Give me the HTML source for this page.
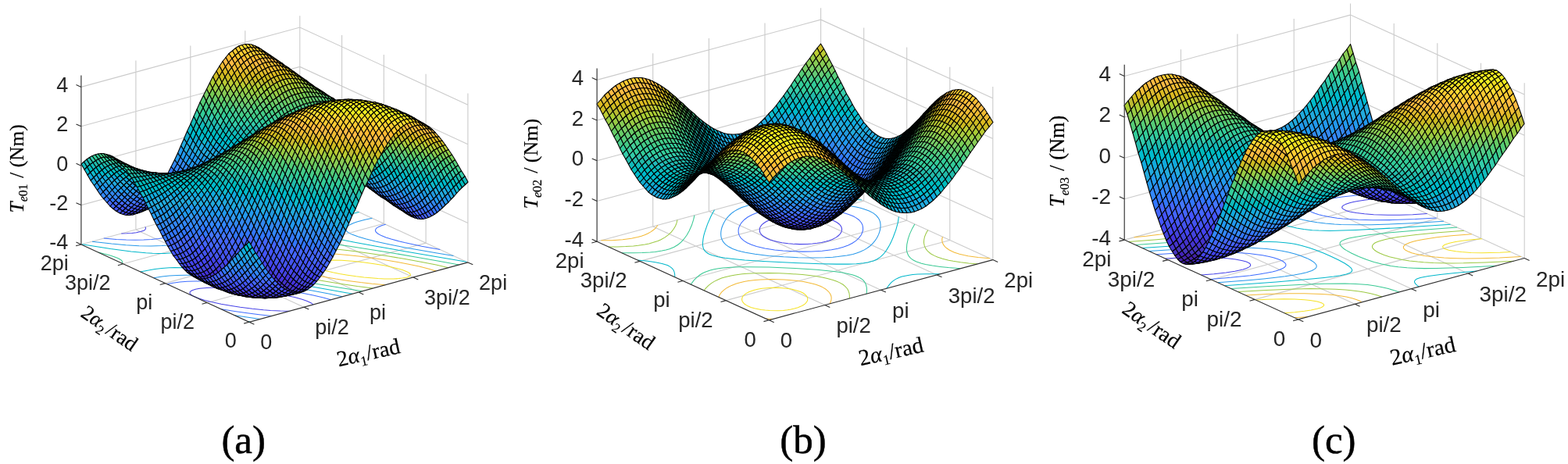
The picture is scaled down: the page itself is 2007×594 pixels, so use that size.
<!DOCTYPE html>
<html lang="en"><head><meta charset="utf-8"><title>Torque surfaces</title>
<style>html,body{margin:0;padding:0;background:#fff;overflow:hidden}svg{display:block}text{white-space:pre}</style>
</head><body>
<svg width="2007" height="594" viewBox="0 0 2007 594">
<rect width="2007" height="594" fill="#fff"/>
<g>
<path d="M389 393.2L173.9 293.9M265.2 387.5L545.1 311.1M458.9 374.1L243.8 274.8M211.4 362.6L491.3 286.2M528.9 355L313.8 255.7M157.7 337.8L437.6 261.4M598.9 335.9L383.8 236.6M103.9 313L383.8 236.6M598.9 335.9L598.9 119.5M173.9 293.9L173.9 77.5M545.1 311.1L545.1 94.7M243.8 274.8L243.8 58.4M491.3 286.2L491.3 69.9M313.8 255.7L313.8 39.3M437.6 261.4L437.6 45M383.8 236.6L383.8 20.2M103.9 262.6L383.8 186.2L598.9 285.5M103.9 212.2L383.8 135.8L598.9 235.1M103.9 161.8L383.8 85.4L598.9 184.7M103.9 111.4L383.8 35L598.9 134.3" fill="none" stroke="#cbcbcb" stroke-width="1.1"/>
<path d="M370.4 398.3l-11.6-0.2l-12.5-0.6l-9-0.7l-14.2-1.5l-15.6-2l-11.2-1.8l-13.2-2.3l-12.7-2.7l-8.2-2.1l-9-2.8l-5.7-2.5l-2.9-1.8l-1-1l-0.5-0.7l-0.1-0.5l0.2-1.4l1.1-1l1.6-1l4.4-1.4l5.3-1l9.2-0.9l6.8-0.2l11.2 0l12.3 0.5l8.7 0.6l13.6 1.3l10.4 1.2l15.6 2.2l11.9 2.1l13.4 2.6l8.4 1.9l9.7 2.7l6.4 2.2l5.2 2.5l2.5 1.9M185.8 290.6l0.7 1.2l0 1.1l-0.9 1.3l-1.6 1l-4.2 1.4l-5.2 1.1l-5.9 0.7l-6.5 0.4l-6.9 0.2" fill="none" stroke="#4743e7" stroke-width="1.05"/>
<path d="M347.9 404.4l-16.2-1.7l-15.3-1.9l-16.1-2.3l-16.9-2.7M563.3 319.4l-23.6-4.2l-21.8-4.6l-7.6-1.9l-9.7-2.6l-6.6-2.1l-5.9-2.4l-4.7-2.6l-2.2-2l-0.6-1.2l-0.2-0.9l0.5-1.5l1-1.2l1.4-1.1l1.8-0.9l4-1.6l4.6-1.3M213.8 363.7l7.7-1.5l8.7-1.2l9.5-0.7l10.3-0.4l11.1 0l12 0.4l12.9 0.8l13.6 1.1l14.5 1.6l20.6 2.7l16.5 2.4l17.4 2.9l18.6 3.4l13.7 2.9l12.9 3l9.7 2.7M208.4 284.5l8.7 2.9l5.7 2.4l3.1 1.8l1.2 0.9l1 1.1l0.7 1.1l0.2 1.3l-0.3 0.9l-0.9 1.3l-1.3 1.1l-3.6 1.8l-4.2 1.5l-7.4 1.7l-8.3 1.3l-9.1 1l-10 0.5l-10.8 0.1l-11.6-0.2l-12.5-0.6l-16.2-1.3" fill="none" stroke="#3f6eff" stroke-width="1.05"/>
<path d="M333.1 408.5l-32.5-4.7M580.5 327.4l-22.7-3.6l-21.5-3.7l-20.2-3.7l-19.5-3.9l-16.1-3.5l-12.6-3.2l-9.3-2.7l-8.2-3l-3.4-1.7l-1.5-1l-1.2-0.9l-1.4-1.8l-0.2-0.4l-0.1-1.4l0.5-1.5l1.5-1.6l2.5-1.7l1.7-0.9l3.8-1.7l4.3-1.5l9.2-2.5l10.3-2.2M196.5 355.7l11.2-1.6l9.1-1l9.8-0.6l10.5-0.3l11.4 0.1l8 0.3l12.9 0.8l13.7 1.2l14.6 1.6l20.5 2.6l38.4 5.8l23.3 3.9l22.3 4l19.8 3.8l16.3 3.4M223.2 280.4l17.9 4.4l11.6 3.4l4.1 1.5l3.7 1.6l3.1 1.8l2.4 2l0.6 1.1l0.3 1.2l-0.4 1.5l-1 1.3l-1.3 1.2l-3.2 1.9l-3.7 1.7l-8.7 2.8l-4.7 1.3l-7.6 1.6l-13.8 2.2l-9 1l-6.4 0.5l-13.8 0.5l-15.3-0.2l-16.8-1l-18.4-1.6l-24.8-2.9" fill="none" stroke="#2798ea" stroke-width="1.05"/>
<path d="M320.1 412l-2.7-0.4M597.3 335.2l-77.8-13.2l-38-6.7l-28.7-5.3l-19.6-3.9l-13.4-3l-12.3-3.2l-6.2-2.2l-3.2-1.8l-1.1-1l-0.4-1.2l0.3-1.4l1.1-1.2l3-2l2.7-1.3l9.2-3.5l13.2-4.2l16.3-4.4l17.2-4.1M179.7 348l10.4-2.1l8.2-1.3l8.7-1.1l9.6-0.7l7-0.2l11.7 0.2l17.9 1.4l25.4 3.2l44.3 6.7l64 10.7l64.4 11.4M236.2 276.9l34.1 6.5l21.5 4.7l7.4 1.9l6.7 2.1l3.7 1.6l1.5 0.9l1.1 1l0.6 1.2l-0.1 1.2l-1 1.3l-1.3 1.1l-3.6 2l-5.6 2.3l-6.3 2.3l-8.8 2.7l-11.5 3.3l-11.8 3.1l-9.9 2.3l-10.2 2.1l-8 1.5l-8.5 1.2l-6 0.6l-9.9 0.6l-7.2 0.1l-7.9-0.2l-8.5-0.5l-19-1.9l-26.2-3.5l-36.5-5.7" fill="none" stroke="#02b7cb" stroke-width="1.05"/>
<path d="M587.4 339l-25.7-4.8l-29.9-5.3l-35.2-6l-28.5-4.5l-22-3.4l-21.1-2.8l-19.8-2.3l-13.8-1.2l-12.6-0.7l-11.5-0.2l-10.4 0.4l-9.5 0.7l-11.7 1.5l-10.8 1.8l-10.2 2.2l-12 3l-11.3 3.3l-8.3 3l-5.5 2.6l-2.9 2l-1.2 1.3l-0.6 1.8l0.3 1.2l0.8 1.1l1.3 1l3.1 1.8l6 2.3l9.3 2.7l12.8 3.1l16.2 3.5l22.5 4.4l28.8 5.3l32 5.6l29.1 4.8l28.7 4.6M156.2 337.2l0.5-1.6l-0.5-1.3l-0.9-1.1l-1.3-1l-3.2-1.7l-3.9-1.6l-6.7-2.1l-14.4-3.7M405.7 246.7l-13.9-3.1l-19.5-3.9M248.7 273.5l37 5.2l24.4 2.7l13.3 1l8.2 0.3l11.3 0.2l10.4-0.4l12.5-1.1l11.3-1.6l13.2-2.5l14.7-3.5l11.4-3.3l10.4-3.8l5.5-2.6l2.7-2l1.1-1.3" fill="none" stroke="#3ac994" stroke-width="1.05"/>
<path d="M574.1 342.7l-15.9-3.6l-19.5-3.9l-20.3-3.7l-22.5-3.7l-22.2-3.4l-21-2.9l-19.8-2.3l-14-1.3l-13.1-0.9l-12.3-0.5l-11.4-0.2l-10.6 0.3l-9.8 0.6l-12.1 1.3l-10.8 1.8l-7.5 1.7l-6.7 2.1l-4 1.6l-2.4 1.2l-2.4 1.7l-1 1.2l-0.5 0.8l-0.2 1.4l0.3 1.2l0.8 1.1l1.9 1.8l1.9 1.1l5.4 2.5l6.3 2.3l9.3 2.7l15.2 3.7l16.2 3.5l19.7 3.9l21.6 3.8l22.9 3.7l21.9 3.3l19.7 2.5M262.1 269.8l15.6 1.8l18.4 1.6l16.8 0.9l15.3 0.2l13.9-0.4l12.5-1.1l5.9-0.7l8.2-1.4l10-2.2l4.5-1.3l4.1-1.6l3.7-1.7l1.5-1l1.8-1.5l0.9-1.6l0.1-1.3l-0.4-1.2l-0.8-1.1l-1.1-1l-2.9-1.9l-3.5-1.7l-3.9-1.5l-11.2-3.5l-12.5-3.2" fill="none" stroke="#9cc944" stroke-width="1.05"/>
<path d="M558.1 347l-9.1-2.8l-12.5-3.1l-13.4-2.9l-14.2-2.8l-17.7-3l-16.5-2.4l-15.5-2l-14.6-1.6l-13.7-1.2l-12.8-0.8l-12-0.4l-11.1 0l-10.2 0.4l-9.4 0.9l-8.3 1.2l-5 1.2l-4.4 1.4l-1.8 0.8l-1.7 1l-1.1 1l-0.8 1.5l0.1 1.3l0.6 1.2l2.2 2l1.9 1.2l2.9 1.4l6 2.3l9.1 2.8l9.9 2.6l13.3 3l14 2.7l17.6 3.1l15.8 2.4l15.8 2.2l14.8 1.7l16.8 1.5M278 265.5l10.2 0.6l12.2 0.5l11.3 0.1l7.1-0.2l9.8-0.5l6.1-0.7l8.3-1.3l4.9-1.1l4.3-1.5l1.8-0.9l1.5-1l1.2-1.2l0.5-1.3l-0.2-1.2l-0.7-1.2l-1-1l-2.8-1.9l-3.4-1.7l-6.1-2.3" fill="none" stroke="#f3ba38" stroke-width="1.05"/>
<path d="M515.3 356.1l6-1.2l2-0.8l1.6-1l0.5-1.1l-0.4-1.2l-0.9-1.1l-3-1.8l-6-2.3l-9.4-2.7l-12.8-2.8l-12.3-2.2l-15.7-2.2l-14.4-1.5l-13.1-0.9l-11.8-0.3l-10.5 0.3l-8.8 1.1l-4.7 1.2l-1.6 1l-0.9 1.3l0.3 1.1l0.8 1.1l1.4 0.9l3.4 1.7l6.2 2.3l7.2 2l7.8 1.8l8.4 1.7l10.4 1.7l10.8 1.6l10 1.2l18.1 1.5l8.2 0.4l11.3 0l6.7-0.3z" fill="none" stroke="#f5e228" stroke-width="1.05"/>
<g transform="scale(0.5)" stroke="#000" stroke-width="2.2" stroke-linejoin="round"><path d="M668 126l8 5l-7-4l-8-6z" fill="#fc3"/><path d="M660 123l8 3l-7-5l-9-4z" fill="#fc3"/><path d="M651 122l9 1l-8-6l-8-3z" fill="#fc3"/><path d="M643 121l8 1l-7-8l-8-1z" fill="#fd3"/><path d="M635 122l8-1l-7-8l-8 0z" fill="#fd3"/><path d="M627 125l8-3l-7-9l-9 2z" fill="#fd3"/><path d="M618 129l9-4l-8-10l-8 3z" fill="#fd3"/><path d="M610 135l8-6l-7-11l-8 5z" fill="#fc3"/><path d="M602 142l8-7l-7-12l-8 7z" fill="#fc3"/><path d="M594 150l8-8l-7-12l-9 7z" fill="#fc3"/><path d="M585 160l9-10l-8-13l-8 10z" fill="#fb3"/><path d="M577 171l8-11l-7-13l-8 10z" fill="#fb4"/><path d="M569 183l8-12l-7-14l-8 12z" fill="#eb3"/><path d="M561 196l8-13l-7-14l-8 13z" fill="#db2"/><path d="M552 211l9-15l-7-14l-9 14z" fill="#cb2"/><path d="M544 226l8-15l-7-15l-8 16z" fill="#ac3"/><path d="M536 242l8-16l-7-14l-8 16z" fill="#9c4"/><path d="M528 259l8-17l-7-14l-8 16z" fill="#7c6"/><path d="M520 276l8-17l-7-15l-9 18z" fill="#5c7"/><path d="M511 294l9-18l-8-14l-8 18z" fill="#4c8"/><path d="M503 312l8-18l-7-14l-8 18z" fill="#3ca"/><path d="M495 330l8-18l-7-14l-8 19z" fill="#1bb"/><path d="M487 348l8-18l-7-13l-9 19z" fill="#0bc"/><path d="M478 366l9-18l-8-12l-8 19z" fill="#1ac"/><path d="M470 384l8-18l-7-11l-8 18z" fill="#2ad"/><path d="M462 402l8-18l-7-11l-8 19z" fill="#29e"/><path d="M454 419l8-17l-7-10l-8 17z" fill="#29e"/><path d="M445 435l9-16l-7-10l-9 18z" fill="#38e"/><path d="M437 451l8-16l-7-8l-8 16z" fill="#37f"/><path d="M363 542l8-5l-7 0l-8 6z" fill="#44d"/><path d="M355 545l8-3l-7 1l-8 4z" fill="#44d"/><path d="M347 547l8-2l-7 2l-8 3z" fill="#44d"/><path d="M338 547l9 0l-7 3l-9 1z" fill="#44e"/><path d="M330 546l8 1l-7 4l-8 0z" fill="#44e"/><path d="M322 544l8 2l-7 5l-8-2z" fill="#44e"/><path d="M314 540l8 4l-7 5l-8-3z" fill="#45e"/><path d="M306 534l8 6l-7 6l-9-5z" fill="#45e"/><path d="M297 528l9 6l-8 7l-8-6z" fill="#45f"/><path d="M289 520l8 8l-7 7l-8-7z" fill="#46f"/><path d="M281 511l8 9l-7 8l-8-9z" fill="#46f"/><path d="M273 502l8 9l-7 8l-9-10z" fill="#37f"/><path d="M264 491l9 11l-8 7l-8-10z" fill="#38f"/><path d="M256 479l8 12l-7 8l-8-12z" fill="#38e"/><path d="M248 467l8 12l-7 8l-8-12z" fill="#29e"/><path d="M240 454l8 13l-7 8l-9-13z" fill="#2ad"/><path d="M231 441l9 13l-8 8l-8-14z" fill="#1ad"/><path d="M223 427l8 14l-7 7l-8-14z" fill="#0bc"/><path d="M215 414l8 13l-7 7l-8-14z" fill="#1bb"/><path d="M683 136l8 5l-7-4l-8-6z" fill="#fb3"/><path d="M675 133l8 3l-7-5l-8-5z" fill="#fc3"/><path d="M667 131l8 2l-7-7l-8-3z" fill="#fc3"/><path d="M658 130l9 1l-7-8l-9-1z" fill="#fc3"/><path d="M650 130l8 0l-7-8l-8-1z" fill="#fc3"/><path d="M642 132l8-2l-7-9l-8 1z" fill="#fc3"/><path d="M634 136l8-4l-7-10l-8 3z" fill="#fc3"/><path d="M626 141l8-5l-7-11l-9 4z" fill="#fc3"/><path d="M617 147l9-6l-8-12l-8 6z" fill="#fc3"/><path d="M609 154l8-7l-7-12l-8 7z" fill="#fc3"/><path d="M601 163l8-9l-7-12l-8 8z" fill="#fb3"/><path d="M593 173l8-10l-7-13l-9 10z" fill="#fb4"/><path d="M584 185l9-12l-8-13l-8 11z" fill="#eb3"/><path d="M576 197l8-12l-7-14l-8 12z" fill="#db2"/><path d="M568 211l8-14l-7-14l-8 13z" fill="#cb2"/><path d="M560 225l8-14l-7-15l-9 15z" fill="#bc3"/><path d="M551 240l9-15l-8-14l-8 15z" fill="#9c4"/><path d="M543 256l8-16l-7-14l-8 16z" fill="#7c5"/><path d="M535 273l8-17l-7-14l-8 17z" fill="#6c7"/><path d="M527 290l8-17l-7-14l-8 17z" fill="#4c8"/><path d="M519 307l8-17l-7-14l-9 18z" fill="#3c9"/><path d="M510 324l9-17l-8-13l-8 18z" fill="#2ba"/><path d="M502 342l8-18l-7-12l-8 18z" fill="#1bb"/><path d="M494 360l8-18l-7-12l-8 18z" fill="#0bc"/><path d="M486 377l8-17l-7-12l-9 18z" fill="#1ad"/><path d="M477 394l9-17l-8-11l-8 18z" fill="#2ad"/><path d="M469 411l8-17l-7-10l-8 18z" fill="#29e"/><path d="M461 427l8-16l-7-9l-8 17z" fill="#38e"/><path d="M453 442l8-15l-7-8l-9 16z" fill="#38f"/><path d="M444 457l9-15l-8-7l-8 16z" fill="#37f"/><path d="M379 535l8-5l-7 1l-9 6z" fill="#44e"/><path d="M370 539l9-4l-8 2l-8 5z" fill="#44e"/><path d="M362 542l8-3l-7 3l-8 3z" fill="#44e"/><path d="M354 543l8-1l-7 3l-8 2z" fill="#44e"/><path d="M346 542l8 1l-7 4l-9 0z" fill="#44e"/><path d="M337 541l9 1l-8 5l-8-1z" fill="#44e"/><path d="M329 538l8 3l-7 5l-8-2z" fill="#45e"/><path d="M321 533l8 5l-7 6l-8-4z" fill="#45f"/><path d="M313 527l8 6l-7 7l-8-6z" fill="#45f"/><path d="M304 521l9 6l-7 7l-9-6z" fill="#46f"/><path d="M296 513l8 8l-7 7l-8-8z" fill="#46f"/><path d="M288 504l8 9l-7 7l-8-9z" fill="#37f"/><path d="M280 494l8 10l-7 7l-8-9z" fill="#38f"/><path d="M272 483l8 11l-7 8l-9-11z" fill="#38e"/><path d="M263 472l9 11l-8 8l-8-12z" fill="#29e"/><path d="M255 460l8 12l-7 7l-8-12z" fill="#29d"/><path d="M247 447l8 13l-7 7l-8-13z" fill="#2ad"/><path d="M239 434l8 13l-7 7l-9-13z" fill="#1bc"/><path d="M230 421l9 13l-8 7l-8-14z" fill="#0bb"/><path d="M222 408l8 13l-7 6l-8-13z" fill="#2bb"/><path d="M699 147l8 5l-7-5l-9-6z" fill="#fb4"/><path d="M690 143l9 4l-8-6l-8-5z" fill="#fb3"/><path d="M682 140l8 3l-7-7l-8-3z" fill="#fc3"/><path d="M674 139l8 1l-7-7l-8-2z" fill="#fc3"/><path d="M666 139l8 0l-7-8l-9-1z" fill="#fc3"/><path d="M657 140l9-1l-8-9l-8 0z" fill="#fc3"/><path d="M649 143l8-3l-7-10l-8 2z" fill="#fc3"/><path d="M641 147l8-4l-7-11l-8 4z" fill="#fc3"/><path d="M633 153l8-6l-7-11l-8 5z" fill="#fc3"/><path d="M624 160l9-7l-7-12l-9 6z" fill="#fb3"/><path d="M616 168l8-8l-7-13l-8 7z" fill="#fb4"/><path d="M608 177l8-9l-7-14l-8 9z" fill="#eb3"/><path d="M600 187l8-10l-7-14l-8 10z" fill="#eb3"/><path d="M592 199l8-12l-7-14l-9 12z" fill="#db2"/><path d="M583 212l9-13l-8-14l-8 12z" fill="#cb2"/><path d="M575 225l8-13l-7-15l-8 14z" fill="#bc3"/><path d="M567 239l8-14l-7-14l-8 14z" fill="#9c4"/><path d="M559 254l8-15l-7-14l-9 15z" fill="#8c5"/><path d="M550 270l9-16l-8-14l-8 16z" fill="#6c6"/><path d="M542 286l8-16l-7-14l-8 17z" fill="#5c8"/><path d="M534 303l8-17l-7-13l-8 17z" fill="#3c9"/><path d="M526 320l8-17l-7-13l-8 17z" fill="#3ba"/><path d="M517 337l9-17l-7-13l-9 17z" fill="#1bb"/><path d="M509 354l8-17l-7-13l-8 18z" fill="#0bc"/><path d="M501 370l8-16l-7-12l-8 18z" fill="#1ac"/><path d="M493 387l8-17l-7-10l-8 17z" fill="#2ad"/><path d="M485 403l8-16l-7-10l-9 17z" fill="#29d"/><path d="M476 419l9-16l-8-9l-8 17z" fill="#29e"/><path d="M468 434l8-15l-7-8l-8 16z" fill="#38e"/><path d="M460 449l8-15l-7-7l-8 15z" fill="#38f"/><path d="M377 536l9-3l-7 2l-9 4z" fill="#44e"/><path d="M369 537l8-1l-7 3l-8 3z" fill="#44e"/><path d="M361 538l8-1l-7 5l-8 1z" fill="#45e"/><path d="M353 537l8 1l-7 5l-8-1z" fill="#45e"/><path d="M345 534l8 3l-7 5l-9-1z" fill="#45e"/><path d="M336 531l9 3l-8 7l-8-3z" fill="#45f"/><path d="M328 526l8 5l-7 7l-8-5z" fill="#46f"/><path d="M320 520l8 6l-7 7l-8-6z" fill="#46f"/><path d="M312 513l8 7l-7 7l-9-6z" fill="#46f"/><path d="M303 505l9 8l-8 8l-8-8z" fill="#37f"/><path d="M295 496l8 9l-7 8l-8-9z" fill="#38f"/><path d="M287 486l8 10l-7 8l-8-10z" fill="#38e"/><path d="M279 476l8 10l-7 8l-8-11z" fill="#29e"/><path d="M270 464l9 12l-7 7l-9-11z" fill="#29e"/><path d="M262 453l8 11l-7 8l-8-12z" fill="#2ad"/><path d="M254 441l8 12l-7 7l-8-13z" fill="#1ad"/><path d="M246 428l8 13l-7 6l-8-13z" fill="#0bc"/><path d="M238 416l8 12l-7 6l-9-13z" fill="#1bb"/><path d="M229 403l9 13l-8 5l-8-13z" fill="#2ba"/><path d="M714 157l8 5l-7-4l-8-6z" fill="#eb3"/><path d="M706 153l8 4l-7-5l-8-5z" fill="#fb4"/><path d="M697 150l9 3l-7-6l-9-4z" fill="#fb4"/><path d="M689 149l8 1l-7-7l-8-3z" fill="#fb3"/><path d="M681 148l8 1l-7-9l-8-1z" fill="#fb3"/><path d="M673 149l8-1l-7-9l-8 0z" fill="#fc3"/><path d="M665 151l8-2l-7-10l-9 1z" fill="#fc3"/><path d="M656 155l9-4l-8-11l-8 3z" fill="#fb3"/><path d="M648 160l8-5l-7-12l-8 4z" fill="#fb3"/><path d="M640 166l8-6l-7-13l-8 6z" fill="#fb4"/><path d="M632 173l8-7l-7-13l-9 7z" fill="#fb4"/><path d="M623 181l9-8l-8-13l-8 8z" fill="#eb3"/><path d="M615 191l8-10l-7-13l-8 9z" fill="#eb3"/><path d="M607 202l8-11l-7-14l-8 10z" fill="#db2"/><path d="M599 213l8-11l-7-15l-8 12z" fill="#cb2"/><path d="M590 226l9-13l-7-14l-9 13z" fill="#bc3"/><path d="M582 239l8-13l-7-14l-8 13z" fill="#ac4"/><path d="M574 254l8-15l-7-14l-8 14z" fill="#8c5"/><path d="M566 268l8-14l-7-15l-8 15z" fill="#6c6"/><path d="M558 284l8-16l-7-14l-9 16z" fill="#5c7"/><path d="M549 299l9-15l-8-14l-8 16z" fill="#4c8"/><path d="M541 315l8-16l-7-13l-8 17z" fill="#3ca"/><path d="M533 332l8-17l-7-12l-8 17z" fill="#2ba"/><path d="M525 348l8-16l-7-12l-9 17z" fill="#0bb"/><path d="M516 364l9-16l-8-11l-8 17z" fill="#0bc"/><path d="M508 380l8-16l-7-10l-8 16z" fill="#1ad"/><path d="M500 396l8-16l-7-10l-8 17z" fill="#2ad"/><path d="M492 411l8-15l-7-9l-8 16z" fill="#29e"/><path d="M483 426l9-15l-7-8l-9 16z" fill="#29e"/><path d="M475 440l8-14l-7-7l-8 15z" fill="#38e"/><path d="M467 454l8-14l-7-6l-8 15z" fill="#38f"/><path d="M385 531l8-2l-7 4l-9 3z" fill="#45e"/><path d="M376 532l9-1l-8 5l-8 1z" fill="#45e"/><path d="M368 532l8 0l-7 5l-8 1z" fill="#45e"/><path d="M360 530l8 2l-7 6l-8-1z" fill="#45f"/><path d="M352 528l8 2l-7 7l-8-3z" fill="#45f"/><path d="M344 524l8 4l-7 6l-9-3z" fill="#46f"/><path d="M335 519l9 5l-8 7l-8-5z" fill="#46f"/><path d="M327 512l8 7l-7 7l-8-6z" fill="#47f"/><path d="M319 505l8 7l-7 8l-8-7z" fill="#37f"/><path d="M311 497l8 8l-7 8l-9-8z" fill="#38f"/><path d="M302 488l9 9l-8 8l-8-9z" fill="#38e"/><path d="M294 479l8 9l-7 8l-8-10z" fill="#29e"/><path d="M286 468l8 11l-7 7l-8-10z" fill="#29e"/><path d="M278 457l8 11l-7 8l-9-12z" fill="#2ad"/><path d="M269 446l9 11l-8 7l-8-11z" fill="#1ad"/><path d="M261 435l8 11l-7 7l-8-12z" fill="#0bc"/><path d="M253 423l8 12l-7 6l-8-13z" fill="#0bb"/><path d="M245 411l8 12l-7 5l-8-12z" fill="#2ba"/><path d="M236 399l9 12l-7 5l-9-13z" fill="#3ca"/><path d="M729 168l9 5l-8-4l-8-7z" fill="#db3"/><path d="M721 164l8 4l-7-6l-8-5z" fill="#eb3"/><path d="M713 161l8 3l-7-7l-8-4z" fill="#eb3"/><path d="M705 159l8 2l-7-8l-9-3z" fill="#fb4"/><path d="M696 158l9 1l-8-9l-8-1z" fill="#fb4"/><path d="M688 159l8-1l-7-9l-8-1z" fill="#fb4"/><path d="M680 160l8-1l-7-11l-8 1z" fill="#fb4"/><path d="M672 163l8-3l-7-11l-8 2z" fill="#fb4"/><path d="M664 167l8-4l-7-12l-9 4z" fill="#fb4"/><path d="M655 173l9-6l-8-12l-8 5z" fill="#fb4"/><path d="M647 179l8-6l-7-13l-8 6z" fill="#eb3"/><path d="M639 187l8-8l-7-13l-8 7z" fill="#eb3"/><path d="M631 195l8-8l-7-14l-9 8z" fill="#db3"/><path d="M622 205l9-10l-8-14l-8 10z" fill="#db2"/><path d="M614 216l8-11l-7-14l-8 11z" fill="#cb2"/><path d="M606 228l8-12l-7-14l-8 11z" fill="#bc3"/><path d="M598 240l8-12l-7-15l-9 13z" fill="#ac4"/><path d="M589 254l9-14l-8-14l-8 13z" fill="#8c5"/><path d="M581 267l8-13l-7-15l-8 15z" fill="#7c6"/><path d="M573 282l8-15l-7-13l-8 14z" fill="#5c7"/><path d="M565 297l8-15l-7-14l-8 16z" fill="#4c8"/><path d="M556 312l9-15l-7-13l-9 15z" fill="#3c9"/><path d="M548 327l8-15l-7-13l-8 16z" fill="#2ba"/><path d="M540 343l8-16l-7-12l-8 17z" fill="#1bb"/><path d="M532 358l8-15l-7-11l-8 16z" fill="#0bc"/><path d="M524 374l8-16l-7-10l-9 16z" fill="#1bc"/><path d="M515 389l9-15l-8-10l-8 16z" fill="#2ad"/><path d="M507 404l8-15l-7-9l-8 16z" fill="#2ad"/><path d="M499 418l8-14l-7-8l-8 15z" fill="#29e"/><path d="M491 432l8-14l-7-7l-9 15z" fill="#29e"/><path d="M482 445l9-13l-8-6l-8 14z" fill="#38e"/><path d="M384 527l8-1l-7 5l-9 1z" fill="#45f"/><path d="M375 526l9 1l-8 5l-8 0z" fill="#45f"/><path d="M367 524l8 2l-7 6l-8-2z" fill="#46f"/><path d="M359 521l8 3l-7 6l-8-2z" fill="#46f"/><path d="M351 516l8 5l-7 7l-8-4z" fill="#46f"/><path d="M342 511l9 5l-7 8l-9-5z" fill="#47f"/><path d="M334 505l8 6l-7 8l-8-7z" fill="#37f"/><path d="M326 498l8 7l-7 7l-8-7z" fill="#38f"/><path d="M318 490l8 8l-7 7l-8-8z" fill="#38e"/><path d="M310 481l8 9l-7 7l-9-9z" fill="#29e"/><path d="M301 471l9 10l-8 7l-8-9z" fill="#29e"/><path d="M293 461l8 10l-7 8l-8-11z" fill="#2ad"/><path d="M285 451l8 10l-7 7l-8-11z" fill="#2ad"/><path d="M277 440l8 11l-7 6l-9-11z" fill="#1bc"/><path d="M268 429l9 11l-8 6l-8-11z" fill="#0bc"/><path d="M260 418l8 11l-7 6l-8-12z" fill="#1bb"/><path d="M252 407l8 11l-7 5l-8-12z" fill="#2ba"/><path d="M244 396l8 11l-7 4l-9-12z" fill="#3c9"/><path d="M745 179l8 5l-7-4l-8-7z" fill="#cb2"/><path d="M737 175l8 4l-7-6l-9-5z" fill="#db2"/><path d="M728 172l9 3l-8-7l-8-4z" fill="#eb3"/><path d="M720 169l8 3l-7-8l-8-3z" fill="#eb3"/><path d="M712 168l8 1l-7-8l-8-2z" fill="#eb3"/><path d="M704 168l8 0l-7-9l-9-1z" fill="#eb3"/><path d="M695 170l9-2l-8-10l-8 1z" fill="#eb3"/><path d="M687 172l8-2l-7-11l-8 1z" fill="#eb3"/><path d="M679 176l8-4l-7-12l-8 3z" fill="#eb3"/><path d="M671 180l8-4l-7-13l-8 4z" fill="#eb3"/><path d="M662 186l9-6l-7-13l-9 6z" fill="#eb3"/><path d="M654 193l8-7l-7-13l-8 6z" fill="#db3"/><path d="M646 201l8-8l-7-14l-8 8z" fill="#db2"/><path d="M638 210l8-9l-7-14l-8 8z" fill="#cb2"/><path d="M630 220l8-10l-7-15l-9 10z" fill="#cb3"/><path d="M621 230l9-10l-8-15l-8 11z" fill="#bc3"/><path d="M613 242l8-12l-7-14l-8 12z" fill="#9c4"/><path d="M605 254l8-12l-7-14l-8 12z" fill="#8c5"/><path d="M597 267l8-13l-7-14l-9 14z" fill="#7c6"/><path d="M588 281l9-14l-8-13l-8 13z" fill="#5c7"/><path d="M580 295l8-14l-7-14l-8 15z" fill="#4c8"/><path d="M572 309l8-14l-7-13l-8 15z" fill="#3c9"/><path d="M564 324l8-15l-7-12l-9 15z" fill="#3ca"/><path d="M555 338l9-14l-8-12l-8 15z" fill="#2bb"/><path d="M547 353l8-15l-7-11l-8 16z" fill="#0bb"/><path d="M539 368l8-15l-7-10l-8 15z" fill="#0bc"/><path d="M531 383l8-15l-7-10l-8 16z" fill="#1ad"/><path d="M522 397l9-14l-7-9l-9 15z" fill="#2ad"/><path d="M514 411l8-14l-7-8l-8 15z" fill="#29d"/><path d="M506 424l8-13l-7-7l-8 14z" fill="#29e"/><path d="M498 437l8-13l-7-6l-8 14z" fill="#39e"/><path d="M374 517l9 2l-8 7l-8-2z" fill="#46f"/><path d="M366 513l8 4l-7 7l-8-3z" fill="#47f"/><path d="M358 509l8 4l-7 8l-8-5z" fill="#37f"/><path d="M350 503l8 6l-7 7l-9-5z" fill="#37f"/><path d="M341 497l9 6l-8 8l-8-6z" fill="#38f"/><path d="M333 490l8 7l-7 8l-8-7z" fill="#38e"/><path d="M325 482l8 8l-7 8l-8-8z" fill="#29e"/><path d="M317 474l8 8l-7 8l-8-9z" fill="#29e"/><path d="M308 465l9 9l-7 7l-9-10z" fill="#2ad"/><path d="M300 455l8 10l-7 6l-8-10z" fill="#2ad"/><path d="M292 445l8 10l-7 6l-8-10z" fill="#1ad"/><path d="M284 435l8 10l-7 6l-8-11z" fill="#0bc"/><path d="M276 425l8 10l-7 5l-9-11z" fill="#1bb"/><path d="M267 415l9 10l-8 4l-8-11z" fill="#2ba"/><path d="M259 404l8 11l-7 3l-8-11z" fill="#3ca"/><path d="M251 394l8 10l-7 3l-8-11z" fill="#3c9"/><path d="M760 190l8 5l-7-5l-8-6z" fill="#bb3"/><path d="M752 186l8 4l-7-6l-8-5z" fill="#cb2"/><path d="M744 183l8 3l-7-7l-8-4z" fill="#db2"/><path d="M735 180l9 3l-7-8l-9-3z" fill="#db2"/><path d="M727 179l8 1l-7-8l-8-3z" fill="#db3"/><path d="M719 179l8 0l-7-10l-8-1z" fill="#eb3"/><path d="M711 180l8-1l-7-11l-8 0z" fill="#eb3"/><path d="M703 182l8-2l-7-12l-9 2z" fill="#eb3"/><path d="M694 185l9-3l-8-12l-8 2z" fill="#eb3"/><path d="M686 189l8-4l-7-13l-8 4z" fill="#eb3"/><path d="M678 194l8-5l-7-13l-8 4z" fill="#db3"/><path d="M670 200l8-6l-7-14l-9 6z" fill="#db2"/><path d="M661 207l9-7l-8-14l-8 7z" fill="#cb2"/><path d="M653 215l8-8l-7-14l-8 8z" fill="#cb2"/><path d="M645 224l8-9l-7-14l-8 9z" fill="#bb3"/><path d="M637 234l8-10l-7-14l-8 10z" fill="#ac3"/><path d="M628 245l9-11l-7-14l-9 10z" fill="#9c4"/><path d="M620 256l8-11l-7-15l-8 12z" fill="#8c5"/><path d="M612 268l8-12l-7-14l-8 12z" fill="#7c6"/><path d="M604 281l8-13l-7-14l-8 13z" fill="#6c7"/><path d="M596 294l8-13l-7-14l-9 14z" fill="#4c8"/><path d="M587 307l9-13l-8-13l-8 14z" fill="#3c9"/><path d="M579 321l8-14l-7-12l-8 14z" fill="#3ca"/><path d="M571 335l8-14l-7-12l-8 15z" fill="#2ba"/><path d="M563 349l8-14l-7-11l-9 14z" fill="#1bb"/><path d="M554 363l9-14l-8-11l-8 15z" fill="#0bc"/><path d="M546 377l8-14l-7-10l-8 15z" fill="#1bc"/><path d="M538 390l8-13l-7-9l-8 15z" fill="#1ad"/><path d="M530 403l8-13l-7-7l-9 14z" fill="#2ad"/><path d="M521 416l9-13l-8-6l-8 14z" fill="#29d"/><path d="M513 429l8-13l-7-5l-8 13z" fill="#29e"/><path d="M505 441l8-12l-7-5l-8 13z" fill="#39e"/><path d="M373 505l8 4l-7 8l-8-4z" fill="#37f"/><path d="M365 501l8 4l-7 8l-8-4z" fill="#37f"/><path d="M357 495l8 6l-7 8l-8-6z" fill="#38f"/><path d="M349 489l8 6l-7 8l-9-6z" fill="#38e"/><path d="M340 482l9 7l-8 8l-8-7z" fill="#29e"/><path d="M332 475l8 7l-7 8l-8-8z" fill="#29e"/><path d="M324 467l8 8l-7 7l-8-8z" fill="#2ad"/><path d="M316 458l8 9l-7 7l-9-9z" fill="#2ad"/><path d="M307 449l9 9l-8 7l-8-10z" fill="#1ad"/><path d="M299 440l8 9l-7 6l-8-10z" fill="#0bc"/><path d="M291 431l8 9l-7 5l-8-10z" fill="#0bb"/><path d="M283 421l8 10l-7 4l-8-10z" fill="#1bb"/><path d="M274 412l9 9l-7 4l-9-10z" fill="#2ba"/><path d="M266 402l8 10l-7 3l-8-11z" fill="#3c9"/><path d="M258 393l8 9l-7 2l-8-10z" fill="#4c8"/><path d="M776 202l8 4l-7-5l-9-6z" fill="#ac3"/><path d="M767 197l9 5l-8-7l-8-5z" fill="#bc3"/><path d="M759 194l8 3l-7-7l-8-4z" fill="#cb2"/><path d="M751 192l8 2l-7-8l-8-3z" fill="#cb2"/><path d="M743 190l8 2l-7-9l-9-3z" fill="#cb2"/><path d="M734 190l9 0l-8-10l-8-1z" fill="#db2"/><path d="M726 190l8 0l-7-11l-8 0z" fill="#db2"/><path d="M718 192l8-2l-7-11l-8 1z" fill="#db2"/><path d="M710 194l8-2l-7-12l-8 2z" fill="#db2"/><path d="M701 198l9-4l-7-12l-9 3z" fill="#db2"/><path d="M693 202l8-4l-7-13l-8 4z" fill="#db2"/><path d="M685 208l8-6l-7-13l-8 5z" fill="#cb2"/><path d="M677 214l8-6l-7-14l-8 6z" fill="#cb2"/><path d="M669 221l8-7l-7-14l-9 7z" fill="#bb3"/><path d="M660 230l9-9l-8-14l-8 8z" fill="#bc3"/><path d="M652 239l8-9l-7-15l-8 9z" fill="#ac3"/><path d="M644 248l8-9l-7-15l-8 10z" fill="#9c4"/><path d="M636 259l8-11l-7-14l-9 11z" fill="#8c5"/><path d="M627 270l9-11l-8-14l-8 11z" fill="#7c6"/><path d="M619 281l8-11l-7-14l-8 12z" fill="#6c7"/><path d="M611 294l8-13l-7-13l-8 13z" fill="#5c8"/><path d="M603 306l8-12l-7-13l-8 13z" fill="#4c9"/><path d="M594 319l9-13l-7-12l-9 13z" fill="#3c9"/><path d="M586 332l8-13l-7-12l-8 14z" fill="#2ba"/><path d="M578 345l8-13l-7-11l-8 14z" fill="#1bb"/><path d="M570 358l8-13l-7-10l-8 14z" fill="#0bb"/><path d="M562 371l8-13l-7-9l-9 14z" fill="#0bc"/><path d="M553 384l9-13l-8-8l-8 14z" fill="#1ad"/><path d="M545 397l8-13l-7-7l-8 13z" fill="#2ad"/><path d="M537 409l8-12l-7-7l-8 13z" fill="#2ad"/><path d="M529 421l8-12l-7-6l-9 13z" fill="#29e"/><path d="M520 432l9-11l-8-5l-8 13z" fill="#29e"/><path d="M364 488l8 5l-7 8l-8-6z" fill="#38e"/><path d="M356 482l8 6l-7 7l-8-6z" fill="#29e"/><path d="M347 475l9 7l-7 7l-9-7z" fill="#29e"/><path d="M339 468l8 7l-7 7l-8-7z" fill="#29d"/><path d="M331 461l8 7l-7 7l-8-8z" fill="#2ad"/><path d="M323 453l8 8l-7 6l-8-9z" fill="#1ad"/><path d="M315 444l8 9l-7 5l-9-9z" fill="#1bc"/><path d="M306 436l9 8l-8 5l-8-9z" fill="#0bc"/><path d="M298 427l8 9l-7 4l-8-9z" fill="#1bb"/><path d="M290 419l8 8l-7 4l-8-10z" fill="#2ba"/><path d="M282 410l8 9l-7 2l-9-9z" fill="#3ca"/><path d="M273 402l9 8l-8 2l-8-10z" fill="#3c9"/><path d="M265 393l8 9l-7 0l-8-9z" fill="#4c8"/><path d="M791 213l8 4l-7-5l-8-6z" fill="#9c4"/><path d="M783 209l8 4l-7-7l-8-4z" fill="#ac4"/><path d="M775 206l8 3l-7-7l-9-5z" fill="#ac3"/><path d="M766 203l9 3l-8-9l-8-3z" fill="#bc3"/><path d="M758 202l8 1l-7-9l-8-2z" fill="#bb3"/><path d="M750 201l8 1l-7-10l-8-2z" fill="#cb2"/><path d="M742 201l8 0l-7-11l-9 0z" fill="#cb2"/><path d="M733 202l9-1l-8-11l-8 0z" fill="#cb2"/><path d="M725 204l8-2l-7-12l-8 2z" fill="#cb2"/><path d="M717 207l8-3l-7-12l-8 2z" fill="#cb2"/><path d="M709 211l8-4l-7-13l-9 4z" fill="#cb2"/><path d="M700 216l9-5l-8-13l-8 4z" fill="#cb3"/><path d="M692 222l8-6l-7-14l-8 6z" fill="#bb3"/><path d="M684 228l8-6l-7-14l-8 6z" fill="#bc3"/><path d="M676 236l8-8l-7-14l-8 7z" fill="#ac3"/><path d="M667 244l9-8l-7-15l-9 9z" fill="#9c4"/><path d="M659 253l8-9l-7-14l-8 9z" fill="#9c4"/><path d="M651 262l8-9l-7-14l-8 9z" fill="#8c5"/><path d="M643 272l8-10l-7-14l-8 11z" fill="#7c6"/><path d="M635 283l8-11l-7-13l-9 11z" fill="#6c7"/><path d="M626 294l9-11l-8-13l-8 11z" fill="#5c8"/><path d="M618 306l8-12l-7-13l-8 13z" fill="#4c8"/><path d="M610 318l8-12l-7-12l-8 12z" fill="#3c9"/><path d="M602 330l8-12l-7-12l-9 13z" fill="#3ca"/><path d="M593 342l9-12l-8-11l-8 13z" fill="#2ba"/><path d="M585 354l8-12l-7-10l-8 13z" fill="#1bb"/><path d="M577 366l8-12l-7-9l-8 13z" fill="#0bc"/><path d="M569 379l8-13l-7-8l-8 13z" fill="#0bc"/><path d="M560 391l9-12l-7-8l-9 13z" fill="#1ad"/><path d="M552 402l8-11l-7-7l-8 13z" fill="#2ad"/><path d="M544 413l8-11l-7-5l-8 12z" fill="#2ad"/><path d="M536 424l8-11l-7-4l-8 12z" fill="#29e"/><path d="M355 469l8 6l-7 7l-9-7z" fill="#2ad"/><path d="M346 462l9 7l-8 6l-8-7z" fill="#2ad"/><path d="M338 455l8 7l-7 6l-8-7z" fill="#1ad"/><path d="M330 448l8 7l-7 6l-8-8z" fill="#1bc"/><path d="M322 440l8 8l-7 5l-8-9z" fill="#0bc"/><path d="M313 432l9 8l-7 4l-9-8z" fill="#0bb"/><path d="M305 425l8 7l-7 4l-8-9z" fill="#1bb"/><path d="M297 417l8 8l-7 2l-8-8z" fill="#2ba"/><path d="M289 409l8 8l-7 2l-8-9z" fill="#3c9"/><path d="M281 402l8 7l-7 1l-9-8z" fill="#3c9"/><path d="M272 395l9 7l-8 0l-8-9z" fill="#4c8"/><path d="M823 233l8 5l-7-3l-8-6z" fill="#6c6"/><path d="M815 228l8 5l-7-4l-9-6z" fill="#7c6"/><path d="M806 224l9 4l-8-5l-8-6z" fill="#8c5"/><path d="M798 220l8 4l-7-7l-8-4z" fill="#9c4"/><path d="M790 217l8 3l-7-7l-8-4z" fill="#9c4"/><path d="M782 215l8 2l-7-8l-8-3z" fill="#ac4"/><path d="M773 213l9 2l-7-9l-9-3z" fill="#ac3"/><path d="M765 212l8 1l-7-10l-8-1z" fill="#bc3"/><path d="M757 212l8 0l-7-10l-8-1z" fill="#bc3"/><path d="M749 213l8-1l-7-11l-8 0z" fill="#bc3"/><path d="M741 215l8-2l-7-12l-9 1z" fill="#bc3"/><path d="M732 218l9-3l-8-13l-8 2z" fill="#bc3"/><path d="M724 221l8-3l-7-14l-8 3z" fill="#bc3"/><path d="M716 225l8-4l-7-14l-8 4z" fill="#bc3"/><path d="M708 230l8-5l-7-14l-9 5z" fill="#ac3"/><path d="M699 236l9-6l-8-14l-8 6z" fill="#ac3"/><path d="M691 243l8-7l-7-14l-8 6z" fill="#9c4"/><path d="M683 250l8-7l-7-15l-8 8z" fill="#9c4"/><path d="M675 258l8-8l-7-14l-9 8z" fill="#8c5"/><path d="M666 267l9-9l-8-14l-8 9z" fill="#7c6"/><path d="M658 276l8-9l-7-14l-8 9z" fill="#6c6"/><path d="M650 286l8-10l-7-14l-8 10z" fill="#5c7"/><path d="M642 296l8-10l-7-14l-8 11z" fill="#5c8"/><path d="M633 306l9-10l-7-13l-9 11z" fill="#4c8"/><path d="M625 317l8-11l-7-12l-8 12z" fill="#3c9"/><path d="M617 328l8-11l-7-11l-8 12z" fill="#3ca"/><path d="M609 340l8-12l-7-10l-8 12z" fill="#2ba"/><path d="M601 351l8-11l-7-10l-9 12z" fill="#1bb"/><path d="M592 362l9-11l-8-9l-8 12z" fill="#0bb"/><path d="M584 374l8-12l-7-8l-8 12z" fill="#0bc"/><path d="M576 385l8-11l-7-8l-8 13z" fill="#1bc"/><path d="M568 396l8-11l-7-6l-9 12z" fill="#1ad"/><path d="M559 406l9-10l-8-5l-8 11z" fill="#2ad"/><path d="M337 444l8 6l-7 5l-8-7z" fill="#0bc"/><path d="M329 437l8 7l-7 4l-8-8z" fill="#0bc"/><path d="M321 430l8 7l-7 3l-9-8z" fill="#1bb"/><path d="M312 423l9 7l-8 2l-8-7z" fill="#2ba"/><path d="M304 416l8 7l-7 2l-8-8z" fill="#3ca"/><path d="M296 409l8 7l-7 1l-8-8z" fill="#3c9"/><path d="M288 403l8 6l-7 0l-8-7z" fill="#4c9"/><path d="M280 397l8 6l-7-1l-9-7z" fill="#4c8"/><path d="M830 238l8 5l-7-5l-8-5z" fill="#6c7"/><path d="M822 235l8 3l-7-5l-8-5z" fill="#7c6"/><path d="M814 231l8 4l-7-7l-9-4z" fill="#7c5"/><path d="M805 228l9 3l-8-7l-8-4z" fill="#8c5"/><path d="M797 226l8 2l-7-8l-8-3z" fill="#8c5"/><path d="M789 225l8 1l-7-9l-8-2z" fill="#9c4"/><path d="M781 224l8 1l-7-10l-9-2z" fill="#9c4"/><path d="M772 224l9 0l-8-11l-8-1z" fill="#ac4"/><path d="M764 225l8-1l-7-12l-8 0z" fill="#ac4"/><path d="M756 226l8-1l-7-13l-8 1z" fill="#ac3"/><path d="M748 228l8-2l-7-13l-8 2z" fill="#ac3"/><path d="M739 231l9-3l-7-13l-9 3z" fill="#ac4"/><path d="M731 235l8-4l-7-13l-8 3z" fill="#ac4"/><path d="M723 239l8-4l-7-14l-8 4z" fill="#9c4"/><path d="M715 245l8-6l-7-14l-8 5z" fill="#9c4"/><path d="M707 251l8-6l-7-15l-9 6z" fill="#9c4"/><path d="M698 257l9-6l-8-15l-8 7z" fill="#8c5"/><path d="M690 264l8-7l-7-14l-8 7z" fill="#7c5"/><path d="M682 272l8-8l-7-14l-8 8z" fill="#7c6"/><path d="M674 280l8-8l-7-14l-9 9z" fill="#6c7"/><path d="M665 289l9-9l-8-13l-8 9z" fill="#5c7"/><path d="M657 298l8-9l-7-13l-8 10z" fill="#4c8"/><path d="M649 308l8-10l-7-12l-8 10z" fill="#4c8"/><path d="M641 318l8-10l-7-12l-9 10z" fill="#3c9"/><path d="M632 328l9-10l-8-12l-8 11z" fill="#3ca"/><path d="M624 338l8-10l-7-11l-8 11z" fill="#2ba"/><path d="M616 349l8-11l-7-10l-8 12z" fill="#2bb"/><path d="M608 359l8-10l-7-9l-8 11z" fill="#1bb"/><path d="M599 370l9-11l-7-8l-9 11z" fill="#0bc"/><path d="M591 380l8-10l-7-8l-8 12z" fill="#0bc"/><path d="M583 390l8-10l-7-6l-8 11z" fill="#1ac"/><path d="M575 400l8-10l-7-5l-8 11z" fill="#1ad"/><path d="M320 422l8 6l-7 2l-9-7z" fill="#2ba"/><path d="M311 417l9 5l-8 1l-8-7z" fill="#3ca"/><path d="M303 411l8 6l-7-1l-8-7z" fill="#3c9"/><path d="M295 405l8 6l-7-2l-8-6z" fill="#4c8"/><path d="M287 400l8 5l-7-2l-8-6z" fill="#4c8"/><path d="M845 248l9 4l-8-4l-8-5z" fill="#5c7"/><path d="M837 245l8 3l-7-5l-8-5z" fill="#5c7"/><path d="M829 242l8 3l-7-7l-8-3z" fill="#6c6"/><path d="M821 240l8 2l-7-7l-8-4z" fill="#7c6"/><path d="M812 238l9 2l-7-9l-9-3z" fill="#7c6"/><path d="M804 237l8 1l-7-10l-8-2z" fill="#8c5"/><path d="M796 236l8 1l-7-11l-8-1z" fill="#8c5"/><path d="M788 236l8 0l-7-11l-8-1z" fill="#8c5"/><path d="M780 236l8 0l-7-12l-9 0z" fill="#8c5"/><path d="M771 238l9-2l-8-12l-8 1z" fill="#9c4"/><path d="M763 240l8-2l-7-13l-8 1z" fill="#9c4"/><path d="M755 242l8-2l-7-14l-8 2z" fill="#9c4"/><path d="M747 245l8-3l-7-14l-9 3z" fill="#8c5"/><path d="M738 249l9-4l-8-14l-8 4z" fill="#8c5"/><path d="M730 254l8-5l-7-14l-8 4z" fill="#8c5"/><path d="M722 259l8-5l-7-15l-8 6z" fill="#8c5"/><path d="M714 265l8-6l-7-14l-8 6z" fill="#7c6"/><path d="M705 271l9-6l-7-14l-9 6z" fill="#7c6"/><path d="M697 278l8-7l-7-14l-8 7z" fill="#6c6"/><path d="M689 286l8-8l-7-14l-8 8z" fill="#5c7"/><path d="M681 293l8-7l-7-14l-8 8z" fill="#5c7"/><path d="M673 302l8-9l-7-13l-9 9z" fill="#4c8"/><path d="M664 310l9-8l-8-13l-8 9z" fill="#4c8"/><path d="M656 319l8-9l-7-12l-8 10z" fill="#3c9"/><path d="M648 328l8-9l-7-11l-8 10z" fill="#3ca"/><path d="M640 338l8-10l-7-10l-9 10z" fill="#2ba"/><path d="M631 347l9-9l-8-10l-8 10z" fill="#2ba"/><path d="M623 357l8-10l-7-9l-8 11z" fill="#1bb"/><path d="M615 366l8-9l-7-8l-8 10z" fill="#0bb"/><path d="M607 376l8-10l-7-7l-9 11z" fill="#0bc"/><path d="M598 385l9-9l-8-6l-8 10z" fill="#0bc"/><path d="M302 409l8 4l-7-2l-8-6z" fill="#4c8"/><path d="M294 405l8 4l-7-4l-8-5z" fill="#4c8"/><path d="M853 255l8 3l-7-6l-9-4z" fill="#4c8"/><path d="M844 253l9 2l-8-7l-8-3z" fill="#5c7"/><path d="M836 251l8 2l-7-8l-8-3z" fill="#5c7"/><path d="M828 249l8 2l-7-9l-8-2z" fill="#6c7"/><path d="M820 248l8 1l-7-9l-9-2z" fill="#6c6"/><path d="M811 248l9 0l-8-10l-8-1z" fill="#7c6"/><path d="M803 248l8 0l-7-11l-8-1z" fill="#7c6"/><path d="M795 248l8 0l-7-12l-8 0z" fill="#7c6"/><path d="M787 249l8-1l-7-12l-8 0z" fill="#7c5"/><path d="M778 251l9-2l-7-13l-9 2z" fill="#7c5"/><path d="M770 253l8-2l-7-13l-8 2z" fill="#7c5"/><path d="M762 256l8-3l-7-13l-8 2z" fill="#7c5"/><path d="M754 260l8-4l-7-14l-8 3z" fill="#7c6"/><path d="M746 264l8-4l-7-15l-9 4z" fill="#7c6"/><path d="M737 268l9-4l-8-15l-8 5z" fill="#7c6"/><path d="M729 273l8-5l-7-14l-8 5z" fill="#6c6"/><path d="M721 279l8-6l-7-14l-8 6z" fill="#6c7"/><path d="M713 285l8-6l-7-14l-9 6z" fill="#5c7"/><path d="M704 292l9-7l-8-14l-8 7z" fill="#5c7"/><path d="M696 299l8-7l-7-14l-8 8z" fill="#4c8"/><path d="M688 306l8-7l-7-13l-8 7z" fill="#4c8"/><path d="M680 313l8-7l-7-13l-8 9z" fill="#3c9"/><path d="M671 321l9-8l-7-11l-9 8z" fill="#3c9"/><path d="M663 330l8-9l-7-11l-8 9z" fill="#3ca"/><path d="M655 338l8-8l-7-11l-8 9z" fill="#2ba"/><path d="M647 346l8-8l-7-10l-8 10z" fill="#2ba"/><path d="M639 355l8-9l-7-8l-9 9z" fill="#1bb"/><path d="M630 363l9-8l-8-8l-8 10z" fill="#1bb"/><path d="M622 372l8-9l-7-6l-8 9z" fill="#0bb"/><path d="M317 417l9 4l-7-3l-9-5z" fill="#3c9"/><path d="M309 414l8 3l-7-4l-8-4z" fill="#3c9"/><path d="M301 411l8 3l-7-5l-8-4z" fill="#4c8"/><path d="M860 263l8 2l-7-7l-8-3z" fill="#4c8"/><path d="M852 262l8 1l-7-8l-9-2z" fill="#4c8"/><path d="M843 260l9 2l-8-9l-8-2z" fill="#5c8"/><path d="M835 260l8 0l-7-9l-8-2z" fill="#5c7"/><path d="M827 259l8 1l-7-11l-8-1z" fill="#5c7"/><path d="M819 260l8-1l-7-11l-9 0z" fill="#6c7"/><path d="M810 260l9 0l-8-12l-8 0z" fill="#6c7"/><path d="M802 261l8-1l-7-12l-8 0z" fill="#6c7"/><path d="M794 263l8-2l-7-13l-8 1z" fill="#6c6"/><path d="M786 265l8-2l-7-14l-9 2z" fill="#6c6"/><path d="M777 267l9-2l-8-14l-8 2z" fill="#6c6"/><path d="M769 271l8-4l-7-14l-8 3z" fill="#6c7"/><path d="M761 274l8-3l-7-15l-8 4z" fill="#6c7"/><path d="M753 278l8-4l-7-14l-8 4z" fill="#5c7"/><path d="M744 283l9-5l-7-14l-9 4z" fill="#5c7"/><path d="M736 287l8-4l-7-15l-8 5z" fill="#5c7"/><path d="M728 293l8-6l-7-14l-8 6z" fill="#5c8"/><path d="M720 298l8-5l-7-14l-8 6z" fill="#4c8"/><path d="M712 305l8-7l-7-13l-9 7z" fill="#4c8"/><path d="M703 311l9-6l-8-13l-8 7z" fill="#4c9"/><path d="M695 318l8-7l-7-12l-8 7z" fill="#3c9"/><path d="M687 325l8-7l-7-12l-8 7z" fill="#3c9"/><path d="M679 332l8-7l-7-12l-9 8z" fill="#3ca"/><path d="M670 339l9-7l-8-11l-8 9z" fill="#2ba"/><path d="M662 347l8-8l-7-9l-8 8z" fill="#2ba"/><path d="M654 354l8-7l-7-9l-8 8z" fill="#2bb"/><path d="M333 425l8 3l-7-3l-8-4z" fill="#3ca"/><path d="M325 422l8 3l-7-4l-9-4z" fill="#3c9"/><path d="M316 420l9 2l-8-5l-8-3z" fill="#3c9"/><path d="M308 418l8 2l-7-6l-8-3z" fill="#4c8"/><path d="M834 271l8 0l-7-11l-8-1z" fill="#4c8"/><path d="M826 272l8-1l-7-12l-8 1z" fill="#5c8"/><path d="M818 273l8-1l-7-12l-9 0z" fill="#5c8"/><path d="M809 275l9-2l-8-13l-8 1z" fill="#5c8"/><path d="M801 277l8-2l-7-14l-8 2z" fill="#5c7"/><path d="M793 279l8-2l-7-14l-8 2z" fill="#5c7"/><path d="M785 282l8-3l-7-14l-9 2z" fill="#5c8"/><path d="M776 285l9-3l-8-15l-8 4z" fill="#5c8"/><path d="M768 288l8-3l-7-14l-8 3z" fill="#4c8"/><path d="M760 292l8-4l-7-14l-8 4z" fill="#4c8"/><path d="M752 297l8-5l-7-14l-9 5z" fill="#4c8"/><path d="M743 301l9-4l-8-14l-8 4z" fill="#4c8"/><path d="M735 306l8-5l-7-14l-8 6z" fill="#4c8"/><path d="M727 311l8-5l-7-13l-8 5z" fill="#3c9"/><path d="M719 317l8-6l-7-13l-8 7z" fill="#3c9"/><path d="M711 323l8-6l-7-12l-9 6z" fill="#3c9"/><path d="M702 329l9-6l-8-12l-8 7z" fill="#3c9"/><path d="M357 434l8 2l-7-2l-9-3z" fill="#2ba"/><path d="M348 432l9 2l-8-3l-8-3z" fill="#3ba"/><path d="M340 430l8 2l-7-4l-8-3z" fill="#3ca"/><path d="M332 428l8 2l-7-5l-8-3z" fill="#3c9"/><path d="M324 427l8 1l-7-6l-9-2z" fill="#3c9"/><path d="M315 426l9 1l-8-7l-8-2z" fill="#3c9"/><path d="M380 440l8 1l-7-1l-8-2z" fill="#2bb"/><path d="M372 439l8 1l-7-2l-8-2z" fill="#2ba"/><path d="M364 438l8 1l-7-3l-8-2z" fill="#2ba"/><path d="M355 437l9 1l-7-4l-9-2z" fill="#2ba"/><path d="M347 436l8 1l-7-5l-8-2z" fill="#3ca"/><path d="M339 435l8 1l-7-6l-8-2z" fill="#3ca"/><path d="M331 435l8 0l-7-7l-8-1z" fill="#3c9"/><path d="M323 435l8 0l-7-8l-9-1z" fill="#3c9"/><path d="M404 443l8 0l-7 0l-8-1z" fill="#1bb"/><path d="M396 443l8 0l-7-1l-9-1z" fill="#1bb"/><path d="M387 443l9 0l-8-2l-8-1z" fill="#2bb"/><path d="M379 443l8 0l-7-3l-8-1z" fill="#2ba"/><path d="M371 443l8 0l-7-4l-8-1z" fill="#2ba"/><path d="M363 443l8 0l-7-5l-9-1z" fill="#2ba"/><path d="M354 443l9 0l-8-6l-8-1z" fill="#2ba"/><path d="M346 444l8-1l-7-7l-8-1z" fill="#2ba"/><path d="M338 444l8 0l-7-9l-8 0z" fill="#3ca"/><path d="M330 445l8-1l-7-9l-8 0z" fill="#3ca"/><path d="M427 444l9-1l-8 0l-8 0z" fill="#1bb"/><path d="M419 445l8-1l-7-1l-8 0z" fill="#1bb"/><path d="M411 446l8-1l-7-2l-8 0z" fill="#1bb"/><path d="M403 447l8-1l-7-3l-8 0z" fill="#1bb"/><path d="M394 447l9 0l-7-4l-9 0z" fill="#1bb"/><path d="M386 448l8-1l-7-4l-8 0z" fill="#2bb"/><path d="M378 449l8-1l-7-5l-8 0z" fill="#2bb"/><path d="M370 451l8-2l-7-6l-8 0z" fill="#2ba"/><path d="M362 452l8-1l-7-8l-9 0z" fill="#2ba"/><path d="M353 453l9-1l-8-9l-8 1z" fill="#2ba"/><path d="M345 454l8-1l-7-9l-8 0z" fill="#2ba"/><path d="M337 455l8-1l-7-10l-8 1z" fill="#2ba"/><path d="M451 441l8-2l-7 2l-8 1z" fill="#1bb"/><path d="M443 443l8-2l-7 1l-8 1z" fill="#1bb"/><path d="M435 445l8-2l-7 0l-9 1z" fill="#1bb"/><path d="M426 447l9-2l-8-1l-8 1z" fill="#1bb"/><path d="M418 449l8-2l-7-2l-8 1z" fill="#1bb"/><path d="M410 451l8-2l-7-3l-8 1z" fill="#1bb"/><path d="M402 453l8-2l-7-4l-9 0z" fill="#1bb"/><path d="M393 455l9-2l-8-6l-8 1z" fill="#1bb"/><path d="M385 457l8-2l-7-7l-8 1z" fill="#1bb"/><path d="M377 459l8-2l-7-8l-8 2z" fill="#1bb"/><path d="M369 461l8-2l-7-8l-8 1z" fill="#1bb"/><path d="M360 463l9-2l-7-9l-9 1z" fill="#1bb"/><path d="M352 465l8-2l-7-10l-8 1z" fill="#1bb"/><path d="M344 467l8-2l-7-11l-8 1z" fill="#1bb"/><path d="M475 436l8-3l-7 2l-8 2z" fill="#1bb"/><path d="M466 439l9-3l-7 1l-9 2z" fill="#1bb"/><path d="M458 442l8-3l-7 0l-8 2z" fill="#1bb"/><path d="M450 445l8-3l-7-1l-8 2z" fill="#1bb"/><path d="M442 448l8-3l-7-2l-8 2z" fill="#1bb"/><path d="M434 451l8-3l-7-3l-9 2z" fill="#1bb"/><path d="M425 454l9-3l-8-4l-8 2z" fill="#1bb"/><path d="M417 457l8-3l-7-5l-8 2z" fill="#1bb"/><path d="M409 460l8-3l-7-6l-8 2z" fill="#1bb"/><path d="M401 463l8-3l-7-7l-9 2z" fill="#1bb"/><path d="M392 466l9-3l-8-8l-8 2z" fill="#1bb"/><path d="M384 468l8-2l-7-9l-8 2z" fill="#1bb"/><path d="M376 471l8-3l-7-9l-8 2z" fill="#1bb"/><path d="M368 474l8-3l-7-10l-9 2z" fill="#0bb"/><path d="M359 477l9-3l-8-11l-8 2z" fill="#0bb"/><path d="M351 479l8-2l-7-12l-8 2z" fill="#0bb"/><path d="M515 421l8-4l-7 5l-8 3z" fill="#2ba"/><path d="M498 428l9-3l-8 3l-8 2z" fill="#2ba"/><path d="M490 432l8-4l-7 2l-8 3z" fill="#2ba"/><path d="M482 436l8-4l-7 1l-8 3z" fill="#2ba"/><path d="M474 440l8-4l-7 0l-9 3z" fill="#2bb"/><path d="M465 444l9-4l-8-1l-8 3z" fill="#1bb"/><path d="M457 448l8-4l-7-2l-8 3z" fill="#1bb"/><path d="M449 452l8-4l-7-3l-8 3z" fill="#1bb"/><path d="M441 456l8-4l-7-4l-8 3z" fill="#1bb"/><path d="M432 460l9-4l-7-5l-9 3z" fill="#1bb"/><path d="M424 464l8-4l-7-6l-8 3z" fill="#0bb"/><path d="M416 468l8-4l-7-7l-8 3z" fill="#0bb"/><path d="M408 471l8-3l-7-8l-8 3z" fill="#0bb"/><path d="M400 475l8-4l-7-8l-9 3z" fill="#0bb"/><path d="M391 479l9-4l-8-9l-8 2z" fill="#0bc"/><path d="M383 482l8-3l-7-11l-8 3z" fill="#0bc"/><path d="M375 486l8-4l-7-11l-8 3z" fill="#0bc"/><path d="M367 489l8-3l-7-12l-9 3z" fill="#0bc"/><path d="M358 492l9-3l-8-12l-8 2z" fill="#0bc"/><path d="M530 414l8-4l-7 4l-8 3z" fill="#3ca"/><path d="M522 418l8-4l-7 3l-8 4z" fill="#3ca"/><path d="M514 423l8-5l-7 3l-8 4z" fill="#3ba"/><path d="M505 427l9-4l-7 2l-9 3z" fill="#2ba"/><path d="M497 432l8-5l-7 1l-8 4z" fill="#2ba"/><path d="M489 437l8-5l-7 0l-8 4z" fill="#2ba"/><path d="M481 442l8-5l-7-1l-8 4z" fill="#2ba"/><path d="M473 447l8-5l-7-2l-9 4z" fill="#1bb"/><path d="M464 452l9-5l-8-3l-8 4z" fill="#1bb"/><path d="M456 457l8-5l-7-4l-8 4z" fill="#1bb"/><path d="M448 462l8-5l-7-5l-8 4z" fill="#1bb"/><path d="M440 467l8-5l-7-6l-9 4z" fill="#0bb"/><path d="M431 472l9-5l-8-7l-8 4z" fill="#0bb"/><path d="M423 476l8-4l-7-8l-8 4z" fill="#0bc"/><path d="M415 481l8-5l-7-8l-8 3z" fill="#0bc"/><path d="M407 486l8-5l-7-10l-8 4z" fill="#0bc"/><path d="M398 490l9-4l-7-11l-9 4z" fill="#0bc"/><path d="M390 494l8-4l-7-11l-8 3z" fill="#0bc"/><path d="M382 498l8-4l-7-12l-8 4z" fill="#0bc"/><path d="M374 502l8-4l-7-12l-8 3z" fill="#1bc"/><path d="M366 506l8-4l-7-13l-9 3z" fill="#1bc"/><path d="M537 411l9-5l-8 4l-8 4z" fill="#3c9"/><path d="M529 416l8-5l-7 3l-8 4z" fill="#3c9"/><path d="M521 422l8-6l-7 2l-8 5z" fill="#3ca"/><path d="M513 427l8-5l-7 1l-9 4z" fill="#3ca"/><path d="M504 433l9-6l-8 0l-8 5z" fill="#2ba"/><path d="M496 439l8-6l-7-1l-8 5z" fill="#2ba"/><path d="M488 445l8-6l-7-2l-8 5z" fill="#2ba"/><path d="M480 451l8-6l-7-3l-8 5z" fill="#1bb"/><path d="M471 457l9-6l-7-4l-9 5z" fill="#1bb"/><path d="M463 463l8-6l-7-5l-8 5z" fill="#1bb"/><path d="M455 469l8-6l-7-6l-8 5z" fill="#0bb"/><path d="M447 475l8-6l-7-7l-8 5z" fill="#0bc"/><path d="M439 480l8-5l-7-8l-9 5z" fill="#0bc"/><path d="M430 486l9-6l-8-8l-8 4z" fill="#0bc"/><path d="M422 492l8-6l-7-10l-8 5z" fill="#0bc"/><path d="M414 497l8-5l-7-11l-8 5z" fill="#1bc"/><path d="M406 502l8-5l-7-11l-9 4z" fill="#1ac"/><path d="M397 507l9-5l-8-12l-8 4z" fill="#1ad"/><path d="M389 512l8-5l-7-13l-8 4z" fill="#1ad"/><path d="M381 516l8-4l-7-14l-8 4z" fill="#1ad"/><path d="M373 520l8-4l-7-14l-8 4z" fill="#1ad"/><path d="M561 398l8-5l-7 4l-8 4z" fill="#4c8"/><path d="M553 404l8-6l-7 3l-8 5z" fill="#4c8"/><path d="M545 409l8-5l-7 2l-9 5z" fill="#3c9"/><path d="M536 415l9-6l-8 2l-8 5z" fill="#3c9"/><path d="M528 422l8-7l-7 1l-8 6z" fill="#3c9"/><path d="M520 428l8-6l-7 0l-8 5z" fill="#3ca"/><path d="M512 435l8-7l-7-1l-9 6z" fill="#2ba"/><path d="M503 442l9-7l-8-2l-8 6z" fill="#2ba"/><path d="M495 449l8-7l-7-3l-8 6z" fill="#2bb"/><path d="M487 456l8-7l-7-4l-8 6z" fill="#1bb"/><path d="M479 463l8-7l-7-5l-9 6z" fill="#1bb"/><path d="M470 470l9-7l-8-6l-8 6z" fill="#0bb"/><path d="M462 477l8-7l-7-7l-8 6z" fill="#0bc"/><path d="M454 484l8-7l-7-8l-8 6z" fill="#0bc"/><path d="M446 490l8-6l-7-9l-8 5z" fill="#0bc"/><path d="M438 497l8-7l-7-10l-9 6z" fill="#1bc"/><path d="M429 503l9-6l-8-11l-8 6z" fill="#1ad"/><path d="M421 509l8-6l-7-11l-8 5z" fill="#1ad"/><path d="M413 515l8-6l-7-12l-8 5z" fill="#1ad"/><path d="M405 520l8-5l-7-13l-9 5z" fill="#2ad"/><path d="M396 525l9-5l-8-13l-8 5z" fill="#2ad"/><path d="M388 530l8-5l-7-13l-8 4z" fill="#2ad"/><path d="M380 534l8-4l-7-14l-8 4z" fill="#2ad"/><path d="M576 389l9-5l-8 4l-8 5z" fill="#5c7"/><path d="M568 395l8-6l-7 4l-8 5z" fill="#4c8"/><path d="M560 402l8-7l-7 3l-8 6z" fill="#4c8"/><path d="M552 409l8-7l-7 2l-8 5z" fill="#4c8"/><path d="M543 416l9-7l-7 0l-9 6z" fill="#3c9"/><path d="M535 423l8-7l-7-1l-8 7z" fill="#3c9"/><path d="M527 431l8-8l-7-1l-8 6z" fill="#3ca"/><path d="M519 439l8-8l-7-3l-8 7z" fill="#2ba"/><path d="M511 446l8-7l-7-4l-9 7z" fill="#2ba"/><path d="M502 454l9-8l-8-4l-8 7z" fill="#1bb"/><path d="M494 462l8-8l-7-5l-8 7z" fill="#1bb"/><path d="M486 470l8-8l-7-6l-8 7z" fill="#0bb"/><path d="M478 478l8-8l-7-7l-9 7z" fill="#0bc"/><path d="M469 486l9-8l-8-8l-8 7z" fill="#0bc"/><path d="M461 494l8-8l-7-9l-8 7z" fill="#1bc"/><path d="M453 501l8-7l-7-10l-8 6z" fill="#1ad"/><path d="M445 508l8-7l-7-11l-8 7z" fill="#1ad"/><path d="M436 515l9-7l-7-11l-9 6z" fill="#2ad"/><path d="M428 522l8-7l-7-12l-8 6z" fill="#2ad"/><path d="M420 528l8-6l-7-13l-8 6z" fill="#2ad"/><path d="M412 534l8-6l-7-13l-8 5z" fill="#2ad"/><path d="M404 539l8-5l-7-14l-9 5z" fill="#2ad"/><path d="M395 544l9-5l-8-14l-8 5z" fill="#29d"/><path d="M387 548l8-4l-7-14l-8 4z" fill="#29e"/><path d="M592 380l8-6l-7 4l-8 6z" fill="#6c6"/><path d="M584 387l8-7l-7 4l-9 5z" fill="#6c7"/><path d="M575 394l9-7l-8 2l-8 6z" fill="#5c7"/><path d="M567 401l8-7l-7 1l-8 7z" fill="#4c8"/><path d="M559 409l8-8l-7 1l-8 7z" fill="#4c8"/><path d="M551 417l8-8l-7 0l-9 7z" fill="#3c9"/><path d="M542 426l9-9l-8-1l-8 7z" fill="#3c9"/><path d="M534 434l8-8l-7-3l-8 8z" fill="#3ca"/><path d="M526 443l8-9l-7-3l-8 8z" fill="#2ba"/><path d="M518 452l8-9l-7-4l-8 7z" fill="#2ba"/><path d="M509 461l9-9l-7-6l-9 8z" fill="#1bb"/><path d="M501 470l8-9l-7-7l-8 8z" fill="#0bb"/><path d="M493 479l8-9l-7-8l-8 8z" fill="#0bc"/><path d="M485 488l8-9l-7-9l-8 8z" fill="#0bc"/><path d="M477 496l8-8l-7-10l-9 8z" fill="#1bc"/><path d="M468 505l9-9l-8-10l-8 8z" fill="#1ad"/><path d="M460 513l8-8l-7-11l-8 7z" fill="#1ad"/><path d="M452 521l8-8l-7-12l-8 7z" fill="#2ad"/><path d="M444 528l8-7l-7-13l-9 7z" fill="#2ad"/><path d="M435 535l9-7l-8-13l-8 7z" fill="#2ad"/><path d="M427 542l8-7l-7-13l-8 6z" fill="#29d"/><path d="M419 548l8-6l-7-14l-8 6z" fill="#29e"/><path d="M411 553l8-5l-7-14l-8 5z" fill="#29e"/><path d="M402 558l9-5l-7-14l-9 5z" fill="#29e"/><path d="M394 563l8-5l-7-14l-8 4z" fill="#29e"/><path d="M615 365l9-6l-8 5l-8 5z" fill="#8c5"/><path d="M607 371l8-6l-7 4l-8 5z" fill="#7c5"/><path d="M599 378l8-7l-7 3l-8 6z" fill="#7c6"/><path d="M591 386l8-8l-7 2l-8 7z" fill="#6c6"/><path d="M583 394l8-8l-7 1l-9 7z" fill="#5c7"/><path d="M574 402l9-8l-8 0l-8 7z" fill="#5c7"/><path d="M566 411l8-9l-7-1l-8 8z" fill="#4c8"/><path d="M558 420l8-9l-7-2l-8 8z" fill="#3c9"/><path d="M550 429l8-9l-7-3l-9 9z" fill="#3c9"/><path d="M541 439l9-10l-8-3l-8 8z" fill="#3ca"/><path d="M533 449l8-10l-7-5l-8 9z" fill="#2ba"/><path d="M525 459l8-10l-7-6l-8 9z" fill="#1bb"/><path d="M517 469l8-10l-7-7l-9 9z" fill="#1bb"/><path d="M508 478l9-9l-8-8l-8 9z" fill="#0bc"/><path d="M500 488l8-10l-7-8l-8 9z" fill="#0bc"/><path d="M492 498l8-10l-7-9l-8 9z" fill="#1bc"/><path d="M484 507l8-9l-7-10l-8 8z" fill="#1ad"/><path d="M475 516l9-9l-7-11l-9 9z" fill="#2ad"/><path d="M467 525l8-9l-7-11l-8 8z" fill="#2ad"/><path d="M459 534l8-9l-7-12l-8 8z" fill="#2ad"/><path d="M451 541l8-7l-7-13l-8 7z" fill="#29d"/><path d="M443 549l8-8l-7-13l-9 7z" fill="#29e"/><path d="M434 556l9-7l-8-14l-8 7z" fill="#29e"/><path d="M426 562l8-6l-7-14l-8 6z" fill="#29e"/><path d="M418 568l8-6l-7-14l-8 5z" fill="#29e"/><path d="M410 573l8-5l-7-15l-9 5z" fill="#38e"/><path d="M401 577l9-4l-8-15l-8 5z" fill="#38e"/><path d="M631 356l8-6l-7 4l-8 5z" fill="#9c4"/><path d="M623 362l8-6l-7 3l-9 6z" fill="#9c4"/><path d="M614 369l9-7l-8 3l-8 6z" fill="#8c5"/><path d="M606 377l8-8l-7 2l-8 7z" fill="#7c5"/><path d="M598 385l8-8l-7 1l-8 8z" fill="#7c6"/><path d="M590 394l8-9l-7 1l-8 8z" fill="#6c7"/><path d="M581 404l9-10l-7 0l-9 8z" fill="#5c7"/><path d="M573 413l8-9l-7-2l-8 9z" fill="#4c8"/><path d="M565 424l8-11l-7-2l-8 9z" fill="#3c9"/><path d="M557 434l8-10l-7-4l-8 9z" fill="#3c9"/><path d="M549 445l8-11l-7-5l-9 10z" fill="#3ca"/><path d="M540 455l9-10l-8-6l-8 10z" fill="#2ba"/><path d="M532 466l8-11l-7-6l-8 10z" fill="#1bb"/><path d="M524 477l8-11l-7-7l-8 10z" fill="#0bb"/><path d="M516 488l8-11l-7-8l-9 9z" fill="#0bc"/><path d="M507 499l9-11l-8-10l-8 10z" fill="#1bc"/><path d="M499 509l8-10l-7-11l-8 10z" fill="#1ad"/><path d="M491 519l8-10l-7-11l-8 9z" fill="#2ad"/><path d="M483 529l8-10l-7-12l-9 9z" fill="#2ad"/><path d="M474 538l9-9l-8-13l-8 9z" fill="#29d"/><path d="M466 547l8-9l-7-13l-8 9z" fill="#29e"/><path d="M458 555l8-8l-7-13l-8 7z" fill="#29e"/><path d="M450 563l8-8l-7-14l-8 8z" fill="#29e"/><path d="M441 570l9-7l-7-14l-9 7z" fill="#38e"/><path d="M433 576l8-6l-7-14l-8 6z" fill="#38e"/><path d="M425 582l8-6l-7-14l-8 6z" fill="#38e"/><path d="M417 587l8-5l-7-14l-8 5z" fill="#38e"/><path d="M409 591l8-4l-7-14l-9 4z" fill="#38f"/><path d="M646 346l8-6l-7 5l-8 5z" fill="#ac3"/><path d="M638 353l8-7l-7 4l-8 6z" fill="#ac3"/><path d="M630 360l8-7l-7 3l-8 6z" fill="#9c4"/><path d="M622 368l8-8l-7 2l-9 7z" fill="#9c4"/><path d="M613 377l9-9l-8 1l-8 8z" fill="#8c5"/><path d="M605 386l8-9l-7 0l-8 8z" fill="#7c6"/><path d="M597 396l8-10l-7-1l-8 9z" fill="#6c7"/><path d="M589 407l8-11l-7-2l-9 10z" fill="#5c7"/><path d="M580 417l9-10l-8-3l-8 9z" fill="#4c8"/><path d="M572 429l8-12l-7-4l-8 11z" fill="#3c9"/><path d="M564 440l8-11l-7-5l-8 10z" fill="#3c9"/><path d="M556 452l8-12l-7-6l-8 11z" fill="#2ba"/><path d="M547 463l9-11l-7-7l-9 10z" fill="#1bb"/><path d="M539 475l8-12l-7-8l-8 11z" fill="#0bb"/><path d="M531 487l8-12l-7-9l-8 11z" fill="#0bc"/><path d="M523 498l8-11l-7-10l-8 11z" fill="#1bc"/><path d="M515 510l8-12l-7-10l-9 11z" fill="#1ad"/><path d="M506 521l9-11l-8-11l-8 10z" fill="#2ad"/><path d="M498 532l8-11l-7-12l-8 10z" fill="#2ad"/><path d="M490 542l8-10l-7-13l-8 10z" fill="#29e"/><path d="M482 552l8-10l-7-13l-9 9z" fill="#29e"/><path d="M473 561l9-9l-8-14l-8 9z" fill="#29e"/><path d="M465 569l8-8l-7-14l-8 8z" fill="#38e"/><path d="M457 577l8-8l-7-14l-8 8z" fill="#38e"/><path d="M449 584l8-7l-7-14l-9 7z" fill="#38f"/><path d="M440 591l9-7l-8-14l-8 6z" fill="#38f"/><path d="M432 596l8-5l-7-15l-8 6z" fill="#38f"/><path d="M424 601l8-5l-7-14l-8 5z" fill="#37f"/><path d="M416 605l8-4l-7-14l-8 4z" fill="#37f"/><path d="M662 337l8-6l-7 4l-9 5z" fill="#cb2"/><path d="M653 343l9-6l-8 3l-8 6z" fill="#bb3"/><path d="M645 351l8-8l-7 3l-8 7z" fill="#bc3"/><path d="M637 359l8-8l-7 2l-8 7z" fill="#ac4"/><path d="M629 368l8-9l-7 1l-8 8z" fill="#9c4"/><path d="M620 378l9-10l-7 0l-9 9z" fill="#8c5"/><path d="M612 388l8-10l-7-1l-8 9z" fill="#7c6"/><path d="M604 399l8-11l-7-2l-8 10z" fill="#6c6"/><path d="M596 411l8-12l-7-3l-8 11z" fill="#5c7"/><path d="M588 422l8-11l-7-4l-9 10z" fill="#4c8"/><path d="M579 435l9-13l-8-5l-8 12z" fill="#3c9"/><path d="M571 447l8-12l-7-6l-8 11z" fill="#3ca"/><path d="M563 460l8-13l-7-7l-8 12z" fill="#2ba"/><path d="M555 472l8-12l-7-8l-9 11z" fill="#1bb"/><path d="M546 485l9-13l-8-9l-8 12z" fill="#0bc"/><path d="M538 497l8-12l-7-10l-8 12z" fill="#0bc"/><path d="M530 510l8-13l-7-10l-8 11z" fill="#1ad"/><path d="M522 522l8-12l-7-12l-8 12z" fill="#2ad"/><path d="M513 533l9-11l-7-12l-9 11z" fill="#2ad"/><path d="M505 545l8-12l-7-12l-8 11z" fill="#29e"/><path d="M497 555l8-10l-7-13l-8 10z" fill="#29e"/><path d="M489 565l8-10l-7-13l-8 10z" fill="#39e"/><path d="M481 575l8-10l-7-13l-9 9z" fill="#38e"/><path d="M472 584l9-9l-8-14l-8 8z" fill="#38f"/><path d="M464 592l8-8l-7-15l-8 8z" fill="#38f"/><path d="M456 599l8-7l-7-15l-8 7z" fill="#37f"/><path d="M448 605l8-6l-7-15l-9 7z" fill="#37f"/><path d="M439 610l9-5l-8-14l-8 5z" fill="#37f"/><path d="M431 615l8-5l-7-14l-8 5z" fill="#37f"/><path d="M423 618l8-3l-7-14l-8 4z" fill="#37f"/><path d="M677 327l8-5l-7 4l-8 5z" fill="#db2"/><path d="M669 334l8-7l-7 4l-8 6z" fill="#cb2"/><path d="M661 342l8-8l-7 3l-9 6z" fill="#cb2"/><path d="M652 350l9-8l-8 1l-8 8z" fill="#bc3"/><path d="M644 359l8-9l-7 1l-8 8z" fill="#ac3"/><path d="M636 369l8-10l-7 0l-8 9z" fill="#9c4"/><path d="M628 380l8-11l-7-1l-9 10z" fill="#8c5"/><path d="M619 391l9-11l-8-2l-8 10z" fill="#7c6"/><path d="M611 403l8-12l-7-3l-8 11z" fill="#6c7"/><path d="M603 416l8-13l-7-4l-8 12z" fill="#5c8"/><path d="M595 429l8-13l-7-5l-8 11z" fill="#4c8"/><path d="M586 442l9-13l-7-7l-9 13z" fill="#3c9"/><path d="M578 455l8-13l-7-7l-8 12z" fill="#2ba"/><path d="M570 469l8-14l-7-8l-8 13z" fill="#1bb"/><path d="M562 482l8-13l-7-9l-8 12z" fill="#0bb"/><path d="M554 495l8-13l-7-10l-9 13z" fill="#0bc"/><path d="M545 509l9-14l-8-10l-8 12z" fill="#1ad"/><path d="M537 522l8-13l-7-12l-8 13z" fill="#2ad"/><path d="M529 534l8-12l-7-12l-8 12z" fill="#2ad"/><path d="M521 547l8-13l-7-12l-9 11z" fill="#29e"/><path d="M512 558l9-11l-8-14l-8 12z" fill="#29e"/><path d="M504 569l8-11l-7-13l-8 10z" fill="#38e"/><path d="M496 580l8-11l-7-14l-8 10z" fill="#38e"/><path d="M488 589l8-9l-7-15l-8 10z" fill="#38f"/><path d="M479 598l9-9l-7-14l-9 9z" fill="#37f"/><path d="M471 606l8-8l-7-14l-8 8z" fill="#37f"/><path d="M463 613l8-7l-7-14l-8 7z" fill="#37f"/><path d="M455 619l8-6l-7-14l-8 6z" fill="#47f"/><path d="M447 624l8-5l-7-14l-9 5z" fill="#46f"/><path d="M438 628l9-4l-8-14l-8 5z" fill="#46f"/><path d="M430 631l8-3l-7-13l-8 3z" fill="#46f"/><path d="M931 472l8 5l-7-6l-8-5z" fill="#38f"/><path d="M701 313l8-4l-7 5l-8 3z" fill="#eb3"/><path d="M692 318l9-5l-7 4l-9 5z" fill="#eb3"/><path d="M684 325l8-7l-7 4l-8 5z" fill="#db3"/><path d="M676 332l8-7l-7 2l-8 7z" fill="#db2"/><path d="M668 341l8-9l-7 2l-8 8z" fill="#cb2"/><path d="M660 350l8-9l-7 1l-9 8z" fill="#bb3"/><path d="M651 360l9-10l-8 0l-8 9z" fill="#ac3"/><path d="M643 371l8-11l-7-1l-8 10z" fill="#9c4"/><path d="M635 383l8-12l-7-2l-8 11z" fill="#8c5"/><path d="M627 396l8-13l-7-3l-9 11z" fill="#7c6"/><path d="M618 409l9-13l-8-5l-8 12z" fill="#6c7"/><path d="M610 422l8-13l-7-6l-8 13z" fill="#4c8"/><path d="M602 436l8-14l-7-6l-8 13z" fill="#3c9"/><path d="M594 450l8-14l-7-7l-9 13z" fill="#3ca"/><path d="M585 464l9-14l-8-8l-8 13z" fill="#2ba"/><path d="M577 479l8-15l-7-9l-8 14z" fill="#1bb"/><path d="M569 493l8-14l-7-10l-8 13z" fill="#0bc"/><path d="M561 507l8-14l-7-11l-8 13z" fill="#1ac"/><path d="M552 521l9-14l-7-12l-9 14z" fill="#2ad"/><path d="M544 534l8-13l-7-12l-8 13z" fill="#2ad"/><path d="M536 548l8-14l-7-12l-8 12z" fill="#29e"/><path d="M528 560l8-12l-7-14l-8 13z" fill="#29e"/><path d="M520 572l8-12l-7-13l-9 11z" fill="#38e"/><path d="M511 583l9-11l-8-14l-8 11z" fill="#38f"/><path d="M503 594l8-11l-7-14l-8 11z" fill="#38f"/><path d="M495 604l8-10l-7-14l-8 9z" fill="#37f"/><path d="M487 612l8-8l-7-15l-9 9z" fill="#37f"/><path d="M478 620l9-8l-8-14l-8 8z" fill="#46f"/><path d="M470 627l8-7l-7-14l-8 7z" fill="#46f"/><path d="M462 633l8-6l-7-14l-8 6z" fill="#46f"/><path d="M454 637l8-4l-7-14l-8 5z" fill="#46f"/><path d="M445 641l9-4l-7-13l-9 4z" fill="#46f"/><path d="M437 643l8-2l-7-13l-8 3z" fill="#46f"/><path d="M947 483l8 6l-7-7l-9-5z" fill="#37f"/><path d="M938 476l9 7l-8-6l-8-5z" fill="#38f"/><path d="M930 468l8 8l-7-4l-8-7z" fill="#38e"/><path d="M716 305l8-4l-7 5l-8 3z" fill="#fb4"/><path d="M708 310l8-5l-7 4l-8 4z" fill="#eb3"/><path d="M700 316l8-6l-7 3l-9 5z" fill="#eb3"/><path d="M691 323l9-7l-8 2l-8 7z" fill="#eb3"/><path d="M683 332l8-9l-7 2l-8 7z" fill="#db2"/><path d="M675 341l8-9l-7 0l-8 9z" fill="#cb2"/><path d="M667 352l8-11l-7 0l-8 9z" fill="#cb2"/><path d="M658 363l9-11l-7-2l-9 10z" fill="#bc3"/><path d="M650 375l8-12l-7-3l-8 11z" fill="#9c4"/><path d="M642 388l8-13l-7-4l-8 12z" fill="#8c5"/><path d="M634 401l8-13l-7-5l-8 13z" fill="#7c6"/><path d="M626 415l8-14l-7-5l-9 13z" fill="#5c7"/><path d="M617 429l9-14l-8-6l-8 13z" fill="#4c8"/><path d="M609 444l8-15l-7-7l-8 14z" fill="#3c9"/><path d="M601 459l8-15l-7-8l-8 14z" fill="#2ba"/><path d="M593 474l8-15l-7-9l-9 14z" fill="#1bb"/><path d="M584 489l9-15l-8-10l-8 15z" fill="#0bc"/><path d="M576 504l8-15l-7-10l-8 14z" fill="#1bc"/><path d="M568 519l8-15l-7-11l-8 14z" fill="#1ad"/><path d="M560 534l8-15l-7-12l-9 14z" fill="#2ad"/><path d="M551 548l9-14l-8-13l-8 13z" fill="#29e"/><path d="M543 561l8-13l-7-14l-8 14z" fill="#29e"/><path d="M535 574l8-13l-7-13l-8 12z" fill="#38e"/><path d="M527 586l8-12l-7-14l-8 12z" fill="#38f"/><path d="M519 598l8-12l-7-14l-9 11z" fill="#37f"/><path d="M510 608l9-10l-8-15l-8 11z" fill="#37f"/><path d="M502 618l8-10l-7-14l-8 10z" fill="#47f"/><path d="M494 627l8-9l-7-14l-8 8z" fill="#46f"/><path d="M486 634l8-7l-7-15l-9 8z" fill="#46f"/><path d="M477 641l9-7l-8-14l-8 7z" fill="#46f"/><path d="M469 646l8-5l-7-14l-8 6z" fill="#46f"/><path d="M461 650l8-4l-7-13l-8 4z" fill="#45f"/><path d="M453 653l8-3l-7-13l-9 4z" fill="#45f"/><path d="M444 655l9-2l-8-12l-8 2z" fill="#45f"/><path d="M962 494l8 6l-7-7l-8-4z" fill="#37f"/><path d="M954 487l8 7l-7-5l-8-6z" fill="#37f"/><path d="M946 479l8 8l-7-4l-9-7z" fill="#38f"/><path d="M937 470l9 9l-8-3l-8-8z" fill="#38e"/><path d="M731 297l9-4l-7 5l-9 3z" fill="#fb3"/><path d="M723 302l8-5l-7 4l-8 4z" fill="#fb4"/><path d="M715 308l8-6l-7 3l-8 5z" fill="#fb4"/><path d="M707 315l8-7l-7 2l-8 6z" fill="#eb3"/><path d="M699 323l8-8l-7 1l-9 7z" fill="#eb3"/><path d="M690 332l9-9l-8 0l-8 9z" fill="#db3"/><path d="M682 343l8-11l-7 0l-8 9z" fill="#db2"/><path d="M674 354l8-11l-7-2l-8 11z" fill="#cb2"/><path d="M666 366l8-12l-7-2l-9 11z" fill="#bc3"/><path d="M657 379l9-13l-8-3l-8 12z" fill="#9c4"/><path d="M649 393l8-14l-7-4l-8 13z" fill="#8c5"/><path d="M641 408l8-15l-7-5l-8 13z" fill="#6c6"/><path d="M633 423l8-15l-7-7l-8 14z" fill="#5c7"/><path d="M624 438l9-15l-7-8l-9 14z" fill="#4c9"/><path d="M616 454l8-16l-7-9l-8 15z" fill="#3ca"/><path d="M608 469l8-15l-7-10l-8 15z" fill="#2ba"/><path d="M600 485l8-16l-7-10l-8 15z" fill="#0bb"/><path d="M592 501l8-16l-7-11l-9 15z" fill="#0bc"/><path d="M583 517l9-16l-8-12l-8 15z" fill="#1ad"/><path d="M575 532l8-15l-7-13l-8 15z" fill="#2ad"/><path d="M567 547l8-15l-7-13l-8 15z" fill="#29e"/><path d="M559 561l8-14l-7-13l-9 14z" fill="#29e"/><path d="M550 575l9-14l-8-13l-8 13z" fill="#38e"/><path d="M542 588l8-13l-7-14l-8 13z" fill="#38f"/><path d="M534 601l8-13l-7-14l-8 12z" fill="#37f"/><path d="M526 612l8-11l-7-15l-8 12z" fill="#37f"/><path d="M517 623l9-11l-7-14l-9 10z" fill="#46f"/><path d="M509 632l8-9l-7-15l-8 10z" fill="#46f"/><path d="M501 640l8-8l-7-14l-8 9z" fill="#46f"/><path d="M493 648l8-8l-7-13l-8 7z" fill="#45f"/><path d="M485 654l8-6l-7-14l-9 7z" fill="#45f"/><path d="M476 658l9-4l-8-13l-8 5z" fill="#45f"/><path d="M468 662l8-4l-7-12l-8 4z" fill="#45e"/><path d="M460 664l8-2l-7-12l-8 3z" fill="#45e"/><path d="M452 665l8-1l-7-11l-9 2z" fill="#45f"/><path d="M977 505l9 5l-8-6l-8-4z" fill="#46f"/><path d="M969 498l8 7l-7-5l-8-6z" fill="#37f"/><path d="M961 490l8 8l-7-4l-8-7z" fill="#37f"/><path d="M953 481l8 9l-7-3l-8-8z" fill="#38f"/><path d="M944 471l9 10l-7-2l-9-9z" fill="#38e"/><path d="M936 461l8 10l-7-1l-8-9z" fill="#29e"/><path d="M739 294l8-4l-7 3l-9 4z" fill="#fc3"/><path d="M730 299l9-5l-8 3l-8 5z" fill="#fb3"/><path d="M722 306l8-7l-7 3l-8 6z" fill="#fb4"/><path d="M714 314l8-8l-7 2l-8 7z" fill="#fb4"/><path d="M706 324l8-10l-7 1l-8 8z" fill="#eb3"/><path d="M697 334l9-10l-7-1l-9 9z" fill="#db3"/><path d="M689 345l8-11l-7-2l-8 11z" fill="#db2"/><path d="M681 358l8-13l-7-2l-8 11z" fill="#cb2"/><path d="M673 371l8-13l-7-4l-8 12z" fill="#ac3"/><path d="M665 385l8-14l-7-5l-9 13z" fill="#9c4"/><path d="M656 400l9-15l-8-6l-8 14z" fill="#7c5"/><path d="M648 415l8-15l-7-7l-8 15z" fill="#6c7"/><path d="M640 431l8-16l-7-7l-8 15z" fill="#4c8"/><path d="M632 447l8-16l-7-8l-9 15z" fill="#3c9"/><path d="M623 464l9-17l-8-9l-8 16z" fill="#2ba"/><path d="M615 480l8-16l-7-10l-8 15z" fill="#1bb"/><path d="M607 497l8-17l-7-11l-8 16z" fill="#0bc"/><path d="M599 513l8-16l-7-12l-8 16z" fill="#1ad"/><path d="M590 530l9-17l-7-12l-9 16z" fill="#2ad"/><path d="M582 545l8-15l-7-13l-8 15z" fill="#29d"/><path d="M574 561l8-16l-7-13l-8 15z" fill="#29e"/><path d="M566 575l8-14l-7-14l-8 14z" fill="#38e"/><path d="M558 590l8-15l-7-14l-9 14z" fill="#38f"/><path d="M549 603l9-13l-8-15l-8 13z" fill="#37f"/><path d="M541 615l8-12l-7-15l-8 13z" fill="#47f"/><path d="M533 626l8-11l-7-14l-8 11z" fill="#46f"/><path d="M525 637l8-11l-7-14l-9 11z" fill="#46f"/><path d="M516 646l9-9l-8-14l-8 9z" fill="#45f"/><path d="M508 654l8-8l-7-14l-8 8z" fill="#45f"/><path d="M500 661l8-7l-7-14l-8 8z" fill="#45e"/><path d="M492 666l8-5l-7-13l-8 6z" fill="#45e"/><path d="M483 670l9-4l-7-12l-9 4z" fill="#45e"/><path d="M475 673l8-3l-7-12l-8 4z" fill="#45e"/><path d="M467 675l8-2l-7-11l-8 2z" fill="#45e"/><path d="M459 675l8 0l-7-11l-8 1z" fill="#45e"/><path d="M993 515l8 6l-7-6l-8-5z" fill="#46f"/><path d="M985 508l8 7l-7-5l-9-5z" fill="#46f"/><path d="M976 500l9 8l-8-3l-8-7z" fill="#37f"/><path d="M968 491l8 9l-7-2l-8-8z" fill="#37f"/><path d="M960 482l8 9l-7-1l-8-9z" fill="#38f"/><path d="M952 471l8 11l-7-1l-9-10z" fill="#39e"/><path d="M943 460l9 11l-8 0l-8-10z" fill="#29e"/><path d="M746 292l8-5l-7 3l-8 4z" fill="#fc3"/><path d="M738 298l8-6l-7 2l-9 5z" fill="#fc3"/><path d="M729 306l9-8l-8 1l-8 7z" fill="#fb3"/><path d="M721 315l8-9l-7 0l-8 8z" fill="#fb4"/><path d="M713 325l8-10l-7-1l-8 10z" fill="#eb3"/><path d="M705 337l8-12l-7-1l-9 10z" fill="#eb3"/><path d="M696 349l9-12l-8-3l-8 11z" fill="#db2"/><path d="M688 363l8-14l-7-4l-8 13z" fill="#bb3"/><path d="M680 377l8-14l-7-5l-8 13z" fill="#ac3"/><path d="M672 392l8-15l-7-6l-8 14z" fill="#8c5"/><path d="M663 408l9-16l-7-7l-9 15z" fill="#7c6"/><path d="M655 424l8-16l-7-8l-8 15z" fill="#5c7"/><path d="M647 441l8-17l-7-9l-8 16z" fill="#4c8"/><path d="M639 458l8-17l-7-10l-8 16z" fill="#3ca"/><path d="M631 475l8-17l-7-11l-9 17z" fill="#2bb"/><path d="M622 492l9-17l-8-11l-8 16z" fill="#0bb"/><path d="M614 509l8-17l-7-12l-8 17z" fill="#0bc"/><path d="M606 526l8-17l-7-12l-8 16z" fill="#1ad"/><path d="M598 543l8-17l-7-13l-9 17z" fill="#2ad"/><path d="M589 559l9-16l-8-13l-8 15z" fill="#29e"/><path d="M581 575l8-16l-7-14l-8 16z" fill="#38e"/><path d="M573 590l8-15l-7-14l-8 14z" fill="#38f"/><path d="M565 604l8-14l-7-15l-8 15z" fill="#37f"/><path d="M556 617l9-13l-7-14l-9 13z" fill="#47f"/><path d="M548 629l8-12l-7-14l-8 12z" fill="#46f"/><path d="M540 641l8-12l-7-14l-8 11z" fill="#46f"/><path d="M532 651l8-10l-7-15l-8 11z" fill="#45f"/><path d="M524 659l8-8l-7-14l-9 9z" fill="#45e"/><path d="M515 667l9-8l-8-13l-8 8z" fill="#45e"/><path d="M507 673l8-6l-7-13l-8 7z" fill="#44e"/><path d="M499 678l8-5l-7-12l-8 5z" fill="#44e"/><path d="M491 682l8-4l-7-12l-9 4z" fill="#44e"/><path d="M482 684l9-2l-8-12l-8 3z" fill="#44e"/><path d="M474 684l8 0l-7-11l-8 2z" fill="#44e"/><path d="M466 684l8 0l-7-9l-8 0z" fill="#45e"/><path d="M1008 526l8 5l-7-5l-8-5z" fill="#45f"/><path d="M1000 519l8 7l-7-5l-8-6z" fill="#46f"/><path d="M992 511l8 8l-7-4l-8-7z" fill="#46f"/><path d="M983 502l9 9l-7-3l-9-8z" fill="#37f"/><path d="M975 492l8 10l-7-2l-8-9z" fill="#37f"/><path d="M967 481l8 11l-7-1l-8-9z" fill="#38e"/><path d="M959 470l8 11l-7 1l-8-11z" fill="#29e"/><path d="M951 458l8 12l-7 1l-9-11z" fill="#29d"/><path d="M942 445l9 13l-8 2l-8-12z" fill="#2ad"/><path d="M761 285l8-5l-7 3l-8 4z" fill="#fc3"/><path d="M753 291l8-6l-7 2l-8 5z" fill="#fc3"/><path d="M745 298l8-7l-7 1l-8 6z" fill="#fc3"/><path d="M737 307l8-9l-7 0l-9 8z" fill="#fb3"/><path d="M728 317l9-10l-8-1l-8 9z" fill="#fb4"/><path d="M720 328l8-11l-7-2l-8 10z" fill="#eb3"/><path d="M712 341l8-13l-7-3l-8 12z" fill="#db3"/><path d="M704 354l8-13l-7-4l-9 12z" fill="#cb2"/><path d="M695 369l9-15l-8-5l-8 14z" fill="#bb3"/><path d="M687 384l8-15l-7-6l-8 14z" fill="#ac4"/><path d="M679 400l8-16l-7-7l-8 15z" fill="#8c5"/><path d="M671 417l8-17l-7-8l-9 16z" fill="#6c6"/><path d="M662 434l9-17l-8-9l-8 16z" fill="#4c8"/><path d="M654 451l8-17l-7-10l-8 17z" fill="#3c9"/><path d="M646 469l8-18l-7-10l-8 17z" fill="#2ba"/><path d="M638 487l8-18l-7-11l-8 17z" fill="#1bb"/><path d="M630 505l8-18l-7-12l-9 17z" fill="#0bc"/><path d="M621 522l9-17l-8-13l-8 17z" fill="#1ad"/><path d="M613 540l8-18l-7-13l-8 17z" fill="#2ad"/><path d="M605 557l8-17l-7-14l-8 17z" fill="#29e"/><path d="M597 573l8-16l-7-14l-9 16z" fill="#39e"/><path d="M588 589l9-16l-8-14l-8 16z" fill="#38f"/><path d="M580 604l8-15l-7-14l-8 15z" fill="#37f"/><path d="M572 618l8-14l-7-14l-8 14z" fill="#47f"/><path d="M564 631l8-13l-7-14l-9 13z" fill="#46f"/><path d="M555 643l9-12l-8-14l-8 12z" fill="#46f"/><path d="M547 654l8-11l-7-14l-8 12z" fill="#45f"/><path d="M539 664l8-10l-7-13l-8 10z" fill="#45e"/><path d="M531 672l8-8l-7-13l-8 8z" fill="#44e"/><path d="M522 679l9-7l-7-13l-9 8z" fill="#44e"/><path d="M514 685l8-6l-7-12l-8 6z" fill="#44e"/><path d="M506 689l8-4l-7-12l-8 5z" fill="#44e"/><path d="M498 692l8-3l-7-11l-8 4z" fill="#44e"/><path d="M490 693l8-1l-7-10l-9 2z" fill="#44e"/><path d="M481 693l9 0l-8-9l-8 0z" fill="#44e"/><path d="M473 691l8 2l-7-9l-8 0z" fill="#44e"/><path d="M1024 536l8 5l-7-5l-9-5z" fill="#45e"/><path d="M1015 529l9 7l-8-5l-8-5z" fill="#45f"/><path d="M1007 521l8 8l-7-3l-8-7z" fill="#46f"/><path d="M999 513l8 8l-7-2l-8-8z" fill="#46f"/><path d="M991 503l8 10l-7-2l-9-9z" fill="#37f"/><path d="M982 492l9 11l-8-1l-8-10z" fill="#38f"/><path d="M974 480l8 12l-7 0l-8-11z" fill="#38e"/><path d="M966 467l8 13l-7 1l-8-11z" fill="#29e"/><path d="M958 454l8 13l-7 3l-8-12z" fill="#2ad"/><path d="M950 441l8 13l-7 4l-9-13z" fill="#1ad"/><path d="M777 278l8-4l-7 3l-9 3z" fill="#fd3"/><path d="M768 284l9-6l-8 2l-8 5z" fill="#fd3"/><path d="M760 291l8-7l-7 1l-8 6z" fill="#fc3"/><path d="M752 299l8-8l-7 0l-8 7z" fill="#fc3"/><path d="M744 309l8-10l-7-1l-8 9z" fill="#fc3"/><path d="M735 320l9-11l-7-2l-9 10z" fill="#fb4"/><path d="M727 332l8-12l-7-3l-8 11z" fill="#eb3"/><path d="M719 346l8-14l-7-4l-8 13z" fill="#db3"/><path d="M711 360l8-14l-7-5l-8 13z" fill="#cb2"/><path d="M703 376l8-16l-7-6l-9 15z" fill="#bc3"/><path d="M694 392l9-16l-8-7l-8 15z" fill="#9c4"/><path d="M686 409l8-17l-7-8l-8 16z" fill="#7c6"/><path d="M678 426l8-17l-7-9l-8 17z" fill="#5c7"/><path d="M670 444l8-18l-7-9l-9 17z" fill="#4c8"/><path d="M661 463l9-19l-8-10l-8 17z" fill="#3ca"/><path d="M653 481l8-18l-7-12l-8 18z" fill="#2bb"/><path d="M645 500l8-19l-7-12l-8 18z" fill="#0bc"/><path d="M637 518l8-18l-7-13l-8 18z" fill="#1ac"/><path d="M628 536l9-18l-7-13l-9 17z" fill="#2ad"/><path d="M620 554l8-18l-7-14l-8 18z" fill="#29e"/><path d="M612 571l8-17l-7-14l-8 17z" fill="#29e"/><path d="M604 588l8-17l-7-14l-8 16z" fill="#38e"/><path d="M596 604l8-16l-7-15l-9 16z" fill="#37f"/><path d="M587 619l9-15l-8-15l-8 15z" fill="#47f"/><path d="M579 633l8-14l-7-15l-8 14z" fill="#46f"/><path d="M571 645l8-12l-7-15l-8 13z" fill="#46f"/><path d="M563 657l8-12l-7-14l-9 12z" fill="#45e"/><path d="M554 668l9-11l-8-14l-8 11z" fill="#45e"/><path d="M546 677l8-9l-7-14l-8 10z" fill="#44e"/><path d="M538 685l8-8l-7-13l-8 8z" fill="#44e"/><path d="M530 691l8-6l-7-13l-9 7z" fill="#44d"/><path d="M521 696l9-5l-8-12l-8 6z" fill="#44d"/><path d="M513 699l8-3l-7-11l-8 4z" fill="#44d"/><path d="M505 701l8-2l-7-10l-8 3z" fill="#44d"/><path d="M497 702l8-1l-7-9l-8 1z" fill="#44d"/><path d="M488 700l9 2l-7-9l-9 0z" fill="#44e"/><path d="M480 698l8 2l-7-7l-8-2z" fill="#44e"/><path d="M1039 546l8 5l-7-6l-8-4z" fill="#44e"/><path d="M1031 539l8 7l-7-5l-8-5z" fill="#45e"/><path d="M1023 532l8 7l-7-3l-9-7z" fill="#45f"/><path d="M1014 523l9 9l-8-3l-8-8z" fill="#46f"/><path d="M1006 513l8 10l-7-2l-8-8z" fill="#46f"/><path d="M998 502l8 11l-7 0l-8-10z" fill="#37f"/><path d="M990 490l8 12l-7 1l-9-11z" fill="#38f"/><path d="M981 477l9 13l-8 2l-8-12z" fill="#39e"/><path d="M973 464l8 13l-7 3l-8-13z" fill="#29e"/><path d="M965 450l8 14l-7 3l-8-13z" fill="#2ad"/><path d="M957 436l8 14l-7 4l-8-13z" fill="#1ac"/><path d="M948 422l9 14l-7 5l-9-14z" fill="#0bc"/><path d="M792 272l8-3l-7 2l-8 3z" fill="#ed2"/><path d="M784 277l8-5l-7 2l-8 4z" fill="#fd2"/><path d="M776 284l8-7l-7 1l-9 6z" fill="#fd3"/><path d="M767 292l9-8l-8 0l-8 7z" fill="#fc3"/><path d="M759 301l8-9l-7-1l-8 8z" fill="#fc3"/><path d="M751 312l8-11l-7-2l-8 10z" fill="#fc3"/><path d="M743 324l8-12l-7-3l-9 11z" fill="#fb4"/><path d="M734 338l9-14l-8-4l-8 12z" fill="#eb3"/><path d="M726 352l8-14l-7-6l-8 14z" fill="#db2"/><path d="M718 368l8-16l-7-6l-8 14z" fill="#cb2"/><path d="M710 384l8-16l-7-8l-8 16z" fill="#ac3"/><path d="M701 401l9-17l-7-8l-9 16z" fill="#8c5"/><path d="M693 419l8-18l-7-9l-8 17z" fill="#6c6"/><path d="M685 437l8-18l-7-10l-8 17z" fill="#4c8"/><path d="M677 456l8-19l-7-11l-8 18z" fill="#3c9"/><path d="M669 475l8-19l-7-12l-9 19z" fill="#2ba"/><path d="M660 494l9-19l-8-12l-8 18z" fill="#1bb"/><path d="M652 513l8-19l-7-13l-8 19z" fill="#0bc"/><path d="M644 531l8-18l-7-13l-8 18z" fill="#1ad"/><path d="M636 550l8-19l-7-13l-9 18z" fill="#2ad"/><path d="M627 568l9-18l-8-14l-8 18z" fill="#29e"/><path d="M619 585l8-17l-7-14l-8 17z" fill="#38e"/><path d="M611 602l8-17l-7-14l-8 17z" fill="#37f"/><path d="M603 618l8-16l-7-14l-8 16z" fill="#37f"/><path d="M594 633l9-15l-7-14l-9 15z" fill="#46f"/><path d="M586 647l8-14l-7-14l-8 14z" fill="#46f"/><path d="M578 659l8-12l-7-14l-8 12z" fill="#45e"/><path d="M570 670l8-11l-7-14l-8 12z" fill="#45e"/><path d="M562 680l8-10l-7-13l-9 11z" fill="#44e"/><path d="M553 689l9-9l-8-12l-8 9z" fill="#44d"/><path d="M545 696l8-7l-7-12l-8 8z" fill="#44d"/><path d="M537 702l8-6l-7-11l-8 6z" fill="#43d"/><path d="M529 706l8-4l-7-11l-9 5z" fill="#43d"/><path d="M520 708l9-2l-8-10l-8 3z" fill="#43d"/><path d="M512 709l8-1l-7-9l-8 2z" fill="#43d"/><path d="M504 709l8 0l-7-8l-8 1z" fill="#44d"/><path d="M496 707l8 2l-7-7l-9-2z" fill="#44d"/><path d="M487 703l9 4l-8-7l-8-2z" fill="#44e"/><path d="M1046 549l8 6l-7-4l-8-5z" fill="#44e"/><path d="M1038 542l8 7l-7-3l-8-7z" fill="#45e"/><path d="M1030 533l8 9l-7-3l-8-7z" fill="#45f"/><path d="M1021 523l9 10l-7-1l-9-9z" fill="#46f"/><path d="M1013 512l8 11l-7 0l-8-10z" fill="#47f"/><path d="M1005 500l8 12l-7 1l-8-11z" fill="#37f"/><path d="M997 488l8 12l-7 2l-8-12z" fill="#38e"/><path d="M989 474l8 14l-7 2l-9-13z" fill="#29e"/><path d="M980 460l9 14l-8 3l-8-13z" fill="#2ad"/><path d="M972 445l8 15l-7 4l-8-14z" fill="#1ad"/><path d="M964 431l8 14l-7 5l-8-14z" fill="#0bc"/><path d="M956 416l8 15l-7 5l-9-14z" fill="#1bb"/><path d="M807 267l9-3l-8 3l-8 2z" fill="#ed2"/><path d="M799 272l8-5l-7 2l-8 3z" fill="#ed2"/><path d="M791 278l8-6l-7 0l-8 5z" fill="#ed2"/><path d="M783 285l8-7l-7-1l-8 7z" fill="#fd3"/><path d="M774 294l9-9l-7-1l-9 8z" fill="#fc3"/><path d="M766 305l8-11l-7-2l-8 9z" fill="#fc3"/><path d="M758 317l8-12l-7-4l-8 11z" fill="#fb3"/><path d="M750 330l8-13l-7-5l-8 12z" fill="#fb4"/><path d="M742 344l8-14l-7-6l-9 14z" fill="#eb3"/><path d="M733 359l9-15l-8-6l-8 14z" fill="#db2"/><path d="M725 376l8-17l-7-7l-8 16z" fill="#bb3"/><path d="M717 393l8-17l-7-8l-8 16z" fill="#9c4"/><path d="M709 411l8-18l-7-9l-9 17z" fill="#7c5"/><path d="M700 430l9-19l-8-10l-8 18z" fill="#5c7"/><path d="M692 449l8-19l-7-11l-8 18z" fill="#4c8"/><path d="M684 468l8-19l-7-12l-8 19z" fill="#3ca"/><path d="M676 487l8-19l-7-12l-8 19z" fill="#1bb"/><path d="M667 507l9-20l-7-12l-9 19z" fill="#0bc"/><path d="M659 526l8-19l-7-13l-8 19z" fill="#1ad"/><path d="M651 545l8-19l-7-13l-8 18z" fill="#2ad"/><path d="M643 564l8-19l-7-14l-8 19z" fill="#29e"/><path d="M635 582l8-18l-7-14l-9 18z" fill="#38e"/><path d="M626 600l9-18l-8-14l-8 17z" fill="#38f"/><path d="M618 616l8-16l-7-15l-8 17z" fill="#37f"/><path d="M610 632l8-16l-7-14l-8 16z" fill="#46f"/><path d="M602 647l8-15l-7-14l-9 15z" fill="#46f"/><path d="M593 660l9-13l-8-14l-8 14z" fill="#45e"/><path d="M585 672l8-12l-7-13l-8 12z" fill="#45e"/><path d="M577 683l8-11l-7-13l-8 11z" fill="#44e"/><path d="M569 693l8-10l-7-13l-8 10z" fill="#44d"/><path d="M560 701l9-8l-7-13l-9 9z" fill="#43d"/><path d="M552 707l8-6l-7-12l-8 7z" fill="#43d"/><path d="M544 712l8-5l-7-11l-8 6z" fill="#43c"/><path d="M536 715l8-3l-7-10l-8 4z" fill="#43c"/><path d="M528 717l8-2l-7-9l-9 2z" fill="#43c"/><path d="M519 717l9 0l-8-9l-8 1z" fill="#43d"/><path d="M511 715l8 2l-7-8l-8 0z" fill="#43d"/><path d="M503 712l8 3l-7-6l-8-2z" fill="#44d"/><path d="M495 708l8 4l-7-5l-9-4z" fill="#44e"/><path d="M1053 551l9 7l-8-3l-8-6z" fill="#44e"/><path d="M1045 543l8 8l-7-2l-8-7z" fill="#45e"/><path d="M1037 533l8 10l-7-1l-8-9z" fill="#46f"/><path d="M1029 522l8 11l-7 0l-9-10z" fill="#46f"/><path d="M1020 510l9 12l-8 1l-8-11z" fill="#37f"/><path d="M1012 498l8 12l-7 2l-8-12z" fill="#38f"/><path d="M1004 484l8 14l-7 2l-8-12z" fill="#38e"/><path d="M996 470l8 14l-7 4l-8-14z" fill="#29e"/><path d="M987 455l9 15l-7 4l-9-14z" fill="#2ad"/><path d="M979 440l8 15l-7 5l-8-15z" fill="#1ac"/><path d="M971 424l8 16l-7 5l-8-14z" fill="#0bb"/><path d="M963 409l8 15l-7 7l-8-15z" fill="#2ba"/><path d="M815 267l8-4l-7 1l-9 3z" fill="#ee2"/><path d="M806 272l9-5l-8 0l-8 5z" fill="#ed2"/><path d="M798 279l8-7l-7 0l-8 6z" fill="#ed2"/><path d="M790 288l8-9l-7-1l-8 7z" fill="#fd3"/><path d="M782 298l8-10l-7-3l-9 9z" fill="#fc3"/><path d="M773 309l9-11l-8-4l-8 11z" fill="#fc3"/><path d="M765 322l8-13l-7-4l-8 12z" fill="#fb3"/><path d="M757 336l8-14l-7-5l-8 13z" fill="#fb4"/><path d="M749 351l8-15l-7-6l-8 14z" fill="#db3"/><path d="M741 368l8-17l-7-7l-9 15z" fill="#cb2"/><path d="M732 385l9-17l-8-9l-8 17z" fill="#bc3"/><path d="M724 403l8-18l-7-9l-8 17z" fill="#9c4"/><path d="M716 422l8-19l-7-10l-8 18z" fill="#6c6"/><path d="M708 441l8-19l-7-11l-9 19z" fill="#5c8"/><path d="M699 461l9-20l-8-11l-8 19z" fill="#3c9"/><path d="M691 481l8-20l-7-12l-8 19z" fill="#2ba"/><path d="M683 501l8-20l-7-13l-8 19z" fill="#0bb"/><path d="M675 521l8-20l-7-14l-9 20z" fill="#1bc"/><path d="M666 540l9-19l-8-14l-8 19z" fill="#2ad"/><path d="M658 560l8-20l-7-14l-8 19z" fill="#29e"/><path d="M650 579l8-19l-7-15l-8 19z" fill="#39e"/><path d="M642 597l8-18l-7-15l-8 18z" fill="#38f"/><path d="M633 614l9-17l-7-15l-9 18z" fill="#37f"/><path d="M625 631l8-17l-7-14l-8 16z" fill="#46f"/><path d="M617 646l8-15l-7-15l-8 16z" fill="#46f"/><path d="M609 660l8-14l-7-14l-8 15z" fill="#45e"/><path d="M601 673l8-13l-7-13l-9 13z" fill="#45e"/><path d="M592 685l9-12l-8-13l-8 12z" fill="#44e"/><path d="M584 695l8-10l-7-13l-8 11z" fill="#44d"/><path d="M518 720l8 3l-7-6l-8-2z" fill="#43d"/><path d="M510 716l8 4l-7-5l-8-3z" fill="#44d"/><path d="M502 711l8 5l-7-4l-8-4z" fill="#44e"/><path d="M1061 552l8 8l-7-2l-9-7z" fill="#45e"/><path d="M1052 543l9 9l-8-1l-8-8z" fill="#45f"/><path d="M1044 532l8 11l-7 0l-8-10z" fill="#46f"/><path d="M1036 520l8 12l-7 1l-8-11z" fill="#46f"/><path d="M1028 508l8 12l-7 2l-9-12z" fill="#37f"/><path d="M1019 494l9 14l-8 2l-8-12z" fill="#38e"/><path d="M1011 480l8 14l-7 4l-8-14z" fill="#29e"/><path d="M1003 465l8 15l-7 4l-8-14z" fill="#2ad"/><path d="M995 449l8 16l-7 5l-9-15z" fill="#1ad"/><path d="M986 434l9 15l-8 6l-8-15z" fill="#0bc"/><path d="M978 418l8 16l-7 6l-8-16z" fill="#1bb"/><path d="M970 402l8 16l-7 6l-8-15z" fill="#3ca"/><path d="M830 263l8-4l-7 2l-8 2z" fill="#ee2"/><path d="M822 267l8-4l-7 0l-8 4z" fill="#ee2"/><path d="M814 274l8-7l-7 0l-9 5z" fill="#ee2"/><path d="M805 282l9-8l-8-2l-8 7z" fill="#ed2"/><path d="M797 291l8-9l-7-3l-8 9z" fill="#fd3"/><path d="M789 302l8-11l-7-3l-8 10z" fill="#fc3"/><path d="M781 315l8-13l-7-4l-9 11z" fill="#fc3"/><path d="M772 329l9-14l-8-6l-8 13z" fill="#fb4"/><path d="M764 344l8-15l-7-7l-8 14z" fill="#eb3"/><path d="M756 360l8-16l-7-8l-8 15z" fill="#db2"/><path d="M748 377l8-17l-7-9l-8 17z" fill="#cb3"/><path d="M739 395l9-18l-7-9l-9 17z" fill="#ac4"/><path d="M731 414l8-19l-7-10l-8 18z" fill="#8c5"/><path d="M723 434l8-20l-7-11l-8 19z" fill="#5c7"/><path d="M715 454l8-20l-7-12l-8 19z" fill="#4c8"/><path d="M707 474l8-20l-7-13l-9 20z" fill="#3ca"/><path d="M698 494l9-20l-8-13l-8 20z" fill="#1bb"/><path d="M690 514l8-20l-7-13l-8 20z" fill="#0bc"/><path d="M682 535l8-21l-7-13l-8 20z" fill="#1ad"/><path d="M674 555l8-20l-7-14l-9 19z" fill="#2ad"/><path d="M665 574l9-19l-8-15l-8 20z" fill="#29e"/><path d="M657 593l8-19l-7-14l-8 19z" fill="#38e"/><path d="M649 611l8-18l-7-14l-8 18z" fill="#37f"/><path d="M641 628l8-17l-7-14l-9 17z" fill="#46f"/><path d="M632 644l9-16l-8-14l-8 17z" fill="#46f"/><path d="M534 728l8 2l-7-6l-9-1z" fill="#43c"/><path d="M525 724l9 4l-8-5l-8-3z" fill="#43d"/><path d="M517 719l8 5l-7-4l-8-4z" fill="#44d"/><path d="M509 713l8 6l-7-3l-8-5z" fill="#44e"/><path d="M1068 552l8 9l-7-1l-8-8z" fill="#45e"/><path d="M1059 542l9 10l-7 0l-9-9z" fill="#45f"/><path d="M1051 530l8 12l-7 1l-8-11z" fill="#46f"/><path d="M1043 517l8 13l-7 2l-8-12z" fill="#37f"/><path d="M1035 504l8 13l-7 3l-8-12z" fill="#38f"/><path d="M1027 490l8 14l-7 4l-9-14z" fill="#38e"/><path d="M1018 474l9 16l-8 4l-8-14z" fill="#29e"/><path d="M1010 459l8 15l-7 6l-8-15z" fill="#2ad"/><path d="M1002 443l8 16l-7 6l-8-16z" fill="#1bc"/><path d="M994 427l8 16l-7 6l-9-15z" fill="#0bb"/><path d="M985 411l9 16l-8 7l-8-16z" fill="#2ba"/><path d="M977 394l8 17l-7 7l-8-16z" fill="#3c9"/><path d="M969 378l8 16l-7 8l-8-16z" fill="#5c7"/><path d="M845 259l9-2l-8 1l-8 1z" fill="#ee2"/><path d="M837 263l8-4l-7 0l-8 4z" fill="#ee2"/><path d="M829 269l8-6l-7 0l-8 4z" fill="#ee2"/><path d="M821 276l8-7l-7-2l-8 7z" fill="#ee2"/><path d="M812 285l9-9l-7-2l-9 8z" fill="#ed2"/><path d="M804 296l8-11l-7-3l-8 9z" fill="#fd3"/><path d="M796 308l8-12l-7-5l-8 11z" fill="#fc3"/><path d="M788 322l8-14l-7-6l-8 13z" fill="#fc3"/><path d="M780 336l8-14l-7-7l-9 14z" fill="#fb4"/><path d="M771 352l9-16l-8-7l-8 15z" fill="#eb3"/><path d="M763 370l8-18l-7-8l-8 16z" fill="#cb2"/><path d="M755 388l8-18l-7-10l-8 17z" fill="#bc3"/><path d="M747 406l8-18l-7-11l-9 18z" fill="#9c4"/><path d="M738 426l9-20l-8-11l-8 19z" fill="#7c6"/><path d="M730 446l8-20l-7-12l-8 20z" fill="#4c8"/><path d="M722 466l8-20l-7-12l-8 20z" fill="#3c9"/><path d="M714 487l8-21l-7-12l-8 20z" fill="#2ba"/><path d="M705 508l9-21l-7-13l-9 20z" fill="#0bc"/><path d="M697 529l8-21l-7-14l-8 20z" fill="#1ad"/><path d="M689 549l8-20l-7-15l-8 21z" fill="#2ad"/><path d="M681 569l8-20l-7-14l-8 20z" fill="#29e"/><path d="M673 588l8-19l-7-14l-9 19z" fill="#38e"/><path d="M664 607l9-19l-8-14l-8 19z" fill="#38f"/><path d="M656 625l8-18l-7-14l-8 18z" fill="#37f"/><path d="M648 642l8-17l-7-14l-8 17z" fill="#46f"/><path d="M533 727l8 5l-7-4l-9-4z" fill="#43d"/><path d="M524 721l9 6l-8-3l-8-5z" fill="#44d"/><path d="M516 714l8 7l-7-2l-8-6z" fill="#44e"/><path d="M1075 551l8 10l-7 0l-8-9z" fill="#45e"/><path d="M1067 539l8 12l-7 1l-9-10z" fill="#46f"/><path d="M1058 527l9 12l-8 3l-8-12z" fill="#46f"/><path d="M1050 514l8 13l-7 3l-8-13z" fill="#37f"/><path d="M1042 499l8 15l-7 3l-8-13z" fill="#38e"/><path d="M1034 484l8 15l-7 5l-8-14z" fill="#29e"/><path d="M1025 469l9 15l-7 6l-9-16z" fill="#2ad"/><path d="M1017 453l8 16l-7 5l-8-15z" fill="#1ad"/><path d="M1009 436l8 17l-7 6l-8-16z" fill="#0bc"/><path d="M1001 420l8 16l-7 7l-8-16z" fill="#1bb"/><path d="M993 403l8 17l-7 7l-9-16z" fill="#3ca"/><path d="M984 387l9 16l-8 8l-8-17z" fill="#4c8"/><path d="M976 371l8 16l-7 7l-8-16z" fill="#6c6"/><path d="M861 257l8-2l-7 1l-8 1z" fill="#fe2"/><path d="M853 260l8-3l-7 0l-9 2z" fill="#fe2"/><path d="M844 265l9-5l-8-1l-8 4z" fill="#ee2"/><path d="M836 272l8-7l-7-2l-8 6z" fill="#ee2"/><path d="M828 280l8-8l-7-3l-8 7z" fill="#ee2"/><path d="M820 290l8-10l-7-4l-9 9z" fill="#ed2"/><path d="M811 302l9-12l-8-5l-8 11z" fill="#fd3"/><path d="M803 315l8-13l-7-6l-8 12z" fill="#fc3"/><path d="M795 329l8-14l-7-7l-8 14z" fill="#fb3"/><path d="M787 345l8-16l-7-7l-8 14z" fill="#eb3"/><path d="M778 362l9-17l-7-9l-9 16z" fill="#db3"/><path d="M770 380l8-18l-7-10l-8 18z" fill="#cb2"/><path d="M762 399l8-19l-7-10l-8 18z" fill="#ac4"/><path d="M754 418l8-19l-7-11l-8 18z" fill="#8c5"/><path d="M746 438l8-20l-7-12l-9 20z" fill="#5c7"/><path d="M737 459l9-21l-8-12l-8 20z" fill="#4c9"/><path d="M729 480l8-21l-7-13l-8 20z" fill="#3ba"/><path d="M721 501l8-21l-7-14l-8 21z" fill="#1bb"/><path d="M713 522l8-21l-7-14l-9 21z" fill="#0bc"/><path d="M704 543l9-21l-8-14l-8 21z" fill="#2ad"/><path d="M696 563l8-20l-7-14l-8 20z" fill="#29d"/><path d="M688 583l8-20l-7-14l-8 20z" fill="#29e"/><path d="M680 603l8-20l-7-14l-8 19z" fill="#38f"/><path d="M671 621l9-18l-7-15l-9 19z" fill="#37f"/><path d="M663 639l8-18l-7-14l-8 18z" fill="#46f"/><path d="M655 655l8-16l-7-14l-8 17z" fill="#45f"/><path d="M548 735l8 4l-7-4l-8-3z" fill="#43c"/><path d="M540 729l8 6l-7-3l-8-5z" fill="#43d"/><path d="M532 722l8 7l-7-2l-9-6z" fill="#44d"/><path d="M523 713l9 9l-8-1l-8-7z" fill="#44e"/><path d="M1082 548l8 11l-7 2l-8-10z" fill="#45f"/><path d="M1074 536l8 12l-7 3l-8-12z" fill="#46f"/><path d="M1066 523l8 13l-7 3l-9-12z" fill="#37f"/><path d="M1057 509l9 14l-8 4l-8-13z" fill="#38f"/><path d="M1049 494l8 15l-7 5l-8-15z" fill="#38e"/><path d="M1041 478l8 16l-7 5l-8-15z" fill="#29e"/><path d="M1033 462l8 16l-7 6l-9-15z" fill="#2ad"/><path d="M1024 446l9 16l-8 7l-8-16z" fill="#1bc"/><path d="M1016 429l8 17l-7 7l-8-17z" fill="#0bb"/><path d="M1008 412l8 17l-7 7l-8-16z" fill="#2ba"/><path d="M1000 395l8 17l-7 8l-8-17z" fill="#3c9"/><path d="M991 379l9 16l-7 8l-9-16z" fill="#5c7"/><path d="M983 363l8 16l-7 8l-8-16z" fill="#7c5"/><path d="M868 258l8-3l-7 0l-8 2z" fill="#fe2"/><path d="M860 262l8-4l-7-1l-8 3z" fill="#fe2"/><path d="M852 268l8-6l-7-2l-9 5z" fill="#ee2"/><path d="M843 276l9-8l-8-3l-8 7z" fill="#ee2"/><path d="M835 285l8-9l-7-4l-8 8z" fill="#ed2"/><path d="M827 296l8-11l-7-5l-8 10z" fill="#fd2"/><path d="M819 309l8-13l-7-6l-9 12z" fill="#fc3"/><path d="M810 323l9-14l-8-7l-8 13z" fill="#fc3"/><path d="M802 338l8-15l-7-8l-8 14z" fill="#fb4"/><path d="M794 355l8-17l-7-9l-8 16z" fill="#eb3"/><path d="M786 373l8-18l-7-10l-9 17z" fill="#db2"/><path d="M777 391l9-18l-8-11l-8 18z" fill="#bc3"/><path d="M769 411l8-20l-7-11l-8 19z" fill="#9c4"/><path d="M761 431l8-20l-7-12l-8 19z" fill="#6c6"/><path d="M753 452l8-21l-7-13l-8 20z" fill="#4c8"/><path d="M744 473l9-21l-7-14l-9 21z" fill="#3c9"/><path d="M736 494l8-21l-7-14l-8 21z" fill="#2bb"/><path d="M728 515l8-21l-7-14l-8 21z" fill="#0bc"/><path d="M720 536l8-21l-7-14l-8 21z" fill="#1ad"/><path d="M712 557l8-21l-7-14l-9 21z" fill="#2ad"/><path d="M703 578l9-21l-8-14l-8 20z" fill="#29e"/><path d="M695 598l8-20l-7-15l-8 20z" fill="#38e"/><path d="M687 617l8-19l-7-15l-8 20z" fill="#37f"/><path d="M679 635l8-18l-7-14l-9 18z" fill="#46f"/><path d="M670 652l9-17l-8-14l-8 18z" fill="#46f"/><path d="M662 668l8-16l-7-13l-8 16z" fill="#45e"/><path d="M563 741l9 3l-8-3l-8-2z" fill="#43c"/><path d="M555 736l8 5l-7-2l-8-4z" fill="#43c"/><path d="M547 730l8 6l-7-1l-8-6z" fill="#43d"/><path d="M539 722l8 8l-7-1l-8-7z" fill="#44e"/><path d="M530 712l9 10l-7 0l-9-9z" fill="#45e"/><path d="M1089 545l8 12l-7 2l-8-11z" fill="#46f"/><path d="M1081 532l8 13l-7 3l-8-12z" fill="#46f"/><path d="M1073 518l8 14l-7 4l-8-13z" fill="#37f"/><path d="M1064 504l9 14l-7 5l-9-14z" fill="#38e"/><path d="M1056 488l8 16l-7 5l-8-15z" fill="#29e"/><path d="M1048 472l8 16l-7 6l-8-16z" fill="#2ad"/><path d="M1040 455l8 17l-7 6l-8-16z" fill="#1ad"/><path d="M1032 438l8 17l-7 7l-9-16z" fill="#0bc"/><path d="M1023 421l9 17l-8 8l-8-17z" fill="#2bb"/><path d="M1015 404l8 17l-7 8l-8-17z" fill="#3c9"/><path d="M1007 388l8 16l-7 8l-8-17z" fill="#4c8"/><path d="M999 371l8 17l-7 7l-9-16z" fill="#6c6"/><path d="M990 355l9 16l-8 8l-8-16z" fill="#9c4"/><path d="M883 256l9-2l-8 0l-8 1z" fill="#ff1"/><path d="M875 260l8-4l-7-1l-8 3z" fill="#ff1"/><path d="M867 265l8-5l-7-2l-8 4z" fill="#fe2"/><path d="M859 272l8-7l-7-3l-8 6z" fill="#ee2"/><path d="M850 281l9-9l-7-4l-9 8z" fill="#ee2"/><path d="M842 292l8-11l-7-5l-8 9z" fill="#ed2"/><path d="M834 304l8-12l-7-7l-8 11z" fill="#fd3"/><path d="M826 317l8-13l-7-8l-8 13z" fill="#fc3"/><path d="M818 332l8-15l-7-8l-9 14z" fill="#fb3"/><path d="M809 348l9-16l-8-9l-8 15z" fill="#fb4"/><path d="M801 366l8-18l-7-10l-8 17z" fill="#db3"/><path d="M793 384l8-18l-7-11l-8 18z" fill="#cb2"/><path d="M785 403l8-19l-7-11l-9 18z" fill="#ac4"/><path d="M776 423l9-20l-8-12l-8 20z" fill="#8c5"/><path d="M768 444l8-21l-7-12l-8 20z" fill="#5c7"/><path d="M760 465l8-21l-7-13l-8 21z" fill="#3c9"/><path d="M752 486l8-21l-7-13l-9 21z" fill="#2ba"/><path d="M743 508l9-22l-8-13l-8 21z" fill="#1bb"/><path d="M735 529l8-21l-7-14l-8 21z" fill="#1bc"/><path d="M727 551l8-22l-7-14l-8 21z" fill="#2ad"/><path d="M719 572l8-21l-7-15l-8 21z" fill="#29e"/><path d="M710 592l9-20l-7-15l-9 21z" fill="#38e"/><path d="M702 612l8-20l-7-14l-8 20z" fill="#38f"/><path d="M694 630l8-18l-7-14l-8 19z" fill="#37f"/><path d="M686 648l8-18l-7-13l-8 18z" fill="#46f"/><path d="M678 665l8-17l-7-13l-9 17z" fill="#45f"/><path d="M669 681l9-16l-8-13l-8 16z" fill="#45e"/><path d="M579 747l8 3l-7-4l-8-2z" fill="#43b"/><path d="M571 743l8 4l-7-3l-9-3z" fill="#43c"/><path d="M562 737l9 6l-8-2l-8-5z" fill="#43d"/><path d="M554 729l8 8l-7-1l-8-6z" fill="#44d"/><path d="M546 720l8 9l-7 1l-8-8z" fill="#44e"/><path d="M538 710l8 10l-7 2l-9-10z" fill="#45e"/><path d="M1096 541l9 12l-8 4l-8-12z" fill="#46f"/><path d="M1088 527l8 14l-7 4l-8-13z" fill="#37f"/><path d="M1080 513l8 14l-7 5l-8-14z" fill="#38f"/><path d="M1072 497l8 16l-7 5l-9-14z" fill="#38e"/><path d="M1063 481l9 16l-8 7l-8-16z" fill="#29e"/><path d="M1055 465l8 16l-7 7l-8-16z" fill="#2ad"/><path d="M1047 448l8 17l-7 7l-8-17z" fill="#0bc"/><path d="M1039 431l8 17l-7 7l-8-17z" fill="#1bb"/><path d="M1030 414l9 17l-7 7l-9-17z" fill="#3ba"/><path d="M1022 397l8 17l-7 7l-8-17z" fill="#4c8"/><path d="M1014 380l8 17l-7 7l-8-16z" fill="#6c7"/><path d="M1006 364l8 16l-7 8l-8-17z" fill="#8c5"/><path d="M998 348l8 16l-7 7l-9-16z" fill="#ac3"/><path d="M899 256l8-1l-7-1l-8 0z" fill="#ff1"/><path d="M891 258l8-2l-7-2l-9 2z" fill="#ff1"/><path d="M882 263l9-5l-8-2l-8 4z" fill="#ff1"/><path d="M874 269l8-6l-7-3l-8 5z" fill="#fe2"/><path d="M866 278l8-9l-7-4l-8 7z" fill="#ee2"/><path d="M858 287l8-9l-7-6l-9 9z" fill="#ee2"/><path d="M849 299l9-12l-8-6l-8 11z" fill="#ed2"/><path d="M841 312l8-13l-7-7l-8 12z" fill="#fc3"/><path d="M833 326l8-14l-7-8l-8 13z" fill="#fc3"/><path d="M825 342l8-16l-7-9l-8 15z" fill="#fb4"/><path d="M816 359l9-17l-7-10l-9 16z" fill="#eb3"/><path d="M808 377l8-18l-7-11l-8 18z" fill="#db2"/><path d="M800 396l8-19l-7-11l-8 18z" fill="#bc3"/><path d="M792 416l8-20l-7-12l-8 19z" fill="#9c4"/><path d="M784 437l8-21l-7-13l-9 20z" fill="#6c6"/><path d="M775 458l9-21l-8-14l-8 21z" fill="#4c8"/><path d="M767 479l8-21l-7-14l-8 21z" fill="#3c9"/><path d="M759 501l8-22l-7-14l-8 21z" fill="#1bb"/><path d="M751 522l8-21l-7-15l-9 22z" fill="#0bc"/><path d="M742 544l9-22l-8-14l-8 21z" fill="#1ad"/><path d="M734 565l8-21l-7-15l-8 22z" fill="#2ad"/><path d="M726 586l8-21l-7-14l-8 21z" fill="#29e"/><path d="M718 606l8-20l-7-14l-9 20z" fill="#38f"/><path d="M709 625l9-19l-8-14l-8 20z" fill="#37f"/><path d="M701 644l8-19l-7-13l-8 18z" fill="#46f"/><path d="M693 661l8-17l-7-14l-8 18z" fill="#45f"/><path d="M685 677l8-16l-7-13l-8 17z" fill="#45e"/><path d="M677 692l8-15l-7-12l-9 16z" fill="#44e"/><path d="M594 752l8 2l-7-4l-8 0z" fill="#43b"/><path d="M586 748l8 4l-7-2l-8-3z" fill="#43b"/><path d="M578 743l8 5l-7-1l-8-4z" fill="#43c"/><path d="M569 736l9 7l-7 0l-9-6z" fill="#43d"/><path d="M561 727l8 9l-7 1l-8-8z" fill="#44e"/><path d="M553 718l8 9l-7 2l-8-9z" fill="#45e"/><path d="M545 706l8 12l-7 2l-8-10z" fill="#45f"/><path d="M1104 536l8 13l-7 4l-9-12z" fill="#46f"/><path d="M1095 522l9 14l-8 5l-8-14z" fill="#37f"/><path d="M1087 507l8 15l-7 5l-8-14z" fill="#38e"/><path d="M1079 491l8 16l-7 6l-8-16z" fill="#29e"/><path d="M1071 474l8 17l-7 6l-9-16z" fill="#2ad"/><path d="M1062 457l9 17l-8 7l-8-16z" fill="#1ad"/><path d="M1054 440l8 17l-7 8l-8-17z" fill="#0bc"/><path d="M1046 423l8 17l-7 8l-8-17z" fill="#2ba"/><path d="M1038 406l8 17l-7 8l-9-17z" fill="#3c9"/><path d="M1029 389l9 17l-8 8l-8-17z" fill="#5c8"/><path d="M1021 372l8 17l-7 8l-8-17z" fill="#7c6"/><path d="M1013 356l8 16l-7 8l-8-16z" fill="#9c4"/><path d="M1005 341l8 15l-7 8l-8-16z" fill="#bb3"/><path d="M914 256l8 0l-7-1l-8 0z" fill="#ff1"/><path d="M906 258l8-2l-7-1l-8 1z" fill="#ff1"/><path d="M898 262l8-4l-7-2l-8 2z" fill="#ff1"/><path d="M889 267l9-5l-7-4l-9 5z" fill="#fe2"/><path d="M881 275l8-8l-7-4l-8 6z" fill="#ee2"/><path d="M873 284l8-9l-7-6l-8 9z" fill="#ee2"/><path d="M865 295l8-11l-7-6l-8 9z" fill="#ed2"/><path d="M857 307l8-12l-7-8l-9 12z" fill="#fd3"/><path d="M848 321l9-14l-8-8l-8 13z" fill="#fc3"/><path d="M840 336l8-15l-7-9l-8 14z" fill="#fb3"/><path d="M832 353l8-17l-7-10l-8 16z" fill="#eb4"/><path d="M824 371l8-18l-7-11l-9 17z" fill="#db3"/><path d="M815 389l9-18l-8-12l-8 18z" fill="#cb2"/><path d="M807 409l8-20l-7-12l-8 19z" fill="#ac4"/><path d="M799 429l8-20l-7-13l-8 20z" fill="#7c5"/><path d="M791 450l8-21l-7-13l-8 21z" fill="#5c7"/><path d="M782 472l9-22l-7-13l-9 21z" fill="#3c9"/><path d="M774 493l8-21l-7-14l-8 21z" fill="#2ba"/><path d="M766 515l8-22l-7-14l-8 22z" fill="#0bb"/><path d="M758 537l8-22l-7-14l-8 21z" fill="#1bc"/><path d="M750 558l8-21l-7-15l-9 22z" fill="#2ad"/><path d="M741 579l9-21l-8-14l-8 21z" fill="#29e"/><path d="M733 600l8-21l-7-14l-8 21z" fill="#38e"/><path d="M725 620l8-20l-7-14l-8 20z" fill="#37f"/><path d="M717 638l8-18l-7-14l-9 19z" fill="#47f"/><path d="M708 656l9-18l-8-13l-8 19z" fill="#46f"/><path d="M700 673l8-17l-7-12l-8 17z" fill="#45e"/><path d="M692 689l8-16l-7-12l-8 16z" fill="#44e"/><path d="M684 703l8-14l-7-12l-8 15z" fill="#44d"/><path d="M610 756l8 1l-7-3l-9 0z" fill="#42a"/><path d="M601 753l9 3l-8-2l-8-2z" fill="#43b"/><path d="M593 748l8 5l-7-1l-8-4z" fill="#43c"/><path d="M585 742l8 6l-7 0l-8-5z" fill="#43c"/><path d="M577 734l8 8l-7 1l-9-7z" fill="#44d"/><path d="M568 725l9 9l-8 2l-8-9z" fill="#44e"/><path d="M560 714l8 11l-7 2l-8-9z" fill="#45e"/><path d="M552 702l8 12l-7 4l-8-12z" fill="#46f"/><path d="M1111 530l8 14l-7 5l-8-13z" fill="#37f"/><path d="M1102 516l9 14l-7 6l-9-14z" fill="#38f"/><path d="M1094 500l8 16l-7 6l-8-15z" fill="#39e"/><path d="M1086 484l8 16l-7 7l-8-16z" fill="#29d"/><path d="M1078 467l8 17l-7 7l-8-17z" fill="#2ad"/><path d="M1070 450l8 17l-7 7l-9-17z" fill="#0bc"/><path d="M1061 433l9 17l-8 7l-8-17z" fill="#1bb"/><path d="M1053 415l8 18l-7 7l-8-17z" fill="#3ca"/><path d="M1045 398l8 17l-7 8l-8-17z" fill="#4c8"/><path d="M1037 381l8 17l-7 8l-9-17z" fill="#6c7"/><path d="M1028 365l9 16l-8 8l-8-17z" fill="#8c5"/><path d="M1020 349l8 16l-7 7l-8-16z" fill="#ac3"/><path d="M1012 334l8 15l-7 7l-8-15z" fill="#cb2"/><path d="M930 257l8 1l-7-1l-9-1z" fill="#ff1"/><path d="M921 258l9-1l-8-1l-8 0z" fill="#ff1"/><path d="M913 262l8-4l-7-2l-8 2z" fill="#ff1"/><path d="M905 266l8-4l-7-4l-8 4z" fill="#ff1"/><path d="M897 273l8-7l-7-4l-9 5z" fill="#fe2"/><path d="M888 281l9-8l-8-6l-8 8z" fill="#ee2"/><path d="M880 292l8-11l-7-6l-8 9z" fill="#ee2"/><path d="M872 303l8-11l-7-8l-8 11z" fill="#ed2"/><path d="M864 317l8-14l-7-8l-8 12z" fill="#fc3"/><path d="M855 331l9-14l-7-10l-9 14z" fill="#fc3"/><path d="M847 347l8-16l-7-10l-8 15z" fill="#fb4"/><path d="M839 364l8-17l-7-11l-8 17z" fill="#eb3"/><path d="M831 383l8-19l-7-11l-8 18z" fill="#cb2"/><path d="M823 402l8-19l-7-12l-9 18z" fill="#bc3"/><path d="M814 422l9-20l-8-13l-8 20z" fill="#8c5"/><path d="M806 443l8-21l-7-13l-8 20z" fill="#6c6"/><path d="M798 464l8-21l-7-14l-8 21z" fill="#4c8"/><path d="M790 486l8-22l-7-14l-9 22z" fill="#3ca"/><path d="M781 508l9-22l-8-14l-8 21z" fill="#1bb"/><path d="M773 529l8-21l-7-15l-8 22z" fill="#0bc"/><path d="M765 551l8-22l-7-14l-8 22z" fill="#1ad"/><path d="M757 572l8-21l-7-14l-8 21z" fill="#29d"/><path d="M748 593l9-21l-7-14l-9 21z" fill="#29e"/><path d="M740 613l8-20l-7-14l-8 21z" fill="#38f"/><path d="M732 633l8-20l-7-13l-8 20z" fill="#37f"/><path d="M724 651l8-18l-7-13l-8 18z" fill="#46f"/><path d="M716 668l8-17l-7-13l-9 18z" fill="#45f"/><path d="M707 684l9-16l-8-12l-8 17z" fill="#45e"/><path d="M699 699l8-15l-7-11l-8 16z" fill="#44e"/><path d="M691 713l8-14l-7-10l-8 14z" fill="#43d"/><path d="M625 759l8 1l-7-4l-8 1z" fill="#42a"/><path d="M617 757l8 2l-7-2l-8-1z" fill="#43b"/><path d="M609 753l8 4l-7-1l-9-3z" fill="#43b"/><path d="M600 747l9 6l-8 0l-8-5z" fill="#43c"/><path d="M592 740l8 7l-7 1l-8-6z" fill="#43d"/><path d="M584 731l8 9l-7 2l-8-8z" fill="#44e"/><path d="M576 721l8 10l-7 3l-9-9z" fill="#45e"/><path d="M567 710l9 11l-8 4l-8-11z" fill="#45f"/><path d="M559 697l8 13l-7 4l-8-12z" fill="#46f"/><path d="M1118 524l8 14l-7 6l-8-14z" fill="#37f"/><path d="M1110 509l8 15l-7 6l-9-14z" fill="#38e"/><path d="M1101 493l9 16l-8 7l-8-16z" fill="#29e"/><path d="M1093 476l8 17l-7 7l-8-16z" fill="#2ad"/><path d="M1085 459l8 17l-7 8l-8-17z" fill="#1ad"/><path d="M1077 442l8 17l-7 8l-8-17z" fill="#0bb"/><path d="M1068 425l9 17l-7 8l-9-17z" fill="#2ba"/><path d="M1060 408l8 17l-7 8l-8-18z" fill="#3c9"/><path d="M1052 391l8 17l-7 7l-8-17z" fill="#5c7"/><path d="M1044 374l8 17l-7 7l-8-17z" fill="#7c5"/><path d="M1036 358l8 16l-7 7l-9-16z" fill="#ac4"/><path d="M1027 343l9 15l-8 7l-8-16z" fill="#cb3"/><path d="M1019 329l8 14l-7 6l-8-15z" fill="#db2"/><path d="M937 260l8-1l-7-1l-8-1z" fill="#ff1"/><path d="M929 262l8-2l-7-3l-9 1z" fill="#ff1"/><path d="M920 266l9-4l-8-4l-8 4z" fill="#ff1"/><path d="M912 272l8-6l-7-4l-8 4z" fill="#fe2"/><path d="M904 280l8-8l-7-6l-8 7z" fill="#ee2"/><path d="M896 289l8-9l-7-7l-9 8z" fill="#ee2"/><path d="M887 300l9-11l-8-8l-8 11z" fill="#ed2"/><path d="M879 313l8-13l-7-8l-8 11z" fill="#fd3"/><path d="M871 327l8-14l-7-10l-8 14z" fill="#fc3"/><path d="M863 342l8-15l-7-10l-9 14z" fill="#fb3"/><path d="M854 359l9-17l-8-11l-8 16z" fill="#eb3"/><path d="M846 377l8-18l-7-12l-8 17z" fill="#db2"/><path d="M838 396l8-19l-7-13l-8 19z" fill="#bb3"/><path d="M830 416l8-20l-7-13l-8 19z" fill="#9c4"/><path d="M822 436l8-20l-7-14l-9 20z" fill="#7c6"/><path d="M813 457l9-21l-8-14l-8 21z" fill="#5c7"/><path d="M805 479l8-22l-7-14l-8 21z" fill="#3c9"/><path d="M797 500l8-21l-7-15l-8 22z" fill="#2ba"/><path d="M789 522l8-22l-7-14l-9 22z" fill="#0bc"/><path d="M780 544l9-22l-8-14l-8 21z" fill="#1ad"/><path d="M772 565l8-21l-7-15l-8 22z" fill="#2ad"/><path d="M764 586l8-21l-7-14l-8 21z" fill="#29e"/><path d="M756 607l8-21l-7-14l-9 21z" fill="#38e"/><path d="M747 626l9-19l-8-14l-8 20z" fill="#37f"/><path d="M739 645l8-19l-7-13l-8 20z" fill="#46f"/><path d="M731 663l8-18l-7-12l-8 18z" fill="#46f"/><path d="M723 680l8-17l-7-12l-8 17z" fill="#45e"/><path d="M714 695l9-15l-7-12l-9 16z" fill="#44e"/><path d="M706 709l8-14l-7-11l-8 15z" fill="#44d"/><path d="M698 721l8-12l-7-10l-8 14z" fill="#43d"/><path d="M632 760l8 1l-7-1l-8-1z" fill="#42b"/><path d="M624 757l8 3l-7-1l-8-2z" fill="#43b"/><path d="M616 752l8 5l-7 0l-8-4z" fill="#43c"/><path d="M607 745l9 7l-7 1l-9-6z" fill="#43d"/><path d="M599 737l8 8l-7 2l-8-7z" fill="#44d"/><path d="M591 728l8 9l-7 3l-8-9z" fill="#44e"/><path d="M583 717l8 11l-7 3l-8-10z" fill="#45e"/><path d="M575 705l8 12l-7 4l-9-11z" fill="#46f"/><path d="M566 691l9 14l-8 5l-8-13z" fill="#46f"/><path d="M1125 517l8 15l-7 6l-8-14z" fill="#38f"/><path d="M1117 502l8 15l-7 7l-8-15z" fill="#29e"/><path d="M1109 485l8 17l-7 7l-9-16z" fill="#29d"/><path d="M1100 469l9 16l-8 8l-8-17z" fill="#1ad"/><path d="M1092 451l8 18l-7 7l-8-17z" fill="#0bc"/><path d="M1084 434l8 17l-7 8l-8-17z" fill="#1bb"/><path d="M1076 417l8 17l-7 8l-9-17z" fill="#3ca"/><path d="M1067 400l9 17l-8 8l-8-17z" fill="#4c8"/><path d="M1059 383l8 17l-7 8l-8-17z" fill="#6c6"/><path d="M1051 367l8 16l-7 8l-8-17z" fill="#9c4"/><path d="M1043 352l8 15l-7 7l-8-16z" fill="#bc3"/><path d="M1034 337l9 15l-7 6l-9-15z" fill="#cb2"/><path d="M1026 323l8 14l-7 6l-8-14z" fill="#eb3"/><path d="M952 262l8 0l-7-1l-8-2z" fill="#ff1"/><path d="M944 264l8-2l-7-3l-8 1z" fill="#ff1"/><path d="M936 267l8-3l-7-4l-8 2z" fill="#ff1"/><path d="M927 272l9-5l-7-5l-9 4z" fill="#ff1"/><path d="M919 279l8-7l-7-6l-8 6z" fill="#ee2"/><path d="M911 288l8-9l-7-7l-8 8z" fill="#ee2"/><path d="M903 298l8-10l-7-8l-8 9z" fill="#ee2"/><path d="M895 310l8-12l-7-9l-9 11z" fill="#fd2"/><path d="M886 323l9-13l-8-10l-8 13z" fill="#fc3"/><path d="M878 338l8-15l-7-10l-8 14z" fill="#fc3"/><path d="M870 354l8-16l-7-11l-8 15z" fill="#fb4"/><path d="M862 371l8-17l-7-12l-9 17z" fill="#eb3"/><path d="M853 390l9-19l-8-12l-8 18z" fill="#cb2"/><path d="M845 409l8-19l-7-13l-8 19z" fill="#ac3"/><path d="M837 429l8-20l-7-13l-8 20z" fill="#8c5"/><path d="M829 450l8-21l-7-13l-8 20z" fill="#6c7"/><path d="M820 471l9-21l-7-14l-9 21z" fill="#4c8"/><path d="M812 493l8-22l-7-14l-8 22z" fill="#3ca"/><path d="M804 515l8-22l-7-14l-8 21z" fill="#1bb"/><path d="M796 536l8-21l-7-15l-8 22z" fill="#0bc"/><path d="M788 558l8-22l-7-14l-9 22z" fill="#2ad"/><path d="M779 579l9-21l-8-14l-8 21z" fill="#29e"/><path d="M771 600l8-21l-7-14l-8 21z" fill="#39e"/><path d="M763 620l8-20l-7-14l-8 21z" fill="#38f"/><path d="M755 639l8-19l-7-13l-9 19z" fill="#37f"/><path d="M746 657l9-18l-8-13l-8 19z" fill="#46f"/><path d="M738 674l8-17l-7-12l-8 18z" fill="#45f"/><path d="M730 690l8-16l-7-11l-8 17z" fill="#45e"/><path d="M722 705l8-15l-7-10l-9 15z" fill="#44e"/><path d="M713 718l9-13l-8-10l-8 14z" fill="#43d"/><path d="M705 729l8-11l-7-9l-8 12z" fill="#43c"/><path d="M648 762l8 1l-7-2l-9 0z" fill="#42a"/><path d="M639 760l9 2l-8-1l-8-1z" fill="#43b"/><path d="M631 756l8 4l-7 0l-8-3z" fill="#43b"/><path d="M623 750l8 6l-7 1l-8-5z" fill="#43c"/><path d="M615 743l8 7l-7 2l-9-7z" fill="#44d"/><path d="M606 734l9 9l-8 2l-8-8z" fill="#44e"/><path d="M598 723l8 11l-7 3l-8-9z" fill="#45e"/><path d="M590 712l8 11l-7 5l-8-11z" fill="#45f"/><path d="M582 699l8 13l-7 5l-8-12z" fill="#46f"/><path d="M573 685l9 14l-7 6l-9-14z" fill="#37f"/><path d="M1132 510l8 15l-7 7l-8-15z" fill="#38e"/><path d="M1124 494l8 16l-7 7l-8-15z" fill="#29e"/><path d="M1116 478l8 16l-7 8l-8-17z" fill="#2ad"/><path d="M1108 461l8 17l-7 7l-9-16z" fill="#1bc"/><path d="M1099 444l9 17l-8 8l-8-18z" fill="#0bb"/><path d="M1091 427l8 17l-7 7l-8-17z" fill="#2ba"/><path d="M1083 410l8 17l-7 7l-8-17z" fill="#3c9"/><path d="M1075 393l8 17l-7 7l-9-17z" fill="#5c7"/><path d="M1066 377l9 16l-8 7l-8-17z" fill="#7c5"/><path d="M1058 361l8 16l-7 6l-8-16z" fill="#ac4"/><path d="M1050 346l8 15l-7 6l-8-15z" fill="#cb2"/><path d="M1042 332l8 14l-7 6l-9-15z" fill="#db3"/><path d="M1033 319l9 13l-8 5l-8-14z" fill="#eb3"/><path d="M968 265l8 1l-7-2l-9-2z" fill="#ff1"/><path d="M959 266l9-1l-8-3l-8 0z" fill="#ff1"/><path d="M951 269l8-3l-7-4l-8 2z" fill="#ff1"/><path d="M943 273l8-4l-7-5l-8 3z" fill="#ff1"/><path d="M935 279l8-6l-7-6l-9 5z" fill="#fe2"/><path d="M926 287l9-8l-8-7l-8 7z" fill="#ee2"/><path d="M918 296l8-9l-7-8l-8 9z" fill="#ee2"/><path d="M910 308l8-12l-7-8l-8 10z" fill="#ed2"/><path d="M902 320l8-12l-7-10l-8 12z" fill="#fd3"/><path d="M893 334l9-14l-7-10l-9 13z" fill="#fc3"/><path d="M885 350l8-16l-7-11l-8 15z" fill="#fb4"/><path d="M877 367l8-17l-7-12l-8 16z" fill="#eb3"/><path d="M869 384l8-17l-7-13l-8 17z" fill="#db2"/><path d="M861 403l8-19l-7-13l-9 19z" fill="#bc3"/><path d="M852 423l9-20l-8-13l-8 19z" fill="#9c4"/><path d="M844 443l8-20l-7-14l-8 20z" fill="#7c6"/><path d="M836 464l8-21l-7-14l-8 21z" fill="#4c8"/><path d="M828 486l8-22l-7-14l-9 21z" fill="#3c9"/><path d="M819 507l9-21l-8-15l-8 22z" fill="#2ba"/><path d="M811 529l8-22l-7-14l-8 22z" fill="#0bc"/><path d="M803 550l8-21l-7-14l-8 21z" fill="#1ad"/><path d="M795 572l8-22l-7-14l-8 22z" fill="#2ad"/><path d="M786 592l9-20l-7-14l-9 21z" fill="#29e"/><path d="M778 613l8-21l-7-13l-8 21z" fill="#38e"/><path d="M770 632l8-19l-7-13l-8 20z" fill="#37f"/><path d="M762 651l8-19l-7-12l-8 19z" fill="#46f"/><path d="M754 668l8-17l-7-12l-9 18z" fill="#46f"/><path d="M745 684l9-16l-8-11l-8 17z" fill="#45e"/><path d="M737 699l8-15l-7-10l-8 16z" fill="#44e"/><path d="M729 713l8-14l-7-9l-8 15z" fill="#44d"/><path d="M721 725l8-12l-7-8l-9 13z" fill="#43d"/><path d="M712 736l9-11l-8-7l-8 11z" fill="#43c"/><path d="M663 763l8 0l-7-1l-8 1z" fill="#42a"/><path d="M655 762l8 1l-7 0l-8-1z" fill="#43b"/><path d="M646 759l9 3l-7 0l-9-2z" fill="#43b"/><path d="M638 754l8 5l-7 1l-8-4z" fill="#43c"/><path d="M630 747l8 7l-7 2l-8-6z" fill="#43d"/><path d="M622 739l8 8l-7 3l-8-7z" fill="#44e"/><path d="M614 729l8 10l-7 4l-9-9z" fill="#44e"/><path d="M605 718l9 11l-8 5l-8-11z" fill="#45f"/><path d="M597 706l8 12l-7 5l-8-11z" fill="#46f"/><path d="M589 692l8 14l-7 6l-8-13z" fill="#47f"/><path d="M581 678l8 14l-7 7l-9-14z" fill="#38f"/><path d="M1139 502l9 16l-8 7l-8-15z" fill="#29e"/><path d="M1131 486l8 16l-7 8l-8-16z" fill="#2ad"/><path d="M1123 470l8 16l-7 8l-8-16z" fill="#1ad"/><path d="M1115 453l8 17l-7 8l-8-17z" fill="#0bc"/><path d="M1106 436l9 17l-7 8l-9-17z" fill="#2bb"/><path d="M1098 419l8 17l-7 8l-8-17z" fill="#3c9"/><path d="M1090 403l8 16l-7 8l-8-17z" fill="#4c8"/><path d="M1082 386l8 17l-7 7l-8-17z" fill="#6c6"/><path d="M1074 370l8 16l-7 7l-9-16z" fill="#9c4"/><path d="M1065 355l9 15l-8 7l-8-16z" fill="#bc3"/><path d="M1057 341l8 14l-7 6l-8-15z" fill="#db2"/><path d="M1049 328l8 13l-7 5l-8-14z" fill="#eb3"/><path d="M1041 315l8 13l-7 4l-9-13z" fill="#fb4"/><path d="M983 269l8 2l-7-2l-8-3z" fill="#fe2"/><path d="M975 269l8 0l-7-3l-8-1z" fill="#ff1"/><path d="M966 271l9-2l-7-4l-9 1z" fill="#ff1"/><path d="M958 275l8-4l-7-5l-8 3z" fill="#fe2"/><path d="M950 280l8-5l-7-6l-8 4z" fill="#fe2"/><path d="M942 287l8-7l-7-7l-8 6z" fill="#ee2"/><path d="M934 296l8-9l-7-8l-9 8z" fill="#ee2"/><path d="M925 306l9-10l-8-9l-8 9z" fill="#ed2"/><path d="M917 318l8-12l-7-10l-8 12z" fill="#fd3"/><path d="M909 332l8-14l-7-10l-8 12z" fill="#fc3"/><path d="M901 346l8-14l-7-12l-9 14z" fill="#fb3"/><path d="M892 362l9-16l-8-12l-8 16z" fill="#fb4"/><path d="M884 380l8-18l-7-12l-8 17z" fill="#db3"/><path d="M876 398l8-18l-7-13l-8 17z" fill="#cb2"/><path d="M868 417l8-19l-7-14l-8 19z" fill="#ac4"/><path d="M859 437l9-20l-7-14l-9 20z" fill="#8c5"/><path d="M851 458l8-21l-7-14l-8 20z" fill="#5c7"/><path d="M843 479l8-21l-7-15l-8 21z" fill="#3c9"/><path d="M835 500l8-21l-7-15l-8 22z" fill="#2ba"/><path d="M827 522l8-22l-7-14l-9 21z" fill="#1bb"/><path d="M818 543l9-21l-8-15l-8 22z" fill="#0bc"/><path d="M810 564l8-21l-7-14l-8 21z" fill="#2ad"/><path d="M802 585l8-21l-7-14l-8 22z" fill="#29e"/><path d="M794 605l8-20l-7-13l-9 20z" fill="#38e"/><path d="M785 625l9-20l-8-13l-8 21z" fill="#38f"/><path d="M777 644l8-19l-7-12l-8 19z" fill="#37f"/><path d="M769 661l8-17l-7-12l-8 19z" fill="#46f"/><path d="M761 678l8-17l-7-10l-8 17z" fill="#45f"/><path d="M752 694l9-16l-7-10l-9 16z" fill="#45e"/><path d="M744 708l8-14l-7-10l-8 15z" fill="#44e"/><path d="M736 721l8-13l-7-9l-8 14z" fill="#43d"/><path d="M728 732l8-11l-7-8l-8 12z" fill="#43c"/><path d="M720 741l8-9l-7-7l-9 11z" fill="#43c"/><path d="M670 763l8 1l-7-1l-8 0z" fill="#43b"/><path d="M662 760l8 3l-7 0l-8-1z" fill="#43b"/><path d="M654 756l8 4l-7 2l-9-3z" fill="#43c"/><path d="M645 750l9 6l-8 3l-8-5z" fill="#43d"/><path d="M637 743l8 7l-7 4l-8-7z" fill="#44d"/><path d="M629 734l8 9l-7 4l-8-8z" fill="#44e"/><path d="M621 724l8 10l-7 5l-8-10z" fill="#45e"/><path d="M613 712l8 12l-7 5l-9-11z" fill="#46f"/><path d="M604 699l9 13l-8 6l-8-12z" fill="#46f"/><path d="M596 685l8 14l-7 7l-8-14z" fill="#37f"/><path d="M588 671l8 14l-7 7l-8-14z" fill="#38e"/><path d="M1147 495l8 15l-7 8l-9-16z" fill="#29e"/><path d="M1138 479l9 16l-8 7l-8-16z" fill="#2ad"/><path d="M1130 462l8 17l-7 7l-8-16z" fill="#0bc"/><path d="M1122 445l8 17l-7 8l-8-17z" fill="#1bb"/><path d="M1114 429l8 16l-7 8l-9-17z" fill="#2ba"/><path d="M1105 412l9 17l-8 7l-8-17z" fill="#4c9"/><path d="M1097 396l8 16l-7 7l-8-16z" fill="#5c7"/><path d="M1089 380l8 16l-7 7l-8-17z" fill="#8c5"/><path d="M1081 365l8 15l-7 6l-8-16z" fill="#ac4"/><path d="M1072 350l9 15l-7 5l-9-15z" fill="#cb2"/><path d="M1064 337l8 13l-7 5l-8-14z" fill="#db3"/><path d="M1056 324l8 13l-7 4l-8-13z" fill="#eb3"/><path d="M1048 313l8 11l-7 4l-8-13z" fill="#fb3"/><path d="M990 274l8 0l-7-3l-8-2z" fill="#fe2"/><path d="M982 275l8-1l-7-5l-8 0z" fill="#fe2"/><path d="M974 277l8-2l-7-6l-9 2z" fill="#fe2"/><path d="M965 282l9-5l-8-6l-8 4z" fill="#fe2"/><path d="M957 288l8-6l-7-7l-8 5z" fill="#ee2"/><path d="M949 296l8-8l-7-8l-8 7z" fill="#ee2"/><path d="M941 306l8-10l-7-9l-8 9z" fill="#ed2"/><path d="M933 317l8-11l-7-10l-9 10z" fill="#fd3"/><path d="M924 330l9-13l-8-11l-8 12z" fill="#fc3"/><path d="M916 344l8-14l-7-12l-8 14z" fill="#fc3"/><path d="M908 359l8-15l-7-12l-8 14z" fill="#fb4"/><path d="M900 376l8-17l-7-13l-9 16z" fill="#eb3"/><path d="M891 393l9-17l-8-14l-8 18z" fill="#cb2"/><path d="M883 412l8-19l-7-13l-8 18z" fill="#bc3"/><path d="M875 431l8-19l-7-14l-8 19z" fill="#8c5"/><path d="M867 452l8-21l-7-14l-9 20z" fill="#6c6"/><path d="M858 472l9-20l-8-15l-8 21z" fill="#4c8"/><path d="M850 493l8-21l-7-14l-8 21z" fill="#3c9"/><path d="M842 514l8-21l-7-14l-8 21z" fill="#1bb"/><path d="M834 536l8-22l-7-14l-8 22z" fill="#0bc"/><path d="M825 557l9-21l-7-14l-9 21z" fill="#1ad"/><path d="M817 577l8-20l-7-14l-8 21z" fill="#2ad"/><path d="M809 598l8-21l-7-13l-8 21z" fill="#29e"/><path d="M801 617l8-19l-7-13l-8 20z" fill="#38e"/><path d="M793 636l8-19l-7-12l-9 20z" fill="#37f"/><path d="M784 654l9-18l-8-11l-8 19z" fill="#46f"/><path d="M776 672l8-18l-7-10l-8 17z" fill="#46f"/><path d="M768 687l8-15l-7-11l-8 17z" fill="#45e"/><path d="M760 702l8-15l-7-9l-9 16z" fill="#44e"/><path d="M751 715l9-13l-8-8l-8 14z" fill="#44d"/><path d="M743 727l8-12l-7-7l-8 13z" fill="#43d"/><path d="M735 737l8-10l-7-6l-8 11z" fill="#43c"/><path d="M727 746l8-9l-7-5l-8 9z" fill="#43b"/><path d="M686 763l8 0l-7 0l-9 1z" fill="#43b"/><path d="M677 761l9 2l-8 1l-8-1z" fill="#43b"/><path d="M669 758l8 3l-7 2l-8-3z" fill="#43c"/><path d="M661 753l8 5l-7 2l-8-4z" fill="#43c"/><path d="M653 746l8 7l-7 3l-9-6z" fill="#44d"/><path d="M644 738l9 8l-8 4l-8-7z" fill="#44e"/><path d="M636 728l8 10l-7 5l-8-9z" fill="#45e"/><path d="M628 718l8 10l-7 6l-8-10z" fill="#45f"/><path d="M620 705l8 13l-7 6l-8-12z" fill="#46f"/><path d="M611 692l9 13l-7 7l-9-13z" fill="#37f"/><path d="M603 678l8 14l-7 7l-8-14z" fill="#38f"/><path d="M595 663l8 15l-7 7l-8-14z" fill="#39e"/><path d="M1154 487l8 16l-7 7l-8-15z" fill="#2ad"/><path d="M1145 471l9 16l-7 8l-9-16z" fill="#1ad"/><path d="M1137 455l8 16l-7 8l-8-17z" fill="#0bc"/><path d="M1129 438l8 17l-7 7l-8-17z" fill="#2ba"/><path d="M1121 422l8 16l-7 7l-8-16z" fill="#3c9"/><path d="M1113 406l8 16l-7 7l-9-17z" fill="#4c8"/><path d="M1104 390l9 16l-8 6l-8-16z" fill="#6c6"/><path d="M1096 375l8 15l-7 6l-8-16z" fill="#9c4"/><path d="M1088 360l8 15l-7 5l-8-15z" fill="#bc3"/><path d="M1080 346l8 14l-7 5l-9-15z" fill="#cb2"/><path d="M1071 333l9 13l-8 4l-8-13z" fill="#eb3"/><path d="M1063 322l8 11l-7 4l-8-13z" fill="#fb4"/><path d="M1055 311l8 11l-7 2l-8-11z" fill="#fc3"/><path d="M1006 279l8 1l-7-3l-9-3z" fill="#ee2"/><path d="M997 279l9 0l-8-5l-8 0z" fill="#ee2"/><path d="M989 281l8-2l-7-5l-8 1z" fill="#ee2"/><path d="M981 285l8-4l-7-6l-8 2z" fill="#ee2"/><path d="M973 290l8-5l-7-8l-9 5z" fill="#ee2"/><path d="M964 297l9-7l-8-8l-8 6z" fill="#ee2"/><path d="M956 306l8-9l-7-9l-8 8z" fill="#ed2"/><path d="M948 317l8-11l-7-10l-8 10z" fill="#fd2"/><path d="M940 328l8-11l-7-11l-8 11z" fill="#fc3"/><path d="M931 342l9-14l-7-11l-9 13z" fill="#fc3"/><path d="M923 356l8-14l-7-12l-8 14z" fill="#fb4"/><path d="M915 372l8-16l-7-12l-8 15z" fill="#eb3"/><path d="M907 389l8-17l-7-13l-8 17z" fill="#db2"/><path d="M899 407l8-18l-7-13l-9 17z" fill="#bb3"/><path d="M890 426l9-19l-8-14l-8 19z" fill="#9c4"/><path d="M882 446l8-20l-7-14l-8 19z" fill="#7c6"/><path d="M874 466l8-20l-7-15l-8 21z" fill="#5c7"/><path d="M866 487l8-21l-7-14l-9 20z" fill="#3c9"/><path d="M857 507l9-20l-8-15l-8 21z" fill="#2ba"/><path d="M849 528l8-21l-7-14l-8 21z" fill="#0bb"/><path d="M841 549l8-21l-7-14l-8 22z" fill="#1bc"/><path d="M833 570l8-21l-7-13l-9 21z" fill="#2ad"/><path d="M824 590l9-20l-8-13l-8 20z" fill="#29e"/><path d="M816 610l8-20l-7-13l-8 21z" fill="#38e"/><path d="M808 629l8-19l-7-12l-8 19z" fill="#38f"/><path d="M800 647l8-18l-7-12l-8 19z" fill="#37f"/><path d="M791 664l9-17l-7-11l-9 18z" fill="#46f"/><path d="M783 681l8-17l-7-10l-8 18z" fill="#45f"/><path d="M775 696l8-15l-7-9l-8 15z" fill="#45e"/><path d="M767 709l8-13l-7-9l-8 15z" fill="#44e"/><path d="M759 722l8-13l-7-7l-9 13z" fill="#44d"/><path d="M750 732l9-10l-8-7l-8 12z" fill="#43d"/><path d="M742 742l8-10l-7-5l-8 10z" fill="#43c"/><path d="M734 749l8-7l-7-5l-8 9z" fill="#43b"/><path d="M701 763l8-1l-7 0l-8 1z" fill="#43b"/><path d="M693 762l8 1l-7 0l-8 0z" fill="#43b"/><path d="M684 759l9 3l-7 1l-9-2z" fill="#43c"/><path d="M676 755l8 4l-7 2l-8-3z" fill="#43c"/><path d="M668 749l8 6l-7 3l-8-5z" fill="#44d"/><path d="M660 741l8 8l-7 4l-8-7z" fill="#44e"/><path d="M652 733l8 8l-7 5l-9-8z" fill="#45e"/><path d="M643 722l9 11l-8 5l-8-10z" fill="#45f"/><path d="M635 711l8 11l-7 6l-8-10z" fill="#46f"/><path d="M627 698l8 13l-7 7l-8-13z" fill="#47f"/><path d="M619 685l8 13l-7 7l-9-13z" fill="#37f"/><path d="M610 671l9 14l-8 7l-8-14z" fill="#38e"/><path d="M602 655l8 16l-7 7l-8-15z" fill="#29e"/><path d="M1161 479l8 16l-7 8l-8-16z" fill="#1ad"/><path d="M1153 463l8 16l-7 8l-9-16z" fill="#0bc"/><path d="M1144 447l9 16l-8 8l-8-16z" fill="#1bb"/><path d="M1136 431l8 16l-7 8l-8-17z" fill="#3ca"/><path d="M1128 415l8 16l-7 7l-8-16z" fill="#4c8"/><path d="M1120 400l8 15l-7 7l-8-16z" fill="#5c7"/><path d="M1111 384l9 16l-7 6l-9-16z" fill="#8c5"/><path d="M1103 370l8 14l-7 6l-8-15z" fill="#ac4"/><path d="M1095 356l8 14l-7 5l-8-15z" fill="#cb3"/><path d="M1087 343l8 13l-7 4l-8-14z" fill="#db2"/><path d="M1079 331l8 12l-7 3l-9-13z" fill="#eb3"/><path d="M1070 320l9 11l-8 2l-8-11z" fill="#fb3"/><path d="M1062 311l8 9l-7 2l-8-11z" fill="#fc3"/><path d="M1021 285l8 2l-7-4l-8-3z" fill="#ee2"/><path d="M1013 284l8 1l-7-5l-8-1z" fill="#ee2"/><path d="M1004 286l9-2l-7-5l-9 0z" fill="#ee2"/><path d="M996 288l8-2l-7-7l-8 2z" fill="#ee2"/><path d="M988 293l8-5l-7-7l-8 4z" fill="#ee2"/><path d="M980 300l8-7l-7-8l-8 5z" fill="#ee2"/><path d="M972 307l8-7l-7-10l-9 7z" fill="#ed2"/><path d="M963 317l9-10l-8-10l-8 9z" fill="#fd2"/><path d="M955 328l8-11l-7-11l-8 11z" fill="#fc3"/><path d="M947 341l8-13l-7-11l-8 11z" fill="#fc3"/><path d="M939 355l8-14l-7-13l-9 14z" fill="#fb3"/><path d="M930 370l9-15l-8-13l-8 14z" fill="#eb3"/><path d="M922 386l8-16l-7-14l-8 16z" fill="#db3"/><path d="M914 403l8-17l-7-14l-8 17z" fill="#cb2"/><path d="M906 422l8-19l-7-14l-8 18z" fill="#ac3"/><path d="M897 441l9-19l-7-15l-9 19z" fill="#8c5"/><path d="M889 460l8-19l-7-15l-8 20z" fill="#6c7"/><path d="M881 480l8-20l-7-14l-8 20z" fill="#4c8"/><path d="M873 501l8-21l-7-14l-8 21z" fill="#3ca"/><path d="M865 521l8-20l-7-14l-9 20z" fill="#1bb"/><path d="M856 542l9-21l-8-14l-8 21z" fill="#0bc"/><path d="M848 562l8-20l-7-14l-8 21z" fill="#1ad"/><path d="M840 582l8-20l-7-13l-8 21z" fill="#2ad"/><path d="M832 602l8-20l-7-12l-9 20z" fill="#29e"/><path d="M823 621l9-19l-8-12l-8 20z" fill="#38e"/><path d="M815 640l8-19l-7-11l-8 19z" fill="#37f"/><path d="M807 657l8-17l-7-11l-8 18z" fill="#46f"/><path d="M799 673l8-16l-7-10l-9 17z" fill="#46f"/><path d="M790 689l9-16l-8-9l-8 17z" fill="#45f"/><path d="M782 703l8-14l-7-8l-8 15z" fill="#45e"/><path d="M774 716l8-13l-7-7l-8 13z" fill="#44e"/><path d="M766 727l8-11l-7-7l-8 13z" fill="#44d"/><path d="M758 737l8-10l-7-5l-9 10z" fill="#43d"/><path d="M749 745l9-8l-8-5l-8 10z" fill="#43c"/><path d="M741 751l8-6l-7-3l-8 7z" fill="#43c"/><path d="M716 761l9-2l-8 0l-8 3z" fill="#43b"/><path d="M708 761l8 0l-7 1l-8 1z" fill="#43c"/><path d="M700 759l8 2l-7 2l-8-1z" fill="#43c"/><path d="M692 755l8 4l-7 3l-9-3z" fill="#43c"/><path d="M683 750l9 5l-8 4l-8-4z" fill="#43d"/><path d="M675 744l8 6l-7 5l-8-6z" fill="#44e"/><path d="M667 736l8 8l-7 5l-8-8z" fill="#44e"/><path d="M659 726l8 10l-7 5l-8-8z" fill="#45e"/><path d="M650 716l9 10l-7 7l-9-11z" fill="#46f"/><path d="M642 704l8 12l-7 6l-8-11z" fill="#46f"/><path d="M634 691l8 13l-7 7l-8-13z" fill="#37f"/><path d="M626 677l8 14l-7 7l-8-13z" fill="#38e"/><path d="M618 663l8 14l-7 8l-9-14z" fill="#29e"/><path d="M609 648l9 15l-8 8l-8-16z" fill="#29d"/><path d="M1168 472l8 15l-7 8l-8-16z" fill="#1bc"/><path d="M1160 456l8 16l-7 7l-8-16z" fill="#0bb"/><path d="M1152 440l8 16l-7 7l-9-16z" fill="#2ba"/><path d="M1143 425l9 15l-8 7l-8-16z" fill="#3c9"/><path d="M1135 409l8 16l-7 6l-8-16z" fill="#4c8"/><path d="M1127 394l8 15l-7 6l-8-15z" fill="#6c6"/><path d="M1119 380l8 14l-7 6l-9-16z" fill="#9c4"/><path d="M1110 366l9 14l-8 4l-8-14z" fill="#bc3"/><path d="M1102 353l8 13l-7 4l-8-14z" fill="#cb2"/><path d="M1094 341l8 12l-7 3l-8-13z" fill="#eb3"/><path d="M1086 330l8 11l-7 2l-8-12z" fill="#fb4"/><path d="M1078 320l8 10l-7 1l-9-11z" fill="#fb3"/><path d="M1069 311l9 9l-8 0l-8-9z" fill="#fc3"/><path d="M1045 294l8 4l-7-2l-9-6z" fill="#ed2"/><path d="M1036 291l9 3l-8-4l-8-3z" fill="#ee2"/><path d="M1028 290l8 1l-7-4l-8-2z" fill="#ee2"/><path d="M1020 291l8-1l-7-5l-8-1z" fill="#ee2"/><path d="M1012 293l8-2l-7-7l-9 2z" fill="#ee2"/><path d="M1003 297l9-4l-8-7l-8 2z" fill="#ee2"/><path d="M995 303l8-6l-7-9l-8 5z" fill="#ee2"/><path d="M987 310l8-7l-7-10l-8 7z" fill="#ed2"/><path d="M979 318l8-8l-7-10l-8 7z" fill="#fd2"/><path d="M970 329l9-11l-7-11l-9 10z" fill="#fd3"/><path d="M962 340l8-11l-7-12l-8 11z" fill="#fc3"/><path d="M954 354l8-14l-7-12l-8 13z" fill="#fb3"/><path d="M946 368l8-14l-7-13l-8 14z" fill="#fb4"/><path d="M938 383l8-15l-7-13l-9 15z" fill="#eb3"/><path d="M929 400l9-17l-8-13l-8 16z" fill="#cb2"/><path d="M921 418l8-18l-7-14l-8 17z" fill="#bc3"/><path d="M913 436l8-18l-7-15l-8 19z" fill="#9c4"/><path d="M905 455l8-19l-7-14l-9 19z" fill="#6c6"/><path d="M896 474l9-19l-8-14l-8 19z" fill="#4c8"/><path d="M888 494l8-20l-7-14l-8 20z" fill="#3c9"/><path d="M880 515l8-21l-7-14l-8 21z" fill="#2ba"/><path d="M872 535l8-20l-7-14l-8 20z" fill="#0bb"/><path d="M863 555l9-20l-7-14l-9 21z" fill="#1bc"/><path d="M855 575l8-20l-7-13l-8 20z" fill="#2ad"/><path d="M847 594l8-19l-7-13l-8 20z" fill="#29e"/><path d="M839 613l8-19l-7-12l-8 20z" fill="#38e"/><path d="M831 632l8-19l-7-11l-9 19z" fill="#38f"/><path d="M822 649l9-17l-8-11l-8 19z" fill="#37f"/><path d="M814 666l8-17l-7-9l-8 17z" fill="#46f"/><path d="M806 681l8-15l-7-9l-8 16z" fill="#46f"/><path d="M798 696l8-15l-7-8l-9 16z" fill="#45e"/><path d="M789 709l9-13l-8-7l-8 14z" fill="#44e"/><path d="M781 721l8-12l-7-6l-8 13z" fill="#44e"/><path d="M773 731l8-10l-7-5l-8 11z" fill="#44d"/><path d="M765 740l8-9l-7-4l-8 10z" fill="#43d"/><path d="M756 747l9-7l-7-3l-9 8z" fill="#43c"/><path d="M748 752l8-5l-7-2l-8 6z" fill="#43c"/><path d="M732 758l8-2l-7 0l-8 3z" fill="#43c"/><path d="M724 759l8-1l-7 1l-9 2z" fill="#43c"/><path d="M715 758l9 1l-8 2l-8 0z" fill="#43c"/><path d="M707 755l8 3l-7 3l-8-2z" fill="#43d"/><path d="M699 751l8 4l-7 4l-8-4z" fill="#44d"/><path d="M691 745l8 6l-7 4l-9-5z" fill="#44e"/><path d="M682 738l9 7l-8 5l-8-6z" fill="#44e"/><path d="M674 729l8 9l-7 6l-8-8z" fill="#45e"/><path d="M666 720l8 9l-7 7l-8-10z" fill="#46f"/><path d="M658 709l8 11l-7 6l-9-10z" fill="#46f"/><path d="M649 696l9 13l-8 7l-8-12z" fill="#37f"/><path d="M641 683l8 13l-7 8l-8-13z" fill="#38f"/><path d="M633 670l8 13l-7 8l-8-14z" fill="#38e"/><path d="M625 655l8 15l-7 7l-8-14z" fill="#29e"/><path d="M616 640l9 15l-7 8l-9-15z" fill="#2ad"/><path d="M1175 465l8 15l-7 7l-8-15z" fill="#0bc"/><path d="M1167 449l8 16l-7 7l-8-16z" fill="#1bb"/><path d="M1159 434l8 15l-7 7l-8-16z" fill="#3ca"/><path d="M1151 419l8 15l-7 6l-9-15z" fill="#4c8"/><path d="M1142 404l9 15l-8 6l-8-16z" fill="#5c7"/><path d="M1134 390l8 14l-7 5l-8-15z" fill="#7c5"/><path d="M1126 376l8 14l-7 4l-8-14z" fill="#9c4"/><path d="M1118 363l8 13l-7 4l-9-14z" fill="#bb3"/><path d="M1109 351l9 12l-8 3l-8-13z" fill="#db2"/><path d="M1101 340l8 11l-7 2l-8-12z" fill="#eb3"/><path d="M1093 329l8 11l-7 1l-8-11z" fill="#fb4"/><path d="M1085 321l8 8l-7 1l-8-10z" fill="#fc3"/><path d="M1076 313l9 8l-7-1l-9-9z" fill="#fc3"/><path d="M1060 302l8 5l-7-3l-8-6z" fill="#fd2"/><path d="M1052 299l8 3l-7-4l-8-4z" fill="#ed2"/><path d="M1044 297l8 2l-7-5l-9-3z" fill="#ed2"/><path d="M1035 297l9 0l-8-6l-8-1z" fill="#ee2"/><path d="M1027 299l8-2l-7-7l-8 1z" fill="#ee2"/><path d="M1019 302l8-3l-7-8l-8 2z" fill="#ee2"/><path d="M1011 307l8-5l-7-9l-9 4z" fill="#ed2"/><path d="M1002 313l9-6l-8-10l-8 6z" fill="#ed2"/><path d="M994 321l8-8l-7-10l-8 7z" fill="#fd2"/><path d="M986 330l8-9l-7-11l-8 8z" fill="#fc3"/><path d="M978 341l8-11l-7-12l-9 11z" fill="#fc3"/><path d="M969 353l9-12l-8-12l-8 11z" fill="#fb3"/><path d="M961 367l8-14l-7-13l-8 14z" fill="#fb4"/><path d="M953 382l8-15l-7-13l-8 14z" fill="#eb3"/><path d="M945 398l8-16l-7-14l-8 15z" fill="#db2"/><path d="M936 414l9-16l-7-15l-9 17z" fill="#bc3"/><path d="M928 432l8-18l-7-14l-8 18z" fill="#9c4"/><path d="M920 450l8-18l-7-14l-8 18z" fill="#7c6"/><path d="M912 469l8-19l-7-14l-8 19z" fill="#5c7"/><path d="M904 489l8-20l-7-14l-9 19z" fill="#3c9"/><path d="M895 508l9-19l-8-15l-8 20z" fill="#3ba"/><path d="M887 528l8-20l-7-14l-8 21z" fill="#1bb"/><path d="M879 548l8-20l-7-13l-8 20z" fill="#0bc"/><path d="M871 567l8-19l-7-13l-9 20z" fill="#1ad"/><path d="M862 587l9-20l-8-12l-8 20z" fill="#2ad"/><path d="M854 606l8-19l-7-12l-8 19z" fill="#29e"/><path d="M846 624l8-18l-7-12l-8 19z" fill="#38e"/><path d="M838 641l8-17l-7-11l-8 19z" fill="#37f"/><path d="M829 658l9-17l-7-9l-9 17z" fill="#47f"/><path d="M821 674l8-16l-7-9l-8 17z" fill="#46f"/><path d="M813 688l8-14l-7-8l-8 15z" fill="#45f"/><path d="M805 702l8-14l-7-7l-8 15z" fill="#45e"/><path d="M797 714l8-12l-7-6l-9 13z" fill="#44e"/><path d="M788 724l9-10l-8-5l-8 12z" fill="#44e"/><path d="M780 734l8-10l-7-3l-8 10z" fill="#44d"/><path d="M772 741l8-7l-7-3l-8 9z" fill="#43d"/><path d="M764 748l8-7l-7-1l-9 7z" fill="#43c"/><path d="M755 752l9-4l-8-1l-8 5z" fill="#43c"/><path d="M747 755l8-3l-7 0l-8 4z" fill="#43c"/><path d="M739 756l8-1l-7 1l-8 2z" fill="#43c"/><path d="M731 756l8 0l-7 2l-8 1z" fill="#43c"/><path d="M722 754l9 2l-7 3l-9-1z" fill="#43d"/><path d="M714 751l8 3l-7 4l-8-3z" fill="#44d"/><path d="M706 746l8 5l-7 4l-8-4z" fill="#44e"/><path d="M698 739l8 7l-7 5l-8-6z" fill="#44e"/><path d="M690 732l8 7l-7 6l-9-7z" fill="#45e"/><path d="M681 723l9 9l-8 6l-8-9z" fill="#45f"/><path d="M673 712l8 11l-7 6l-8-9z" fill="#46f"/><path d="M665 701l8 11l-7 8l-8-11z" fill="#37f"/><path d="M657 689l8 12l-7 8l-9-13z" fill="#38f"/><path d="M648 676l9 13l-8 7l-8-13z" fill="#38e"/><path d="M640 662l8 14l-7 7l-8-13z" fill="#29e"/><path d="M632 647l8 15l-7 8l-8-15z" fill="#2ad"/><path d="M624 632l8 15l-7 8l-9-15z" fill="#1ad"/><path d="M1182 458l9 15l-8 7l-8-15z" fill="#0bb"/><path d="M1174 443l8 15l-7 7l-8-16z" fill="#2ba"/><path d="M1166 428l8 15l-7 6l-8-15z" fill="#3c9"/><path d="M1158 414l8 14l-7 6l-8-15z" fill="#4c8"/><path d="M1149 400l9 14l-7 5l-9-15z" fill="#6c6"/><path d="M1141 386l8 14l-7 4l-8-14z" fill="#8c5"/><path d="M1133 373l8 13l-7 4l-8-14z" fill="#ac3"/><path d="M1125 361l8 12l-7 3l-8-13z" fill="#cb2"/><path d="M1117 350l8 11l-7 2l-9-12z" fill="#db2"/><path d="M1108 339l9 11l-8 1l-8-11z" fill="#eb3"/><path d="M1100 330l8 9l-7 1l-8-11z" fill="#fb4"/><path d="M1092 322l8 8l-7-1l-8-8z" fill="#fc3"/><path d="M1084 316l8 6l-7-1l-9-8z" fill="#fc3"/><path d="M1075 311l9 5l-8-3l-8-6z" fill="#fd3"/><path d="M1067 307l8 4l-7-4l-8-5z" fill="#fd3"/><path d="M1059 305l8 2l-7-5l-8-3z" fill="#ed2"/><path d="M1051 304l8 1l-7-6l-8-2z" fill="#ed2"/><path d="M1042 305l9-1l-7-7l-9 0z" fill="#ed2"/><path d="M1034 307l8-2l-7-8l-8 2z" fill="#ed2"/><path d="M1026 311l8-4l-7-8l-8 3z" fill="#ed2"/><path d="M1018 317l8-6l-7-9l-8 5z" fill="#ed2"/><path d="M1010 324l8-7l-7-10l-9 6z" fill="#fd3"/><path d="M1001 333l9-9l-8-11l-8 8z" fill="#fc3"/><path d="M993 343l8-10l-7-12l-8 9z" fill="#fc3"/><path d="M985 354l8-11l-7-13l-8 11z" fill="#fb3"/><path d="M977 367l8-13l-7-13l-9 12z" fill="#fb4"/><path d="M968 381l9-14l-8-14l-8 14z" fill="#eb3"/><path d="M960 396l8-15l-7-14l-8 15z" fill="#db2"/><path d="M952 412l8-16l-7-14l-8 16z" fill="#bb3"/><path d="M944 429l8-17l-7-14l-9 16z" fill="#ac4"/><path d="M935 446l9-17l-8-15l-8 18z" fill="#8c5"/><path d="M927 465l8-19l-7-14l-8 18z" fill="#6c7"/><path d="M919 483l8-18l-7-15l-8 19z" fill="#4c8"/><path d="M911 502l8-19l-7-14l-8 20z" fill="#3c9"/><path d="M902 522l9-20l-7-13l-9 19z" fill="#2bb"/><path d="M894 541l8-19l-7-14l-8 20z" fill="#0bc"/><path d="M886 560l8-19l-7-13l-8 20z" fill="#1ac"/><path d="M878 579l8-19l-7-12l-8 19z" fill="#2ad"/><path d="M870 598l8-19l-7-12l-9 20z" fill="#29e"/><path d="M861 616l9-18l-8-11l-8 19z" fill="#39e"/><path d="M853 633l8-17l-7-10l-8 18z" fill="#38f"/><path d="M845 650l8-17l-7-9l-8 17z" fill="#37f"/><path d="M837 666l8-16l-7-9l-9 17z" fill="#46f"/><path d="M828 680l9-14l-8-8l-8 16z" fill="#46f"/><path d="M820 694l8-14l-7-6l-8 14z" fill="#45f"/><path d="M812 706l8-12l-7-6l-8 14z" fill="#45e"/><path d="M804 718l8-12l-7-4l-8 12z" fill="#44e"/><path d="M795 727l9-9l-7-4l-9 10z" fill="#44e"/><path d="M787 735l8-8l-7-3l-8 10z" fill="#44d"/><path d="M779 742l8-7l-7-1l-8 7z" fill="#43d"/><path d="M771 747l8-5l-7-1l-8 7z" fill="#43d"/><path d="M763 751l8-4l-7 1l-9 4z" fill="#43d"/><path d="M754 753l9-2l-8 1l-8 3z" fill="#43d"/><path d="M746 753l8 0l-7 2l-8 1z" fill="#43d"/><path d="M738 752l8 1l-7 3l-8 0z" fill="#43d"/><path d="M730 750l8 2l-7 4l-9-2z" fill="#44d"/><path d="M721 746l9 4l-8 4l-8-3z" fill="#44e"/><path d="M713 740l8 6l-7 5l-8-5z" fill="#44e"/><path d="M705 733l8 7l-7 6l-8-7z" fill="#45e"/><path d="M697 725l8 8l-7 6l-8-7z" fill="#45f"/><path d="M688 715l9 10l-7 7l-9-9z" fill="#46f"/><path d="M680 705l8 10l-7 8l-8-11z" fill="#47f"/><path d="M672 693l8 12l-7 7l-8-11z" fill="#37f"/><path d="M664 681l8 12l-7 8l-8-12z" fill="#38e"/><path d="M656 668l8 13l-7 8l-9-13z" fill="#29e"/><path d="M647 654l9 14l-8 8l-8-14z" fill="#29d"/><path d="M639 640l8 14l-7 8l-8-15z" fill="#2ad"/><path d="M631 625l8 15l-7 7l-8-15z" fill="#0bc"/><path d="M1190 451l8 15l-7 7l-9-15z" fill="#1bb"/><path d="M1181 437l9 14l-8 7l-8-15z" fill="#3ca"/><path d="M1173 423l8 14l-7 6l-8-15z" fill="#4c8"/><path d="M1165 409l8 14l-7 5l-8-14z" fill="#5c7"/><path d="M1157 396l8 13l-7 5l-9-14z" fill="#7c5"/><path d="M1148 383l9 13l-8 4l-8-14z" fill="#9c4"/><path d="M1140 371l8 12l-7 3l-8-13z" fill="#bc3"/><path d="M1132 360l8 11l-7 2l-8-12z" fill="#cb2"/><path d="M1124 350l8 10l-7 1l-8-11z" fill="#db3"/><path d="M1115 340l9 10l-7 0l-9-11z" fill="#eb3"/><path d="M1107 332l8 8l-7-1l-8-9z" fill="#fb4"/><path d="M1099 325l8 7l-7-2l-8-8z" fill="#fc3"/><path d="M1091 320l8 5l-7-3l-8-6z" fill="#fc3"/><path d="M1083 316l8 4l-7-4l-9-5z" fill="#fc3"/><path d="M1074 313l9 3l-8-5l-8-4z" fill="#fd3"/><path d="M1066 312l8 1l-7-6l-8-2z" fill="#fd2"/><path d="M1058 312l8 0l-7-7l-8-1z" fill="#fd2"/><path d="M1050 314l8-2l-7-8l-9 1z" fill="#ed2"/><path d="M1041 317l9-3l-8-9l-8 2z" fill="#fd2"/><path d="M1033 322l8-5l-7-10l-8 4z" fill="#fd3"/><path d="M1025 328l8-6l-7-11l-8 6z" fill="#fd3"/><path d="M1017 336l8-8l-7-11l-8 7z" fill="#fc3"/><path d="M1008 345l9-9l-7-12l-9 9z" fill="#fc3"/><path d="M1000 356l8-11l-7-12l-8 10z" fill="#fb3"/><path d="M992 368l8-12l-7-13l-8 11z" fill="#fb4"/><path d="M984 381l8-13l-7-14l-8 13z" fill="#eb3"/><path d="M976 395l8-14l-7-14l-9 14z" fill="#db2"/><path d="M967 410l9-15l-8-14l-8 15z" fill="#cb2"/><path d="M959 426l8-16l-7-14l-8 16z" fill="#ac3"/><path d="M951 443l8-17l-7-14l-8 17z" fill="#8c5"/><path d="M943 461l8-18l-7-14l-9 17z" fill="#6c6"/><path d="M934 479l9-18l-8-15l-8 19z" fill="#5c8"/><path d="M926 497l8-18l-7-14l-8 18z" fill="#3c9"/><path d="M918 516l8-19l-7-14l-8 19z" fill="#2ba"/><path d="M910 535l8-19l-7-14l-9 20z" fill="#1bb"/><path d="M901 553l9-18l-8-13l-8 19z" fill="#0bc"/><path d="M893 572l8-19l-7-12l-8 19z" fill="#1ad"/><path d="M885 590l8-18l-7-12l-8 19z" fill="#2ad"/><path d="M877 608l8-18l-7-11l-8 19z" fill="#29e"/><path d="M869 625l8-17l-7-10l-9 18z" fill="#38e"/><path d="M860 642l9-17l-8-9l-8 17z" fill="#38f"/><path d="M852 658l8-16l-7-9l-8 17z" fill="#37f"/><path d="M844 672l8-14l-7-8l-8 16z" fill="#46f"/><path d="M836 686l8-14l-7-6l-9 14z" fill="#46f"/><path d="M827 699l9-13l-8-6l-8 14z" fill="#45f"/><path d="M819 710l8-11l-7-5l-8 12z" fill="#45e"/><path d="M811 720l8-10l-7-4l-8 12z" fill="#44e"/><path d="M803 729l8-9l-7-2l-9 9z" fill="#44e"/><path d="M794 736l9-7l-8-2l-8 8z" fill="#44d"/><path d="M786 742l8-6l-7-1l-8 7z" fill="#44d"/><path d="M778 746l8-4l-7 0l-8 5z" fill="#43d"/><path d="M770 749l8-3l-7 1l-8 4z" fill="#43d"/><path d="M761 750l9-1l-7 2l-9 2z" fill="#44d"/><path d="M753 749l8 1l-7 3l-8 0z" fill="#44d"/><path d="M745 748l8 1l-7 4l-8-1z" fill="#44d"/><path d="M737 744l8 4l-7 4l-8-2z" fill="#44e"/><path d="M729 740l8 4l-7 6l-9-4z" fill="#44e"/><path d="M720 734l9 6l-8 6l-8-6z" fill="#45e"/><path d="M712 726l8 8l-7 6l-8-7z" fill="#45f"/><path d="M704 718l8 8l-7 7l-8-8z" fill="#46f"/><path d="M696 708l8 10l-7 7l-9-10z" fill="#47f"/><path d="M687 697l9 11l-8 7l-8-10z" fill="#37f"/><path d="M679 686l8 11l-7 8l-8-12z" fill="#38f"/><path d="M671 673l8 13l-7 7l-8-12z" fill="#39e"/><path d="M663 660l8 13l-7 8l-8-13z" fill="#29e"/><path d="M654 647l9 13l-7 8l-9-14z" fill="#2ad"/><path d="M646 633l8 14l-7 7l-8-14z" fill="#1ad"/><path d="M638 619l8 14l-7 7l-8-15z" fill="#0bc"/></g>
<path d="M103.9 313L319 412.3L598.9 335.9M103.9 313L103.9 96.6M319 412.3L325.4 415.2M319 412.3L312.2 414.1M389 393.2L395.3 396.1M265.2 387.5L258.5 389.3M458.9 374.1L465.3 377M211.4 362.6L204.7 364.5M528.9 355L535.3 357.9M157.7 337.8L150.9 339.7M598.9 335.9L605.3 338.8M103.9 313L97.1 314.8M103.9 313L97.5 310.1M103.9 262.6L97.5 259.7M103.9 212.2L97.5 209.3M103.9 161.8L97.5 158.9M103.9 111.4L97.5 108.5" fill="none" stroke="#303030" stroke-width="1.15"/>
<text x="87.3" y="319.3" text-anchor="end" style="font-family:'Liberation Sans',Arial,sans-serif;font-size:27px" fill="#262626">-4</text>
<text x="87.3" y="268.9" text-anchor="end" style="font-family:'Liberation Sans',Arial,sans-serif;font-size:27px" fill="#262626">-2</text>
<text x="87.3" y="218.5" text-anchor="end" style="font-family:'Liberation Sans',Arial,sans-serif;font-size:27px" fill="#262626">0</text>
<text x="87.3" y="168.1" text-anchor="end" style="font-family:'Liberation Sans',Arial,sans-serif;font-size:27px" fill="#262626">2</text>
<text x="87.3" y="117.7" text-anchor="end" style="font-family:'Liberation Sans',Arial,sans-serif;font-size:27px" fill="#262626">4</text>
<text x="333.2" y="447.1" style="font-family:'Liberation Sans',Arial,sans-serif;font-size:27px" fill="#262626">0</text>
<text x="302.9" y="445.4" text-anchor="end" style="font-family:'Liberation Sans',Arial,sans-serif;font-size:27px" fill="#262626">0</text>
<text x="403.2" y="428" style="font-family:'Liberation Sans',Arial,sans-serif;font-size:27px" fill="#262626">pi/2</text>
<text x="249.1" y="420.5" text-anchor="end" style="font-family:'Liberation Sans',Arial,sans-serif;font-size:27px" fill="#262626">pi/2</text>
<text x="473.1" y="408.9" style="font-family:'Liberation Sans',Arial,sans-serif;font-size:27px" fill="#262626">pi</text>
<text x="195.3" y="395.7" text-anchor="end" style="font-family:'Liberation Sans',Arial,sans-serif;font-size:27px" fill="#262626">pi</text>
<text x="543.1" y="389.8" style="font-family:'Liberation Sans',Arial,sans-serif;font-size:27px" fill="#262626">3pi/2</text>
<text x="141.5" y="370.9" text-anchor="end" style="font-family:'Liberation Sans',Arial,sans-serif;font-size:27px" fill="#262626">3pi/2</text>
<text x="613.1" y="370.7" style="font-family:'Liberation Sans',Arial,sans-serif;font-size:27px" fill="#262626">2pi</text>
<text x="87.8" y="346.1" text-anchor="end" style="font-family:'Liberation Sans',Arial,sans-serif;font-size:27px" fill="#262626">2pi</text>
<text transform="translate(473.5 460.5) rotate(-12.5)" text-anchor="middle" style="font-family:'Liberation Serif','Times New Roman',serif;font-size:28.4px" fill="#000" stroke="#000" stroke-width=".2">2<tspan font-style="italic">α</tspan><tspan dy="5.7" font-size="17.6">1</tspan><tspan dy="-5.7">/rad</tspan></text>
<text transform="translate(135.1 427.3) rotate(35)" text-anchor="middle" style="font-family:'Liberation Serif','Times New Roman',serif;font-size:26.9px" fill="#000" stroke="#000" stroke-width=".2">2<tspan font-style="italic">α</tspan><tspan dy="5.7" font-size="16.7">2</tspan><tspan dy="-5.7" dx="3">/rad</tspan></text>
<text transform="translate(29.6 215.9) rotate(-90)" text-anchor="middle" style="font-family:'Liberation Serif','Times New Roman',serif;font-size:25.4px" fill="#000" stroke="#000" stroke-width=".2"><tspan font-style="italic">T</tspan><tspan font-style="italic" dy="5.1" font-size="15.8">e</tspan><tspan font-size="15.8">01</tspan><tspan dy="-5.1" dx="1.5"> / (Nm)</tspan></text>
<text x="311.7" y="580" text-anchor="middle" style="font-family:'Liberation Serif','Times New Roman',serif;font-size:51px" fill="#000" stroke="#000" stroke-width=".5">(a)</text>
</g>
<g>
<path d="M1055.9 390.5L835.7 289.9M929.2 384.6L1215.8 307.5M1127.5 371.2L907.4 270.6M874.2 359.5L1160.7 282.3M1199.2 351.9L979 251.3M819.1 334.4L1105.7 257.1M1270.8 332.6L1050.6 232M764.1 309.2L1050.6 232M1270.8 332.6L1270.8 110.9M835.7 289.9L835.7 68.2M1215.8 307.5L1215.8 85.8M907.4 270.6L907.4 48.9M1160.7 282.3L1160.7 60.6M979 251.3L979 29.6M1105.7 257.1L1105.7 35.5M1050.6 232L1050.6 10.3M764.1 257.5L1050.6 180.3L1270.8 280.9M764.1 205.8L1050.6 128.6L1270.8 229.2M764.1 154.1L1050.6 76.9L1270.8 177.5M764.1 102.4L1050.6 25.2L1270.8 125.8" fill="none" stroke="#cbcbcb" stroke-width="1.1"/>
<path d="M1051.5 310.4l-5.6 0.9l-6.1 0.7l-6.7 0.5l-9.6 0.1l-8.6-0.3l-6.1-0.6l-7.9-1l-5.8-1.1l-5.2-1.3l-4.4-1.4l-3.9-1.7l-4.6-2.7l-2.3-2.1l-1.6-2.2l-0.8-2.4l0-2.7l0.3-1.3l0.7-1.5l1.9-2.6l2.7-2.2l3.1-2l3.7-1.8l4.2-1.6l4.7-1.3l5.2-1.1l5.6-0.9l6.2-0.7l6.7-0.4l9.8-0.1l8.5 0.4l6.3 0.6l7.6 1l5.7 1.1l5.1 1.3l4.4 1.5l3.8 1.7l3.2 1.8l2.5 2l1.9 2.1l1.1 2.4l0.3 1.4l0 1.7l-0.3 1.6l-0.6 1.4l-1.8 2.5l-2.6 2.4l-2.4 1.6l-4.4 2.3l-4.2 1.6l-4.6 1.3z" fill="none" stroke="#4743e7" stroke-width="1.05"/>
<path d="M1072.3 318.2l-8 1.6l-12 1.4l-13.5 0.8l-11 0.1l-12.2-0.3l-13.2-0.8l-10.8-1.1l-12.5-2l-10.7-2.5l-6.6-2.2l-5.6-2.5l-4.4-2.8l-3.3-3.1l-1.6-2.2l-0.6-1.2l-0.5-1.2l-0.6-2.5l-0.1-2.6l0.2-1.9l0.6-2.3l1-2.2l1.4-2.5l1.2-1.6l3.5-3.6l4.3-3.2l5.2-2.8l6-2.5l6.9-2l7.8-1.7l10.1-1.4l11.4-0.9l10.6-0.4l11.4 0.1l12.5 0.5l12.6 1l10.3 1.2l9.1 1.5l8.1 1.8l7 2.2l5.8 2.4l3.3 1.8l4 2.9l2.8 3.2l1.3 2.3l0.5 1.3l0.3 1.2l0.3 2.6l-0.1 2.7l-0.4 1.5l-1.1 2.9l-0.7 1.5l-2.9 3.9l-3.7 3.5l-4.6 3.1l-5.4 2.7l-6.3 2.4z" fill="none" stroke="#3f6eff" stroke-width="1.05"/>
<path d="M1084 327l-11.7 1.6l-6.4 0.6l-10.2 0.5l-14.6 0.3l-19.6-0.3l-18.6-0.9l-19.3-1.4l-17.3-2.1l-12-2l-5.4-1.3l-4.9-1.3l-6.3-2.3l-5.1-2.6l-4-2.9l-2.9-3.3l-1.3-2.3l-1-2.4l-0.5-2.5l-0.2-2.6l0.1-2.7l0.4-2.8l0.7-2.8l1.1-3l1.8-3.8l1.6-2.7l1.9-2.7l2.1-2.5l2.4-2.3l2.7-2.3l3-2.1l3.3-1.9l5.7-2.6l6.6-2.2l4.9-1.3l5.3-1l11.7-1.6l6.5-0.5l10.2-0.5l14.7-0.3l19.7 0.4l18.6 0.8l19.2 1.5l17.1 2.1l12 2.1l5.3 1.2l4.8 1.4l6.3 2.3l5.1 2.6l3.9 3l2.7 3.2l1.3 2.3l1 2.5l0.5 2.5l0.2 2.6l-0.2 2.7l-0.4 2.8l-0.8 2.9l-1.2 3.3l-1.4 2.9l-1.6 2.7l-1.9 2.6l-2.1 2.5l-2.3 2.4l-2.7 2.3l-2.9 2.1l-3.3 2l-5.7 2.6l-4.2 1.5l-4.6 1.4z" fill="none" stroke="#2798ea" stroke-width="1.05"/>
<path d="M1134.7 369.3l3.9-5.2l2.2-2.4l2.7-2.3l3.1-2l1.7-1l4-1.6l2.2-0.8l7.8-1.6l5.9-0.8l6.5-0.5l10.6-0.4l18.2 0M1150.3 277.5l-0.4 3.7l-0.7 4.2l-2.4 8.7l-3.6 9.7l-2.5 5.8l-2.1 4.2l-4.1 6.8l-4 5.1l-3.8 3.5l-4.8 3l-3.9 1.7l-2.2 0.7l-4.9 1.3l-5.5 0.9l-9.5 0.9l-10.5 0.4l-15 0l-19.8-0.3l-20.5-0.7l-28.5-1.3l-24.7-1.3l-23.7-1.6l-14.8-1.4l-10.3-1.2l-9.1-1.5l-7.5-2l-3.9-1.6l-1.7-0.9l-1.4-1l-2.2-2l-1.5-2.3l-0.9-2.4l-0.4-2.6l-0.1-2.6l0.6-5.5l0.8-4.2l1.2-4.3l3.5-10.3l4.4-10.1l2.2-4.3l2.4-4M816.4 333.1l12.7 1.2l9.8 1.4l8.5 1.7l6.8 2.2l1.8 0.8l2.9 1.9l1.2 1l1.8 2.2l0.6 1.2l0.8 2.4l0.4 2.6l0.1 3M983.3 250.1l28.9 0.8l32.6 1.3l32.9 1.8l25.2 1.9" fill="none" stroke="#02b7cb" stroke-width="1.05"/>
<path d="M1109.1 376.2l0.4-4.1l-0.2-4l-0.9-3.7l-1.1-2.4l-0.7-1.2l-1.8-2.1l-2.5-2l-3.1-1.8l-3.8-1.7l-4.5-1.4l-7.9-1.9l-6-1.1l-9.8-1.3l-21.7-2.2l-27.9-1.8l-33.5-1.4l-27.5-0.4l-11.1 0.1l-10.5 0.4l-9.7 0.8l-5.9 0.7l-5.5 1l-4.9 1.2l-6.4 2.3l-3.7 1.8l-3.2 2l-4.1 3.3l-3.5 3.6l-3.8 5.2M1170.8 286.9l-3.1 5.5l-3.3 7.2l-2.1 6.3l-1.5 7l-0.4 5.5l0.2 2.6l0.6 2.5l1.5 3.6l0.8 1.1l1.9 2.2l1.2 1l2.8 1.9l3.6 1.7l6.5 2.2l5.2 1.3l8.8 1.6l9.9 1.3l10.6 1.2l15.1 1.2M795.8 323.7l15.3 0l10.9-0.2l10.2-0.5l6.3-0.6l8.7-1.3l5.1-1.1l4.6-1.3l6-2.5l4.9-3l4.1-3.3l3.4-3.7l3.8-5.2l3.1-5.5l3.2-7.2l2.3-7.1l1.2-5.6M1008.9 243.2l15.8 1.1l21 1.1l20.7 0.7l15.9 0.4" fill="none" stroke="#3ac994" stroke-width="1.05"/>
<path d="M1087.2 382.1l0.2-3.2l-0.4-3.4l-1.3-3.7l-1.3-2.3l-2.9-3.2l-2.5-2l-4.7-2.7l-3.8-1.7l-4.3-1.5l-7.3-2l-5.5-1.2l-9.1-1.6l-17.1-2l-19.5-1.4l-10.7-0.5l-11.9-0.2l-18.5 0.2l-10.2 0.5l-6.4 0.6l-8.9 1.1l-5.5 1l-7.5 1.8l-4.5 1.4l-4.1 1.6l-5.4 2.7l-3.2 2l-4.2 3.3l-3.2 3.2l-2.3 2.9M1187.7 294.6l-2.4 4.1l-1.8 4.4l-0.8 3.9l-0.2 2.7l0.1 1.7l0.7 3.5l1.7 3.5l2.6 3.3l3.6 3l4.8 2.7l3.8 1.7l6.7 2.2l7.8 1.9l5.8 1.1l9.4 1.4l10.3 1.2l11.2 1M778.9 316l11.3-0.1l10.6-0.3l9.9-0.7l6.2-0.7l8.5-1.2l5.3-1.1l4.8-1.3l6.6-2.2l3.9-1.7l5.1-2.8l4.4-3.2l3.7-3.6l3-3.8l2.4-4.1l1.4-3.5l1-4.2M1030.8 237.3l16.2 1l18.4 0.5" fill="none" stroke="#9cc944" stroke-width="1.05"/>
<path d="M1062.1 388.8l1.4-3l0.6-2.8l0-2.7l-0.7-2.5l-1.2-2.3l-1.7-2.2l-3.5-3.1l-3-1.8l-3.5-1.8l-6.2-2.3l-4.8-1.3l-5.4-1.3l-5.8-1.1l-9.8-1.3l-14.7-1.3l-16.1-0.4l-14.2 0.4l-6.7 0.6l-8.8 1l-5.5 1l-5.1 1.1l-4.7 1.4l-6.3 2.3l-3.7 1.8l-3.3 1.9l-2.9 2.2l-3 2.9l-2.4 3.3l-1.2 2.9M980.5 408l9.1 0.4M1206.4 303.2l-0.6 2.9l0.1 2.7l0.7 2.4l1.2 2.4l1.8 2.2l2.2 2l2.8 1.9l3.4 1.8l3.8 1.7l6.3 2l5.5 1.4l5.6 1.2l12.9 1.8l14.9 1.2M769.4 307.8l14.2-0.1l13.3-0.9l11.3-1.5l8.1-1.7l4.7-1.4l4.2-1.5l3.9-1.7l3.4-1.9l3.1-2.1l2.7-2.2l2.2-2.5l1.4-2.1" fill="none" stroke="#f3ba38" stroke-width="1.05"/>
<path d="M1007.9 396.8l3.6-0.6l5.2-1.1l4.6-1.3l4-1.7l3.4-1.9l1.5-1.1l1.5-1.4l1.6-2.4l0.4-1.5l0-2l-0.3-1.2l-0.7-1.2l-1.8-2.1l-2.7-2l-3.5-1.7l-6.5-2.2l-5.4-1.3l-6.3-0.9l-10.5-0.9l-11.2 0.1l-9.5 0.9l-5.5 0.9l-5 1.2l-6.3 2.3l-3.5 1.9l-2.8 2.2l-1.1 1.2l-0.8 1.3l-0.5 1.5l-0.2 1.8l0.6 2.1l1.5 2.2l1.1 1.1l2.8 1.9l1.6 0.9l3.9 1.6l4.7 1.4l8.5 1.7l5.1 0.6l5.7 0.5l10.8 0.1l6.7-0.3z" fill="none" stroke="#f5e227" stroke-width="1.05"/>
<g transform="scale(0.5)" stroke="#000" stroke-width="2.2" stroke-linejoin="round"><path d="M2099 137l10-12l-8-13l-9 11z" fill="#cb2"/><path d="M2089 149l10-12l-7-14l-10 13z" fill="#bc3"/><path d="M2080 162l9-13l-7-13l-9 13z" fill="#9c4"/><path d="M2070 176l10-14l-7-13l-10 13z" fill="#8c5"/><path d="M2061 189l9-13l-7-14l-10 14z" fill="#7c6"/><path d="M2051 203l10-14l-8-13l-9 14z" fill="#5c7"/><path d="M2042 217l9-14l-7-13l-10 14z" fill="#4c8"/><path d="M2032 231l10-14l-8-13l-9 14z" fill="#3c9"/><path d="M2023 245l9-14l-7-13l-10 14z" fill="#3ca"/><path d="M2013 258l10-13l-8-13l-9 13z" fill="#2ba"/><path d="M2003 271l10-13l-7-13l-10 13z" fill="#1bb"/><path d="M1994 283l9-12l-7-13l-9 12z" fill="#0bb"/><path d="M1984 295l10-12l-7-13l-10 12z" fill="#0bc"/><path d="M1975 306l9-11l-7-13l-10 10z" fill="#1bc"/><path d="M1965 316l10-10l-8-14l-9 10z" fill="#1ad"/><path d="M1956 325l9-9l-7-14l-10 10z" fill="#2ad"/><path d="M1946 333l10-8l-8-13l-9 8z" fill="#2ad"/><path d="M1937 340l9-7l-7-13l-10 7z" fill="#2ad"/><path d="M1927 345l10-5l-8-13l-9 5z" fill="#2ad"/><path d="M1918 350l9-5l-7-13l-10 5z" fill="#2ad"/><path d="M1908 354l10-4l-8-13l-9 4z" fill="#29d"/><path d="M1898 356l10-2l-7-13l-10 2z" fill="#29d"/><path d="M1889 357l9-1l-7-13l-9 1z" fill="#2ad"/><path d="M1879 357l10 0l-7-13l-10 0z" fill="#2ad"/><path d="M1870 356l9 1l-7-13l-10-1z" fill="#2ad"/><path d="M1860 354l10 2l-8-13l-9-2z" fill="#2ad"/><path d="M1851 350l9 4l-7-13l-10-4z" fill="#1ad"/><path d="M1841 346l10 4l-8-13l-9-4z" fill="#1ad"/><path d="M1832 341l9 5l-7-13l-10-5z" fill="#0bc"/><path d="M1822 335l10 6l-8-13l-9-6z" fill="#0bc"/><path d="M1812 328l10 7l-7-13l-10-7z" fill="#0bb"/><path d="M1803 321l9 7l-7-13l-9-7z" fill="#2bb"/><path d="M1793 313l10 8l-7-13l-10-8z" fill="#2ba"/><path d="M1784 305l9 8l-7-13l-9-9z" fill="#3c9"/><path d="M1774 296l10 9l-7-14l-10-8z" fill="#4c8"/><path d="M1765 287l9 9l-7-13l-10-9z" fill="#5c8"/><path d="M1755 278l10 9l-8-13l-9-9z" fill="#6c6"/><path d="M1746 270l9 8l-7-13l-10-8z" fill="#7c5"/><path d="M1736 261l10 9l-8-13l-9-9z" fill="#9c4"/><path d="M1727 253l9 8l-7-13l-10-8z" fill="#ac3"/><path d="M1717 245l10 8l-8-13l-9-8z" fill="#bb3"/><path d="M1707 238l10 7l-7-13l-10-7z" fill="#cb2"/><path d="M1698 232l9 6l-7-13l-9-6z" fill="#db2"/><path d="M1688 226l10 6l-7-13l-10-6z" fill="#eb3"/><path d="M1679 221l9 5l-7-13l-10-5z" fill="#eb3"/><path d="M1669 217l10 4l-8-13l-9-4z" fill="#fb4"/><path d="M1660 214l9 3l-7-13l-10-3z" fill="#fb4"/><path d="M1650 213l10 1l-8-13l-9-2z" fill="#fb3"/><path d="M1641 212l9 1l-7-14l-10 0z" fill="#fc3"/><path d="M1631 212l10 0l-8-13l-9 0z" fill="#fc3"/><path d="M1621 214l10-2l-7-13l-10 2z" fill="#fc3"/><path d="M1612 217l9-3l-7-13l-9 3z" fill="#fc3"/><path d="M1602 221l10-4l-7-13l-10 4z" fill="#fc3"/><path d="M1593 226l9-5l-7-13l-9 5z" fill="#fc3"/><path d="M1583 232l10-6l-7-13l-10 6z" fill="#fb3"/><path d="M1574 240l9-8l-7-13l-10 8z" fill="#fb4"/><path d="M1564 248l10-8l-8-13l-9 8z" fill="#fb4"/><path d="M1555 257l9-9l-7-13l-10 9z" fill="#eb3"/><path d="M1545 268l10-11l-8-13l-9 11z" fill="#db3"/><path d="M1536 279l9-11l-7-13l-10 11z" fill="#db2"/><path d="M2106 150l10-12l-7-13l-10 12z" fill="#bc3"/><path d="M2097 163l9-13l-7-13l-10 12z" fill="#ac4"/><path d="M2087 176l10-13l-8-14l-9 13z" fill="#8c5"/><path d="M2078 189l9-13l-7-14l-10 14z" fill="#7c6"/><path d="M2068 203l10-14l-8-13l-9 13z" fill="#6c7"/><path d="M2059 217l9-14l-7-14l-10 14z" fill="#4c8"/><path d="M2049 231l10-14l-8-14l-9 14z" fill="#3c9"/><path d="M2039 245l10-14l-7-14l-10 14z" fill="#3ca"/><path d="M2030 258l9-13l-7-14l-9 14z" fill="#2ba"/><path d="M2020 272l10-14l-7-13l-10 13z" fill="#1bb"/><path d="M2011 284l9-12l-7-14l-10 13z" fill="#0bb"/><path d="M2001 297l10-13l-8-13l-9 12z" fill="#0bc"/><path d="M1992 308l9-11l-7-14l-10 12z" fill="#1ac"/><path d="M1982 319l10-11l-8-13l-9 11z" fill="#1ad"/><path d="M1973 329l9-10l-7-13l-10 10z" fill="#2ad"/><path d="M1963 338l10-9l-8-13l-9 9z" fill="#2ad"/><path d="M1877 370l10 1l-8-14l-9-1z" fill="#29d"/><path d="M1868 367l9 3l-7-14l-10-2z" fill="#2ad"/><path d="M1858 364l10 3l-8-13l-9-4z" fill="#2ad"/><path d="M1848 360l10 4l-7-14l-10-4z" fill="#2ad"/><path d="M1839 355l9 5l-7-14l-9-5z" fill="#1ad"/><path d="M1829 349l10 6l-7-14l-10-6z" fill="#1bc"/><path d="M1820 342l9 7l-7-14l-10-7z" fill="#0bc"/><path d="M1810 334l10 8l-8-14l-9-7z" fill="#0bb"/><path d="M1801 326l9 8l-7-13l-10-8z" fill="#2bb"/><path d="M1791 318l10 8l-8-13l-9-8z" fill="#2ba"/><path d="M1782 310l9 8l-7-13l-10-9z" fill="#3c9"/><path d="M1772 301l10 9l-8-14l-9-9z" fill="#4c8"/><path d="M1763 292l9 9l-7-14l-10-9z" fill="#5c7"/><path d="M1753 283l10 9l-8-14l-9-8z" fill="#6c6"/><path d="M1743 275l10 8l-7-13l-10-9z" fill="#7c5"/><path d="M1734 267l9 8l-7-14l-9-8z" fill="#9c4"/><path d="M1724 259l10 8l-7-14l-10-8z" fill="#ac3"/><path d="M1715 252l9 7l-7-14l-10-7z" fill="#bc3"/><path d="M1705 245l10 7l-8-14l-9-6z" fill="#cb2"/><path d="M1696 240l9 5l-7-13l-10-6z" fill="#db2"/><path d="M1686 235l10 5l-8-14l-9-5z" fill="#db3"/><path d="M1677 231l9 4l-7-14l-10-4z" fill="#eb3"/><path d="M1667 228l10 3l-8-14l-9-3z" fill="#eb3"/><path d="M1657 226l10 2l-7-14l-10-1z" fill="#fb4"/><path d="M1648 225l9 1l-7-13l-9-1z" fill="#fb4"/><path d="M1638 226l10-1l-7-13l-10 0z" fill="#fb4"/><path d="M1629 228l9-2l-7-14l-10 2z" fill="#fb4"/><path d="M1619 230l10-2l-8-14l-9 3z" fill="#fb4"/><path d="M1610 234l9-4l-7-13l-10 4z" fill="#fb4"/><path d="M1600 239l10-5l-8-13l-9 5z" fill="#fb4"/><path d="M1591 246l9-7l-7-13l-10 6z" fill="#fb4"/><path d="M1581 253l10-7l-8-14l-9 8z" fill="#eb3"/><path d="M1572 262l9-9l-7-13l-10 8z" fill="#eb3"/><path d="M1562 271l10-9l-8-14l-9 9z" fill="#db3"/><path d="M1552 281l10-10l-7-14l-10 11z" fill="#db2"/><path d="M1543 293l9-12l-7-13l-9 11z" fill="#cb2"/><path d="M2114 164l9-12l-7-14l-10 12z" fill="#9c4"/><path d="M2104 177l10-13l-8-14l-9 13z" fill="#8c5"/><path d="M2095 190l9-13l-7-14l-10 13z" fill="#7c6"/><path d="M2085 203l10-13l-8-14l-9 13z" fill="#6c7"/><path d="M2075 217l10-14l-7-14l-10 14z" fill="#4c8"/><path d="M2066 231l9-14l-7-14l-9 14z" fill="#3c9"/><path d="M2056 245l10-14l-7-14l-10 14z" fill="#3c9"/><path d="M2047 259l9-14l-7-14l-10 14z" fill="#2ba"/><path d="M2037 272l10-13l-8-14l-9 13z" fill="#1bb"/><path d="M2028 286l9-14l-7-14l-10 14z" fill="#0bc"/><path d="M2018 298l10-12l-8-14l-9 12z" fill="#0bc"/><path d="M2009 311l9-13l-7-14l-10 13z" fill="#1ad"/><path d="M1999 322l10-11l-8-14l-9 11z" fill="#1ad"/><path d="M1990 333l9-11l-7-14l-10 11z" fill="#2ad"/><path d="M1865 378l10 3l-7-14l-10-3z" fill="#29d"/><path d="M1856 374l9 4l-7-14l-10-4z" fill="#2ad"/><path d="M1846 369l10 5l-8-14l-9-5z" fill="#2ad"/><path d="M1837 363l9 6l-7-14l-10-6z" fill="#1ad"/><path d="M1827 356l10 7l-8-14l-9-7z" fill="#1bc"/><path d="M1818 348l9 8l-7-14l-10-8z" fill="#0bc"/><path d="M1808 341l10 7l-8-14l-9-8z" fill="#0bb"/><path d="M1799 332l9 9l-7-15l-10-8z" fill="#2bb"/><path d="M1789 324l10 8l-8-14l-9-8z" fill="#2ba"/><path d="M1779 315l10 9l-7-14l-10-9z" fill="#3c9"/><path d="M1770 306l9 9l-7-14l-9-9z" fill="#4c8"/><path d="M1760 297l10 9l-7-14l-10-9z" fill="#5c7"/><path d="M1751 289l9 8l-7-14l-10-8z" fill="#6c6"/><path d="M1741 281l10 8l-8-14l-9-8z" fill="#7c5"/><path d="M1732 273l9 8l-7-14l-10-8z" fill="#9c4"/><path d="M1722 266l10 7l-8-14l-9-7z" fill="#ac3"/><path d="M1713 259l9 7l-7-14l-10-7z" fill="#bc3"/><path d="M1703 254l10 5l-8-14l-9-5z" fill="#cb2"/><path d="M1693 249l10 5l-7-14l-10-5z" fill="#db2"/><path d="M1684 245l9 4l-7-14l-9-4z" fill="#db2"/><path d="M1674 242l10 3l-7-14l-10-3z" fill="#eb3"/><path d="M1665 240l9 2l-7-14l-10-2z" fill="#eb3"/><path d="M1655 240l10 0l-8-14l-9-1z" fill="#eb3"/><path d="M1646 240l9 0l-7-15l-10 1z" fill="#eb3"/><path d="M1636 242l10-2l-8-14l-9 2z" fill="#eb3"/><path d="M1627 244l9-2l-7-14l-10 2z" fill="#eb3"/><path d="M1617 248l10-4l-8-14l-9 4z" fill="#eb3"/><path d="M1608 254l9-6l-7-14l-10 5z" fill="#eb3"/><path d="M1598 260l10-6l-8-15l-9 7z" fill="#eb3"/><path d="M1588 267l10-7l-7-14l-10 7z" fill="#db3"/><path d="M1579 276l9-9l-7-14l-9 9z" fill="#db2"/><path d="M1569 285l10-9l-7-14l-10 9z" fill="#cb2"/><path d="M1560 296l9-11l-7-14l-10 10z" fill="#bb3"/><path d="M1550 307l10-11l-8-15l-9 12z" fill="#bc3"/><path d="M2121 179l10-12l-8-15l-9 12z" fill="#8c5"/><path d="M2111 191l10-12l-7-15l-10 13z" fill="#7c6"/><path d="M2102 204l9-13l-7-14l-9 13z" fill="#6c7"/><path d="M2092 218l10-14l-7-14l-10 13z" fill="#4c8"/><path d="M2083 231l9-13l-7-15l-10 14z" fill="#3c9"/><path d="M2073 245l10-14l-8-14l-9 14z" fill="#3c9"/><path d="M2064 259l9-14l-7-14l-10 14z" fill="#2ba"/><path d="M2054 273l10-14l-8-14l-9 14z" fill="#1bb"/><path d="M2045 287l9-14l-7-14l-10 13z" fill="#0bc"/><path d="M2035 300l10-13l-8-15l-9 14z" fill="#0bc"/><path d="M2026 313l9-13l-7-14l-10 12z" fill="#1ad"/><path d="M2016 325l10-12l-8-15l-9 13z" fill="#2ad"/><path d="M2006 337l10-12l-7-14l-10 11z" fill="#2ad"/><path d="M1863 388l10 5l-8-15l-9-4z" fill="#29e"/><path d="M1854 383l9 5l-7-14l-10-5z" fill="#2ad"/><path d="M1844 377l10 6l-8-14l-9-6z" fill="#2ad"/><path d="M1835 370l9 7l-7-14l-10-7z" fill="#1ad"/><path d="M1825 363l10 7l-8-14l-9-8z" fill="#1bc"/><path d="M1815 355l10 8l-7-15l-10-7z" fill="#0bc"/><path d="M1806 347l9 8l-7-14l-9-9z" fill="#0bb"/><path d="M1796 338l10 9l-7-15l-10-8z" fill="#2bb"/><path d="M1787 329l9 9l-7-14l-10-9z" fill="#2ba"/><path d="M1777 321l10 8l-8-14l-9-9z" fill="#3c9"/><path d="M1768 312l9 9l-7-15l-10-9z" fill="#4c8"/><path d="M1758 303l10 9l-8-15l-9-8z" fill="#5c7"/><path d="M1749 295l9 8l-7-14l-10-8z" fill="#6c6"/><path d="M1739 287l10 8l-8-14l-9-8z" fill="#7c5"/><path d="M1729 280l10 7l-7-14l-10-7z" fill="#9c4"/><path d="M1720 274l9 6l-7-14l-9-7z" fill="#ac4"/><path d="M1710 268l10 6l-7-15l-10-5z" fill="#bc3"/><path d="M1701 263l9 5l-7-14l-10-5z" fill="#bb3"/><path d="M1691 259l10 4l-8-14l-9-4z" fill="#cb2"/><path d="M1682 256l9 3l-7-14l-10-3z" fill="#db2"/><path d="M1672 255l10 1l-8-14l-9-2z" fill="#db2"/><path d="M1663 254l9 1l-7-15l-10 0z" fill="#db3"/><path d="M1653 254l10 0l-8-14l-9 0z" fill="#db3"/><path d="M1644 256l9-2l-7-14l-10 2z" fill="#eb3"/><path d="M1634 259l10-3l-8-14l-9 2z" fill="#eb3"/><path d="M1624 263l10-4l-7-15l-10 4z" fill="#db3"/><path d="M1615 268l9-5l-7-15l-9 6z" fill="#db3"/><path d="M1605 274l10-6l-7-14l-10 6z" fill="#db2"/><path d="M1596 282l9-8l-7-14l-10 7z" fill="#cb2"/><path d="M1586 290l10-8l-8-15l-9 9z" fill="#cb2"/><path d="M1577 300l9-10l-7-14l-10 9z" fill="#bb3"/><path d="M1567 310l10-10l-8-15l-9 11z" fill="#ac3"/><path d="M1558 321l9-11l-7-14l-10 11z" fill="#9c4"/><path d="M2128 193l10-12l-7-14l-10 12z" fill="#7c6"/><path d="M2119 206l9-13l-7-14l-10 12z" fill="#5c7"/><path d="M2109 219l10-13l-8-15l-9 13z" fill="#4c8"/><path d="M2100 232l9-13l-7-15l-10 14z" fill="#3c9"/><path d="M2090 246l10-14l-8-14l-9 13z" fill="#3c9"/><path d="M2081 260l9-14l-7-15l-10 14z" fill="#2ba"/><path d="M2071 274l10-14l-8-15l-9 14z" fill="#1bb"/><path d="M2062 288l9-14l-7-15l-10 14z" fill="#0bc"/><path d="M2052 301l10-13l-8-15l-9 14z" fill="#0bc"/><path d="M2042 315l10-14l-7-14l-10 13z" fill="#1ad"/><path d="M2033 328l9-13l-7-15l-9 13z" fill="#2ad"/><path d="M2023 340l10-12l-7-15l-10 12z" fill="#2ad"/><path d="M1851 392l10 6l-7-15l-10-6z" fill="#29d"/><path d="M1842 385l9 7l-7-15l-9-7z" fill="#2ad"/><path d="M1832 378l10 7l-7-15l-10-7z" fill="#1ad"/><path d="M1823 370l9 8l-7-15l-10-8z" fill="#1ac"/><path d="M1813 361l10 9l-8-15l-9-8z" fill="#0bc"/><path d="M1804 353l9 8l-7-14l-10-9z" fill="#0bb"/><path d="M1794 344l10 9l-8-15l-9-9z" fill="#2bb"/><path d="M1785 335l9 9l-7-15l-10-8z" fill="#2ba"/><path d="M1775 326l10 9l-8-14l-9-9z" fill="#3c9"/><path d="M1765 318l10 8l-7-14l-10-9z" fill="#4c8"/><path d="M1756 310l9 8l-7-15l-9-8z" fill="#5c7"/><path d="M1746 302l10 8l-7-15l-10-8z" fill="#6c6"/><path d="M1737 295l9 7l-7-15l-10-7z" fill="#7c6"/><path d="M1727 288l10 7l-8-15l-9-6z" fill="#8c5"/><path d="M1718 283l9 5l-7-14l-10-6z" fill="#9c4"/><path d="M1708 278l10 5l-8-15l-9-5z" fill="#ac3"/><path d="M1699 274l9 4l-7-15l-10-4z" fill="#bc3"/><path d="M1689 271l10 3l-8-15l-9-3z" fill="#bb3"/><path d="M1680 269l9 2l-7-15l-10-1z" fill="#cb2"/><path d="M1670 269l10 0l-8-14l-9-1z" fill="#cb2"/><path d="M1660 269l10 0l-7-15l-10 0z" fill="#cb2"/><path d="M1651 271l9-2l-7-15l-9 2z" fill="#db2"/><path d="M1641 273l10-2l-7-15l-10 3z" fill="#db2"/><path d="M1632 277l9-4l-7-14l-10 4z" fill="#cb2"/><path d="M1622 283l10-6l-8-14l-9 5z" fill="#cb2"/><path d="M1613 289l9-6l-7-15l-10 6z" fill="#cb2"/><path d="M1603 296l10-7l-8-15l-9 8z" fill="#bb3"/><path d="M1594 305l9-9l-7-14l-10 8z" fill="#bc3"/><path d="M1584 314l10-9l-8-15l-9 10z" fill="#ac4"/><path d="M1574 325l10-11l-7-14l-10 10z" fill="#9c4"/><path d="M1565 336l9-11l-7-15l-9 11z" fill="#8c5"/><path d="M2136 208l9-12l-7-15l-10 12z" fill="#5c7"/><path d="M2126 221l10-13l-8-15l-9 13z" fill="#4c8"/><path d="M2117 234l9-13l-7-15l-10 13z" fill="#3c9"/><path d="M2107 247l10-13l-8-15l-9 13z" fill="#3c9"/><path d="M2097 261l10-14l-7-15l-10 14z" fill="#2ba"/><path d="M2088 275l9-14l-7-15l-9 14z" fill="#1bb"/><path d="M2078 289l10-14l-7-15l-10 14z" fill="#0bc"/><path d="M2069 302l9-13l-7-15l-9 14z" fill="#0bc"/><path d="M2059 316l10-14l-7-14l-10 13z" fill="#1ad"/><path d="M2050 329l9-13l-7-15l-10 14z" fill="#2ad"/><path d="M2040 342l10-13l-8-14l-9 13z" fill="#2ad"/><path d="M1849 400l10 6l-8-14l-9-7z" fill="#29e"/><path d="M1840 392l9 8l-7-15l-10-7z" fill="#2ad"/><path d="M1830 384l10 8l-8-14l-9-8z" fill="#2ad"/><path d="M1821 376l9 8l-7-14l-10-9z" fill="#1ad"/><path d="M1811 367l10 9l-8-15l-9-8z" fill="#0bc"/><path d="M1801 359l10 8l-7-14l-10-9z" fill="#0bb"/><path d="M1792 350l9 9l-7-15l-9-9z" fill="#2bb"/><path d="M1782 341l10 9l-7-15l-10-9z" fill="#2ba"/><path d="M1773 333l9 8l-7-15l-10-8z" fill="#3c9"/><path d="M1763 325l10 8l-8-15l-9-8z" fill="#4c8"/><path d="M1754 317l9 8l-7-15l-10-8z" fill="#5c8"/><path d="M1744 310l10 7l-8-15l-9-7z" fill="#6c7"/><path d="M1735 303l9 7l-7-15l-10-7z" fill="#7c6"/><path d="M1725 298l10 5l-8-15l-9-5z" fill="#8c5"/><path d="M1715 293l10 5l-7-15l-10-5z" fill="#9c4"/><path d="M1706 289l9 4l-7-15l-9-4z" fill="#ac4"/><path d="M1696 286l10 3l-7-15l-10-3z" fill="#ac3"/><path d="M1687 284l9 2l-7-15l-9-2z" fill="#bc3"/><path d="M1677 283l10 1l-7-15l-10 0z" fill="#bc3"/><path d="M1668 284l9-1l-7-14l-10 0z" fill="#bb3"/><path d="M1658 285l10-1l-8-15l-9 2z" fill="#bb3"/><path d="M1649 288l9-3l-7-14l-10 2z" fill="#bb3"/><path d="M1639 292l10-4l-8-15l-9 4z" fill="#bb3"/><path d="M1630 297l9-5l-7-15l-10 6z" fill="#bc3"/><path d="M1620 304l10-7l-8-14l-9 6z" fill="#bc3"/><path d="M1610 311l10-7l-7-15l-10 7z" fill="#ac3"/><path d="M1601 320l9-9l-7-15l-9 9z" fill="#9c4"/><path d="M1591 329l10-9l-7-15l-10 9z" fill="#8c5"/><path d="M1582 339l9-10l-7-15l-10 11z" fill="#7c5"/><path d="M1572 350l10-11l-8-14l-9 11z" fill="#6c6"/><path d="M2143 223l10-12l-8-15l-9 12z" fill="#4c8"/><path d="M2133 235l10-12l-7-15l-10 13z" fill="#3c9"/><path d="M2124 248l9-13l-7-14l-9 13z" fill="#3ca"/><path d="M2114 262l10-14l-7-14l-10 13z" fill="#2ba"/><path d="M2105 275l9-13l-7-15l-10 14z" fill="#1bb"/><path d="M2095 289l10-14l-8-14l-9 14z" fill="#0bc"/><path d="M2086 303l9-14l-7-14l-10 14z" fill="#0bc"/><path d="M2076 317l10-14l-8-14l-9 13z" fill="#1ad"/><path d="M2067 331l9-14l-7-15l-10 14z" fill="#2ad"/><path d="M2057 344l10-13l-8-15l-9 13z" fill="#2ad"/><path d="M2048 357l9-13l-7-15l-10 13z" fill="#29e"/><path d="M1837 399l10 8l-7-15l-10-8z" fill="#2ad"/><path d="M1828 391l9 8l-7-15l-9-8z" fill="#2ad"/><path d="M1818 382l10 9l-7-15l-10-9z" fill="#1ad"/><path d="M1809 373l9 9l-7-15l-10-8z" fill="#0bc"/><path d="M1799 365l10 8l-8-14l-9-9z" fill="#0bb"/><path d="M1790 356l9 9l-7-15l-10-9z" fill="#2bb"/><path d="M1780 347l10 9l-8-15l-9-8z" fill="#2ba"/><path d="M1771 339l9 8l-7-14l-10-8z" fill="#3c9"/><path d="M1761 332l10 7l-8-14l-9-8z" fill="#4c8"/><path d="M1751 324l10 8l-7-15l-10-7z" fill="#5c8"/><path d="M1742 318l9 6l-7-14l-9-7z" fill="#6c7"/><path d="M1732 312l10 6l-7-15l-10-5z" fill="#6c6"/><path d="M1723 307l9 5l-7-14l-10-5z" fill="#7c5"/><path d="M1713 303l10 4l-8-14l-9-4z" fill="#8c5"/><path d="M1704 301l9 2l-7-14l-10-3z" fill="#9c4"/><path d="M1694 299l10 2l-8-15l-9-2z" fill="#9c4"/><path d="M1685 298l9 1l-7-15l-10-1z" fill="#ac4"/><path d="M1675 298l10 0l-8-15l-9 1z" fill="#ac3"/><path d="M1666 300l9-2l-7-14l-10 1z" fill="#ac3"/><path d="M1656 303l10-3l-8-15l-9 3z" fill="#ac3"/><path d="M1646 307l10-4l-7-15l-10 4z" fill="#ac3"/><path d="M1637 312l9-5l-7-15l-9 5z" fill="#ac4"/><path d="M1627 318l10-6l-7-15l-10 7z" fill="#9c4"/><path d="M1618 326l9-8l-7-14l-10 7z" fill="#9c4"/><path d="M1608 334l10-8l-8-15l-9 9z" fill="#8c5"/><path d="M1599 344l9-10l-7-14l-10 9z" fill="#7c6"/><path d="M1589 354l10-10l-8-15l-9 10z" fill="#6c6"/><path d="M1580 365l9-11l-7-15l-10 11z" fill="#5c7"/><path d="M2150 237l10-12l-7-14l-10 12z" fill="#3c9"/><path d="M2141 250l9-13l-7-14l-10 12z" fill="#3ca"/><path d="M2131 263l10-13l-8-15l-9 13z" fill="#2ba"/><path d="M2122 276l9-13l-7-15l-10 14z" fill="#1bb"/><path d="M2112 290l10-14l-8-14l-9 13z" fill="#0bc"/><path d="M2103 304l9-14l-7-15l-10 14z" fill="#0bc"/><path d="M2093 318l10-14l-8-15l-9 14z" fill="#1ad"/><path d="M2084 332l9-14l-7-15l-10 14z" fill="#2ad"/><path d="M2074 345l10-13l-8-15l-9 14z" fill="#2ad"/><path d="M2064 359l10-14l-7-14l-10 13z" fill="#29e"/><path d="M1835 405l10 9l-8-15l-9-8z" fill="#2ad"/><path d="M1826 397l9 8l-7-14l-10-9z" fill="#2ad"/><path d="M1816 388l10 9l-8-15l-9-9z" fill="#1ad"/><path d="M1807 379l9 9l-7-15l-10-8z" fill="#0bc"/><path d="M1797 370l10 9l-8-14l-9-9z" fill="#0bb"/><path d="M1787 362l10 8l-7-14l-10-9z" fill="#2bb"/><path d="M1778 354l9 8l-7-15l-9-8z" fill="#2ba"/><path d="M1768 346l10 8l-7-15l-10-7z" fill="#3c9"/><path d="M1759 339l9 7l-7-14l-10-8z" fill="#4c9"/><path d="M1749 332l10 7l-8-15l-9-6z" fill="#4c8"/><path d="M1740 327l9 5l-7-14l-10-6z" fill="#5c7"/><path d="M1730 322l10 5l-8-15l-9-5z" fill="#6c6"/><path d="M1721 318l9 4l-7-15l-10-4z" fill="#7c6"/><path d="M1711 315l10 3l-8-15l-9-2z" fill="#8c5"/><path d="M1702 313l9 2l-7-14l-10-2z" fill="#8c5"/><path d="M1692 312l10 1l-8-14l-9-1z" fill="#8c5"/><path d="M1682 313l10-1l-7-14l-10 0z" fill="#9c4"/><path d="M1673 315l9-2l-7-15l-9 2z" fill="#9c4"/><path d="M1663 317l10-2l-7-15l-10 3z" fill="#9c4"/><path d="M1654 321l9-4l-7-14l-10 4z" fill="#9c4"/><path d="M1644 327l10-6l-8-14l-9 5z" fill="#8c5"/><path d="M1635 333l9-6l-7-15l-10 6z" fill="#8c5"/><path d="M1625 340l10-7l-8-15l-9 8z" fill="#7c5"/><path d="M1616 349l9-9l-7-14l-10 8z" fill="#6c6"/><path d="M1606 358l10-9l-8-15l-9 10z" fill="#6c7"/><path d="M1596 369l10-11l-7-14l-10 10z" fill="#5c7"/><path d="M1587 380l9-11l-7-15l-9 11z" fill="#4c8"/><path d="M2158 251l9-11l-7-15l-10 12z" fill="#3ca"/><path d="M2148 264l10-13l-8-14l-9 13z" fill="#2ba"/><path d="M2139 277l9-13l-7-14l-10 13z" fill="#1bb"/><path d="M2129 290l10-13l-8-14l-9 13z" fill="#0bc"/><path d="M2120 304l9-14l-7-14l-10 14z" fill="#0bc"/><path d="M2110 318l10-14l-8-14l-9 14z" fill="#1ad"/><path d="M2100 332l10-14l-7-14l-10 14z" fill="#2ad"/><path d="M2091 346l9-14l-7-14l-9 14z" fill="#2ad"/><path d="M2081 360l10-14l-7-14l-10 13z" fill="#29e"/><path d="M2072 373l9-13l-7-15l-10 14z" fill="#29e"/><path d="M1833 411l10 8l-8-14l-9-8z" fill="#2ad"/><path d="M1823 402l10 9l-7-14l-10-9z" fill="#2ad"/><path d="M1814 393l9 9l-7-14l-9-9z" fill="#1ac"/><path d="M1804 385l10 8l-7-14l-10-9z" fill="#0bc"/><path d="M1795 376l9 9l-7-15l-10-8z" fill="#0bb"/><path d="M1785 368l10 8l-8-14l-9-8z" fill="#2bb"/><path d="M1776 360l9 8l-7-14l-10-8z" fill="#2ba"/><path d="M1766 353l10 7l-8-14l-9-7z" fill="#3c9"/><path d="M1757 347l9 6l-7-14l-10-7z" fill="#3c9"/><path d="M1747 341l10 6l-8-15l-9-5z" fill="#4c8"/><path d="M1738 336l9 5l-7-14l-10-5z" fill="#5c7"/><path d="M1728 332l10 4l-8-14l-9-4z" fill="#6c7"/><path d="M1718 329l10 3l-7-14l-10-3z" fill="#6c6"/><path d="M1709 327l9 2l-7-14l-9-2z" fill="#7c6"/><path d="M1699 327l10 0l-7-14l-10-1z" fill="#7c6"/><path d="M1690 327l9 0l-7-15l-10 1z" fill="#7c5"/><path d="M1680 329l10-2l-8-14l-9 2z" fill="#7c5"/><path d="M1671 332l9-3l-7-14l-10 2z" fill="#7c5"/><path d="M1661 336l10-4l-8-15l-9 4z" fill="#7c5"/><path d="M1652 341l9-5l-7-15l-10 6z" fill="#7c6"/><path d="M1642 347l10-6l-8-14l-9 6z" fill="#6c6"/><path d="M1632 354l10-7l-7-14l-10 7z" fill="#6c6"/><path d="M1623 363l9-9l-7-14l-9 9z" fill="#5c7"/><path d="M1613 372l10-9l-7-14l-10 9z" fill="#5c8"/><path d="M1604 383l9-11l-7-14l-10 11z" fill="#4c8"/><path d="M1594 394l10-11l-8-14l-9 11z" fill="#3c9"/><path d="M2165 265l10-12l-8-13l-9 11z" fill="#2ba"/><path d="M2156 278l9-13l-7-14l-10 13z" fill="#1bb"/><path d="M2146 291l10-13l-8-14l-9 13z" fill="#0bb"/><path d="M2136 304l10-13l-7-14l-10 13z" fill="#0bc"/><path d="M2127 318l9-14l-7-14l-9 14z" fill="#1ad"/><path d="M2117 332l10-14l-7-14l-10 14z" fill="#2ad"/><path d="M2108 346l9-14l-7-14l-10 14z" fill="#2ad"/><path d="M2098 360l10-14l-8-14l-9 14z" fill="#29e"/><path d="M2089 373l9-13l-7-14l-10 14z" fill="#29e"/><path d="M1831 416l9 9l-7-14l-10-9z" fill="#2ad"/><path d="M1821 407l10 9l-8-14l-9-9z" fill="#1ad"/><path d="M1812 398l9 9l-7-14l-10-8z" fill="#1bc"/><path d="M1802 390l10 8l-8-13l-9-9z" fill="#0bc"/><path d="M1793 382l9 8l-7-14l-10-8z" fill="#0bb"/><path d="M1783 374l10 8l-8-14l-9-8z" fill="#2bb"/><path d="M1774 367l9 7l-7-14l-10-7z" fill="#2ba"/><path d="M1764 360l10 7l-8-14l-9-6z" fill="#3c9"/><path d="M1754 355l10 5l-7-13l-10-6z" fill="#3c9"/><path d="M1745 350l9 5l-7-14l-9-5z" fill="#4c8"/><path d="M1735 346l10 4l-7-14l-10-4z" fill="#4c8"/><path d="M1726 343l9 3l-7-14l-10-3z" fill="#5c7"/><path d="M1716 341l10 2l-8-14l-9-2z" fill="#5c7"/><path d="M1707 341l9 0l-7-14l-10 0z" fill="#6c7"/><path d="M1697 341l10 0l-8-14l-9 0z" fill="#6c6"/><path d="M1688 343l9-2l-7-14l-10 2z" fill="#6c6"/><path d="M1678 345l10-2l-8-14l-9 3z" fill="#6c6"/><path d="M1668 349l10-4l-7-13l-10 4z" fill="#6c6"/><path d="M1659 355l9-6l-7-13l-9 5z" fill="#6c7"/><path d="M1649 361l10-6l-7-14l-10 6z" fill="#5c7"/><path d="M1640 368l9-7l-7-14l-10 7z" fill="#5c7"/><path d="M1630 377l10-9l-8-14l-9 9z" fill="#4c8"/><path d="M1621 386l9-9l-7-14l-10 9z" fill="#4c9"/><path d="M1611 397l10-11l-8-14l-9 11z" fill="#3c9"/><path d="M1602 408l9-11l-7-14l-10 11z" fill="#3ca"/><path d="M2172 279l10-12l-7-14l-10 12z" fill="#1bb"/><path d="M2163 291l9-12l-7-14l-9 13z" fill="#0bb"/><path d="M2153 304l10-13l-7-13l-10 13z" fill="#0bc"/><path d="M2144 318l9-14l-7-13l-10 13z" fill="#1ad"/><path d="M2134 331l10-13l-8-14l-9 14z" fill="#2ad"/><path d="M2125 345l9-14l-7-13l-10 14z" fill="#2ad"/><path d="M2115 359l10-14l-8-13l-9 14z" fill="#29e"/><path d="M2106 373l9-14l-7-13l-10 14z" fill="#29e"/><path d="M2096 387l10-14l-8-13l-9 13z" fill="#38e"/><path d="M1829 420l9 9l-7-13l-10-9z" fill="#2ad"/><path d="M1819 412l10 8l-8-13l-9-9z" fill="#1ad"/><path d="M1809 403l10 9l-7-14l-10-8z" fill="#1bc"/><path d="M1800 395l9 8l-7-13l-9-8z" fill="#0bc"/><path d="M1790 387l10 8l-7-13l-10-8z" fill="#0bb"/><path d="M1781 380l9 7l-7-13l-9-7z" fill="#1bb"/><path d="M1771 374l10 6l-7-13l-10-7z" fill="#2ba"/><path d="M1762 368l9 6l-7-14l-10-5z" fill="#3ca"/><path d="M1752 363l10 5l-8-13l-9-5z" fill="#3c9"/><path d="M1743 359l9 4l-7-13l-10-4z" fill="#4c9"/><path d="M1733 356l10 3l-8-13l-9-3z" fill="#4c8"/><path d="M1724 355l9 1l-7-13l-10-2z" fill="#4c8"/><path d="M1714 354l10 1l-8-14l-9 0z" fill="#5c7"/><path d="M1704 354l10 0l-7-13l-10 0z" fill="#5c7"/><path d="M1695 356l9-2l-7-13l-9 2z" fill="#5c7"/><path d="M1685 359l10-3l-7-13l-10 2z" fill="#5c7"/><path d="M1676 363l9-4l-7-14l-10 4z" fill="#5c7"/><path d="M1666 368l10-5l-8-14l-9 6z" fill="#5c8"/><path d="M1657 374l9-6l-7-13l-10 6z" fill="#4c8"/><path d="M1647 382l10-8l-8-13l-9 7z" fill="#4c8"/><path d="M1638 390l9-8l-7-14l-10 9z" fill="#3c9"/><path d="M1628 400l10-10l-8-13l-9 9z" fill="#3c9"/><path d="M1618 410l10-10l-7-14l-10 11z" fill="#3ca"/><path d="M1609 421l9-11l-7-13l-9 11z" fill="#2ba"/><path d="M2180 291l9-12l-7-12l-10 12z" fill="#0bb"/><path d="M2170 304l10-13l-8-12l-9 12z" fill="#0bc"/><path d="M2161 317l9-13l-7-13l-10 13z" fill="#1ad"/><path d="M2151 330l10-13l-8-13l-9 14z" fill="#2ad"/><path d="M2142 344l9-14l-7-12l-10 13z" fill="#2ad"/><path d="M2132 358l10-14l-8-13l-9 14z" fill="#29e"/><path d="M2122 372l10-14l-7-13l-10 14z" fill="#29e"/><path d="M2113 386l9-14l-7-13l-9 14z" fill="#38e"/><path d="M1817 416l9 8l-7-12l-10-9z" fill="#1ad"/><path d="M1807 408l10 8l-8-13l-9-8z" fill="#1bc"/><path d="M1798 400l9 8l-7-13l-10-8z" fill="#0bc"/><path d="M1788 393l10 7l-8-13l-9-7z" fill="#0bb"/><path d="M1779 386l9 7l-7-13l-10-6z" fill="#1bb"/><path d="M1769 381l10 5l-8-12l-9-6z" fill="#2ba"/><path d="M1760 376l9 5l-7-13l-10-5z" fill="#3ca"/><path d="M1750 372l10 4l-8-13l-9-4z" fill="#3c9"/><path d="M1740 369l10 3l-7-13l-10-3z" fill="#3c9"/><path d="M1731 367l9 2l-7-13l-9-1z" fill="#4c9"/><path d="M1721 367l10 0l-7-12l-10-1z" fill="#4c8"/><path d="M1712 367l9 0l-7-13l-10 0z" fill="#4c8"/><path d="M1702 369l10-2l-8-13l-9 2z" fill="#4c8"/><path d="M1693 371l9-2l-7-13l-10 3z" fill="#4c8"/><path d="M1683 375l10-4l-8-12l-9 4z" fill="#4c8"/><path d="M1674 381l9-6l-7-12l-10 5z" fill="#4c8"/><path d="M1664 387l10-6l-8-13l-9 6z" fill="#3c9"/><path d="M1654 394l10-7l-7-13l-10 8z" fill="#3c9"/><path d="M1645 403l9-9l-7-12l-9 8z" fill="#3c9"/><path d="M1635 412l10-9l-7-13l-10 10z" fill="#3ba"/><path d="M1626 423l9-11l-7-12l-10 10z" fill="#2ba"/><path d="M1616 434l10-11l-8-13l-9 11z" fill="#1bb"/><path d="M2187 303l10-12l-8-12l-9 12z" fill="#0bc"/><path d="M2178 316l9-13l-7-12l-10 13z" fill="#1bc"/><path d="M2168 329l10-13l-8-12l-9 13z" fill="#1ad"/><path d="M2158 342l10-13l-7-12l-10 13z" fill="#2ad"/><path d="M2149 356l9-14l-7-12l-9 14z" fill="#29e"/><path d="M2139 370l10-14l-7-12l-10 14z" fill="#29e"/><path d="M2130 384l9-14l-7-12l-10 14z" fill="#38e"/><path d="M2120 398l10-14l-8-12l-9 14z" fill="#38f"/><path d="M1815 420l9 8l-7-12l-10-8z" fill="#1ad"/><path d="M1805 412l10 8l-8-12l-9-8z" fill="#0bc"/><path d="M1796 405l9 7l-7-12l-10-7z" fill="#0bc"/><path d="M1786 398l10 7l-8-12l-9-7z" fill="#1bb"/><path d="M1776 393l10 5l-7-12l-10-5z" fill="#1bb"/><path d="M1767 388l9 5l-7-12l-9-5z" fill="#2ba"/><path d="M1757 384l10 4l-7-12l-10-4z" fill="#3ca"/><path d="M1748 381l9 3l-7-12l-10-3z" fill="#3c9"/><path d="M1738 379l10 2l-8-12l-9-2z" fill="#3c9"/><path d="M1729 379l9 0l-7-12l-10 0z" fill="#3c9"/><path d="M1719 379l10 0l-8-12l-9 0z" fill="#3c9"/><path d="M1710 381l9-2l-7-12l-10 2z" fill="#3c9"/><path d="M1700 383l10-2l-8-12l-9 2z" fill="#3c9"/><path d="M1690 387l10-4l-7-12l-10 4z" fill="#3c9"/><path d="M1681 393l9-6l-7-12l-9 6z" fill="#3c9"/><path d="M1671 399l10-6l-7-12l-10 6z" fill="#3c9"/><path d="M1662 406l9-7l-7-12l-10 7z" fill="#3ca"/><path d="M1652 415l10-9l-8-12l-9 9z" fill="#2ba"/><path d="M1643 424l9-9l-7-12l-10 9z" fill="#2ba"/><path d="M1633 435l10-11l-8-12l-9 11z" fill="#1bb"/><path d="M1624 446l9-11l-7-12l-10 11z" fill="#0bb"/><path d="M2194 314l10-12l-7-11l-10 12z" fill="#1bc"/><path d="M2185 327l9-13l-7-11l-9 13z" fill="#1ad"/><path d="M2175 340l10-13l-7-11l-10 13z" fill="#2ad"/><path d="M2166 353l9-13l-7-11l-10 13z" fill="#29d"/><path d="M2156 367l10-14l-8-11l-9 14z" fill="#29e"/><path d="M2147 381l9-14l-7-11l-10 14z" fill="#39e"/><path d="M2137 395l10-14l-8-11l-9 14z" fill="#38e"/><path d="M2128 409l9-14l-7-11l-10 14z" fill="#37f"/><path d="M1812 423l10 8l-7-11l-10-8z" fill="#1ad"/><path d="M1803 416l9 7l-7-11l-9-7z" fill="#0bc"/><path d="M1793 410l10 6l-7-11l-10-7z" fill="#0bc"/><path d="M1784 404l9 6l-7-12l-10-5z" fill="#1bb"/><path d="M1774 399l10 5l-8-11l-9-5z" fill="#1bb"/><path d="M1765 395l9 4l-7-11l-10-4z" fill="#2ba"/><path d="M1755 392l10 3l-8-11l-9-3z" fill="#2ba"/><path d="M1746 390l9 2l-7-11l-10-2z" fill="#3ca"/><path d="M1736 390l10 0l-8-11l-9 0z" fill="#3c9"/><path d="M1726 390l10 0l-7-11l-10 0z" fill="#3c9"/><path d="M1717 392l9-2l-7-11l-9 2z" fill="#3c9"/><path d="M1707 395l10-3l-7-11l-10 2z" fill="#3c9"/><path d="M1698 399l9-4l-7-12l-10 4z" fill="#3c9"/><path d="M1688 404l10-5l-8-12l-9 6z" fill="#3ca"/><path d="M1679 410l9-6l-7-11l-10 6z" fill="#3ca"/><path d="M1669 417l10-7l-8-11l-9 7z" fill="#2ba"/><path d="M1660 426l9-9l-7-11l-10 9z" fill="#2ba"/><path d="M1650 435l10-9l-8-11l-9 9z" fill="#1bb"/><path d="M1641 446l9-11l-7-11l-10 11z" fill="#0bb"/><path d="M1631 457l10-11l-8-11l-9 11z" fill="#0bc"/><path d="M2202 325l9-12l-7-11l-10 12z" fill="#1ad"/><path d="M2192 337l10-12l-8-11l-9 13z" fill="#2ad"/><path d="M2183 350l9-13l-7-10l-10 13z" fill="#2ad"/><path d="M2173 364l10-14l-8-10l-9 13z" fill="#29e"/><path d="M2164 377l9-13l-7-11l-10 14z" fill="#29e"/><path d="M2154 391l10-14l-8-10l-9 14z" fill="#38e"/><path d="M2144 405l10-14l-7-10l-10 14z" fill="#38f"/><path d="M2135 419l9-14l-7-10l-9 14z" fill="#37f"/><path d="M1810 426l10 7l-8-10l-9-7z" fill="#1ac"/><path d="M1801 420l9 6l-7-10l-10-6z" fill="#0bc"/><path d="M1791 414l10 6l-8-10l-9-6z" fill="#0bc"/><path d="M1782 409l9 5l-7-10l-10-5z" fill="#1bb"/><path d="M1772 405l10 4l-8-10l-9-4z" fill="#1bb"/><path d="M1762 402l10 3l-7-10l-10-3z" fill="#2ba"/><path d="M1753 401l9 1l-7-10l-9-2z" fill="#2ba"/><path d="M1743 400l10 1l-7-11l-10 0z" fill="#2ba"/><path d="M1734 400l9 0l-7-10l-10 0z" fill="#3ca"/><path d="M1724 402l10-2l-8-10l-9 2z" fill="#3ca"/><path d="M1715 405l9-3l-7-10l-10 3z" fill="#3ca"/><path d="M1705 409l10-4l-8-10l-9 4z" fill="#3ca"/><path d="M1696 414l9-5l-7-10l-10 5z" fill="#2ba"/><path d="M1686 420l10-6l-8-10l-9 6z" fill="#2ba"/><path d="M1676 428l10-8l-7-10l-10 7z" fill="#2bb"/><path d="M1667 436l9-8l-7-11l-9 9z" fill="#1bb"/><path d="M1657 446l10-10l-7-10l-10 9z" fill="#0bb"/><path d="M1648 456l9-10l-7-11l-9 11z" fill="#0bc"/><path d="M1638 467l10-11l-7-10l-10 11z" fill="#0bc"/><path d="M2209 334l10-12l-8-9l-9 12z" fill="#1ad"/><path d="M2200 346l9-12l-7-9l-10 12z" fill="#2ad"/><path d="M2190 359l10-13l-8-9l-9 13z" fill="#29d"/><path d="M2180 373l10-14l-7-9l-10 14z" fill="#29e"/><path d="M2171 387l9-14l-7-9l-9 13z" fill="#38e"/><path d="M2161 400l10-13l-7-10l-10 14z" fill="#38e"/><path d="M2152 414l9-14l-7-9l-10 14z" fill="#37f"/><path d="M1808 429l10 6l-8-9l-9-6z" fill="#1bc"/><path d="M1798 423l10 6l-7-9l-10-6z" fill="#0bc"/><path d="M1789 418l9 5l-7-9l-9-5z" fill="#0bb"/><path d="M1779 415l10 3l-7-9l-10-4z" fill="#1bb"/><path d="M1770 412l9 3l-7-10l-10-3z" fill="#1bb"/><path d="M1760 410l10 2l-8-10l-9-1z" fill="#2ba"/><path d="M1751 409l9 1l-7-9l-10-1z" fill="#2ba"/><path d="M1741 410l10-1l-8-9l-9 0z" fill="#2ba"/><path d="M1732 411l9-1l-7-10l-10 2z" fill="#2ba"/><path d="M1722 414l10-3l-8-9l-9 3z" fill="#2ba"/><path d="M1712 418l10-4l-7-9l-10 4z" fill="#2ba"/><path d="M1703 423l9-5l-7-9l-9 5z" fill="#2ba"/><path d="M1693 429l10-6l-7-9l-10 6z" fill="#2bb"/><path d="M1684 437l9-8l-7-9l-10 8z" fill="#1bb"/><path d="M1674 445l10-8l-8-9l-9 8z" fill="#0bb"/><path d="M1665 455l9-10l-7-9l-10 10z" fill="#0bc"/><path d="M1655 465l10-10l-8-9l-9 10z" fill="#0bc"/><path d="M1646 476l9-11l-7-9l-10 11z" fill="#1ac"/><path d="M2216 342l10-12l-7-8l-10 12z" fill="#2ad"/><path d="M2207 355l9-13l-7-8l-9 12z" fill="#2ad"/><path d="M2197 368l10-13l-7-9l-10 13z" fill="#29e"/><path d="M2188 381l9-13l-7-9l-10 14z" fill="#29e"/><path d="M2178 395l10-14l-8-8l-9 14z" fill="#38e"/><path d="M2169 409l9-14l-7-8l-10 13z" fill="#38f"/><path d="M2159 423l10-14l-8-9l-9 14z" fill="#37f"/><path d="M1806 431l9 6l-7-8l-10-6z" fill="#0bc"/><path d="M1796 427l10 4l-8-8l-9-5z" fill="#0bc"/><path d="M1787 423l9 4l-7-9l-10-3z" fill="#0bb"/><path d="M1777 420l10 3l-8-8l-9-3z" fill="#1bb"/><path d="M1768 418l9 2l-7-8l-10-2z" fill="#1bb"/><path d="M1758 417l10 1l-8-8l-9-1z" fill="#2bb"/><path d="M1748 418l10-1l-7-8l-10 1z" fill="#2ba"/><path d="M1739 419l9-1l-7-8l-9 1z" fill="#2ba"/><path d="M1729 422l10-3l-7-8l-10 3z" fill="#2ba"/><path d="M1720 426l9-4l-7-8l-10 4z" fill="#2bb"/><path d="M1710 431l10-5l-8-8l-9 5z" fill="#1bb"/><path d="M1701 438l9-7l-7-8l-10 6z" fill="#1bb"/><path d="M1691 445l10-7l-8-9l-9 8z" fill="#1bb"/><path d="M1682 454l9-9l-7-8l-10 8z" fill="#0bc"/><path d="M1672 463l10-9l-8-9l-9 10z" fill="#0bc"/><path d="M1663 473l9-10l-7-8l-10 10z" fill="#1bc"/><path d="M1653 484l10-11l-8-8l-9 11z" fill="#1ad"/><path d="M2224 349l9-12l-7-7l-10 12z" fill="#2ad"/><path d="M2214 362l10-13l-8-7l-9 13z" fill="#29d"/><path d="M2205 375l9-13l-7-7l-10 13z" fill="#29e"/><path d="M2195 388l10-13l-8-7l-9 13z" fill="#39e"/><path d="M2186 402l9-14l-7-7l-10 14z" fill="#38e"/><path d="M2176 416l10-14l-8-7l-9 14z" fill="#38f"/><path d="M2166 430l10-14l-7-7l-10 14z" fill="#37f"/><path d="M1918 525l10 8l-8-7l-9-8z" fill="#46f"/><path d="M1851 466l10 8l-7-7l-10-8z" fill="#29e"/><path d="M1842 458l9 8l-7-7l-10-8z" fill="#2ad"/><path d="M1804 434l9 5l-7-8l-10-4z" fill="#0bc"/><path d="M1794 430l10 4l-8-7l-9-4z" fill="#0bc"/><path d="M1784 427l10 3l-7-7l-10-3z" fill="#0bb"/><path d="M1775 425l9 2l-7-7l-9-2z" fill="#1bb"/><path d="M1765 424l10 1l-7-7l-10-1z" fill="#1bb"/><path d="M1756 425l9-1l-7-7l-10 1z" fill="#1bb"/><path d="M1746 426l10-1l-8-7l-9 1z" fill="#2bb"/><path d="M1737 429l9-3l-7-7l-10 3z" fill="#2bb"/><path d="M1727 433l10-4l-8-7l-9 4z" fill="#1bb"/><path d="M1718 438l9-5l-7-7l-10 5z" fill="#1bb"/><path d="M1708 445l10-7l-8-7l-9 7z" fill="#1bb"/><path d="M1699 452l9-7l-7-7l-10 7z" fill="#0bb"/><path d="M1689 461l10-9l-8-7l-9 9z" fill="#0bc"/><path d="M1679 470l10-9l-7-7l-10 9z" fill="#0bc"/><path d="M1670 480l9-10l-7-7l-9 10z" fill="#1ac"/><path d="M1660 492l10-12l-7-7l-10 11z" fill="#1ad"/><path d="M2231 355l10-12l-8-6l-9 12z" fill="#2ad"/><path d="M2222 368l9-13l-7-6l-10 13z" fill="#29d"/><path d="M2212 381l10-13l-8-6l-9 13z" fill="#29e"/><path d="M2202 394l10-13l-7-6l-10 13z" fill="#38e"/><path d="M2193 408l9-14l-7-6l-9 14z" fill="#38e"/><path d="M2183 422l10-14l-7-6l-10 14z" fill="#37f"/><path d="M2174 436l9-14l-7-6l-10 14z" fill="#37f"/><path d="M1945 547l9 6l-7-6l-10-6z" fill="#44e"/><path d="M1935 539l10 8l-8-6l-9-8z" fill="#45e"/><path d="M1926 531l9 8l-7-6l-10-8z" fill="#45f"/><path d="M1916 523l10 8l-8-6l-9-8z" fill="#46f"/><path d="M1906 514l10 9l-7-6l-10-8z" fill="#46f"/><path d="M1897 506l9 8l-7-5l-9-9z" fill="#37f"/><path d="M1887 497l10 9l-7-6l-10-9z" fill="#38f"/><path d="M1878 488l9 9l-7-6l-10-9z" fill="#38e"/><path d="M1868 480l10 8l-8-6l-9-8z" fill="#29e"/><path d="M1859 472l9 8l-7-6l-10-8z" fill="#29e"/><path d="M1849 464l10 8l-8-6l-9-8z" fill="#2ad"/><path d="M1840 457l9 7l-7-6l-10-7z" fill="#2ad"/><path d="M1801 436l10 4l-7-6l-10-4z" fill="#0bc"/><path d="M1792 433l9 3l-7-6l-10-3z" fill="#0bb"/><path d="M1782 431l10 2l-8-6l-9-2z" fill="#1bb"/><path d="M1773 430l9 1l-7-6l-10-1z" fill="#1bb"/><path d="M1763 431l10-1l-8-6l-9 1z" fill="#1bb"/><path d="M1754 432l9-1l-7-6l-10 1z" fill="#1bb"/><path d="M1744 435l10-3l-8-6l-9 3z" fill="#1bb"/><path d="M1735 439l9-4l-7-6l-10 4z" fill="#1bb"/><path d="M1725 444l10-5l-8-6l-9 5z" fill="#1bb"/><path d="M1715 451l10-7l-7-6l-10 7z" fill="#0bb"/><path d="M1706 458l9-7l-7-6l-9 7z" fill="#0bc"/><path d="M1696 467l10-9l-7-6l-10 9z" fill="#0bc"/><path d="M1687 476l9-9l-7-6l-10 9z" fill="#0bc"/><path d="M1677 486l10-10l-8-6l-9 10z" fill="#1ad"/><path d="M1668 498l9-12l-7-6l-10 12z" fill="#2ad"/><path d="M2238 360l10-12l-7-5l-10 12z" fill="#2ad"/><path d="M2229 372l9-12l-7-5l-9 13z" fill="#29e"/><path d="M2219 385l10-13l-7-4l-10 13z" fill="#29e"/><path d="M2210 399l9-14l-7-4l-10 13z" fill="#38e"/><path d="M2200 413l10-14l-8-5l-9 14z" fill="#38f"/><path d="M2191 426l9-13l-7-5l-10 14z" fill="#37f"/><path d="M2181 440l10-14l-8-4l-9 14z" fill="#37f"/><path d="M1962 558l9 6l-7-5l-10-6z" fill="#44e"/><path d="M1952 551l10 7l-8-5l-9-6z" fill="#44e"/><path d="M1942 544l10 7l-7-4l-10-8z" fill="#45e"/><path d="M1933 536l9 8l-7-5l-9-8z" fill="#45f"/><path d="M1923 528l10 8l-7-5l-10-8z" fill="#46f"/><path d="M1914 519l9 9l-7-5l-10-9z" fill="#46f"/><path d="M1904 511l10 8l-8-5l-9-8z" fill="#37f"/><path d="M1895 502l9 9l-7-5l-10-9z" fill="#38f"/><path d="M1885 493l10 9l-8-5l-9-9z" fill="#38e"/><path d="M1876 485l9 8l-7-5l-10-8z" fill="#29e"/><path d="M1866 476l10 9l-8-5l-9-8z" fill="#29e"/><path d="M1856 469l10 7l-7-4l-10-8z" fill="#29d"/><path d="M1847 462l9 7l-7-5l-9-7z" fill="#2ad"/><path d="M1837 455l10 7l-7-5l-10-7z" fill="#1ad"/><path d="M1828 449l9 6l-7-5l-10-5z" fill="#1ad"/><path d="M1799 438l10 3l-8-5l-9-3z" fill="#0bc"/><path d="M1790 436l9 2l-7-5l-10-2z" fill="#0bb"/><path d="M1780 435l10 1l-8-5l-9-1z" fill="#1bb"/><path d="M1770 436l10-1l-7-5l-10 1z" fill="#1bb"/><path d="M1761 437l9-1l-7-5l-9 1z" fill="#1bb"/><path d="M1751 440l10-3l-7-5l-10 3z" fill="#1bb"/><path d="M1742 444l9-4l-7-5l-9 4z" fill="#1bb"/><path d="M1732 449l10-5l-7-5l-10 5z" fill="#1bb"/><path d="M1723 455l9-6l-7-5l-10 7z" fill="#0bb"/><path d="M1713 463l10-8l-8-4l-9 7z" fill="#0bc"/><path d="M1704 471l9-8l-7-5l-10 9z" fill="#0bc"/><path d="M1694 481l10-10l-8-4l-9 9z" fill="#1bc"/><path d="M1685 491l9-10l-7-5l-10 10z" fill="#1ad"/><path d="M1675 502l10-11l-8-5l-9 12z" fill="#2ad"/><path d="M2246 363l9-12l-7-3l-10 12z" fill="#2ad"/><path d="M2236 376l10-13l-8-3l-9 12z" fill="#29e"/><path d="M2227 389l9-13l-7-4l-10 13z" fill="#29e"/><path d="M2217 402l10-13l-8-4l-9 14z" fill="#38e"/><path d="M2208 416l9-14l-7-3l-10 14z" fill="#38f"/><path d="M2198 430l10-14l-8-3l-9 13z" fill="#37f"/><path d="M2188 444l10-14l-7-4l-10 14z" fill="#37f"/><path d="M1997 577l10 4l-7-4l-10-3z" fill="#43c"/><path d="M1988 573l9 4l-7-3l-9-5z" fill="#43c"/><path d="M1978 568l10 5l-7-4l-10-5z" fill="#43d"/><path d="M1969 562l9 6l-7-4l-9-6z" fill="#44e"/><path d="M1959 555l10 7l-7-4l-10-7z" fill="#44e"/><path d="M1950 548l9 7l-7-4l-10-7z" fill="#45e"/><path d="M1940 540l10 8l-8-4l-9-8z" fill="#45f"/><path d="M1931 531l9 9l-7-4l-10-8z" fill="#46f"/><path d="M1921 523l10 8l-8-3l-9-9z" fill="#46f"/><path d="M1912 514l9 9l-7-4l-10-8z" fill="#37f"/><path d="M1902 505l10 9l-8-3l-9-9z" fill="#38f"/><path d="M1892 497l10 8l-7-3l-10-9z" fill="#38e"/><path d="M1883 488l9 9l-7-4l-9-8z" fill="#29e"/><path d="M1873 480l10 8l-7-3l-10-9z" fill="#29e"/><path d="M1864 472l9 8l-7-4l-10-7z" fill="#29d"/><path d="M1854 465l10 7l-8-3l-9-7z" fill="#2ad"/><path d="M1845 459l9 6l-7-3l-10-7z" fill="#1ad"/><path d="M1835 453l10 6l-8-4l-9-6z" fill="#1ad"/><path d="M1826 448l9 5l-7-4l-10-5z" fill="#0bc"/><path d="M1816 444l10 4l-8-4l-9-3z" fill="#0bc"/><path d="M1797 439l9 2l-7-3l-9-2z" fill="#0bb"/><path d="M1787 439l10 0l-7-3l-10-1z" fill="#1bb"/><path d="M1778 439l9 0l-7-4l-10 1z" fill="#1bb"/><path d="M1768 441l10-2l-8-3l-9 1z" fill="#1bb"/><path d="M1759 444l9-3l-7-4l-10 3z" fill="#1bb"/><path d="M1749 448l10-4l-8-4l-9 4z" fill="#1bb"/><path d="M1740 453l9-5l-7-4l-10 5z" fill="#1bb"/><path d="M1730 459l10-6l-8-4l-9 6z" fill="#0bb"/><path d="M1721 466l9-7l-7-4l-10 8z" fill="#0bc"/><path d="M1711 475l10-9l-8-3l-9 8z" fill="#0bc"/><path d="M1701 484l10-9l-7-4l-10 10z" fill="#1bc"/><path d="M1692 495l9-11l-7-3l-9 10z" fill="#1ad"/><path d="M1682 506l10-11l-7-4l-10 11z" fill="#2ad"/><path d="M2253 366l10-12l-8-3l-9 12z" fill="#2ad"/><path d="M2244 378l9-12l-7-3l-10 13z" fill="#29d"/><path d="M2234 391l10-13l-8-2l-9 13z" fill="#29e"/><path d="M2224 405l10-14l-7-2l-10 13z" fill="#38e"/><path d="M2215 419l9-14l-7-3l-9 14z" fill="#38f"/><path d="M2205 432l10-13l-7-3l-10 14z" fill="#37f"/><path d="M2196 446l9-14l-7-2l-10 14z" fill="#37f"/><path d="M2186 460l10-14l-8-2l-9 14z" fill="#46f"/><path d="M2014 583l10 2l-7-2l-10-2z" fill="#43b"/><path d="M2005 580l9 3l-7-2l-10-4z" fill="#43c"/><path d="M1995 575l10 5l-8-3l-9-4z" fill="#43c"/><path d="M1986 570l9 5l-7-2l-10-5z" fill="#44d"/><path d="M1976 564l10 6l-8-2l-9-6z" fill="#44e"/><path d="M1967 557l9 7l-7-2l-10-7z" fill="#44e"/><path d="M1957 550l10 7l-8-2l-9-7z" fill="#45e"/><path d="M1948 542l9 8l-7-2l-10-8z" fill="#45f"/><path d="M1938 534l10 8l-8-2l-9-9z" fill="#46f"/><path d="M1928 525l10 9l-7-3l-10-8z" fill="#46f"/><path d="M1919 516l9 9l-7-2l-9-9z" fill="#37f"/><path d="M1909 508l10 8l-7-2l-10-9z" fill="#38f"/><path d="M1900 499l9 9l-7-3l-10-8z" fill="#38e"/><path d="M1890 491l10 8l-8-2l-9-9z" fill="#29e"/><path d="M1881 482l9 9l-7-3l-10-8z" fill="#29e"/><path d="M1871 475l10 7l-8-2l-9-8z" fill="#2ad"/><path d="M1862 467l9 8l-7-3l-10-7z" fill="#2ad"/><path d="M1852 461l10 6l-8-2l-9-6z" fill="#1ad"/><path d="M1842 455l10 6l-7-2l-10-6z" fill="#1ad"/><path d="M1833 450l9 5l-7-2l-9-5z" fill="#0bc"/><path d="M1823 447l10 3l-7-2l-10-4z" fill="#0bc"/><path d="M1814 444l9 3l-7-3l-10-3z" fill="#0bb"/><path d="M1804 442l10 2l-8-3l-9-2z" fill="#0bb"/><path d="M1795 441l9 1l-7-3l-10 0z" fill="#1bb"/><path d="M1785 442l10-1l-8-2l-9 0z" fill="#1bb"/><path d="M1776 443l9-1l-7-3l-10 2z" fill="#1bb"/><path d="M1766 446l10-3l-8-2l-9 3z" fill="#1bb"/><path d="M1757 450l9-4l-7-2l-10 4z" fill="#1bb"/><path d="M1747 455l10-5l-8-2l-9 5z" fill="#1bb"/><path d="M1737 461l10-6l-7-2l-10 6z" fill="#0bb"/><path d="M1728 469l9-8l-7-2l-9 7z" fill="#0bc"/><path d="M1718 477l10-8l-7-3l-10 9z" fill="#0bc"/><path d="M1709 487l9-10l-7-2l-10 9z" fill="#0bc"/><path d="M1699 497l10-10l-8-3l-9 11z" fill="#1ad"/><path d="M1690 508l9-11l-7-2l-10 11z" fill="#2ad"/><path d="M2260 367l10-12l-7-1l-10 12z" fill="#2ad"/><path d="M2251 380l9-13l-7-1l-9 12z" fill="#29d"/><path d="M2241 393l10-13l-7-2l-10 13z" fill="#29e"/><path d="M2232 406l9-13l-7-2l-10 14z" fill="#39e"/><path d="M2222 420l10-14l-8-1l-9 14z" fill="#38e"/><path d="M2213 434l9-14l-7-1l-10 13z" fill="#38f"/><path d="M2203 448l10-14l-8-2l-9 14z" fill="#37f"/><path d="M2194 461l9-13l-7-2l-10 14z" fill="#46f"/><path d="M2031 587l10 1l-8-2l-9-1z" fill="#43b"/><path d="M2022 584l9 3l-7-2l-10-2z" fill="#43b"/><path d="M2012 581l10 3l-8-1l-9-3z" fill="#43c"/><path d="M2003 577l9 4l-7-1l-10-5z" fill="#43d"/><path d="M1993 571l10 6l-8-2l-9-5z" fill="#44d"/><path d="M1984 565l9 6l-7-1l-10-6z" fill="#44e"/><path d="M1974 559l10 6l-8-1l-9-7z" fill="#44e"/><path d="M1964 551l10 8l-7-2l-10-7z" fill="#45e"/><path d="M1955 543l9 8l-7-1l-9-8z" fill="#45f"/><path d="M1945 535l10 8l-7-1l-10-8z" fill="#46f"/><path d="M1936 526l9 9l-7-1l-10-9z" fill="#47f"/><path d="M1926 518l10 8l-8-1l-9-9z" fill="#37f"/><path d="M1917 509l9 9l-7-2l-10-8z" fill="#38f"/><path d="M1907 500l10 9l-8-1l-9-9z" fill="#38e"/><path d="M1898 492l9 8l-7-1l-10-8z" fill="#29e"/><path d="M1888 484l10 8l-8-1l-9-9z" fill="#29e"/><path d="M1878 476l10 8l-7-2l-10-7z" fill="#2ad"/><path d="M1869 469l9 7l-7-1l-9-8z" fill="#2ad"/><path d="M1859 462l10 7l-7-2l-10-6z" fill="#1ad"/><path d="M1850 457l9 5l-7-1l-10-6z" fill="#1bc"/><path d="M1840 452l10 5l-8-2l-9-5z" fill="#0bc"/><path d="M1831 448l9 4l-7-2l-10-3z" fill="#0bc"/><path d="M1821 445l10 3l-8-1l-9-3z" fill="#0bb"/><path d="M1812 443l9 2l-7-1l-10-2z" fill="#1bb"/><path d="M1802 442l10 1l-8-1l-9-1z" fill="#1bb"/><path d="M1793 443l9-1l-7-1l-10 1z" fill="#1bb"/><path d="M1783 444l10-1l-8-1l-9 1z" fill="#1bb"/><path d="M1773 447l10-3l-7-1l-10 3z" fill="#1bb"/><path d="M1764 451l9-4l-7-1l-9 4z" fill="#1bb"/><path d="M1754 456l10-5l-7-1l-10 5z" fill="#1bb"/><path d="M1745 463l9-7l-7-1l-10 6z" fill="#1bb"/><path d="M1735 470l10-7l-8-2l-9 8z" fill="#0bb"/><path d="M1726 479l9-9l-7-1l-10 8z" fill="#0bc"/><path d="M1716 488l10-9l-8-2l-9 10z" fill="#0bc"/><path d="M1707 498l9-10l-7-1l-10 10z" fill="#1ad"/><path d="M1697 510l10-12l-8-1l-9 11z" fill="#1ad"/><path d="M2268 367l9-12l-7 0l-10 12z" fill="#2ad"/><path d="M2258 380l10-13l-8 0l-9 13z" fill="#2ad"/><path d="M2249 393l9-13l-7 0l-10 13z" fill="#29e"/><path d="M2239 406l10-13l-8 0l-9 13z" fill="#29e"/><path d="M2230 420l9-14l-7 0l-10 14z" fill="#38e"/><path d="M2220 434l10-14l-8 0l-9 14z" fill="#38f"/><path d="M2211 448l9-14l-7 0l-10 14z" fill="#37f"/><path d="M2201 462l10-14l-8 0l-9 13z" fill="#46f"/><path d="M2058 588l9-1l-7 0l-10 1z" fill="#43b"/><path d="M2048 588l10 0l-8 0l-9 0z" fill="#43b"/><path d="M2039 587l9 1l-7 0l-10-1z" fill="#43b"/><path d="M2029 584l10 3l-8 0l-9-3z" fill="#43c"/><path d="M2020 581l9 3l-7 0l-10-3z" fill="#43c"/><path d="M2010 577l10 4l-8 0l-9-4z" fill="#43d"/><path d="M2000 572l10 5l-7 0l-10-6z" fill="#44d"/><path d="M1991 565l9 7l-7-1l-9-6z" fill="#44e"/><path d="M1981 559l10 6l-7 0l-10-6z" fill="#45e"/><path d="M1972 551l9 8l-7 0l-10-8z" fill="#45f"/><path d="M1962 543l10 8l-8 0l-9-8z" fill="#46f"/><path d="M1953 535l9 8l-7 0l-10-8z" fill="#46f"/><path d="M1943 527l10 8l-8 0l-9-9z" fill="#37f"/><path d="M1934 518l9 9l-7-1l-10-8z" fill="#37f"/><path d="M1924 509l10 9l-8 0l-9-9z" fill="#38f"/><path d="M1914 500l10 9l-7 0l-10-9z" fill="#38e"/><path d="M1905 492l9 8l-7 0l-9-8z" fill="#29e"/><path d="M1895 484l10 8l-7 0l-10-8z" fill="#29e"/><path d="M1886 476l9 8l-7 0l-10-8z" fill="#2ad"/><path d="M1876 469l10 7l-8 0l-9-7z" fill="#2ad"/><path d="M1867 462l9 7l-7 0l-10-7z" fill="#1ad"/><path d="M1857 457l10 5l-8 0l-9-5z" fill="#0bc"/><path d="M1848 452l9 5l-7 0l-10-5z" fill="#0bc"/><path d="M1838 448l10 4l-8 0l-9-4z" fill="#0bb"/><path d="M1829 445l9 3l-7 0l-10-3z" fill="#1bb"/><path d="M1819 443l10 2l-8 0l-9-2z" fill="#1bb"/><path d="M1809 442l10 1l-7 0l-10-1z" fill="#1bb"/><path d="M1800 443l9-1l-7 0l-9 1z" fill="#2bb"/><path d="M1790 444l10-1l-7 0l-10 1z" fill="#2bb"/><path d="M1781 447l9-3l-7 0l-10 3z" fill="#2bb"/><path d="M1771 451l10-4l-8 0l-9 4z" fill="#2bb"/><path d="M1762 456l9-5l-7 0l-10 5z" fill="#1bb"/><path d="M1752 463l10-7l-8 0l-9 7z" fill="#1bb"/><path d="M1743 470l9-7l-7 0l-10 7z" fill="#0bb"/><path d="M1733 479l10-9l-8 0l-9 9z" fill="#0bc"/><path d="M1723 488l10-9l-7 0l-10 9z" fill="#0bc"/><path d="M1714 498l9-10l-7 0l-9 10z" fill="#1bc"/><path d="M1704 510l10-12l-7 0l-10 12z" fill="#1ad"/><path d="M2275 366l10-12l-8 1l-9 12z" fill="#2ad"/><path d="M2266 379l9-13l-7 1l-10 13z" fill="#2ad"/><path d="M2256 392l10-13l-8 1l-9 13z" fill="#29e"/><path d="M2246 405l10-13l-7 1l-10 13z" fill="#29e"/><path d="M2237 419l9-14l-7 1l-9 14z" fill="#38e"/><path d="M2227 433l10-14l-7 1l-10 14z" fill="#38f"/><path d="M2218 447l9-14l-7 1l-9 14z" fill="#37f"/><path d="M2208 460l10-13l-7 1l-10 14z" fill="#37f"/><path d="M2075 586l9-3l-7 1l-10 3z" fill="#43b"/><path d="M2065 587l10-1l-8 1l-9 1z" fill="#43b"/><path d="M2056 587l9 0l-7 1l-10 0z" fill="#43b"/><path d="M2046 586l10 1l-8 1l-9-1z" fill="#43c"/><path d="M2036 583l10 3l-7 1l-10-3z" fill="#43c"/><path d="M2027 580l9 3l-7 1l-9-3z" fill="#43d"/><path d="M2017 576l10 4l-7 1l-10-4z" fill="#44d"/><path d="M2008 570l9 6l-7 1l-10-5z" fill="#44e"/><path d="M1998 564l10 6l-8 2l-9-7z" fill="#44e"/><path d="M1989 558l9 6l-7 1l-10-6z" fill="#45e"/><path d="M1979 550l10 8l-8 1l-9-8z" fill="#45f"/><path d="M1970 542l9 8l-7 1l-10-8z" fill="#46f"/><path d="M1960 534l10 8l-8 1l-9-8z" fill="#46f"/><path d="M1950 525l10 9l-7 1l-10-8z" fill="#37f"/><path d="M1941 517l9 8l-7 2l-9-9z" fill="#38f"/><path d="M1931 508l10 9l-7 1l-10-9z" fill="#38e"/><path d="M1922 499l9 9l-7 1l-10-9z" fill="#39e"/><path d="M1912 491l10 8l-8 1l-9-8z" fill="#29e"/><path d="M1903 483l9 8l-7 1l-10-8z" fill="#29d"/><path d="M1893 475l10 8l-8 1l-9-8z" fill="#2ad"/><path d="M1884 468l9 7l-7 1l-10-7z" fill="#1ad"/><path d="M1874 461l10 7l-8 1l-9-7z" fill="#1bc"/><path d="M1865 456l9 5l-7 1l-10-5z" fill="#0bc"/><path d="M1855 451l10 5l-8 1l-9-5z" fill="#0bc"/><path d="M1845 447l10 4l-7 1l-10-4z" fill="#0bb"/><path d="M1836 444l9 3l-7 1l-9-3z" fill="#1bb"/><path d="M1826 442l10 2l-7 1l-10-2z" fill="#2bb"/><path d="M1817 441l9 1l-7 1l-10-1z" fill="#2ba"/><path d="M1807 442l10-1l-8 1l-9 1z" fill="#2ba"/><path d="M1798 443l9-1l-7 1l-10 1z" fill="#2ba"/><path d="M1788 446l10-3l-8 1l-9 3z" fill="#2ba"/><path d="M1779 450l9-4l-7 1l-10 4z" fill="#2ba"/><path d="M1769 455l10-5l-8 1l-9 5z" fill="#2ba"/><path d="M1759 462l10-7l-7 1l-10 7z" fill="#1bb"/><path d="M1750 469l9-7l-7 1l-9 7z" fill="#1bb"/><path d="M1740 478l10-9l-7 1l-10 9z" fill="#0bb"/><path d="M1731 487l9-9l-7 1l-10 9z" fill="#0bc"/><path d="M1721 497l10-10l-8 1l-9 10z" fill="#0bc"/><path d="M1712 509l9-12l-7 1l-10 12z" fill="#1ad"/><path d="M2282 364l10-12l-7 2l-10 12z" fill="#1ad"/><path d="M2273 376l9-12l-7 2l-9 13z" fill="#2ad"/><path d="M2263 390l10-14l-7 3l-10 13z" fill="#2ad"/><path d="M2254 403l9-13l-7 2l-10 13z" fill="#29e"/><path d="M2244 417l10-14l-8 2l-9 14z" fill="#29e"/><path d="M2235 431l9-14l-7 2l-10 14z" fill="#38e"/><path d="M2225 445l10-14l-8 2l-9 14z" fill="#38f"/><path d="M2216 458l9-13l-7 2l-10 13z" fill="#37f"/><path d="M2206 472l10-14l-8 2l-9 14z" fill="#46f"/><path d="M2091 581l10-3l-7 2l-10 3z" fill="#43c"/><path d="M2082 583l9-2l-7 2l-9 3z" fill="#43c"/><path d="M2072 585l10-2l-7 3l-10 1z" fill="#43c"/><path d="M2063 585l9 0l-7 2l-9 0z" fill="#43c"/><path d="M2053 583l10 2l-7 2l-10-1z" fill="#43c"/><path d="M2044 581l9 2l-7 3l-10-3z" fill="#43d"/><path d="M2034 578l10 3l-8 2l-9-3z" fill="#44d"/><path d="M2025 574l9 4l-7 2l-10-4z" fill="#44e"/><path d="M2015 568l10 6l-8 2l-9-6z" fill="#44e"/><path d="M2006 562l9 6l-7 2l-10-6z" fill="#45e"/><path d="M1996 556l10 6l-8 2l-9-6z" fill="#45f"/><path d="M1986 548l10 8l-7 2l-10-8z" fill="#46f"/><path d="M1977 540l9 8l-7 2l-9-8z" fill="#46f"/><path d="M1967 532l10 8l-7 2l-10-8z" fill="#47f"/><path d="M1958 523l9 9l-7 2l-10-9z" fill="#37f"/><path d="M1948 515l10 8l-8 2l-9-8z" fill="#38f"/><path d="M1939 506l9 9l-7 2l-10-9z" fill="#38e"/><path d="M1929 497l10 9l-8 2l-9-9z" fill="#29e"/><path d="M1920 489l9 8l-7 2l-10-8z" fill="#29e"/><path d="M1910 480l10 9l-8 2l-9-8z" fill="#2ad"/><path d="M1900 473l10 7l-7 3l-10-8z" fill="#2ad"/><path d="M1891 466l9 7l-7 2l-9-7z" fill="#1ad"/><path d="M1881 459l10 7l-7 2l-10-7z" fill="#0bc"/><path d="M1872 453l9 6l-7 2l-9-5z" fill="#0bc"/><path d="M1862 449l10 4l-7 3l-10-5z" fill="#0bb"/><path d="M1853 445l9 4l-7 2l-10-4z" fill="#1bb"/><path d="M1843 442l10 3l-8 2l-9-3z" fill="#2bb"/><path d="M1834 440l9 2l-7 2l-10-2z" fill="#2ba"/><path d="M1824 439l10 1l-8 2l-9-1z" fill="#2ba"/><path d="M1815 440l9-1l-7 2l-10 1z" fill="#2ba"/><path d="M1805 441l10-1l-8 2l-9 1z" fill="#3ba"/><path d="M1795 444l10-3l-7 2l-10 3z" fill="#2ba"/><path d="M1786 448l9-4l-7 2l-9 4z" fill="#2ba"/><path d="M1776 453l10-5l-7 2l-10 5z" fill="#2ba"/><path d="M1767 460l9-7l-7 2l-10 7z" fill="#2ba"/><path d="M1757 467l10-7l-8 2l-9 7z" fill="#1bb"/><path d="M1748 475l9-8l-7 2l-10 9z" fill="#1bb"/><path d="M1738 485l10-10l-8 3l-9 9z" fill="#0bb"/><path d="M1729 495l9-10l-7 2l-10 10z" fill="#0bc"/><path d="M1719 506l10-11l-8 2l-9 12z" fill="#1bc"/><path d="M2290 361l9-12l-7 3l-10 12z" fill="#1ac"/><path d="M2280 373l10-12l-8 3l-9 12z" fill="#1ad"/><path d="M2271 386l9-13l-7 3l-10 14z" fill="#2ad"/><path d="M2261 400l10-14l-8 4l-9 13z" fill="#29d"/><path d="M2252 414l9-14l-7 3l-10 14z" fill="#29e"/><path d="M2242 427l10-13l-8 3l-9 14z" fill="#38e"/><path d="M2233 441l9-14l-7 4l-10 14z" fill="#38f"/><path d="M2223 455l10-14l-8 4l-9 13z" fill="#37f"/><path d="M2213 469l10-14l-7 3l-10 14z" fill="#37f"/><path d="M2118 570l9-6l-7 3l-9 6z" fill="#43c"/><path d="M2108 574l10-4l-7 3l-10 5z" fill="#43c"/><path d="M2099 578l9-4l-7 4l-10 3z" fill="#43c"/><path d="M2089 580l10-2l-8 3l-9 2z" fill="#43c"/><path d="M2080 581l9-1l-7 3l-10 2z" fill="#43c"/><path d="M2070 581l10 0l-8 4l-9 0z" fill="#43c"/><path d="M2061 580l9 1l-7 4l-10-2z" fill="#43d"/><path d="M2051 578l10 2l-8 3l-9-2z" fill="#44d"/><path d="M2042 575l9 3l-7 3l-10-3z" fill="#44d"/><path d="M2032 570l10 5l-8 3l-9-4z" fill="#44e"/><path d="M2022 565l10 5l-7 4l-10-6z" fill="#45e"/><path d="M2013 559l9 6l-7 3l-9-6z" fill="#45e"/><path d="M2003 552l10 7l-7 3l-10-6z" fill="#45f"/><path d="M1994 545l9 7l-7 4l-10-8z" fill="#46f"/><path d="M1984 537l10 8l-8 3l-9-8z" fill="#46f"/><path d="M1975 529l9 8l-7 3l-10-8z" fill="#37f"/><path d="M1965 520l10 9l-8 3l-9-9z" fill="#38f"/><path d="M1956 511l9 9l-7 3l-10-8z" fill="#38e"/><path d="M1946 503l10 8l-8 4l-9-9z" fill="#29e"/><path d="M1936 494l10 9l-7 3l-10-9z" fill="#29e"/><path d="M1927 486l9 8l-7 3l-9-8z" fill="#2ad"/><path d="M1917 477l10 9l-7 3l-10-9z" fill="#2ad"/><path d="M1908 470l9 7l-7 3l-10-7z" fill="#1ad"/><path d="M1898 462l10 8l-8 3l-9-7z" fill="#1bc"/><path d="M1889 456l9 6l-7 4l-10-7z" fill="#0bc"/><path d="M1879 450l10 6l-8 3l-9-6z" fill="#0bb"/><path d="M1870 445l9 5l-7 3l-10-4z" fill="#1bb"/><path d="M1860 442l10 3l-8 4l-9-4z" fill="#2ba"/><path d="M1851 439l9 3l-7 3l-10-3z" fill="#2ba"/><path d="M1841 437l10 2l-8 3l-9-2z" fill="#3ba"/><path d="M1831 436l10 1l-7 3l-10-1z" fill="#3ca"/><path d="M1822 437l9-1l-7 3l-9 1z" fill="#3ca"/><path d="M1812 438l10-1l-7 3l-10 1z" fill="#3c9"/><path d="M1803 441l9-3l-7 3l-10 3z" fill="#3c9"/><path d="M1793 445l10-4l-8 3l-9 4z" fill="#3ca"/><path d="M1784 450l9-5l-7 3l-10 5z" fill="#3ca"/><path d="M1774 456l10-6l-8 3l-9 7z" fill="#2ba"/><path d="M1765 464l9-8l-7 4l-10 7z" fill="#2ba"/><path d="M1755 472l10-8l-8 3l-9 8z" fill="#2bb"/><path d="M1745 482l10-10l-7 3l-10 10z" fill="#1bb"/><path d="M1736 492l9-10l-7 3l-9 10z" fill="#0bc"/><path d="M1726 503l10-11l-7 3l-10 11z" fill="#0bc"/><path d="M2297 357l10-12l-8 4l-9 12z" fill="#0bc"/><path d="M2288 369l9-12l-7 4l-10 12z" fill="#1ad"/><path d="M2278 382l10-13l-8 4l-9 13z" fill="#2ad"/><path d="M2269 396l9-14l-7 4l-10 14z" fill="#2ad"/><path d="M2259 409l10-13l-8 4l-9 14z" fill="#29e"/><path d="M2249 423l10-14l-7 5l-10 13z" fill="#29e"/><path d="M2240 437l9-14l-7 4l-9 14z" fill="#38e"/><path d="M2230 451l10-14l-7 4l-10 14z" fill="#38f"/><path d="M2221 465l9-14l-7 4l-10 14z" fill="#37f"/><path d="M2125 566l10-6l-8 4l-9 6z" fill="#43d"/><path d="M2116 570l9-4l-7 4l-10 4z" fill="#43d"/><path d="M2106 574l10-4l-8 4l-9 4z" fill="#43d"/><path d="M2097 576l9-2l-7 4l-10 2z" fill="#43d"/><path d="M2087 577l10-1l-8 4l-9 1z" fill="#43d"/><path d="M2078 577l9 0l-7 4l-10 0z" fill="#44d"/><path d="M2068 576l10 1l-8 4l-9-1z" fill="#44d"/><path d="M2058 574l10 2l-7 4l-10-2z" fill="#44e"/><path d="M2049 571l9 3l-7 4l-9-3z" fill="#44e"/><path d="M2039 566l10 5l-7 4l-10-5z" fill="#45e"/><path d="M2030 561l9 5l-7 4l-10-5z" fill="#45e"/><path d="M2020 555l10 6l-8 4l-9-6z" fill="#45f"/><path d="M2011 548l9 7l-7 4l-10-7z" fill="#46f"/><path d="M2001 541l10 7l-8 4l-9-7z" fill="#46f"/><path d="M1992 533l9 8l-7 4l-10-8z" fill="#37f"/><path d="M1982 525l10 8l-8 4l-9-8z" fill="#37f"/><path d="M1972 516l10 9l-7 4l-10-9z" fill="#38f"/><path d="M1963 507l9 9l-7 4l-9-9z" fill="#38e"/><path d="M1953 499l10 8l-7 4l-10-8z" fill="#29e"/><path d="M1944 490l9 9l-7 4l-10-9z" fill="#29d"/><path d="M1934 481l10 9l-8 4l-9-8z" fill="#2ad"/><path d="M1925 473l9 8l-7 5l-10-9z" fill="#1ad"/><path d="M1915 466l10 7l-8 4l-9-7z" fill="#1bc"/><path d="M1906 458l9 8l-7 4l-10-8z" fill="#0bc"/><path d="M1896 452l10 6l-8 4l-9-6z" fill="#0bb"/><path d="M1887 446l9 6l-7 4l-10-6z" fill="#1bb"/><path d="M1877 441l10 5l-8 4l-9-5z" fill="#2ba"/><path d="M1867 437l10 4l-7 4l-10-3z" fill="#2ba"/><path d="M1858 435l9 2l-7 5l-9-3z" fill="#3ca"/><path d="M1848 433l10 2l-7 4l-10-2z" fill="#3c9"/><path d="M1839 432l9 1l-7 4l-10-1z" fill="#3c9"/><path d="M1829 432l10 0l-8 4l-9 1z" fill="#3c9"/><path d="M1820 434l9-2l-7 5l-10 1z" fill="#3c9"/><path d="M1810 437l10-3l-8 4l-9 3z" fill="#3c9"/><path d="M1801 441l9-4l-7 4l-10 4z" fill="#3c9"/><path d="M1791 446l10-5l-8 4l-9 5z" fill="#3c9"/><path d="M1781 452l10-6l-7 4l-10 6z" fill="#3ca"/><path d="M1772 460l9-8l-7 4l-9 8z" fill="#3ca"/><path d="M1762 468l10-8l-7 4l-10 8z" fill="#2ba"/><path d="M1753 478l9-10l-7 4l-10 10z" fill="#2bb"/><path d="M1743 488l10-10l-8 4l-9 10z" fill="#1bb"/><path d="M1734 499l9-11l-7 4l-10 11z" fill="#0bc"/><path d="M2305 352l9-12l-7 5l-10 12z" fill="#0bc"/><path d="M2295 364l10-12l-8 5l-9 12z" fill="#0bc"/><path d="M2285 377l10-13l-7 5l-10 13z" fill="#1ad"/><path d="M2276 391l9-14l-7 5l-9 14z" fill="#2ad"/><path d="M2266 405l10-14l-7 5l-10 13z" fill="#2ad"/><path d="M2257 418l9-13l-7 4l-10 14z" fill="#29e"/><path d="M2247 432l10-14l-8 5l-9 14z" fill="#29e"/><path d="M2238 446l9-14l-7 5l-10 14z" fill="#38e"/><path d="M2228 460l10-14l-8 5l-9 14z" fill="#38f"/><path d="M2219 473l9-13l-7 5l-10 13z" fill="#37f"/><path d="M2142 555l10-7l-8 5l-9 7z" fill="#44e"/><path d="M2133 561l9-6l-7 5l-10 6z" fill="#44d"/><path d="M2123 565l10-4l-8 5l-9 4z" fill="#44d"/><path d="M2114 569l9-4l-7 5l-10 4z" fill="#44d"/><path d="M2104 571l10-2l-8 5l-9 2z" fill="#44d"/><path d="M2094 572l10-1l-7 5l-10 1z" fill="#44d"/><path d="M2085 572l9 0l-7 5l-9 0z" fill="#44e"/><path d="M2075 571l10 1l-7 5l-10-1z" fill="#44e"/><path d="M2066 569l9 2l-7 5l-10-2z" fill="#44e"/><path d="M2056 566l10 3l-8 5l-9-3z" fill="#45e"/><path d="M2047 561l9 5l-7 5l-10-5z" fill="#45e"/><path d="M2037 556l10 5l-8 5l-9-5z" fill="#45f"/><path d="M2028 550l9 6l-7 5l-10-6z" fill="#46f"/><path d="M2018 543l10 7l-8 5l-9-7z" fill="#46f"/><path d="M2008 536l10 7l-7 5l-10-7z" fill="#37f"/><path d="M1999 528l9 8l-7 5l-9-8z" fill="#37f"/><path d="M1989 520l10 8l-7 5l-10-8z" fill="#38f"/><path d="M1980 511l9 9l-7 5l-10-9z" fill="#38e"/><path d="M1970 502l10 9l-8 5l-9-9z" fill="#29e"/><path d="M1961 494l9 8l-7 5l-10-8z" fill="#29e"/><path d="M1951 485l10 9l-8 5l-9-9z" fill="#2ad"/><path d="M1942 476l9 9l-7 5l-10-9z" fill="#1ad"/><path d="M1932 468l10 8l-8 5l-9-8z" fill="#1ac"/><path d="M1923 461l9 7l-7 5l-10-7z" fill="#0bc"/><path d="M1913 453l10 8l-8 5l-9-8z" fill="#0bb"/><path d="M1903 447l10 6l-7 5l-10-6z" fill="#1bb"/><path d="M1894 441l9 6l-7 5l-9-6z" fill="#2ba"/><path d="M1884 436l10 5l-7 5l-10-5z" fill="#2ba"/><path d="M1875 433l9 3l-7 5l-10-4z" fill="#3ca"/><path d="M1865 430l10 3l-8 4l-9-2z" fill="#3c9"/><path d="M1856 428l9 2l-7 5l-10-2z" fill="#3c9"/><path d="M1846 427l10 1l-8 5l-9-1z" fill="#4c9"/><path d="M1837 428l9-1l-7 5l-10 0z" fill="#4c8"/><path d="M1827 429l10-1l-8 4l-9 2z" fill="#4c8"/><path d="M1817 432l10-3l-7 5l-10 3z" fill="#4c8"/><path d="M1808 436l9-4l-7 5l-9 4z" fill="#4c8"/><path d="M1798 441l10-5l-7 5l-10 5z" fill="#3c9"/><path d="M1789 447l9-6l-7 5l-10 6z" fill="#3c9"/><path d="M1779 455l10-8l-8 5l-9 8z" fill="#3c9"/><path d="M1770 463l9-8l-7 5l-10 8z" fill="#3ca"/><path d="M1760 473l10-10l-8 5l-9 10z" fill="#2ba"/><path d="M1751 483l9-10l-7 5l-10 10z" fill="#2bb"/><path d="M1741 494l10-11l-8 5l-9 11z" fill="#1bb"/><path d="M2312 346l9-12l-7 6l-9 12z" fill="#1bb"/><path d="M2302 359l10-13l-7 6l-10 12z" fill="#0bc"/><path d="M2293 372l9-13l-7 5l-10 13z" fill="#0bc"/><path d="M2283 385l10-13l-8 5l-9 14z" fill="#1ad"/><path d="M2274 399l9-14l-7 6l-10 14z" fill="#2ad"/><path d="M2264 413l10-14l-8 6l-9 13z" fill="#29d"/><path d="M2255 427l9-14l-7 5l-10 14z" fill="#29e"/><path d="M2245 441l10-14l-8 5l-9 14z" fill="#39e"/><path d="M2235 454l10-13l-7 5l-10 14z" fill="#38e"/><path d="M2226 467l9-13l-7 6l-9 13z" fill="#38f"/><path d="M2178 525l10-10l-8 6l-9 10z" fill="#45f"/><path d="M2159 542l10-8l-8 6l-9 8z" fill="#45e"/><path d="M2150 549l9-7l-7 6l-10 7z" fill="#44e"/><path d="M2140 555l10-6l-8 6l-9 6z" fill="#44e"/><path d="M2130 560l10-5l-7 6l-10 4z" fill="#44e"/><path d="M2121 563l9-3l-7 5l-9 4z" fill="#44e"/><path d="M2111 566l10-3l-7 6l-10 2z" fill="#44e"/><path d="M2102 567l9-1l-7 5l-10 1z" fill="#44e"/><path d="M2092 567l10 0l-8 5l-9 0z" fill="#44e"/><path d="M2083 566l9 1l-7 5l-10-1z" fill="#45e"/><path d="M2073 563l10 3l-8 5l-9-2z" fill="#45e"/><path d="M2064 560l9 3l-7 6l-10-3z" fill="#45e"/><path d="M2054 556l10 4l-8 6l-9-5z" fill="#45f"/><path d="M2044 551l10 5l-7 5l-10-5z" fill="#46f"/><path d="M2035 544l9 7l-7 5l-9-6z" fill="#46f"/><path d="M2025 538l10 6l-7 6l-10-7z" fill="#47f"/><path d="M2016 530l9 8l-7 5l-10-7z" fill="#37f"/><path d="M2006 522l10 8l-8 6l-9-8z" fill="#38f"/><path d="M1997 514l9 8l-7 6l-10-8z" fill="#38e"/><path d="M1987 506l10 8l-8 6l-9-9z" fill="#29e"/><path d="M1978 497l9 9l-7 5l-10-9z" fill="#29e"/><path d="M1968 488l10 9l-8 5l-9-8z" fill="#2ad"/><path d="M1958 479l10 9l-7 6l-10-9z" fill="#2ad"/><path d="M1949 471l9 8l-7 6l-9-9z" fill="#1ad"/><path d="M1939 463l10 8l-7 5l-10-8z" fill="#0bc"/><path d="M1930 455l9 8l-7 5l-9-7z" fill="#0bb"/><path d="M1920 448l10 7l-7 6l-10-8z" fill="#1bb"/><path d="M1911 441l9 7l-7 5l-10-6z" fill="#2ba"/><path d="M1901 436l10 5l-8 6l-9-6z" fill="#3ca"/><path d="M1892 431l9 5l-7 5l-10-5z" fill="#3c9"/><path d="M1882 427l10 4l-8 5l-9-3z" fill="#3c9"/><path d="M1873 424l9 3l-7 6l-10-3z" fill="#4c8"/><path d="M1863 422l10 2l-8 6l-9-2z" fill="#4c8"/><path d="M1853 421l10 1l-7 6l-10-1z" fill="#4c8"/><path d="M1844 422l9-1l-7 6l-9 1z" fill="#5c8"/><path d="M1834 423l10-1l-7 6l-10 1z" fill="#5c8"/><path d="M1825 426l9-3l-7 6l-10 3z" fill="#5c8"/><path d="M1815 430l10-4l-8 6l-9 4z" fill="#4c8"/><path d="M1806 435l9-5l-7 6l-10 5z" fill="#4c8"/><path d="M1796 442l10-7l-8 6l-9 6z" fill="#4c8"/><path d="M1787 449l9-7l-7 5l-10 8z" fill="#3c9"/><path d="M1777 458l10-9l-8 6l-9 8z" fill="#3c9"/><path d="M1768 467l9-9l-7 5l-10 10z" fill="#3ca"/><path d="M1758 477l10-10l-8 6l-9 10z" fill="#2ba"/><path d="M1748 489l10-12l-7 6l-10 11z" fill="#2bb"/><path d="M2319 340l10-12l-8 6l-9 12z" fill="#2bb"/><path d="M2310 352l9-12l-7 6l-10 13z" fill="#1bb"/><path d="M2300 365l10-13l-8 7l-9 13z" fill="#0bc"/><path d="M2291 379l9-14l-7 7l-10 13z" fill="#1bc"/><path d="M2281 392l10-13l-8 6l-9 14z" fill="#1ad"/><path d="M2271 406l10-14l-7 7l-10 14z" fill="#2ad"/><path d="M2262 420l9-14l-7 7l-9 14z" fill="#29d"/><path d="M2252 434l10-14l-7 7l-10 14z" fill="#29e"/><path d="M2243 448l9-14l-7 7l-10 13z" fill="#38e"/><path d="M2233 461l10-13l-8 6l-9 13z" fill="#38e"/><path d="M2224 474l9-13l-7 6l-10 13z" fill="#37f"/><path d="M2166 536l10-8l-7 6l-10 8z" fill="#45f"/><path d="M2157 543l9-7l-7 6l-9 7z" fill="#45e"/><path d="M2147 549l10-6l-7 6l-10 6z" fill="#45e"/><path d="M2138 553l9-4l-7 6l-10 5z" fill="#45e"/><path d="M2128 557l10-4l-8 7l-9 3z" fill="#45e"/><path d="M2119 559l9-2l-7 6l-10 3z" fill="#45e"/><path d="M2109 560l10-1l-8 7l-9 1z" fill="#45e"/><path d="M2100 560l9 0l-7 7l-10 0z" fill="#45e"/><path d="M2090 559l10 1l-8 7l-9-1z" fill="#45e"/><path d="M2080 557l10 2l-7 7l-10-3z" fill="#45f"/><path d="M2071 554l9 3l-7 6l-9-3z" fill="#46f"/><path d="M2061 549l10 5l-7 6l-10-4z" fill="#46f"/><path d="M2052 544l9 5l-7 7l-10-5z" fill="#46f"/><path d="M2042 538l10 6l-8 7l-9-7z" fill="#47f"/><path d="M2033 531l9 7l-7 6l-10-6z" fill="#37f"/><path d="M2023 524l10 7l-8 7l-9-8z" fill="#38f"/><path d="M2014 516l9 8l-7 6l-10-8z" fill="#38e"/><path d="M2004 508l10 8l-8 6l-9-8z" fill="#29e"/><path d="M1994 499l10 9l-7 6l-10-8z" fill="#29e"/><path d="M1985 490l9 9l-7 7l-9-9z" fill="#2ad"/><path d="M1975 482l10 8l-7 7l-10-9z" fill="#2ad"/><path d="M1966 473l9 9l-7 6l-10-9z" fill="#1ad"/><path d="M1956 464l10 9l-8 6l-9-8z" fill="#0bc"/><path d="M1947 456l9 8l-7 7l-10-8z" fill="#0bb"/><path d="M1937 449l10 7l-8 7l-9-8z" fill="#1bb"/><path d="M1928 441l9 8l-7 6l-10-7z" fill="#2ba"/><path d="M1918 435l10 6l-8 7l-9-7z" fill="#3ca"/><path d="M1909 429l9 6l-7 6l-10-5z" fill="#3c9"/><path d="M1899 424l10 5l-8 7l-9-5z" fill="#3c9"/><path d="M1889 420l10 4l-7 7l-10-4z" fill="#4c8"/><path d="M1880 418l9 2l-7 7l-9-3z" fill="#5c8"/><path d="M1870 416l10 2l-7 6l-10-2z" fill="#5c7"/><path d="M1861 415l9 1l-7 6l-10-1z" fill="#5c7"/><path d="M1851 415l10 0l-8 6l-9 1z" fill="#6c7"/><path d="M1842 417l9-2l-7 7l-10 1z" fill="#6c7"/><path d="M1832 420l10-3l-8 6l-9 3z" fill="#6c7"/><path d="M1823 424l9-4l-7 6l-10 4z" fill="#6c7"/><path d="M1813 429l10-5l-8 6l-9 5z" fill="#5c7"/><path d="M1803 435l10-6l-7 6l-10 7z" fill="#5c7"/><path d="M1794 443l9-8l-7 7l-9 7z" fill="#4c8"/><path d="M1775 461l9-10l-7 7l-9 9z" fill="#3c9"/><path d="M1765 471l10-10l-7 6l-10 10z" fill="#3c9"/><path d="M1756 482l9-11l-7 6l-10 12z" fill="#2ba"/><path d="M2327 333l9-12l-7 7l-10 12z" fill="#3ba"/><path d="M2317 345l10-12l-8 7l-9 12z" fill="#2bb"/><path d="M2307 358l10-13l-7 7l-10 13z" fill="#1bb"/><path d="M2298 372l9-14l-7 7l-9 14z" fill="#0bc"/><path d="M2288 386l10-14l-7 7l-10 13z" fill="#1bc"/><path d="M2279 399l9-13l-7 6l-10 14z" fill="#1ad"/><path d="M2269 413l10-14l-8 7l-9 14z" fill="#2ad"/><path d="M2260 427l9-14l-7 7l-10 14z" fill="#29d"/><path d="M2250 441l10-14l-8 7l-9 14z" fill="#29e"/><path d="M2241 454l9-13l-7 7l-10 13z" fill="#38e"/><path d="M2231 467l10-13l-8 7l-9 13z" fill="#38e"/><path d="M2174 529l9-8l-7 7l-10 8z" fill="#46f"/><path d="M2164 536l10-7l-8 7l-9 7z" fill="#45f"/><path d="M2155 542l9-6l-7 7l-10 6z" fill="#45f"/><path d="M2145 546l10-4l-8 7l-9 4z" fill="#45f"/><path d="M2136 550l9-4l-7 7l-10 4z" fill="#45f"/><path d="M2126 552l10-2l-8 7l-9 2z" fill="#45f"/><path d="M2116 553l10-1l-7 7l-10 1z" fill="#45f"/><path d="M2107 553l9 0l-7 7l-9 0z" fill="#45f"/><path d="M2097 552l10 1l-7 7l-10-1z" fill="#45f"/><path d="M2088 550l9 2l-7 7l-10-2z" fill="#46f"/><path d="M2078 547l10 3l-8 7l-9-3z" fill="#46f"/><path d="M2069 542l9 5l-7 7l-10-5z" fill="#46f"/><path d="M2059 537l10 5l-8 7l-9-5z" fill="#37f"/><path d="M2050 531l9 6l-7 7l-10-6z" fill="#37f"/><path d="M2040 524l10 7l-8 7l-9-7z" fill="#38f"/><path d="M2030 517l10 7l-7 7l-10-7z" fill="#38e"/><path d="M2021 509l9 8l-7 7l-9-8z" fill="#29e"/><path d="M2011 501l10 8l-7 7l-10-8z" fill="#29e"/><path d="M2002 492l9 9l-7 7l-10-9z" fill="#2ad"/><path d="M1992 483l10 9l-8 7l-9-9z" fill="#2ad"/><path d="M1983 475l9 8l-7 7l-10-8z" fill="#1ad"/><path d="M1973 466l10 9l-8 7l-9-9z" fill="#0bc"/><path d="M1964 458l9 8l-7 7l-10-9z" fill="#0bc"/><path d="M1954 449l10 9l-8 6l-9-8z" fill="#1bb"/><path d="M1945 442l9 7l-7 7l-10-7z" fill="#2ba"/><path d="M1935 434l10 8l-8 7l-9-8z" fill="#3ca"/><path d="M1925 428l10 6l-7 7l-10-6z" fill="#3c9"/><path d="M1916 422l9 6l-7 7l-9-6z" fill="#4c8"/><path d="M1906 417l10 5l-7 7l-10-5z" fill="#4c8"/><path d="M1897 414l9 3l-7 7l-10-4z" fill="#5c7"/><path d="M1887 411l10 3l-8 6l-9-2z" fill="#6c7"/><path d="M1878 409l9 2l-7 7l-10-2z" fill="#6c6"/><path d="M1868 408l10 1l-8 7l-9-1z" fill="#7c6"/><path d="M1859 409l9-1l-7 7l-10 0z" fill="#7c6"/><path d="M1849 410l10-1l-8 6l-9 2z" fill="#7c6"/><path d="M1839 413l10-3l-7 7l-10 3z" fill="#7c6"/><path d="M1830 417l9-4l-7 7l-9 4z" fill="#7c6"/><path d="M1820 422l10-5l-7 7l-10 5z" fill="#6c6"/><path d="M1811 428l9-6l-7 7l-10 6z" fill="#6c6"/><path d="M1801 436l10-8l-8 7l-9 8z" fill="#5c7"/><path d="M1792 444l9-8l-7 7l-10 8z" fill="#5c7"/><path d="M1782 454l10-10l-8 7l-9 10z" fill="#4c8"/><path d="M1773 464l9-10l-7 7l-10 10z" fill="#3c9"/><path d="M1763 475l10-11l-8 7l-9 11z" fill="#3c9"/><path d="M2334 325l9-11l-7 7l-9 12z" fill="#3c9"/><path d="M2324 338l10-13l-7 8l-10 12z" fill="#3ca"/><path d="M2315 351l9-13l-7 7l-10 13z" fill="#2ba"/><path d="M2305 364l10-13l-8 7l-9 14z" fill="#1bb"/><path d="M2296 378l9-14l-7 8l-10 14z" fill="#0bc"/><path d="M2286 392l10-14l-8 8l-9 13z" fill="#1bc"/><path d="M2277 406l9-14l-7 7l-10 14z" fill="#1ad"/><path d="M2267 420l10-14l-8 7l-9 14z" fill="#2ad"/><path d="M2257 434l10-14l-7 7l-10 14z" fill="#29e"/><path d="M2248 447l9-13l-7 7l-9 13z" fill="#29e"/><path d="M2238 460l10-13l-7 7l-10 13z" fill="#38e"/><path d="M2229 472l9-12l-7 7l-10 12z" fill="#38e"/><path d="M2181 522l10-8l-8 7l-9 8z" fill="#46f"/><path d="M2172 529l9-7l-7 7l-10 7z" fill="#46f"/><path d="M2162 534l10-5l-8 7l-9 6z" fill="#46f"/><path d="M2152 539l10-5l-7 8l-10 4z" fill="#46f"/><path d="M2143 543l9-4l-7 7l-9 4z" fill="#46f"/><path d="M2133 545l10-2l-7 7l-10 2z" fill="#46f"/><path d="M2124 546l9-1l-7 7l-10 1z" fill="#46f"/><path d="M2114 546l10 0l-8 7l-9 0z" fill="#46f"/><path d="M2105 545l9 1l-7 7l-10-1z" fill="#46f"/><path d="M2095 543l10 2l-8 7l-9-2z" fill="#46f"/><path d="M2086 539l9 4l-7 7l-10-3z" fill="#47f"/><path d="M2076 535l10 4l-8 8l-9-5z" fill="#37f"/><path d="M2066 530l10 5l-7 7l-10-5z" fill="#37f"/><path d="M2057 524l9 6l-7 7l-9-6z" fill="#38f"/><path d="M2047 517l10 7l-7 7l-10-7z" fill="#38e"/><path d="M2038 510l9 7l-7 7l-10-7z" fill="#29e"/><path d="M2028 502l10 8l-8 7l-9-8z" fill="#29e"/><path d="M2019 493l9 9l-7 7l-10-8z" fill="#2ad"/><path d="M2009 485l10 8l-8 8l-9-9z" fill="#2ad"/><path d="M2000 476l9 9l-7 7l-10-9z" fill="#1ad"/><path d="M1990 467l10 9l-8 7l-9-8z" fill="#0bc"/><path d="M1981 459l9 8l-7 8l-10-9z" fill="#0bc"/><path d="M1971 450l10 9l-8 7l-9-8z" fill="#1bb"/><path d="M1961 442l10 8l-7 8l-10-9z" fill="#2ba"/><path d="M1952 434l9 8l-7 7l-9-7z" fill="#3ca"/><path d="M1942 427l10 7l-7 8l-10-8z" fill="#3c9"/><path d="M1933 421l9 6l-7 7l-10-6z" fill="#4c8"/><path d="M1923 415l10 6l-8 7l-9-6z" fill="#5c7"/><path d="M1914 410l9 5l-7 7l-10-5z" fill="#6c7"/><path d="M1904 406l10 4l-8 7l-9-3z" fill="#6c6"/><path d="M1895 403l9 3l-7 8l-10-3z" fill="#7c6"/><path d="M1885 401l10 2l-8 8l-9-2z" fill="#8c5"/><path d="M1875 401l10 0l-7 8l-10-1z" fill="#8c5"/><path d="M1866 401l9 0l-7 7l-9 1z" fill="#8c5"/><path d="M1856 403l10-2l-7 8l-10 1z" fill="#8c5"/><path d="M1847 406l9-3l-7 7l-10 3z" fill="#8c5"/><path d="M1837 410l10-4l-8 7l-9 4z" fill="#8c5"/><path d="M1828 415l9-5l-7 7l-10 5z" fill="#8c5"/><path d="M1818 421l10-6l-8 7l-9 6z" fill="#7c5"/><path d="M1809 428l9-7l-7 7l-10 8z" fill="#7c6"/><path d="M1799 437l10-9l-8 8l-9 8z" fill="#6c6"/><path d="M1780 457l10-11l-8 8l-9 10z" fill="#4c8"/><path d="M1770 468l10-11l-7 7l-10 11z" fill="#4c8"/><path d="M2341 318l10-12l-8 8l-9 11z" fill="#4c8"/><path d="M2332 330l9-12l-7 7l-10 13z" fill="#3c9"/><path d="M2322 343l10-13l-8 8l-9 13z" fill="#3ca"/><path d="M2313 357l9-14l-7 8l-10 13z" fill="#2ba"/><path d="M2303 370l10-13l-8 7l-9 14z" fill="#1bb"/><path d="M2293 384l10-14l-7 8l-10 14z" fill="#0bc"/><path d="M2284 398l9-14l-7 8l-9 14z" fill="#1bc"/><path d="M2274 412l10-14l-7 8l-10 14z" fill="#1ad"/><path d="M2265 426l9-14l-7 8l-10 14z" fill="#2ad"/><path d="M2255 439l10-13l-8 8l-9 13z" fill="#29d"/><path d="M2246 452l9-13l-7 8l-10 13z" fill="#29e"/><path d="M2236 464l10-12l-8 8l-9 12z" fill="#39e"/><path d="M2198 506l10-9l-8 7l-9 10z" fill="#37f"/><path d="M2188 514l10-8l-7 8l-10 8z" fill="#37f"/><path d="M2179 521l9-7l-7 8l-9 7z" fill="#46f"/><path d="M2169 527l10-6l-7 8l-10 5z" fill="#46f"/><path d="M2160 531l9-4l-7 7l-10 5z" fill="#46f"/><path d="M2150 535l10-4l-8 8l-9 4z" fill="#46f"/><path d="M2141 537l9-2l-7 8l-10 2z" fill="#46f"/><path d="M2131 538l10-1l-8 8l-9 1z" fill="#46f"/><path d="M2122 538l9 0l-7 8l-10 0z" fill="#46f"/><path d="M2112 537l10 1l-8 8l-9-1z" fill="#47f"/><path d="M2102 535l10 2l-7 8l-10-2z" fill="#37f"/><path d="M2093 532l9 3l-7 8l-9-4z" fill="#37f"/><path d="M2083 527l10 5l-7 7l-10-4z" fill="#37f"/><path d="M2074 522l9 5l-7 8l-10-5z" fill="#38f"/><path d="M2064 516l10 6l-8 8l-9-6z" fill="#38e"/><path d="M2055 509l9 7l-7 8l-10-7z" fill="#29e"/><path d="M2045 502l10 7l-8 8l-9-7z" fill="#29e"/><path d="M2036 494l9 8l-7 8l-10-8z" fill="#2ad"/><path d="M2026 486l10 8l-8 8l-9-9z" fill="#2ad"/><path d="M2017 477l9 9l-7 7l-10-8z" fill="#1ad"/><path d="M2007 468l10 9l-8 8l-9-9z" fill="#0bc"/><path d="M1997 460l10 8l-7 8l-10-9z" fill="#0bc"/><path d="M1988 451l9 9l-7 7l-9-8z" fill="#1bb"/><path d="M1978 442l10 9l-7 8l-10-9z" fill="#2ba"/><path d="M1950 419l9 8l-7 7l-10-7z" fill="#4c8"/><path d="M1940 413l10 6l-8 8l-9-6z" fill="#5c7"/><path d="M1931 407l9 6l-7 8l-10-6z" fill="#6c6"/><path d="M1921 402l10 5l-8 8l-9-5z" fill="#7c6"/><path d="M1911 398l10 4l-7 8l-10-4z" fill="#8c5"/><path d="M1902 396l9 2l-7 8l-9-3z" fill="#8c5"/><path d="M1892 394l10 2l-7 7l-10-2z" fill="#9c4"/><path d="M1883 393l9 1l-7 7l-10 0z" fill="#9c4"/><path d="M1873 393l10 0l-8 8l-9 0z" fill="#ac4"/><path d="M1864 395l9-2l-7 8l-10 2z" fill="#ac4"/><path d="M1854 398l10-3l-8 8l-9 3z" fill="#ac4"/><path d="M1845 402l9-4l-7 8l-10 4z" fill="#9c4"/><path d="M1835 407l10-5l-8 8l-9 5z" fill="#9c4"/><path d="M1826 413l9-6l-7 8l-10 6z" fill="#9c4"/><path d="M1816 421l10-8l-8 8l-9 7z" fill="#8c5"/><path d="M1806 429l10-8l-7 7l-10 9z" fill="#7c5"/><path d="M1787 449l10-10l-7 7l-10 11z" fill="#6c7"/><path d="M1778 460l9-11l-7 8l-10 11z" fill="#5c8"/><path d="M2349 310l9-12l-7 8l-10 12z" fill="#5c7"/><path d="M2339 322l10-12l-8 8l-9 12z" fill="#4c8"/><path d="M2329 335l10-13l-7 8l-10 13z" fill="#3c9"/><path d="M2320 349l9-14l-7 8l-9 14z" fill="#3ca"/><path d="M2310 363l10-14l-7 8l-10 13z" fill="#2ba"/><path d="M2301 376l9-13l-7 7l-10 14z" fill="#1bb"/><path d="M2291 390l10-14l-8 8l-9 14z" fill="#0bc"/><path d="M2282 404l9-14l-7 8l-10 14z" fill="#1bc"/><path d="M2272 418l10-14l-8 8l-9 14z" fill="#1ad"/><path d="M2263 431l9-13l-7 8l-10 13z" fill="#2ad"/><path d="M2253 444l10-13l-8 8l-9 13z" fill="#29d"/><path d="M2244 456l9-12l-7 8l-10 12z" fill="#29e"/><path d="M2234 468l10-12l-8 8l-9 12z" fill="#29e"/><path d="M2205 498l10-9l-7 8l-10 9z" fill="#38f"/><path d="M2196 506l9-8l-7 8l-10 8z" fill="#37f"/><path d="M2186 513l10-7l-8 8l-9 7z" fill="#37f"/><path d="M2177 519l9-6l-7 8l-10 6z" fill="#37f"/><path d="M2167 523l10-4l-8 8l-9 4z" fill="#37f"/><path d="M2158 527l9-4l-7 8l-10 4z" fill="#37f"/><path d="M2148 529l10-2l-8 8l-9 2z" fill="#37f"/><path d="M2138 530l10-1l-7 8l-10 1z" fill="#37f"/><path d="M2129 530l9 0l-7 8l-9 0z" fill="#37f"/><path d="M2119 529l10 1l-7 8l-10-1z" fill="#37f"/><path d="M2110 527l9 2l-7 8l-10-2z" fill="#37f"/><path d="M2100 524l10 3l-8 8l-9-3z" fill="#38f"/><path d="M2091 519l9 5l-7 8l-10-5z" fill="#38e"/><path d="M2081 514l10 5l-8 8l-9-5z" fill="#38e"/><path d="M2072 508l9 6l-7 8l-10-6z" fill="#29e"/><path d="M2062 501l10 7l-8 8l-9-7z" fill="#29e"/><path d="M2052 494l10 7l-7 8l-10-7z" fill="#2ad"/><path d="M2043 486l9 8l-7 8l-9-8z" fill="#2ad"/><path d="M2033 478l10 8l-7 8l-10-8z" fill="#1ad"/><path d="M2024 469l9 9l-7 8l-9-9z" fill="#0bc"/><path d="M2014 460l10 9l-7 8l-10-9z" fill="#0bc"/><path d="M2005 452l9 8l-7 8l-10-8z" fill="#1bb"/><path d="M1995 443l10 9l-8 8l-9-9z" fill="#2ba"/><path d="M1986 434l9 9l-7 8l-10-9z" fill="#3c9"/><path d="M1919 391l9 3l-7 8l-10-4z" fill="#9c4"/><path d="M1909 388l10 3l-8 7l-9-2z" fill="#ac4"/><path d="M1900 386l9 2l-7 8l-10-2z" fill="#ac3"/><path d="M1890 385l10 1l-8 8l-9-1z" fill="#bc3"/><path d="M1881 386l9-1l-7 8l-10 0z" fill="#bc3"/><path d="M1871 387l10-1l-8 7l-9 2z" fill="#bc3"/><path d="M1862 390l9-3l-7 8l-10 3z" fill="#bc3"/><path d="M1852 394l10-4l-8 8l-9 4z" fill="#bc3"/><path d="M1842 399l10-5l-7 8l-10 5z" fill="#ac3"/><path d="M1833 405l9-6l-7 8l-9 6z" fill="#ac3"/><path d="M1823 413l10-8l-7 8l-10 8z" fill="#9c4"/><path d="M1814 421l9-8l-7 8l-10 8z" fill="#9c4"/><path d="M1785 452l10-11l-8 8l-9 11z" fill="#6c7"/><path d="M2356 302l9-12l-7 8l-9 12z" fill="#6c6"/><path d="M2346 314l10-12l-7 8l-10 12z" fill="#5c7"/><path d="M2337 327l9-13l-7 8l-10 13z" fill="#4c8"/><path d="M2327 341l10-14l-8 8l-9 14z" fill="#3c9"/><path d="M2318 355l9-14l-7 8l-10 14z" fill="#3ca"/><path d="M2308 368l10-13l-8 8l-9 13z" fill="#2ba"/><path d="M2299 382l9-14l-7 8l-10 14z" fill="#1bb"/><path d="M2289 396l10-14l-8 8l-9 14z" fill="#0bc"/><path d="M2279 410l10-14l-7 8l-10 14z" fill="#1bc"/><path d="M2270 423l9-13l-7 8l-9 13z" fill="#1ad"/><path d="M2260 436l10-13l-7 8l-10 13z" fill="#2ad"/><path d="M2251 448l9-12l-7 8l-9 12z" fill="#29d"/><path d="M2241 460l10-12l-7 8l-10 12z" fill="#29e"/><path d="M2213 490l9-9l-7 8l-10 9z" fill="#38e"/><path d="M2203 498l10-8l-8 8l-9 8z" fill="#38f"/><path d="M2194 505l9-7l-7 8l-10 7z" fill="#38f"/><path d="M2184 511l10-6l-8 8l-9 6z" fill="#38f"/><path d="M2174 515l10-4l-7 8l-10 4z" fill="#37f"/><path d="M2165 519l9-4l-7 8l-9 4z" fill="#37f"/><path d="M2155 521l10-2l-7 8l-10 2z" fill="#37f"/><path d="M2146 522l9-1l-7 8l-10 1z" fill="#37f"/><path d="M2136 522l10 0l-8 8l-9 0z" fill="#38f"/><path d="M2127 521l9 1l-7 8l-10-1z" fill="#38f"/><path d="M2117 519l10 2l-8 8l-9-2z" fill="#38e"/><path d="M2108 516l9 3l-7 8l-10-3z" fill="#38e"/><path d="M2098 511l10 5l-8 8l-9-5z" fill="#39e"/><path d="M2088 506l10 5l-7 8l-10-5z" fill="#29e"/><path d="M2079 500l9 6l-7 8l-9-6z" fill="#29e"/><path d="M2069 493l10 7l-7 8l-10-7z" fill="#2ad"/><path d="M2060 486l9 7l-7 8l-10-7z" fill="#2ad"/><path d="M2050 478l10 8l-8 8l-9-8z" fill="#1ad"/><path d="M2041 470l9 8l-7 8l-10-8z" fill="#0bc"/><path d="M2031 461l10 9l-8 8l-9-9z" fill="#0bc"/><path d="M2022 452l9 9l-7 8l-10-9z" fill="#1bb"/><path d="M2012 444l10 8l-8 8l-9-8z" fill="#2ba"/><path d="M2003 435l9 9l-7 8l-10-9z" fill="#3c9"/><path d="M1993 426l10 9l-8 8l-9-9z" fill="#3c9"/><path d="M1888 378l9-1l-7 8l-9 1z" fill="#cb2"/><path d="M1878 379l10-1l-7 8l-10 1z" fill="#cb2"/><path d="M1869 382l9-3l-7 8l-9 3z" fill="#cb2"/><path d="M1859 386l10-4l-7 8l-10 4z" fill="#cb2"/><path d="M1850 391l9-5l-7 8l-10 5z" fill="#cb2"/><path d="M1840 397l10-6l-8 8l-9 6z" fill="#bb3"/><path d="M1831 405l9-8l-7 8l-10 8z" fill="#bc3"/><path d="M1821 413l10-8l-8 8l-9 8z" fill="#ac3"/><path d="M1802 433l10-10l-8 8l-9 10z" fill="#8c5"/><path d="M1792 444l10-11l-7 8l-10 11z" fill="#7c5"/><path d="M2363 294l10-12l-8 8l-9 12z" fill="#8c5"/><path d="M2354 306l9-12l-7 8l-10 12z" fill="#6c6"/><path d="M2344 319l10-13l-8 8l-9 13z" fill="#5c7"/><path d="M2335 333l9-14l-7 8l-10 14z" fill="#4c8"/><path d="M2325 347l10-14l-8 8l-9 14z" fill="#3c9"/><path d="M2315 360l10-13l-7 8l-10 13z" fill="#3ca"/><path d="M2306 374l9-14l-7 8l-9 14z" fill="#2ba"/><path d="M2296 388l10-14l-7 8l-10 14z" fill="#1bb"/><path d="M2287 402l9-14l-7 8l-10 14z" fill="#0bc"/><path d="M2277 415l10-13l-8 8l-9 13z" fill="#1bc"/><path d="M2268 428l9-13l-7 8l-10 13z" fill="#1ad"/><path d="M2258 440l10-12l-8 8l-9 12z" fill="#2ad"/><path d="M2249 452l9-12l-7 8l-10 12z" fill="#2ad"/><path d="M2239 463l10-11l-8 8l-9 11z" fill="#29e"/><path d="M2210 490l10-8l-7 8l-10 8z" fill="#38e"/><path d="M2201 497l9-7l-7 8l-9 7z" fill="#38e"/><path d="M2191 503l10-6l-7 8l-10 6z" fill="#38e"/><path d="M2182 507l9-4l-7 8l-10 4z" fill="#38f"/><path d="M2172 511l10-4l-8 8l-9 4z" fill="#38f"/><path d="M2163 513l9-2l-7 8l-10 2z" fill="#38f"/><path d="M2153 514l10-1l-8 8l-9 1z" fill="#38e"/><path d="M2144 514l9 0l-7 8l-10 0z" fill="#38e"/><path d="M2134 513l10 1l-8 8l-9-1z" fill="#38e"/><path d="M2124 511l10 2l-7 8l-10-2z" fill="#38e"/><path d="M2115 508l9 3l-7 8l-9-3z" fill="#29e"/><path d="M2105 503l10 5l-7 8l-10-5z" fill="#29e"/><path d="M2096 498l9 5l-7 8l-10-5z" fill="#29e"/><path d="M2086 492l10 6l-8 8l-9-6z" fill="#2ad"/><path d="M2077 485l9 7l-7 8l-10-7z" fill="#2ad"/><path d="M2067 478l10 7l-8 8l-9-7z" fill="#1ad"/><path d="M2058 470l9 8l-7 8l-10-8z" fill="#0bc"/><path d="M2048 462l10 8l-8 8l-9-8z" fill="#0bc"/><path d="M2039 453l9 9l-7 8l-10-9z" fill="#1bb"/><path d="M2029 444l10 9l-8 8l-9-9z" fill="#2ba"/><path d="M2019 436l10 8l-7 8l-10-8z" fill="#3c9"/><path d="M2010 427l9 9l-7 8l-9-9z" fill="#3c9"/><path d="M2000 419l10 8l-7 8l-10-9z" fill="#4c8"/><path d="M1819 415l9-10l-7 8l-9 10z" fill="#bc3"/><path d="M1800 436l9-11l-7 8l-10 11z" fill="#9c4"/><path d="M2371 286l9-12l-7 8l-10 12z" fill="#9c4"/><path d="M2361 299l10-13l-8 8l-9 12z" fill="#8c5"/><path d="M2351 312l10-13l-7 7l-10 13z" fill="#6c6"/><path d="M2342 325l9-13l-7 7l-9 14z" fill="#5c7"/><path d="M2332 339l10-14l-7 8l-10 14z" fill="#4c8"/><path d="M2323 353l9-14l-7 8l-10 13z" fill="#3c9"/><path d="M2313 367l10-14l-8 7l-9 14z" fill="#3ca"/><path d="M2304 380l9-13l-7 7l-10 14z" fill="#2ba"/><path d="M2294 394l10-14l-8 8l-9 14z" fill="#1bb"/><path d="M2285 407l9-13l-7 8l-10 13z" fill="#0bc"/><path d="M2275 420l10-13l-8 8l-9 13z" fill="#1bc"/><path d="M2266 433l9-13l-7 8l-10 12z" fill="#1ad"/><path d="M2256 444l10-11l-8 7l-9 12z" fill="#2ad"/><path d="M2246 455l10-11l-7 8l-10 11z" fill="#2ad"/><path d="M2208 489l10-7l-8 8l-9 7z" fill="#29e"/><path d="M2199 495l9-6l-7 8l-10 6z" fill="#39e"/><path d="M2189 500l10-5l-8 8l-9 4z" fill="#38e"/><path d="M2180 503l9-3l-7 7l-10 4z" fill="#38e"/><path d="M2170 506l10-3l-8 8l-9 2z" fill="#38e"/><path d="M2160 507l10-1l-7 7l-10 1z" fill="#38e"/><path d="M2151 507l9 0l-7 7l-9 0z" fill="#39e"/><path d="M2141 505l10 2l-7 7l-10-1z" fill="#29e"/><path d="M2132 503l9 2l-7 8l-10-2z" fill="#29e"/><path d="M2122 500l10 3l-8 8l-9-3z" fill="#29e"/><path d="M2113 496l9 4l-7 8l-10-5z" fill="#29d"/><path d="M2103 490l10 6l-8 7l-9-5z" fill="#2ad"/><path d="M2094 484l9 6l-7 8l-10-6z" fill="#2ad"/><path d="M2084 478l10 6l-8 8l-9-7z" fill="#1ad"/><path d="M2075 470l9 8l-7 7l-10-7z" fill="#0bc"/><path d="M2065 462l10 8l-8 8l-9-8z" fill="#0bc"/><path d="M2055 454l10 8l-7 8l-10-8z" fill="#1bb"/><path d="M2046 445l9 9l-7 8l-9-9z" fill="#2ba"/><path d="M2036 437l10 8l-7 8l-10-9z" fill="#3c9"/><path d="M2027 428l9 9l-7 7l-10-8z" fill="#3c9"/><path d="M2017 419l10 9l-8 8l-9-9z" fill="#4c8"/><path d="M2008 411l9 8l-7 8l-10-8z" fill="#6c7"/><path d="M1817 417l9-10l-7 8l-10 10z" fill="#bc3"/><path d="M1807 428l10-11l-8 8l-9 11z" fill="#ac3"/><path d="M2378 278l9-11l-7 7l-9 12z" fill="#ac3"/><path d="M2368 291l10-13l-7 8l-10 13z" fill="#9c4"/><path d="M2359 304l9-13l-7 8l-10 13z" fill="#8c5"/><path d="M2349 318l10-14l-8 8l-9 13z" fill="#6c6"/><path d="M2340 331l9-13l-7 7l-10 14z" fill="#5c7"/><path d="M2330 345l10-14l-8 8l-9 14z" fill="#4c8"/><path d="M2321 359l9-14l-7 8l-10 14z" fill="#3c9"/><path d="M2311 373l10-14l-8 8l-9 13z" fill="#3ca"/><path d="M2302 387l9-14l-7 7l-10 14z" fill="#2ba"/><path d="M2292 400l10-13l-8 7l-9 13z" fill="#1bb"/><path d="M2282 413l10-13l-7 7l-10 13z" fill="#0bc"/><path d="M2273 425l9-12l-7 7l-9 13z" fill="#0bc"/><path d="M2263 437l10-12l-7 8l-10 11z" fill="#1ad"/><path d="M2254 447l9-10l-7 7l-10 11z" fill="#2ad"/><path d="M2216 482l9-7l-7 7l-10 7z" fill="#29e"/><path d="M2206 487l10-5l-8 7l-9 6z" fill="#29e"/><path d="M2196 492l10-5l-7 8l-10 5z" fill="#29e"/><path d="M2187 496l9-4l-7 8l-9 3z" fill="#29e"/><path d="M2177 498l10-2l-7 7l-10 3z" fill="#29e"/><path d="M2168 499l9-1l-7 8l-10 1z" fill="#29e"/><path d="M2158 499l10 0l-8 8l-9 0z" fill="#29e"/><path d="M2149 498l9 1l-7 8l-10-2z" fill="#29e"/><path d="M2139 496l10 2l-8 7l-9-2z" fill="#29d"/><path d="M2130 492l9 4l-7 7l-10-3z" fill="#2ad"/><path d="M2120 488l10 4l-8 8l-9-4z" fill="#2ad"/><path d="M2111 483l9 5l-7 8l-10-6z" fill="#1ad"/><path d="M2101 477l10 6l-8 7l-9-6z" fill="#1ad"/><path d="M2091 470l10 7l-7 7l-10-6z" fill="#0bc"/><path d="M2082 463l9 7l-7 8l-9-8z" fill="#0bb"/><path d="M2072 455l10 8l-7 7l-10-8z" fill="#1bb"/><path d="M2063 446l9 9l-7 7l-10-8z" fill="#2ba"/><path d="M2053 438l10 8l-8 8l-9-9z" fill="#3ca"/><path d="M2044 429l9 9l-7 7l-10-8z" fill="#3c9"/><path d="M2034 420l10 9l-8 8l-9-9z" fill="#4c8"/><path d="M2025 412l9 8l-7 8l-10-9z" fill="#6c7"/><path d="M1824 410l10-11l-8 8l-9 10z" fill="#cb2"/><path d="M1814 421l10-11l-7 7l-10 11z" fill="#bb3"/><path d="M2385 271l10-12l-8 8l-9 11z" fill="#bb3"/><path d="M2376 284l9-13l-7 7l-10 13z" fill="#ac3"/><path d="M2366 297l10-13l-8 7l-9 13z" fill="#9c4"/><path d="M2357 310l9-13l-7 7l-10 14z" fill="#8c5"/><path d="M2347 324l10-14l-8 8l-9 13z" fill="#6c6"/><path d="M2338 338l9-14l-7 7l-10 14z" fill="#5c7"/><path d="M2328 352l10-14l-8 7l-9 14z" fill="#4c8"/><path d="M2318 366l10-14l-7 7l-10 14z" fill="#3c9"/><path d="M2309 379l9-13l-7 7l-9 14z" fill="#3ca"/><path d="M2299 393l10-14l-7 8l-10 13z" fill="#2bb"/><path d="M2290 406l9-13l-7 7l-10 13z" fill="#1bb"/><path d="M2280 418l10-12l-8 7l-9 12z" fill="#0bc"/><path d="M2271 430l9-12l-7 7l-10 12z" fill="#0bc"/><path d="M2261 440l10-10l-8 7l-9 10z" fill="#1ad"/><path d="M2252 450l9-10l-7 7l-10 10z" fill="#1ad"/><path d="M2213 480l10-6l-7 8l-10 5z" fill="#29d"/><path d="M2204 485l9-5l-7 7l-10 5z" fill="#29d"/><path d="M2194 489l10-4l-8 7l-9 4z" fill="#29e"/><path d="M2185 491l9-2l-7 7l-10 2z" fill="#29e"/><path d="M2175 492l10-1l-8 7l-9 1z" fill="#29d"/><path d="M2166 492l9 0l-7 7l-10 0z" fill="#29d"/><path d="M2156 491l10 1l-8 7l-9-1z" fill="#2ad"/><path d="M2146 489l10 2l-7 7l-10-2z" fill="#2ad"/><path d="M2137 485l9 4l-7 7l-9-4z" fill="#2ad"/><path d="M2127 481l10 4l-7 7l-10-4z" fill="#1ad"/><path d="M2118 476l9 5l-7 7l-9-5z" fill="#1bc"/><path d="M2108 470l10 6l-7 7l-10-6z" fill="#0bc"/><path d="M2099 463l9 7l-7 7l-10-7z" fill="#0bb"/><path d="M2089 456l10 7l-8 7l-9-7z" fill="#1bb"/><path d="M2080 448l9 8l-7 7l-10-8z" fill="#2ba"/><path d="M2070 439l10 9l-8 7l-9-9z" fill="#3ca"/><path d="M2061 431l9 8l-7 7l-10-8z" fill="#3c9"/><path d="M2051 422l10 9l-8 7l-9-9z" fill="#4c8"/><path d="M2041 413l10 9l-7 7l-10-9z" fill="#5c7"/><path d="M2032 405l9 8l-7 7l-9-8z" fill="#7c6"/><path d="M1850 383l10-9l-7 8l-10 8z" fill="#eb3"/><path d="M1831 403l10-11l-7 7l-10 11z" fill="#db2"/><path d="M1822 414l9-11l-7 7l-10 11z" fill="#cb2"/><path d="M2393 265l9-12l-7 6l-10 12z" fill="#cb2"/><path d="M2383 277l10-12l-8 6l-9 13z" fill="#bb3"/><path d="M2373 290l10-13l-7 7l-10 13z" fill="#ac3"/><path d="M2364 304l9-14l-7 7l-9 13z" fill="#9c4"/><path d="M2354 318l10-14l-7 6l-10 14z" fill="#8c5"/><path d="M2345 331l9-13l-7 6l-9 14z" fill="#6c6"/><path d="M2335 345l10-14l-7 7l-10 14z" fill="#5c7"/><path d="M2326 359l9-14l-7 7l-10 14z" fill="#4c8"/><path d="M2316 373l10-14l-8 7l-9 13z" fill="#3c9"/><path d="M2307 386l9-13l-7 6l-10 14z" fill="#3ba"/><path d="M2297 399l10-13l-8 7l-9 13z" fill="#2bb"/><path d="M2288 411l9-12l-7 7l-10 12z" fill="#1bb"/><path d="M2278 423l10-12l-8 7l-9 12z" fill="#0bc"/><path d="M2268 434l10-11l-7 7l-10 10z" fill="#0bc"/><path d="M2259 444l9-10l-7 6l-9 10z" fill="#1ac"/><path d="M2249 453l10-9l-7 6l-10 9z" fill="#1ad"/><path d="M2211 478l10-4l-8 6l-9 5z" fill="#2ad"/><path d="M2202 482l9-4l-7 7l-10 4z" fill="#2ad"/><path d="M2192 484l10-2l-8 7l-9 2z" fill="#2ad"/><path d="M2182 485l10-1l-7 7l-10 1z" fill="#2ad"/><path d="M2173 485l9 0l-7 7l-9 0z" fill="#2ad"/><path d="M2163 484l10 1l-7 7l-10-1z" fill="#2ad"/><path d="M2154 482l9 2l-7 7l-10-2z" fill="#1ad"/><path d="M2144 479l10 3l-8 7l-9-4z" fill="#1ad"/><path d="M2135 474l9 5l-7 6l-10-4z" fill="#1bc"/><path d="M2125 469l10 5l-8 7l-9-5z" fill="#0bc"/><path d="M2116 463l9 6l-7 7l-10-6z" fill="#0bb"/><path d="M2106 456l10 7l-8 7l-9-7z" fill="#1bb"/><path d="M2097 449l9 7l-7 7l-10-7z" fill="#2ba"/><path d="M2087 441l10 8l-8 7l-9-8z" fill="#3ca"/><path d="M2077 433l10 8l-7 7l-10-9z" fill="#3c9"/><path d="M2068 424l9 9l-7 6l-9-8z" fill="#4c8"/><path d="M2058 415l10 9l-7 7l-10-9z" fill="#5c7"/><path d="M2049 407l9 8l-7 7l-10-9z" fill="#7c6"/><path d="M2039 398l10 9l-8 6l-9-8z" fill="#8c5"/><path d="M1848 386l10-10l-8 7l-9 9z" fill="#fb4"/><path d="M1839 396l9-10l-7 6l-10 11z" fill="#eb3"/><path d="M1829 407l10-11l-8 7l-9 11z" fill="#db3"/><path d="M2400 259l9-12l-7 6l-9 12z" fill="#db3"/><path d="M2390 271l10-12l-7 6l-10 12z" fill="#cb2"/><path d="M2381 284l9-13l-7 6l-10 13z" fill="#bb3"/><path d="M2371 298l10-14l-8 6l-9 14z" fill="#ac3"/><path d="M2362 312l9-14l-7 6l-10 14z" fill="#9c4"/><path d="M2352 325l10-13l-8 6l-9 13z" fill="#7c5"/><path d="M2343 339l9-14l-7 6l-10 14z" fill="#6c7"/><path d="M2333 353l10-14l-8 6l-9 14z" fill="#5c8"/><path d="M2324 367l9-14l-7 6l-10 14z" fill="#4c8"/><path d="M2314 380l10-13l-8 6l-9 13z" fill="#3c9"/><path d="M2304 393l10-13l-7 6l-10 13z" fill="#2ba"/><path d="M2295 405l9-12l-7 6l-9 12z" fill="#2bb"/><path d="M2285 417l10-12l-7 6l-10 12z" fill="#1bb"/><path d="M2276 428l9-11l-7 6l-10 11z" fill="#0bc"/><path d="M2266 438l10-10l-8 6l-9 10z" fill="#0bc"/><path d="M2257 447l9-9l-7 6l-10 9z" fill="#1bc"/><path d="M2247 455l10-8l-8 6l-9 8z" fill="#1ad"/><path d="M2209 476l9-4l-7 6l-9 4z" fill="#2ad"/><path d="M2199 478l10-2l-7 6l-10 2z" fill="#2ad"/><path d="M2190 479l9-1l-7 6l-10 1z" fill="#2ad"/><path d="M2180 479l10 0l-8 6l-9 0z" fill="#1ad"/><path d="M2171 478l9 1l-7 6l-10-1z" fill="#1ad"/><path d="M2161 476l10 2l-8 6l-9-2z" fill="#1ac"/><path d="M2152 473l9 3l-7 6l-10-3z" fill="#0bc"/><path d="M2142 468l10 5l-8 6l-9-5z" fill="#0bc"/><path d="M2133 463l9 5l-7 6l-10-5z" fill="#0bb"/><path d="M2123 457l10 6l-8 6l-9-6z" fill="#1bb"/><path d="M2113 450l10 7l-7 6l-10-7z" fill="#2ba"/><path d="M2104 443l9 7l-7 6l-9-7z" fill="#3ca"/><path d="M2094 435l10 8l-7 6l-10-8z" fill="#3c9"/><path d="M2085 427l9 8l-7 6l-10-8z" fill="#4c8"/><path d="M2075 418l10 9l-8 6l-9-9z" fill="#5c7"/><path d="M2066 409l9 9l-7 6l-10-9z" fill="#6c6"/><path d="M2056 401l10 8l-8 6l-9-8z" fill="#8c5"/><path d="M2047 392l9 9l-7 6l-10-9z" fill="#9c4"/><path d="M1865 370l10-8l-8 6l-9 8z" fill="#fc3"/><path d="M1856 380l9-10l-7 6l-10 10z" fill="#fb4"/><path d="M1846 390l10-10l-8 6l-9 10z" fill="#fb4"/><path d="M1836 401l10-11l-7 6l-10 11z" fill="#eb3"/><path d="M2407 254l10-12l-8 5l-9 12z" fill="#eb3"/><path d="M2398 266l9-12l-7 5l-10 12z" fill="#db2"/><path d="M2388 279l10-13l-8 5l-9 13z" fill="#cb2"/><path d="M2379 293l9-14l-7 5l-10 14z" fill="#bc3"/><path d="M2369 306l10-13l-8 5l-9 14z" fill="#ac4"/><path d="M2360 320l9-14l-7 6l-10 13z" fill="#8c5"/><path d="M2350 334l10-14l-8 5l-9 14z" fill="#7c6"/><path d="M2340 348l10-14l-7 5l-10 14z" fill="#6c7"/><path d="M2331 362l9-14l-7 5l-9 14z" fill="#4c8"/><path d="M2321 375l10-13l-7 5l-10 13z" fill="#3c9"/><path d="M2312 388l9-13l-7 5l-10 13z" fill="#3c9"/><path d="M2302 400l10-12l-8 5l-9 12z" fill="#2ba"/><path d="M2293 412l9-12l-7 5l-10 12z" fill="#2bb"/><path d="M2283 423l10-11l-8 5l-9 11z" fill="#1bb"/><path d="M2274 433l9-10l-7 5l-10 10z" fill="#0bc"/><path d="M2264 442l10-9l-8 5l-9 9z" fill="#0bc"/><path d="M2254 450l10-8l-7 5l-10 8z" fill="#0bc"/><path d="M2245 457l9-7l-7 5l-9 7z" fill="#1bc"/><path d="M2207 473l9-2l-7 5l-10 2z" fill="#1ad"/><path d="M2197 474l10-1l-8 5l-9 1z" fill="#1ad"/><path d="M2188 474l9 0l-7 5l-10 0z" fill="#1ac"/><path d="M2178 473l10 1l-8 5l-9-1z" fill="#1bc"/><path d="M2169 471l9 2l-7 5l-10-2z" fill="#0bc"/><path d="M2159 467l10 4l-8 5l-9-3z" fill="#0bc"/><path d="M2149 463l10 4l-7 6l-10-5z" fill="#0bb"/><path d="M2140 458l9 5l-7 5l-9-5z" fill="#1bb"/><path d="M2130 452l10 6l-7 5l-10-6z" fill="#2ba"/><path d="M2121 445l9 7l-7 5l-10-7z" fill="#3ca"/><path d="M2111 438l10 7l-8 5l-9-7z" fill="#3c9"/><path d="M2102 430l9 8l-7 5l-10-8z" fill="#4c8"/><path d="M2092 422l10 8l-8 5l-9-8z" fill="#5c7"/><path d="M2083 413l9 9l-7 5l-10-9z" fill="#6c6"/><path d="M2073 404l10 9l-8 5l-9-9z" fill="#7c5"/><path d="M2063 395l10 9l-7 5l-10-8z" fill="#9c4"/><path d="M1882 357l10-8l-8 5l-9 8z" fill="#fc3"/><path d="M1872 365l10-8l-7 5l-10 8z" fill="#fc3"/><path d="M1863 374l9-9l-7 5l-9 10z" fill="#fc3"/><path d="M1853 385l10-11l-7 6l-10 10z" fill="#fb3"/><path d="M1844 396l9-11l-7 5l-10 11z" fill="#fb4"/><path d="M2415 249l9-12l-7 5l-10 12z" fill="#fb4"/><path d="M2405 262l10-13l-8 5l-9 12z" fill="#eb3"/><path d="M2396 275l9-13l-7 4l-10 13z" fill="#db2"/><path d="M2386 288l10-13l-8 4l-9 14z" fill="#cb2"/><path d="M2376 302l10-14l-7 5l-10 13z" fill="#bc3"/><path d="M2367 316l9-14l-7 4l-9 14z" fill="#9c4"/><path d="M2357 330l10-14l-7 4l-10 14z" fill="#8c5"/><path d="M2348 344l9-14l-7 4l-10 14z" fill="#6c6"/><path d="M2338 357l10-13l-8 4l-9 14z" fill="#5c7"/><path d="M2329 370l9-13l-7 5l-10 13z" fill="#4c8"/><path d="M2319 383l10-13l-8 5l-9 13z" fill="#3c9"/><path d="M2310 396l9-13l-7 5l-10 12z" fill="#3ca"/><path d="M2300 407l10-11l-8 4l-9 12z" fill="#2ba"/><path d="M2290 418l10-11l-7 5l-10 11z" fill="#2bb"/><path d="M2281 428l9-10l-7 5l-9 10z" fill="#1bb"/><path d="M2271 437l10-9l-7 5l-10 9z" fill="#0bb"/><path d="M2262 445l9-8l-7 5l-10 8z" fill="#0bc"/><path d="M2252 452l10-7l-8 5l-9 7z" fill="#0bc"/><path d="M2243 458l9-6l-7 5l-10 5z" fill="#0bc"/><path d="M2195 470l10 0l-8 4l-9 0z" fill="#0bc"/><path d="M2185 469l10 1l-7 4l-10-1z" fill="#0bc"/><path d="M2176 466l9 3l-7 4l-9-2z" fill="#0bc"/><path d="M2166 463l10 3l-7 5l-10-4z" fill="#0bb"/><path d="M2157 459l9 4l-7 4l-10-4z" fill="#1bb"/><path d="M2147 453l10 6l-8 4l-9-5z" fill="#2ba"/><path d="M2138 447l9 6l-7 5l-10-6z" fill="#3ba"/><path d="M2128 441l10 6l-8 5l-9-7z" fill="#3c9"/><path d="M2119 433l9 8l-7 4l-10-7z" fill="#4c9"/><path d="M2109 425l10 8l-8 5l-9-8z" fill="#5c8"/><path d="M2099 417l10 8l-7 5l-10-8z" fill="#6c7"/><path d="M2090 409l9 8l-7 5l-9-9z" fill="#7c6"/><path d="M2080 400l10 9l-7 4l-10-9z" fill="#8c5"/><path d="M2071 391l9 9l-7 4l-10-9z" fill="#ac4"/><path d="M1908 338l10-5l-7 5l-10 5z" fill="#ed2"/><path d="M1899 345l9-7l-7 5l-9 6z" fill="#fd2"/><path d="M1889 352l10-7l-7 4l-10 8z" fill="#fd3"/><path d="M1880 361l9-9l-7 5l-10 8z" fill="#fc3"/><path d="M1870 370l10-9l-8 4l-9 9z" fill="#fc3"/><path d="M1861 380l9-10l-7 4l-10 11z" fill="#fc3"/><path d="M1851 392l10-12l-8 5l-9 11z" fill="#fb4"/><path d="M2422 246l10-12l-8 3l-9 12z" fill="#fb4"/><path d="M2412 258l10-12l-7 3l-10 13z" fill="#eb3"/><path d="M2403 271l9-13l-7 4l-9 13z" fill="#db3"/><path d="M2393 285l10-14l-7 4l-10 13z" fill="#cb2"/><path d="M2384 298l9-13l-7 3l-10 14z" fill="#bb3"/><path d="M2374 312l10-14l-8 4l-9 14z" fill="#ac3"/><path d="M2365 326l9-14l-7 4l-10 14z" fill="#9c4"/><path d="M2355 340l10-14l-8 4l-9 14z" fill="#7c5"/><path d="M2346 354l9-14l-7 4l-10 13z" fill="#6c6"/><path d="M2336 367l10-13l-8 3l-9 13z" fill="#5c7"/><path d="M2326 380l10-13l-7 3l-10 13z" fill="#4c8"/><path d="M2317 392l9-12l-7 3l-9 13z" fill="#3c9"/><path d="M2307 404l10-12l-7 4l-10 11z" fill="#3ca"/><path d="M2298 415l9-11l-7 3l-10 11z" fill="#2ba"/><path d="M2288 425l10-10l-8 3l-9 10z" fill="#2bb"/><path d="M2279 434l9-9l-7 3l-10 9z" fill="#1bb"/><path d="M2269 442l10-8l-8 3l-9 8z" fill="#0bb"/><path d="M2260 449l9-7l-7 3l-10 7z" fill="#0bc"/><path d="M2250 455l10-6l-8 3l-9 6z" fill="#0bc"/><path d="M2240 459l10-4l-7 3l-10 5z" fill="#0bc"/><path d="M2193 465l9 1l-7 4l-10-1z" fill="#0bc"/><path d="M2183 463l10 2l-8 4l-9-3z" fill="#0bb"/><path d="M2174 459l9 4l-7 3l-10-3z" fill="#1bb"/><path d="M2164 455l10 4l-8 4l-9-4z" fill="#2ba"/><path d="M2155 450l9 5l-7 4l-10-6z" fill="#2ba"/><path d="M2145 444l10 6l-8 3l-9-6z" fill="#3c9"/><path d="M2135 437l10 7l-7 3l-10-6z" fill="#3c9"/><path d="M2126 430l9 7l-7 4l-9-8z" fill="#4c8"/><path d="M2116 422l10 8l-7 3l-10-8z" fill="#5c7"/><path d="M2107 414l9 8l-7 3l-10-8z" fill="#6c6"/><path d="M2097 405l10 9l-8 3l-9-8z" fill="#8c5"/><path d="M2088 396l9 9l-7 4l-10-9z" fill="#9c4"/><path d="M1916 335l9-5l-7 3l-10 5z" fill="#ee2"/><path d="M1906 341l10-6l-8 3l-9 7z" fill="#ed2"/><path d="M1897 349l9-8l-7 4l-10 7z" fill="#ed2"/><path d="M1887 357l10-8l-8 3l-9 9z" fill="#fd3"/><path d="M1878 367l9-10l-7 4l-10 9z" fill="#fc3"/><path d="M1868 377l10-10l-8 3l-9 10z" fill="#fc3"/><path d="M1858 388l10-11l-7 3l-10 12z" fill="#fc3"/><path d="M2429 243l10-12l-7 3l-10 12z" fill="#fb3"/><path d="M2420 256l9-13l-7 3l-10 12z" fill="#fb4"/><path d="M2410 269l10-13l-8 2l-9 13z" fill="#eb3"/><path d="M2401 282l9-13l-7 2l-10 14z" fill="#db2"/><path d="M2391 296l10-14l-8 3l-9 13z" fill="#cb2"/><path d="M2382 310l9-14l-7 2l-10 14z" fill="#bc3"/><path d="M2372 324l10-14l-8 2l-9 14z" fill="#9c4"/><path d="M2362 337l10-13l-7 2l-10 14z" fill="#8c5"/><path d="M2353 351l9-14l-7 3l-9 14z" fill="#7c6"/><path d="M2343 364l10-13l-7 3l-10 13z" fill="#5c7"/><path d="M2334 377l9-13l-7 3l-10 13z" fill="#4c8"/><path d="M2324 390l10-13l-8 3l-9 12z" fill="#3c9"/><path d="M2315 401l9-11l-7 2l-10 12z" fill="#3c9"/><path d="M2305 412l10-11l-8 3l-9 11z" fill="#3ca"/><path d="M2296 422l9-10l-7 3l-10 10z" fill="#2ba"/><path d="M2286 431l10-9l-8 3l-9 9z" fill="#1bb"/><path d="M2276 439l10-8l-7 3l-10 8z" fill="#1bb"/><path d="M2267 446l9-7l-7 3l-9 7z" fill="#0bb"/><path d="M2257 452l10-6l-7 3l-10 6z" fill="#0bb"/><path d="M2248 457l9-5l-7 3l-10 4z" fill="#0bc"/><path d="M2238 460l10-3l-8 2l-9 4z" fill="#0bc"/><path d="M2191 460l9 3l-7 2l-10-2z" fill="#1bb"/><path d="M2181 457l10 3l-8 3l-9-4z" fill="#2bb"/><path d="M2171 453l10 4l-7 2l-10-4z" fill="#2ba"/><path d="M2162 447l9 6l-7 2l-9-5z" fill="#3ca"/><path d="M2152 441l10 6l-7 3l-10-6z" fill="#3c9"/><path d="M2143 435l9 6l-7 3l-10-7z" fill="#4c8"/><path d="M2133 427l10 8l-8 2l-9-7z" fill="#5c7"/><path d="M2124 419l9 8l-7 3l-10-8z" fill="#6c6"/><path d="M2114 411l10 8l-8 3l-9-8z" fill="#7c5"/><path d="M2105 402l9 9l-7 3l-10-9z" fill="#9c4"/><path d="M2095 394l10 8l-8 3l-9-9z" fill="#ac3"/><path d="M1933 327l9-4l-7 3l-10 4z" fill="#ee2"/><path d="M1923 332l10-5l-8 3l-9 5z" fill="#ee2"/><path d="M1914 339l9-7l-7 3l-10 6z" fill="#ee2"/><path d="M1904 346l10-7l-8 2l-9 8z" fill="#ed2"/><path d="M1894 355l10-9l-7 3l-10 8z" fill="#ed2"/><path d="M1885 364l9-9l-7 2l-9 10z" fill="#fd3"/><path d="M1875 374l10-10l-7 3l-10 10z" fill="#fc3"/><path d="M1866 386l9-12l-7 3l-10 11z" fill="#fc3"/><path d="M2437 242l9-12l-7 1l-10 12z" fill="#fc3"/><path d="M2427 254l10-12l-8 1l-9 13z" fill="#fb4"/><path d="M2418 267l9-13l-7 2l-10 13z" fill="#eb3"/><path d="M2408 281l10-14l-8 2l-9 13z" fill="#db3"/><path d="M2398 294l10-13l-7 1l-10 14z" fill="#cb2"/><path d="M2389 308l9-14l-7 2l-9 14z" fill="#bb3"/><path d="M2379 322l10-14l-7 2l-10 14z" fill="#ac3"/><path d="M2370 336l9-14l-7 2l-10 13z" fill="#9c4"/><path d="M2360 350l10-14l-8 1l-9 14z" fill="#7c5"/><path d="M2351 363l9-13l-7 1l-10 13z" fill="#6c6"/><path d="M2341 376l10-13l-8 1l-9 13z" fill="#5c7"/><path d="M2332 388l9-12l-7 1l-10 13z" fill="#4c8"/><path d="M2322 400l10-12l-8 2l-9 11z" fill="#3c9"/><path d="M2312 411l10-11l-7 1l-10 11z" fill="#3ca"/><path d="M2303 421l9-10l-7 1l-9 10z" fill="#2ba"/><path d="M2293 430l10-9l-7 1l-10 9z" fill="#2ba"/><path d="M2284 438l9-8l-7 1l-10 8z" fill="#1bb"/><path d="M2274 445l10-7l-8 1l-9 7z" fill="#1bb"/><path d="M2265 451l9-6l-7 1l-10 6z" fill="#1bb"/><path d="M2255 455l10-4l-8 1l-9 5z" fill="#0bb"/><path d="M2246 459l9-4l-7 2l-10 3z" fill="#0bb"/><path d="M2236 461l10-2l-8 1l-9 3z" fill="#0bb"/><path d="M2179 451l9 4l-7 2l-10-4z" fill="#3ca"/><path d="M2169 446l10 5l-8 2l-9-6z" fill="#3c9"/><path d="M2160 440l9 6l-7 1l-10-6z" fill="#3c9"/><path d="M2150 433l10 7l-8 1l-9-6z" fill="#4c8"/><path d="M2141 426l9 7l-7 2l-10-8z" fill="#5c7"/><path d="M2131 418l10 8l-8 1l-9-8z" fill="#6c6"/><path d="M2121 410l10 8l-7 1l-10-8z" fill="#8c5"/><path d="M2112 401l9 9l-7 1l-9-9z" fill="#9c4"/><path d="M1950 322l9-3l-7 1l-10 3z" fill="#fe2"/><path d="M1940 326l10-4l-8 1l-9 4z" fill="#ee2"/><path d="M1930 331l10-5l-7 1l-10 5z" fill="#ee2"/><path d="M1921 337l9-6l-7 1l-9 7z" fill="#ee2"/><path d="M1911 345l10-8l-7 2l-10 7z" fill="#ee2"/><path d="M1902 353l9-8l-7 1l-10 9z" fill="#ed2"/><path d="M1892 363l10-10l-8 2l-9 9z" fill="#fd2"/><path d="M1883 373l9-10l-7 1l-10 10z" fill="#fd3"/><path d="M1873 384l10-11l-8 1l-9 12z" fill="#fc3"/><path d="M2444 241l10-12l-8 1l-9 12z" fill="#fc3"/><path d="M2434 254l10-13l-7 1l-10 12z" fill="#fb3"/><path d="M2425 267l9-13l-7 0l-9 13z" fill="#fb4"/><path d="M2415 280l10-13l-7 0l-10 14z" fill="#eb3"/><path d="M2406 294l9-14l-7 1l-10 13z" fill="#db2"/><path d="M2396 308l10-14l-8 0l-9 14z" fill="#cb2"/><path d="M2387 322l9-14l-7 0l-10 14z" fill="#ac3"/><path d="M2377 336l10-14l-8 0l-9 14z" fill="#9c4"/><path d="M2368 349l9-13l-7 0l-10 14z" fill="#8c5"/><path d="M2358 363l10-14l-8 1l-9 13z" fill="#6c6"/><path d="M2348 375l10-12l-7 0l-10 13z" fill="#5c7"/><path d="M2339 388l9-13l-7 1l-9 12z" fill="#4c8"/><path d="M2329 399l10-11l-7 0l-10 12z" fill="#3c9"/><path d="M2320 410l9-11l-7 1l-10 11z" fill="#3c9"/><path d="M2310 420l10-10l-8 1l-9 10z" fill="#3ca"/><path d="M2301 429l9-9l-7 1l-10 9z" fill="#2ba"/><path d="M2291 437l10-8l-8 1l-9 8z" fill="#2ba"/><path d="M2282 444l9-7l-7 1l-10 7z" fill="#1bb"/><path d="M2272 450l10-6l-8 1l-9 6z" fill="#1bb"/><path d="M2263 455l9-5l-7 1l-10 4z" fill="#1bb"/><path d="M2253 458l10-3l-8 0l-9 4z" fill="#1bb"/><path d="M2243 461l10-3l-7 1l-10 2z" fill="#1bb"/><path d="M2234 462l9-1l-7 0l-9 1z" fill="#1bb"/><path d="M1966 319l10-2l-7 0l-10 2z" fill="#ff1"/><path d="M1957 321l9-2l-7 0l-9 3z" fill="#ff1"/><path d="M1947 325l10-4l-7 1l-10 4z" fill="#fe2"/><path d="M1938 331l9-6l-7 1l-10 5z" fill="#fe2"/><path d="M1928 337l10-6l-8 0l-9 6z" fill="#ee2"/><path d="M1919 344l9-7l-7 0l-10 8z" fill="#ee2"/><path d="M1909 353l10-9l-8 1l-9 8z" fill="#ee2"/><path d="M1900 362l9-9l-7 0l-10 10z" fill="#ed2"/><path d="M1890 372l10-10l-8 1l-9 10z" fill="#fd3"/><path d="M1881 384l9-12l-7 1l-10 11z" fill="#fc3"/><path d="M2451 242l10-12l-7-1l-10 12z" fill="#fc3"/><path d="M2442 254l9-12l-7-1l-10 13z" fill="#fb3"/><path d="M2432 268l10-14l-8 0l-9 13z" fill="#fb4"/><path d="M2423 281l9-13l-7-1l-10 13z" fill="#eb3"/><path d="M2413 295l10-14l-8-1l-9 14z" fill="#db2"/><path d="M2404 309l9-14l-7-1l-10 14z" fill="#cb2"/><path d="M2394 323l10-14l-8-1l-9 14z" fill="#bc3"/><path d="M2384 336l10-13l-7-1l-10 14z" fill="#9c4"/><path d="M2375 350l9-14l-7 0l-9 13z" fill="#8c5"/><path d="M2365 363l10-13l-7-1l-10 14z" fill="#7c6"/><path d="M2356 376l9-13l-7 0l-10 12z" fill="#6c7"/><path d="M2346 388l10-12l-8-1l-9 13z" fill="#4c8"/><path d="M2337 400l9-12l-7 0l-10 11z" fill="#4c8"/><path d="M2327 411l10-11l-8-1l-9 11z" fill="#3c9"/><path d="M2318 421l9-10l-7-1l-10 10z" fill="#3ca"/><path d="M2308 430l10-9l-8-1l-9 9z" fill="#2ba"/><path d="M2299 438l9-8l-7-1l-10 8z" fill="#2ba"/><path d="M2289 445l10-7l-8-1l-9 7z" fill="#2bb"/><path d="M2279 451l10-6l-7-1l-10 6z" fill="#1bb"/><path d="M2270 456l9-5l-7-1l-9 5z" fill="#1bb"/><path d="M2260 459l10-3l-7-1l-10 3z" fill="#1bb"/><path d="M2251 461l9-2l-7-1l-10 3z" fill="#1bb"/><path d="M2241 463l10-2l-8 0l-9 1z" fill="#1bb"/><path d="M2232 463l9 0l-7-1l-10 0z" fill="#1bb"/><path d="M1993 317l9 1l-7-1l-9-1z" fill="#ff1"/><path d="M1983 318l10-1l-7-1l-10 1z" fill="#ff1"/><path d="M1974 319l9-1l-7-1l-10 2z" fill="#ff1"/><path d="M1964 322l10-3l-8 0l-9 2z" fill="#ff1"/><path d="M1955 326l9-4l-7-1l-10 4z" fill="#ff1"/><path d="M1945 331l10-5l-8-1l-9 6z" fill="#fe2"/><path d="M1936 338l9-7l-7 0l-10 6z" fill="#ee2"/><path d="M1926 345l10-7l-8-1l-9 7z" fill="#ee2"/><path d="M1917 353l9-8l-7-1l-10 9z" fill="#ee2"/><path d="M1907 363l10-10l-8 0l-9 9z" fill="#ed2"/><path d="M1897 373l10-10l-7-1l-10 10z" fill="#fd2"/><path d="M1888 384l9-11l-7-1l-9 12z" fill="#fc3"/><path d="M2459 244l9-12l-7-2l-10 12z" fill="#fc3"/><path d="M2449 256l10-12l-8-2l-9 12z" fill="#fc3"/><path d="M2440 269l9-13l-7-2l-10 14z" fill="#fb4"/><path d="M2430 283l10-14l-8-1l-9 13z" fill="#eb3"/><path d="M2420 297l10-14l-7-2l-10 14z" fill="#db2"/><path d="M2411 311l9-14l-7-2l-9 14z" fill="#cb2"/><path d="M2401 324l10-13l-7-2l-10 14z" fill="#bc3"/><path d="M2392 338l9-14l-7-1l-10 13z" fill="#ac4"/><path d="M2382 352l10-14l-8-2l-9 14z" fill="#8c5"/><path d="M2373 365l9-13l-7-2l-10 13z" fill="#7c6"/><path d="M2363 378l10-13l-8-2l-9 13z" fill="#6c7"/><path d="M2354 390l9-12l-7-2l-10 12z" fill="#5c8"/><path d="M2344 402l10-12l-8-2l-9 12z" fill="#4c8"/><path d="M2334 413l10-11l-7-2l-10 11z" fill="#3c9"/><path d="M2325 423l9-10l-7-2l-9 10z" fill="#3c9"/><path d="M2315 432l10-9l-7-2l-10 9z" fill="#2ba"/><path d="M2306 440l9-8l-7-2l-9 8z" fill="#2ba"/><path d="M2296 447l10-7l-7-2l-10 7z" fill="#2bb"/><path d="M2287 453l9-6l-7-2l-10 6z" fill="#1bb"/><path d="M2277 458l10-5l-8-2l-9 5z" fill="#1bb"/><path d="M2268 461l9-3l-7-2l-10 3z" fill="#1bb"/><path d="M2258 463l10-2l-8-2l-9 2z" fill="#1bb"/><path d="M2249 465l9-2l-7-2l-10 2z" fill="#1bb"/><path d="M2239 465l10 0l-8-2l-9 0z" fill="#2bb"/><path d="M2229 463l10 2l-7-2l-10-2z" fill="#2ba"/><path d="M2220 461l9 2l-7-2l-9-2z" fill="#2ba"/><path d="M2010 320l9 2l-7-2l-10-2z" fill="#fe2"/><path d="M2000 319l10 1l-8-2l-9-1z" fill="#ff1"/><path d="M1991 320l9-1l-7-2l-10 1z" fill="#ff1"/><path d="M1981 321l10-1l-8-2l-9 1z" fill="#ff1"/><path d="M1972 324l9-3l-7-2l-10 3z" fill="#ff1"/><path d="M1962 328l10-4l-8-2l-9 4z" fill="#ff1"/><path d="M1952 333l10-5l-7-2l-10 5z" fill="#ff1"/><path d="M1943 340l9-7l-7-2l-9 7z" fill="#fe2"/><path d="M1933 347l10-7l-7-2l-10 7z" fill="#ee2"/><path d="M1924 355l9-8l-7-2l-9 8z" fill="#ee2"/><path d="M1914 365l10-10l-7-2l-10 10z" fill="#ed2"/><path d="M1905 375l9-10l-7-2l-10 10z" fill="#fd2"/><path d="M1895 386l10-11l-8-2l-9 11z" fill="#fd3"/><path d="M2466 247l10-12l-8-3l-9 12z" fill="#fc3"/><path d="M2456 260l10-13l-7-3l-10 12z" fill="#fc3"/><path d="M2447 273l9-13l-7-4l-9 13z" fill="#fb4"/><path d="M2437 286l10-13l-7-4l-10 14z" fill="#eb3"/><path d="M2428 300l9-14l-7-3l-10 14z" fill="#db2"/><path d="M2418 314l10-14l-8-3l-9 14z" fill="#cb2"/><path d="M2409 328l9-14l-7-3l-10 13z" fill="#bc3"/><path d="M2399 341l10-13l-8-4l-9 14z" fill="#ac4"/><path d="M2390 355l9-14l-7-3l-10 14z" fill="#8c5"/><path d="M2380 368l10-13l-8-3l-9 13z" fill="#7c6"/><path d="M2370 381l10-13l-7-3l-10 13z" fill="#6c7"/><path d="M2361 394l9-13l-7-3l-9 12z" fill="#5c8"/><path d="M2351 405l10-11l-7-4l-10 12z" fill="#4c8"/><path d="M2342 416l9-11l-7-3l-10 11z" fill="#3c9"/><path d="M2332 426l10-10l-8-3l-9 10z" fill="#3c9"/><path d="M2323 435l9-9l-7-3l-10 9z" fill="#3ba"/><path d="M2313 443l10-8l-8-3l-9 8z" fill="#2ba"/><path d="M2304 450l9-7l-7-3l-10 7z" fill="#2bb"/><path d="M2294 456l10-6l-8-3l-9 6z" fill="#1bb"/><path d="M2285 461l9-5l-7-3l-10 5z" fill="#1bb"/><path d="M2275 464l10-3l-8-3l-9 3z" fill="#1bb"/><path d="M2265 467l10-3l-7-3l-10 2z" fill="#1bb"/><path d="M2256 468l9-1l-7-4l-9 2z" fill="#1bb"/><path d="M2246 468l10 0l-7-3l-10 0z" fill="#2bb"/><path d="M2237 466l9 2l-7-3l-10-2z" fill="#2ba"/><path d="M2227 464l10 2l-8-3l-9-2z" fill="#2ba"/><path d="M2218 461l9 3l-7-3l-10-3z" fill="#3ca"/><path d="M2027 325l9 3l-7-3l-10-3z" fill="#ee2"/><path d="M2017 323l10 2l-8-3l-9-2z" fill="#fe2"/><path d="M2008 322l9 1l-7-3l-10-1z" fill="#ff1"/><path d="M1998 323l10-1l-8-3l-9 1z" fill="#ff1"/><path d="M1988 324l10-1l-7-3l-10 1z" fill="#ff1"/><path d="M1979 327l9-3l-7-3l-9 3z" fill="#ff1"/><path d="M1969 331l10-4l-7-3l-10 4z" fill="#ff1"/><path d="M1960 336l9-5l-7-3l-10 5z" fill="#ff1"/><path d="M1950 343l10-7l-8-3l-9 7z" fill="#fe2"/><path d="M1941 350l9-7l-7-3l-10 7z" fill="#ee2"/><path d="M1931 358l10-8l-8-3l-9 8z" fill="#ee2"/><path d="M1922 368l9-10l-7-3l-10 10z" fill="#ed2"/><path d="M1912 378l10-10l-8-3l-9 10z" fill="#ed2"/><path d="M1903 389l9-11l-7-3l-10 11z" fill="#fd3"/><path d="M2473 251l10-12l-7-4l-10 12z" fill="#fc3"/><path d="M2464 264l9-13l-7-4l-10 13z" fill="#fb3"/><path d="M2454 277l10-13l-8-4l-9 13z" fill="#fb4"/><path d="M2445 290l9-13l-7-4l-10 13z" fill="#eb3"/><path d="M2435 304l10-14l-8-4l-9 14z" fill="#db2"/><path d="M2426 318l9-14l-7-4l-10 14z" fill="#cb2"/><path d="M2416 332l10-14l-8-4l-9 14z" fill="#bc3"/><path d="M2406 346l10-14l-7-4l-10 13z" fill="#ac4"/><path d="M2397 359l9-13l-7-5l-9 14z" fill="#8c5"/><path d="M2387 373l10-14l-7-4l-10 13z" fill="#7c6"/><path d="M2378 386l9-13l-7-5l-10 13z" fill="#6c7"/><path d="M2368 398l10-12l-8-5l-9 13z" fill="#5c8"/><path d="M2359 409l9-11l-7-4l-10 11z" fill="#4c8"/><path d="M2349 420l10-11l-8-4l-9 11z" fill="#3c9"/><path d="M2340 430l9-10l-7-4l-10 10z" fill="#3ca"/><path d="M2330 439l10-9l-8-4l-9 9z" fill="#2ba"/><path d="M2321 447l9-8l-7-4l-10 8z" fill="#2ba"/><path d="M2311 454l10-7l-8-4l-9 7z" fill="#2bb"/><path d="M2301 460l10-6l-7-4l-10 6z" fill="#1bb"/><path d="M2292 465l9-5l-7-4l-9 5z" fill="#1bb"/><path d="M2282 468l10-3l-7-4l-10 3z" fill="#1bb"/><path d="M2273 471l9-3l-7-4l-10 3z" fill="#1bb"/><path d="M2263 472l10-1l-8-4l-9 1z" fill="#1bb"/><path d="M2254 472l9 0l-7-4l-10 0z" fill="#1bb"/><path d="M2244 471l10 1l-8-4l-9-2z" fill="#2ba"/><path d="M2235 469l9 2l-7-5l-10-2z" fill="#2ba"/><path d="M2225 465l10 4l-8-5l-9-3z" fill="#3ca"/><path d="M2215 461l10 4l-7-4l-10-4z" fill="#3c9"/><path d="M2206 456l9 5l-7-4l-9-6z" fill="#3c9"/><path d="M2196 450l10 6l-7-5l-10-6z" fill="#4c8"/><path d="M2053 336l10 5l-8-5l-9-4z" fill="#ee2"/><path d="M2044 332l9 4l-7-4l-10-4z" fill="#ee2"/><path d="M2034 329l10 3l-8-4l-9-3z" fill="#ee2"/><path d="M2024 327l10 2l-7-4l-10-2z" fill="#fe2"/><path d="M2015 327l9 0l-7-4l-9-1z" fill="#ff1"/><path d="M2005 327l10 0l-7-5l-10 1z" fill="#ff1"/><path d="M1996 329l9-2l-7-4l-10 1z" fill="#ff1"/><path d="M1986 331l10-2l-8-5l-9 3z" fill="#ff1"/><path d="M1977 335l9-4l-7-4l-10 4z" fill="#ff1"/><path d="M1967 341l10-6l-8-4l-9 5z" fill="#fe2"/><path d="M1958 347l9-6l-7-5l-10 7z" fill="#fe2"/><path d="M1948 354l10-7l-8-4l-9 7z" fill="#ee2"/><path d="M1939 363l9-9l-7-4l-10 8z" fill="#ee2"/><path d="M1929 372l10-9l-8-5l-9 10z" fill="#ed2"/><path d="M1919 383l10-11l-7-4l-10 10z" fill="#fd2"/><path d="M1910 394l9-11l-7-5l-9 11z" fill="#fc3"/><path d="M2481 257l9-12l-7-6l-10 12z" fill="#fc3"/><path d="M2471 269l10-12l-8-6l-9 13z" fill="#fb3"/><path d="M2462 282l9-13l-7-5l-10 13z" fill="#fb4"/><path d="M2452 296l10-14l-8-5l-9 13z" fill="#eb3"/><path d="M2442 310l10-14l-7-6l-10 14z" fill="#db2"/><path d="M2433 323l9-13l-7-6l-9 14z" fill="#cb2"/><path d="M2423 337l10-14l-7-5l-10 14z" fill="#bc3"/><path d="M2414 351l9-14l-7-5l-10 14z" fill="#9c4"/><path d="M2404 365l10-14l-8-5l-9 13z" fill="#8c5"/><path d="M2395 378l9-13l-7-6l-10 14z" fill="#7c6"/><path d="M2385 391l10-13l-8-5l-9 13z" fill="#5c7"/><path d="M2376 403l9-12l-7-5l-10 12z" fill="#4c8"/><path d="M2366 415l10-12l-8-5l-9 11z" fill="#4c9"/><path d="M2357 426l9-11l-7-6l-10 11z" fill="#3c9"/><path d="M2347 436l10-10l-8-6l-9 10z" fill="#3ca"/><path d="M2337 445l10-9l-7-6l-10 9z" fill="#2ba"/><path d="M2328 453l9-8l-7-6l-9 8z" fill="#2ba"/><path d="M2318 460l10-7l-7-6l-10 7z" fill="#1bb"/><path d="M2309 466l9-6l-7-6l-10 6z" fill="#1bb"/><path d="M2299 470l10-4l-8-6l-9 5z" fill="#1bb"/><path d="M2290 474l9-4l-7-5l-10 3z" fill="#1bb"/><path d="M2280 476l10-2l-8-6l-9 3z" fill="#1bb"/><path d="M2271 477l9-1l-7-5l-10 1z" fill="#1bb"/><path d="M2261 477l10 0l-8-5l-9 0z" fill="#1bb"/><path d="M2251 476l10 1l-7-5l-10-1z" fill="#2bb"/><path d="M2242 474l9 2l-7-5l-9-2z" fill="#2ba"/><path d="M2232 471l10 3l-7-5l-10-4z" fill="#2ba"/><path d="M2223 466l9 5l-7-6l-10-4z" fill="#3c9"/><path d="M2213 461l10 5l-8-5l-9-5z" fill="#3c9"/><path d="M2204 455l9 6l-7-5l-10-6z" fill="#4c8"/><path d="M2166 425l9 8l-7-5l-10-9z" fill="#8c5"/><path d="M2146 407l10 9l-7-5l-10-9z" fill="#bc3"/><path d="M2137 399l9 8l-7-5l-9-9z" fill="#cb2"/><path d="M2127 390l10 9l-7-6l-10-9z" fill="#db3"/><path d="M2118 381l9 9l-7-6l-10-8z" fill="#eb3"/><path d="M2080 352l9 6l-7-5l-10-7z" fill="#fd3"/><path d="M2070 346l10 6l-8-6l-9-5z" fill="#ed2"/><path d="M2060 341l10 5l-7-5l-10-5z" fill="#ed2"/><path d="M2051 337l9 4l-7-5l-9-4z" fill="#ee2"/><path d="M2041 335l10 2l-7-5l-10-3z" fill="#ee2"/><path d="M2032 333l9 2l-7-6l-10-2z" fill="#fe2"/><path d="M2022 332l10 1l-8-6l-9 0z" fill="#fe2"/><path d="M2013 332l9 0l-7-5l-10 0z" fill="#ff1"/><path d="M2003 334l10-2l-8-5l-9 2z" fill="#ff1"/><path d="M1994 337l9-3l-7-5l-10 2z" fill="#ff1"/><path d="M1984 341l10-4l-8-6l-9 4z" fill="#ff1"/><path d="M1975 346l9-5l-7-6l-10 6z" fill="#fe2"/><path d="M1965 352l10-6l-8-5l-9 6z" fill="#ee2"/><path d="M1955 360l10-8l-7-5l-10 7z" fill="#ee2"/><path d="M1946 368l9-8l-7-6l-9 9z" fill="#ee2"/><path d="M1936 378l10-10l-7-5l-10 9z" fill="#ed2"/><path d="M1927 388l9-10l-7-6l-10 11z" fill="#fd3"/><path d="M1917 399l10-11l-8-5l-9 11z" fill="#fc3"/><path d="M2488 263l10-12l-8-6l-9 12z" fill="#fc3"/><path d="M2478 276l10-13l-7-6l-10 12z" fill="#fb4"/><path d="M2469 289l9-13l-7-7l-9 13z" fill="#eb3"/><path d="M2459 302l10-13l-7-7l-10 14z" fill="#eb3"/><path d="M2450 316l9-14l-7-6l-10 14z" fill="#db2"/><path d="M2440 330l10-14l-8-6l-9 13z" fill="#bb3"/><path d="M2431 344l9-14l-7-7l-10 14z" fill="#ac3"/><path d="M2421 358l10-14l-8-7l-9 14z" fill="#9c4"/><path d="M2412 371l9-13l-7-7l-10 14z" fill="#8c5"/><path d="M2402 385l10-14l-8-6l-9 13z" fill="#6c6"/><path d="M2393 398l9-13l-7-7l-10 13z" fill="#5c7"/><path d="M2383 410l10-12l-8-7l-9 12z" fill="#4c8"/><path d="M2373 422l10-12l-7-7l-10 12z" fill="#3c9"/><path d="M2364 432l9-10l-7-7l-9 11z" fill="#3c9"/><path d="M2354 442l10-10l-7-6l-10 10z" fill="#3ba"/><path d="M2345 451l9-9l-7-6l-10 9z" fill="#2ba"/><path d="M2335 460l10-9l-8-6l-9 8z" fill="#2bb"/><path d="M2326 467l9-7l-7-7l-10 7z" fill="#1bb"/><path d="M2316 472l10-5l-8-7l-9 6z" fill="#1bb"/><path d="M2307 477l9-5l-7-6l-10 4z" fill="#0bb"/><path d="M2297 481l10-4l-8-7l-9 4z" fill="#0bb"/><path d="M2287 483l10-2l-7-7l-10 2z" fill="#0bb"/><path d="M2278 484l9-1l-7-7l-9 1z" fill="#1bb"/><path d="M2268 484l10 0l-7-7l-10 0z" fill="#1bb"/><path d="M2259 483l9 1l-7-7l-10-1z" fill="#1bb"/><path d="M2249 481l10 2l-8-7l-9-2z" fill="#2ba"/><path d="M2240 477l9 4l-7-7l-10-3z" fill="#2ba"/><path d="M2230 473l10 4l-8-6l-9-5z" fill="#3ca"/><path d="M2221 468l9 5l-7-7l-10-5z" fill="#3c9"/><path d="M2211 462l10 6l-8-7l-9-6z" fill="#4c9"/><path d="M2202 455l9 7l-7-7l-10-7z" fill="#4c8"/><path d="M2192 448l10 7l-8-7l-9-7z" fill="#5c7"/><path d="M2182 440l10 8l-7-7l-10-8z" fill="#7c6"/><path d="M2173 431l9 9l-7-7l-9-8z" fill="#8c5"/><path d="M2163 423l10 8l-7-6l-10-9z" fill="#9c4"/><path d="M2154 414l9 9l-7-7l-10-9z" fill="#bc3"/><path d="M2135 397l9 8l-7-6l-10-9z" fill="#db2"/><path d="M2125 388l10 9l-8-7l-9-9z" fill="#eb3"/><path d="M2116 380l9 8l-7-7l-10-8z" fill="#fb4"/><path d="M2106 372l10 8l-8-7l-9-7z" fill="#fb3"/><path d="M2096 365l10 7l-7-6l-10-8z" fill="#fc3"/><path d="M2087 359l9 6l-7-7l-9-6z" fill="#fc3"/><path d="M2077 353l10 6l-7-7l-10-6z" fill="#fd3"/><path d="M2068 348l9 5l-7-7l-10-5z" fill="#ed2"/><path d="M2058 344l10 4l-8-7l-9-4z" fill="#ee2"/><path d="M2049 341l9 3l-7-7l-10-2z" fill="#ee2"/><path d="M2039 339l10 2l-8-6l-9-2z" fill="#ee2"/><path d="M2030 339l9 0l-7-6l-10-1z" fill="#fe2"/><path d="M2020 339l10 0l-8-7l-9 0z" fill="#fe2"/><path d="M2011 341l9-2l-7-7l-10 2z" fill="#fe2"/><path d="M2001 344l10-3l-8-7l-9 3z" fill="#fe2"/><path d="M1991 348l10-4l-7-7l-10 4z" fill="#fe2"/><path d="M1982 353l9-5l-7-7l-9 5z" fill="#ee2"/><path d="M1972 359l10-6l-7-7l-10 6z" fill="#ee2"/><path d="M1963 366l9-7l-7-7l-10 8z" fill="#ee2"/><path d="M1953 375l10-9l-8-6l-9 8z" fill="#ed2"/><path d="M1944 384l9-9l-7-7l-10 10z" fill="#ed2"/><path d="M1934 395l10-11l-8-6l-9 10z" fill="#fd3"/><path d="M1925 406l9-11l-7-7l-10 11z" fill="#fc3"/><path d="M2495 271l10-12l-7-8l-10 12z" fill="#fb3"/><path d="M2486 284l9-13l-7-8l-10 13z" fill="#fb4"/><path d="M2476 297l10-13l-8-8l-9 13z" fill="#eb3"/><path d="M2467 310l9-13l-7-8l-10 13z" fill="#db3"/><path d="M2457 324l10-14l-8-8l-9 14z" fill="#cb2"/><path d="M2448 338l9-14l-7-8l-10 14z" fill="#bc3"/><path d="M2438 352l10-14l-8-8l-9 14z" fill="#ac4"/><path d="M2428 366l10-14l-7-8l-10 14z" fill="#8c5"/><path d="M2419 379l9-13l-7-8l-9 13z" fill="#7c6"/><path d="M2409 393l10-14l-7-8l-10 14z" fill="#6c7"/><path d="M2400 405l9-12l-7-8l-9 13z" fill="#5c8"/><path d="M2390 418l10-13l-7-7l-10 12z" fill="#4c8"/><path d="M2381 429l9-11l-7-8l-10 12z" fill="#3c9"/><path d="M2371 440l10-11l-8-7l-9 10z" fill="#3ca"/><path d="M2362 450l9-10l-7-8l-10 10z" fill="#2ba"/><path d="M2352 459l10-9l-8-8l-9 9z" fill="#2bb"/><path d="M2343 467l9-8l-7-8l-10 9z" fill="#1bb"/><path d="M2333 474l10-7l-8-7l-9 7z" fill="#1bb"/><path d="M2323 480l10-6l-7-7l-10 5z" fill="#0bb"/><path d="M2314 485l9-5l-7-8l-9 5z" fill="#0bb"/><path d="M2304 488l10-3l-7-8l-10 4z" fill="#0bc"/><path d="M2295 491l9-3l-7-7l-10 2z" fill="#0bc"/><path d="M2285 492l10-1l-8-8l-9 1z" fill="#0bb"/><path d="M2276 492l9 0l-7-8l-10 0z" fill="#0bb"/><path d="M2266 491l10 1l-8-8l-9-1z" fill="#1bb"/><path d="M2257 488l9 3l-7-8l-10-2z" fill="#1bb"/><path d="M2247 485l10 3l-8-7l-9-4z" fill="#2ba"/><path d="M2238 481l9 4l-7-8l-10-4z" fill="#2ba"/><path d="M2228 476l10 5l-8-8l-9-5z" fill="#3c9"/><path d="M2218 470l10 6l-7-8l-10-6z" fill="#3c9"/><path d="M2209 463l9 7l-7-8l-9-7z" fill="#4c8"/><path d="M2199 455l10 8l-7-8l-10-7z" fill="#5c7"/><path d="M2190 447l9 8l-7-7l-10-8z" fill="#6c6"/><path d="M2180 439l10 8l-8-7l-9-9z" fill="#8c5"/><path d="M2171 431l9 8l-7-8l-10-8z" fill="#9c4"/><path d="M2161 422l10 9l-8-8l-9-9z" fill="#ac3"/><path d="M2152 413l9 9l-7-8l-10-9z" fill="#bb3"/><path d="M2142 404l10 9l-8-8l-9-8z" fill="#db2"/><path d="M2132 396l10 8l-7-7l-10-9z" fill="#eb3"/><path d="M2123 388l9 8l-7-8l-9-8z" fill="#eb3"/><path d="M2113 380l10 8l-7-8l-10-8z" fill="#fb4"/><path d="M2104 373l9 7l-7-8l-10-7z" fill="#fc3"/><path d="M2094 366l10 7l-8-8l-9-6z" fill="#fc3"/><path d="M2085 361l9 5l-7-7l-10-6z" fill="#fd3"/><path d="M2075 356l10 5l-8-8l-9-5z" fill="#fd2"/><path d="M2066 352l9 4l-7-8l-10-4z" fill="#ed2"/><path d="M2056 349l10 3l-8-8l-9-3z" fill="#ee2"/><path d="M2046 347l10 2l-7-8l-10-2z" fill="#ee2"/><path d="M2037 346l9 1l-7-8l-9 0z" fill="#ee2"/><path d="M2027 347l10-1l-7-7l-10 0z" fill="#ee2"/><path d="M2018 349l9-2l-7-8l-9 2z" fill="#ee2"/><path d="M2008 351l10-2l-7-8l-10 3z" fill="#ee2"/><path d="M1999 355l9-4l-7-7l-10 4z" fill="#ee2"/><path d="M1989 360l10-5l-8-7l-9 5z" fill="#ee2"/><path d="M1980 367l9-7l-7-7l-10 6z" fill="#ee2"/><path d="M1970 374l10-7l-8-8l-9 7z" fill="#ee2"/><path d="M1961 383l9-9l-7-8l-10 9z" fill="#ed2"/><path d="M1951 392l10-9l-8-8l-9 9z" fill="#fd3"/><path d="M1941 402l10-10l-7-8l-10 11z" fill="#fc3"/><path d="M1932 414l9-12l-7-7l-9 11z" fill="#fc3"/><path d="M2503 280l9-12l-7-9l-10 12z" fill="#fb4"/><path d="M2493 293l10-13l-8-9l-9 13z" fill="#eb3"/><path d="M2484 306l9-13l-7-9l-10 13z" fill="#eb3"/><path d="M2474 319l10-13l-8-9l-9 13z" fill="#db2"/><path d="M2464 333l10-14l-7-9l-10 14z" fill="#cb2"/><path d="M2455 347l9-14l-7-9l-9 14z" fill="#ac3"/><path d="M2445 361l10-14l-7-9l-10 14z" fill="#9c4"/><path d="M2436 374l9-13l-7-9l-10 14z" fill="#8c5"/><path d="M2426 388l10-14l-8-8l-9 13z" fill="#6c6"/><path d="M2417 401l9-13l-7-9l-10 14z" fill="#5c7"/><path d="M2407 414l10-13l-8-8l-9 12z" fill="#4c8"/><path d="M2398 427l9-13l-7-9l-10 13z" fill="#3c9"/><path d="M2388 438l10-11l-8-9l-9 11z" fill="#3ca"/><path d="M2379 449l9-11l-7-9l-10 11z" fill="#2ba"/><path d="M2369 459l10-10l-8-9l-9 10z" fill="#2ba"/><path d="M2359 468l10-9l-7-9l-10 9z" fill="#1bb"/><path d="M2350 476l9-8l-7-9l-9 8z" fill="#0bb"/><path d="M2340 483l10-7l-7-9l-10 7z" fill="#0bb"/><path d="M2331 489l9-6l-7-9l-10 6z" fill="#0bc"/><path d="M2321 494l10-5l-8-9l-9 5z" fill="#0bc"/><path d="M2312 497l9-3l-7-9l-10 3z" fill="#0bc"/><path d="M2302 500l10-3l-8-9l-9 3z" fill="#0bc"/><path d="M2293 501l9-1l-7-9l-10 1z" fill="#0bc"/><path d="M2283 501l10 0l-8-9l-9 0z" fill="#0bc"/><path d="M2273 499l10 2l-7-9l-10-1z" fill="#0bb"/><path d="M2264 497l9 2l-7-8l-9-3z" fill="#1bb"/><path d="M2254 494l10 3l-7-9l-10-3z" fill="#1bb"/><path d="M2245 490l9 4l-7-9l-9-4z" fill="#2ba"/><path d="M2235 484l10 6l-7-9l-10-5z" fill="#3ca"/><path d="M2226 478l9 6l-7-8l-10-6z" fill="#3c9"/><path d="M2216 472l10 6l-8-8l-9-7z" fill="#4c9"/><path d="M2207 464l9 8l-7-9l-10-8z" fill="#4c8"/><path d="M2197 456l10 8l-8-9l-9-8z" fill="#6c7"/><path d="M2188 448l9 8l-7-9l-10-8z" fill="#7c6"/><path d="M2178 439l10 9l-8-9l-9-8z" fill="#8c5"/><path d="M2168 431l10 8l-7-8l-10-9z" fill="#ac4"/><path d="M2159 422l9 9l-7-9l-9-9z" fill="#bc3"/><path d="M2149 413l10 9l-7-9l-10-9z" fill="#cb2"/><path d="M2140 405l9 8l-7-9l-10-8z" fill="#db2"/><path d="M2130 397l10 8l-8-9l-9-8z" fill="#eb3"/><path d="M2121 389l9 8l-7-9l-10-8z" fill="#fb4"/><path d="M2111 382l10 7l-8-9l-9-7z" fill="#fb3"/><path d="M2102 375l9 7l-7-9l-10-7z" fill="#fc3"/><path d="M2092 369l10 6l-8-9l-9-5z" fill="#fc3"/><path d="M2082 365l10 4l-7-8l-10-5z" fill="#fd3"/><path d="M2073 361l9 4l-7-9l-9-4z" fill="#ed2"/><path d="M2063 358l10 3l-7-9l-10-3z" fill="#ed2"/><path d="M2054 356l9 2l-7-9l-10-2z" fill="#ee2"/><path d="M2044 355l10 1l-8-9l-9-1z" fill="#ee2"/><path d="M2035 356l9-1l-7-9l-10 1z" fill="#ee2"/><path d="M2025 357l10-1l-8-9l-9 2z" fill="#ee2"/><path d="M2016 360l9-3l-7-8l-10 2z" fill="#ee2"/><path d="M2006 364l10-4l-8-9l-9 4z" fill="#ee2"/><path d="M1997 369l9-5l-7-9l-10 5z" fill="#ee2"/><path d="M1987 376l10-7l-8-9l-9 7z" fill="#ee2"/><path d="M1977 383l10-7l-7-9l-10 7z" fill="#ed2"/><path d="M1968 392l9-9l-7-9l-9 9z" fill="#fd2"/><path d="M1958 401l10-9l-7-9l-10 9z" fill="#fd3"/><path d="M1949 411l9-10l-7-9l-10 10z" fill="#fc3"/><path d="M1939 422l10-11l-8-9l-9 12z" fill="#fc3"/><path d="M2510 290l10-12l-8-10l-9 12z" fill="#fb4"/><path d="M2500 302l10-12l-7-10l-10 13z" fill="#eb3"/><path d="M2491 315l9-13l-7-9l-9 13z" fill="#db2"/><path d="M2481 329l10-14l-7-9l-10 13z" fill="#cb2"/><path d="M2472 343l9-14l-7-10l-10 14z" fill="#bc3"/><path d="M2462 356l10-13l-8-10l-9 14z" fill="#ac4"/><path d="M2453 370l9-14l-7-9l-10 14z" fill="#8c5"/><path d="M2443 384l10-14l-8-9l-9 13z" fill="#7c6"/><path d="M2434 398l9-14l-7-10l-10 14z" fill="#6c7"/><path d="M2424 411l10-13l-8-10l-9 13z" fill="#4c8"/><path d="M2415 424l9-13l-7-10l-10 13z" fill="#3c9"/><path d="M2405 436l10-12l-8-10l-9 13z" fill="#3c9"/><path d="M2395 448l10-12l-7-9l-10 11z" fill="#2ba"/><path d="M2386 459l9-11l-7-10l-9 11z" fill="#2ba"/><path d="M2376 469l10-10l-7-10l-10 10z" fill="#1bb"/><path d="M2367 478l9-9l-7-10l-10 9z" fill="#0bb"/><path d="M2357 486l10-8l-8-10l-9 8z" fill="#0bc"/><path d="M2348 493l9-7l-7-10l-10 7z" fill="#0bc"/><path d="M2338 499l10-6l-8-10l-9 6z" fill="#0bc"/><path d="M2329 503l9-4l-7-10l-10 5z" fill="#0bc"/><path d="M2319 507l10-4l-8-9l-9 3z" fill="#0bc"/><path d="M2309 509l10-2l-7-10l-10 3z" fill="#0bc"/><path d="M2300 510l9-1l-7-9l-9 1z" fill="#0bc"/><path d="M2290 510l10 0l-7-9l-10 0z" fill="#0bc"/><path d="M2281 509l9 1l-7-9l-10-2z" fill="#0bc"/><path d="M2271 507l10 2l-8-10l-9-2z" fill="#0bb"/><path d="M2262 504l9 3l-7-10l-10-3z" fill="#1bb"/><path d="M2252 499l10 5l-8-10l-9-4z" fill="#1bb"/><path d="M2243 494l9 5l-7-9l-10-6z" fill="#2ba"/><path d="M2233 488l10 6l-8-10l-9-6z" fill="#3ca"/><path d="M2224 481l9 7l-7-10l-10-6z" fill="#3c9"/><path d="M2214 474l10 7l-8-9l-9-8z" fill="#4c8"/><path d="M2204 466l10 8l-7-10l-10-8z" fill="#5c7"/><path d="M2195 458l9 8l-7-10l-9-8z" fill="#6c6"/><path d="M2185 449l10 9l-7-10l-10-9z" fill="#7c5"/><path d="M2176 441l9 8l-7-10l-10-8z" fill="#9c4"/><path d="M2166 432l10 9l-8-10l-9-9z" fill="#ac3"/><path d="M2157 423l9 9l-7-10l-10-9z" fill="#bb3"/><path d="M2147 415l10 8l-8-10l-9-8z" fill="#db2"/><path d="M2138 406l9 9l-7-10l-10-8z" fill="#db3"/><path d="M2128 399l10 7l-8-9l-9-8z" fill="#eb3"/><path d="M2118 392l10 7l-7-10l-10-7z" fill="#fb4"/><path d="M2109 385l9 7l-7-10l-9-7z" fill="#fc3"/><path d="M2099 379l10 6l-7-10l-10-6z" fill="#fc3"/><path d="M2090 374l9 5l-7-10l-10-4z" fill="#fc3"/><path d="M2080 371l10 3l-8-9l-9-4z" fill="#fd3"/><path d="M2071 368l9 3l-7-10l-10-3z" fill="#fd2"/><path d="M2061 366l10 2l-8-10l-9-2z" fill="#ed2"/><path d="M2052 365l9 1l-7-10l-10-1z" fill="#ed2"/><path d="M2042 366l10-1l-8-10l-9 1z" fill="#ee2"/><path d="M2033 367l9-1l-7-10l-10 1z" fill="#ee2"/><path d="M2023 370l10-3l-8-10l-9 3z" fill="#ee2"/><path d="M2013 374l10-4l-7-10l-10 4z" fill="#ee2"/><path d="M2004 379l9-5l-7-10l-9 5z" fill="#ed2"/><path d="M1994 385l10-6l-7-10l-10 7z" fill="#ed2"/><path d="M1985 393l9-8l-7-9l-10 7z" fill="#fd2"/><path d="M1975 401l10-8l-8-10l-9 9z" fill="#fd3"/><path d="M1966 411l9-10l-7-9l-10 9z" fill="#fc3"/><path d="M1956 421l10-10l-8-10l-9 10z" fill="#fc3"/><path d="M1947 432l9-11l-7-10l-10 11z" fill="#fb3"/><path d="M2517 301l10-12l-7-11l-10 12z" fill="#eb3"/><path d="M2508 313l9-12l-7-11l-10 12z" fill="#db3"/><path d="M2498 326l10-13l-8-11l-9 13z" fill="#cb2"/><path d="M2489 340l9-14l-7-11l-10 14z" fill="#bb3"/><path d="M2479 353l10-13l-8-11l-9 14z" fill="#ac3"/><path d="M2470 367l9-14l-7-10l-10 13z" fill="#9c4"/><path d="M2460 381l10-14l-8-11l-9 14z" fill="#7c5"/><path d="M2451 395l9-14l-7-11l-10 14z" fill="#6c6"/><path d="M2441 409l10-14l-8-11l-9 14z" fill="#5c7"/><path d="M2431 422l10-13l-7-11l-10 13z" fill="#4c8"/><path d="M2422 435l9-13l-7-11l-9 13z" fill="#3c9"/><path d="M2412 447l10-12l-7-11l-10 12z" fill="#3ca"/><path d="M2403 459l9-12l-7-11l-10 12z" fill="#2ba"/><path d="M2393 470l10-11l-8-11l-9 11z" fill="#1bb"/><path d="M2384 480l9-10l-7-11l-10 10z" fill="#0bb"/><path d="M2374 489l10-9l-8-11l-9 9z" fill="#0bc"/><path d="M2365 497l9-8l-7-11l-10 8z" fill="#0bc"/><path d="M2355 504l10-7l-8-11l-9 7z" fill="#0bc"/><path d="M2345 510l10-6l-7-11l-10 6z" fill="#1bc"/><path d="M2336 514l9-4l-7-11l-9 4z" fill="#1ad"/><path d="M2326 518l10-4l-7-11l-10 4z" fill="#1ad"/><path d="M2317 520l9-2l-7-11l-10 2z" fill="#1ad"/><path d="M2307 521l10-1l-8-11l-9 1z" fill="#1ac"/><path d="M2298 521l9 0l-7-11l-10 0z" fill="#1bc"/><path d="M2288 520l10 1l-8-11l-9-1z" fill="#0bc"/><path d="M2279 518l9 2l-7-11l-10-2z" fill="#0bc"/><path d="M2269 515l10 3l-8-11l-9-3z" fill="#0bc"/><path d="M2260 510l9 5l-7-11l-10-5z" fill="#1bb"/><path d="M2250 505l10 5l-8-11l-9-5z" fill="#1bb"/><path d="M2240 499l10 6l-7-11l-10-6z" fill="#2ba"/><path d="M2231 492l9 7l-7-11l-9-7z" fill="#3ca"/><path d="M2221 485l10 7l-7-11l-10-7z" fill="#3c9"/><path d="M2212 477l9 8l-7-11l-10-8z" fill="#4c8"/><path d="M2202 469l10 8l-8-11l-9-8z" fill="#5c7"/><path d="M2193 460l9 9l-7-11l-10-9z" fill="#6c6"/><path d="M2183 451l10 9l-8-11l-9-8z" fill="#8c5"/><path d="M2174 442l9 9l-7-10l-10-9z" fill="#9c4"/><path d="M2164 434l10 8l-8-10l-9-9z" fill="#bc3"/><path d="M2154 425l10 9l-7-11l-10-8z" fill="#cb2"/><path d="M2145 417l9 8l-7-10l-9-9z" fill="#db2"/><path d="M2135 409l10 8l-7-11l-10-7z" fill="#eb3"/><path d="M2126 402l9 7l-7-10l-10-7z" fill="#eb3"/><path d="M2116 396l10 6l-8-10l-9-7z" fill="#fb4"/><path d="M2107 390l9 6l-7-11l-10-6z" fill="#fc3"/><path d="M2097 385l10 5l-8-11l-9-5z" fill="#fc3"/><path d="M2088 381l9 4l-7-11l-10-3z" fill="#fc3"/><path d="M2078 378l10 3l-8-10l-9-3z" fill="#fd3"/><path d="M2069 377l9 1l-7-10l-10-2z" fill="#fd3"/><path d="M2059 376l10 1l-8-11l-9-1z" fill="#ed2"/><path d="M2049 376l10 0l-7-11l-10 1z" fill="#ed2"/><path d="M2040 378l9-2l-7-10l-9 1z" fill="#ed2"/><path d="M2030 381l10-3l-7-11l-10 3z" fill="#ed2"/><path d="M2021 385l9-4l-7-11l-10 4z" fill="#ed2"/><path d="M2011 390l10-5l-8-11l-9 5z" fill="#fd2"/><path d="M2002 396l9-6l-7-11l-10 6z" fill="#fd3"/><path d="M1992 404l10-8l-8-11l-9 8z" fill="#fc3"/><path d="M1983 412l9-8l-7-11l-10 8z" fill="#fc3"/><path d="M1973 422l10-10l-8-11l-9 10z" fill="#fc3"/><path d="M1963 432l10-10l-7-11l-10 10z" fill="#fb3"/><path d="M1954 443l9-11l-7-11l-9 11z" fill="#fb4"/><path d="M2525 312l9-12l-7-11l-10 12z" fill="#eb3"/><path d="M2515 325l10-13l-8-11l-9 12z" fill="#db2"/><path d="M2506 338l9-13l-7-12l-10 13z" fill="#cb2"/><path d="M2496 351l10-13l-8-12l-9 14z" fill="#ac3"/><path d="M2487 365l9-14l-7-11l-10 13z" fill="#9c4"/><path d="M2477 379l10-14l-8-12l-9 14z" fill="#8c5"/><path d="M2467 393l10-14l-7-12l-10 14z" fill="#6c6"/><path d="M2458 407l9-14l-7-12l-9 14z" fill="#5c7"/><path d="M2448 420l10-13l-7-12l-10 14z" fill="#4c8"/><path d="M2439 434l9-14l-7-11l-10 13z" fill="#3c9"/><path d="M2429 446l10-12l-8-12l-9 13z" fill="#3ca"/><path d="M2420 459l9-13l-7-11l-10 12z" fill="#2ba"/><path d="M2410 470l10-11l-8-12l-9 12z" fill="#1bb"/><path d="M2401 481l9-11l-7-11l-10 11z" fill="#0bb"/><path d="M2391 491l10-10l-8-11l-9 10z" fill="#0bc"/><path d="M2381 500l10-9l-7-11l-10 9z" fill="#0bc"/><path d="M2372 508l9-8l-7-11l-9 8z" fill="#1bc"/><path d="M2362 515l10-7l-7-11l-10 7z" fill="#1ad"/><path d="M2353 521l9-6l-7-11l-10 6z" fill="#1ad"/><path d="M2343 526l10-5l-8-11l-9 4z" fill="#1ad"/><path d="M2334 529l9-3l-7-12l-10 4z" fill="#1ad"/><path d="M2324 532l10-3l-8-11l-9 2z" fill="#1ad"/><path d="M2315 533l9-1l-7-12l-10 1z" fill="#1ad"/><path d="M2305 533l10 0l-8-12l-9 0z" fill="#1ad"/><path d="M2296 532l9 1l-7-12l-10-1z" fill="#1ad"/><path d="M2286 529l10 3l-8-12l-9-2z" fill="#1bc"/><path d="M2276 526l10 3l-7-11l-10-3z" fill="#0bc"/><path d="M2267 522l9 4l-7-11l-9-5z" fill="#0bc"/><path d="M2257 517l10 5l-7-12l-10-5z" fill="#1bb"/><path d="M2248 511l9 6l-7-12l-10-6z" fill="#1bb"/><path d="M2238 504l10 7l-8-12l-9-7z" fill="#2ba"/><path d="M2229 496l9 8l-7-12l-10-7z" fill="#3c9"/><path d="M2219 489l10 7l-8-11l-9-8z" fill="#3c9"/><path d="M2210 480l9 9l-7-12l-10-8z" fill="#4c8"/><path d="M2200 472l10 8l-8-11l-9-9z" fill="#6c7"/><path d="M2190 463l10 9l-7-12l-10-9z" fill="#7c6"/><path d="M2181 454l9 9l-7-12l-9-9z" fill="#8c5"/><path d="M2171 445l10 9l-7-12l-10-8z" fill="#ac4"/><path d="M2162 437l9 8l-7-11l-10-9z" fill="#bc3"/><path d="M2152 429l10 8l-8-12l-9-8z" fill="#cb2"/><path d="M2143 421l9 8l-7-12l-10-8z" fill="#db2"/><path d="M2133 414l10 7l-8-12l-9-7z" fill="#eb3"/><path d="M2124 407l9 7l-7-12l-10-6z" fill="#fb4"/><path d="M2114 402l10 5l-8-11l-9-6z" fill="#fb4"/><path d="M2105 397l9 5l-7-12l-10-5z" fill="#fc3"/><path d="M2095 393l10 4l-8-12l-9-4z" fill="#fc3"/><path d="M2085 390l10 3l-7-12l-10-3z" fill="#fc3"/><path d="M2076 388l9 2l-7-12l-9-1z" fill="#fc3"/><path d="M2066 388l10 0l-7-11l-10-1z" fill="#fd3"/><path d="M2057 388l9 0l-7-12l-10 0z" fill="#fd3"/><path d="M2047 390l10-2l-8-12l-9 2z" fill="#fd3"/><path d="M2038 392l9-2l-7-12l-10 3z" fill="#fd3"/><path d="M2028 396l10-4l-8-11l-9 4z" fill="#fd3"/><path d="M2019 402l9-6l-7-11l-10 5z" fill="#fd3"/><path d="M2009 408l10-6l-8-12l-9 6z" fill="#fc3"/><path d="M1999 415l10-7l-7-12l-10 8z" fill="#fc3"/><path d="M1990 424l9-9l-7-11l-9 8z" fill="#fc3"/><path d="M1980 433l10-9l-7-12l-10 10z" fill="#fb3"/><path d="M1971 444l9-11l-7-11l-10 10z" fill="#fb4"/><path d="M1961 455l10-11l-8-12l-9 11z" fill="#eb3"/><path d="M2532 325l10-12l-8-13l-9 12z" fill="#db2"/><path d="M2522 337l10-12l-7-13l-10 13z" fill="#cb2"/><path d="M2513 350l9-13l-7-12l-9 13z" fill="#bc3"/><path d="M2503 364l10-14l-7-12l-10 13z" fill="#9c4"/><path d="M2494 377l9-13l-7-13l-9 14z" fill="#8c5"/><path d="M2484 391l10-14l-7-12l-10 14z" fill="#7c6"/><path d="M2475 405l9-14l-7-12l-10 14z" fill="#5c7"/><path d="M2465 419l10-14l-8-12l-9 14z" fill="#4c8"/><path d="M2456 433l9-14l-7-12l-10 13z" fill="#3c9"/><path d="M2446 446l10-13l-8-13l-9 14z" fill="#3ca"/><path d="M2437 459l9-13l-7-12l-10 12z" fill="#2ba"/><path d="M2427 471l10-12l-8-13l-9 13z" fill="#1bb"/><path d="M2417 483l10-12l-7-12l-10 11z" fill="#0bb"/><path d="M2408 494l9-11l-7-13l-9 11z" fill="#0bc"/><path d="M2398 504l10-10l-7-13l-10 10z" fill="#1bc"/><path d="M2389 513l9-9l-7-13l-10 9z" fill="#1ad"/><path d="M2379 521l10-8l-8-13l-9 8z" fill="#1ad"/><path d="M2370 528l9-7l-7-13l-10 7z" fill="#2ad"/><path d="M2360 534l10-6l-8-13l-9 6z" fill="#2ad"/><path d="M2351 538l9-4l-7-13l-10 5z" fill="#2ad"/><path d="M2341 542l10-4l-8-12l-9 3z" fill="#2ad"/><path d="M2332 544l9-2l-7-13l-10 3z" fill="#2ad"/><path d="M2322 545l10-1l-8-12l-9 1z" fill="#2ad"/><path d="M2312 545l10 0l-7-12l-10 0z" fill="#2ad"/><path d="M2303 544l9 1l-7-12l-9-1z" fill="#1ad"/><path d="M2293 542l10 2l-7-12l-10-3z" fill="#1ad"/><path d="M2284 539l9 3l-7-13l-10-3z" fill="#1ac"/><path d="M2274 534l10 5l-8-13l-9-4z" fill="#0bc"/><path d="M2265 529l9 5l-7-12l-10-5z" fill="#0bc"/><path d="M2255 523l10 6l-8-12l-9-6z" fill="#0bb"/><path d="M2246 516l9 7l-7-12l-10-7z" fill="#1bb"/><path d="M2236 509l10 7l-8-12l-9-8z" fill="#2ba"/><path d="M2226 501l10 8l-7-13l-10-7z" fill="#3c9"/><path d="M2217 493l9 8l-7-12l-9-9z" fill="#4c9"/><path d="M2207 484l10 9l-7-13l-10-8z" fill="#5c8"/><path d="M2198 475l9 9l-7-12l-10-9z" fill="#6c7"/><path d="M2188 467l10 8l-8-12l-9-9z" fill="#7c6"/><path d="M2179 458l9 9l-7-13l-10-9z" fill="#9c4"/><path d="M2169 449l10 9l-8-13l-9-8z" fill="#ac3"/><path d="M2160 441l9 8l-7-12l-10-8z" fill="#bc3"/><path d="M2150 433l10 8l-8-12l-9-8z" fill="#cb2"/><path d="M2140 426l10 7l-7-12l-10-7z" fill="#db2"/><path d="M2131 420l9 6l-7-12l-9-7z" fill="#eb3"/><path d="M2121 414l10 6l-7-13l-10-5z" fill="#eb3"/><path d="M2112 409l9 5l-7-12l-9-5z" fill="#fb4"/><path d="M2102 405l10 4l-7-12l-10-4z" fill="#fb3"/><path d="M2093 402l9 3l-7-12l-10-3z" fill="#fc3"/><path d="M2083 401l10 1l-8-12l-9-2z" fill="#fc3"/><path d="M2074 400l9 1l-7-13l-10 0z" fill="#fc3"/><path d="M2064 400l10 0l-8-12l-9 0z" fill="#fc3"/><path d="M2055 402l9-2l-7-12l-10 2z" fill="#fc3"/><path d="M2045 405l10-3l-8-12l-9 2z" fill="#fc3"/><path d="M2035 409l10-4l-7-13l-10 4z" fill="#fc3"/><path d="M2026 414l9-5l-7-13l-9 6z" fill="#fc3"/><path d="M2016 420l10-6l-7-12l-10 6z" fill="#fc3"/><path d="M2007 428l9-8l-7-12l-10 7z" fill="#fc3"/><path d="M1997 436l10-8l-8-13l-9 9z" fill="#fb3"/><path d="M1988 446l9-10l-7-12l-10 9z" fill="#fb4"/><path d="M1978 456l10-10l-8-13l-9 11z" fill="#eb3"/><path d="M1969 467l9-11l-7-12l-10 11z" fill="#eb3"/></g>
<path d="M764.1 309.2L984.3 409.8L1270.8 332.6M764.1 309.2L764.1 87.5M984.3 409.8L990.7 412.7M984.3 409.8L977.5 411.6M1055.9 390.5L1062.3 393.4M929.2 384.6L922.5 386.5M1127.5 371.2L1133.9 374.1M874.2 359.5L867.4 361.3M1199.2 351.9L1205.5 354.8M819.1 334.4L812.4 336.2M1270.8 332.6L1277.2 335.5M764.1 309.2L757.3 311M764.1 309.2L757.7 306.3M764.1 257.5L757.7 254.6M764.1 205.8L757.7 202.9M764.1 154.1L757.7 151.2M764.1 102.4L757.7 99.5" fill="none" stroke="#303030" stroke-width="1.15"/>
<text x="747.1" y="315.6" text-anchor="end" style="font-family:'Liberation Sans',Arial,sans-serif;font-size:27.6px" fill="#262626">-4</text>
<text x="747.1" y="263.9" text-anchor="end" style="font-family:'Liberation Sans',Arial,sans-serif;font-size:27.6px" fill="#262626">-2</text>
<text x="747.1" y="212.2" text-anchor="end" style="font-family:'Liberation Sans',Arial,sans-serif;font-size:27.6px" fill="#262626">0</text>
<text x="747.1" y="160.5" text-anchor="end" style="font-family:'Liberation Sans',Arial,sans-serif;font-size:27.6px" fill="#262626">2</text>
<text x="747.1" y="108.8" text-anchor="end" style="font-family:'Liberation Sans',Arial,sans-serif;font-size:27.6px" fill="#262626">4</text>
<text x="998.8" y="445.4" style="font-family:'Liberation Sans',Arial,sans-serif;font-size:27.6px" fill="#262626">0</text>
<text x="967.8" y="443.6" text-anchor="end" style="font-family:'Liberation Sans',Arial,sans-serif;font-size:27.6px" fill="#262626">0</text>
<text x="1070.4" y="426.1" style="font-family:'Liberation Sans',Arial,sans-serif;font-size:27.6px" fill="#262626">pi/2</text>
<text x="912.7" y="418.5" text-anchor="end" style="font-family:'Liberation Sans',Arial,sans-serif;font-size:27.6px" fill="#262626">pi/2</text>
<text x="1142.1" y="406.8" style="font-family:'Liberation Sans',Arial,sans-serif;font-size:27.6px" fill="#262626">pi</text>
<text x="857.7" y="393.3" text-anchor="end" style="font-family:'Liberation Sans',Arial,sans-serif;font-size:27.6px" fill="#262626">pi</text>
<text x="1213.7" y="387.5" style="font-family:'Liberation Sans',Arial,sans-serif;font-size:27.6px" fill="#262626">3pi/2</text>
<text x="802.6" y="368.2" text-anchor="end" style="font-family:'Liberation Sans',Arial,sans-serif;font-size:27.6px" fill="#262626">3pi/2</text>
<text x="1285.3" y="368.2" style="font-family:'Liberation Sans',Arial,sans-serif;font-size:27.6px" fill="#262626">2pi</text>
<text x="747.6" y="343" text-anchor="end" style="font-family:'Liberation Sans',Arial,sans-serif;font-size:27.6px" fill="#262626">2pi</text>
<text transform="translate(1142.5 459.2) rotate(-12.5)" text-anchor="middle" style="font-family:'Liberation Serif','Times New Roman',serif;font-size:29px" fill="#000" stroke="#000" stroke-width=".2">2<tspan font-style="italic">α</tspan><tspan dy="5.8" font-size="18">1</tspan><tspan dy="-5.8">/rad</tspan></text>
<text transform="translate(796.1 425.1) rotate(35)" text-anchor="middle" style="font-family:'Liberation Serif','Times New Roman',serif;font-size:27.6px" fill="#000" stroke="#000" stroke-width=".2">2<tspan font-style="italic">α</tspan><tspan dy="5.8" font-size="17.1">2</tspan><tspan dy="-5.8" dx="3">/rad</tspan></text>
<text transform="translate(688 209.7) rotate(-90)" text-anchor="middle" style="font-family:'Liberation Serif','Times New Roman',serif;font-size:26px" fill="#000" stroke="#000" stroke-width=".2"><tspan font-style="italic">T</tspan><tspan font-style="italic" dy="5.2" font-size="16.1">e</tspan><tspan font-size="16.1">02</tspan><tspan dy="-5.2" dx="1.5"> / (Nm)</tspan></text>
<text x="1028" y="580" text-anchor="middle" style="font-family:'Liberation Serif','Times New Roman',serif;font-size:51px" fill="#000" stroke="#000" stroke-width=".5">(b)</text>
</g>
<g>
<path d="M1734.2 389.3L1511.5 287.5M1606.2 383.4L1895.5 305.1M1806.6 369.7L1583.9 267.9M1550.6 358L1839.8 279.6M1878.9 350.1L1656.2 248.3M1494.9 332.6L1784.2 254.2M1951.2 330.5L1728.5 228.7M1439.2 307.1L1728.5 228.7M1951.2 330.5L1951.2 106.2M1511.5 287.5L1511.5 63.2M1895.5 305.1L1895.5 80.8M1583.9 267.9L1583.9 43.6M1839.8 279.6L1839.8 55.3M1656.2 248.3L1656.2 24M1784.2 254.2L1784.2 29.9M1728.5 228.7L1728.5 4.4M1439.2 254.7L1728.5 176.3L1951.2 278.1M1439.2 202.3L1728.5 123.9L1951.2 225.7M1439.2 149.9L1728.5 71.5L1951.2 173.3M1439.2 97.5L1728.5 19.1L1951.2 120.9" fill="none" stroke="#cbcbcb" stroke-width="1.1"/>
<path d="M1826.8 273.6l-18.6 1.1l-16.8 0.5l-15.2 0l-17.9-0.5l-11.8-0.9l-10.3-1.2l-8.7-1.7l-4.7-1.5l-1.9-0.8l-1.6-0.9l-1.1-1.1l-0.5-1.2l0.4-1.1l1.2-1.2l1.7-1l1.9-0.8l4.5-1.5l5-1.2l5.4-1.1l11.5-1.8l15.4-1.7l16.2-1.3M1491.6 331.1l17.3-1l16.9-0.5l20 0l13.4 0.4l11.9 0.8l10.4 1.2l8.8 1.7l4.9 1.4l2 0.8l1.6 0.9l1.3 1l0.6 1.2l-0.3 1.4l-1.3 1.2l-1.6 1l-2 0.8l-4.5 1.5l-10.3 2.3l-11.5 1.8l-15.4 1.7l-16.3 1.3" fill="none" stroke="#4743e7" stroke-width="1.05"/>
<path d="M1838.5 279l-27.2 1.6l-28.7 1l-25.6 0.2l-18.3-0.5l-12.4-0.7l-7.6-0.6l-7.1-0.8l-9.8-1.4l-8.6-1.7l-5.2-1.3l-4.6-1.5l-4-1.6l-3.4-1.8l-1.4-0.9l-1-1.1l-0.9-1.5l-0.2-0.9l0.2-0.9l0.8-1.3l1.3-1.2l1.7-1l3.9-1.7l4.5-1.5l5-1.2l8-1.6l8.4-1.4l11.9-1.6l23-2.5l28.1-2.3M1480 325.7l27.2-1.6l27.3-0.9l25.8-0.3l18.4 0.4l8.5 0.5l11.7 0.8l7.2 0.8l9.8 1.4l8.7 1.7l5.2 1.3l4.7 1.4l4.1 1.6l3.5 1.7l2.6 2l1.1 1.8l0.1 0.6l-0.1 1.2l-0.9 1.4l-0.6 0.5l-2.3 1.6l-3.9 1.7l-4.6 1.5l-4.9 1.2l-8 1.6l-8.5 1.4l-11.8 1.7l-24.9 2.6l-26.2 2.1" fill="none" stroke="#3f6eff" stroke-width="1.05"/>
<path d="M1848 283.3l-40.9 2.5l-35.5 1.5l-16.5 0.4l-15.5 0.1l-23.2-0.4l-8.4-0.4l-11.5-1l-10.5-1.2l-9.3-1.5l-8.5-1.8l-7.6-2l-9.1-2.9l-6-2.4l-5.2-2.7l-4.1-2.9l-2.1-2.3l-0.5-1.1l-0.3-1.2l0.3-1.5l0.9-1.3l1.4-1.1l3.5-1.9l6.7-2.2l7.6-1.8l8.2-1.5l11.6-1.7l12.1-1.5l15.6-1.7l19.2-1.8l39.4-3M1470.5 321.4l39.4-2.4l35.7-1.5l16.5-0.5l15.5-0.1l23.5 0.4l8.4 0.4l11.6 0.9l10.5 1.2l9.5 1.5l8.5 1.7l7.7 2l7 2.2l8.2 3.2l5.2 2.6l4.3 2.9l2.1 2.1l0.7 1.2l0.4 1.3l-0.3 1.7l-1 1.3l-1.3 1.1l-3.5 1.9l-6.7 2.2l-7.6 1.8l-8.3 1.5l-11.6 1.7l-12.1 1.5l-15.5 1.7l-19.2 1.8l-39.4 3" fill="none" stroke="#2798ea" stroke-width="1.05"/>
<path d="M1816.3 367.1l-2.6-2l-1.9-1.8l-1-1.5l-0.3-1.3l0.3-1.1l1.1-1.3l1.7-1l4.3-1.5l5-1.2l5.5-1l14.9-2l18.8-1.9l28.1-2.5M1856.6 287.3l-72.2 4.6l-49.5 2.6l-17.2 0.6l-15.8 0.3l-14.1-0.3l-8.2-0.4l-10.8-1.2l-9.1-1.6l-10.5-2.5l-9.3-2.9l-12.6-4.7l-13.5-5.8l-12.4-6.1l-7.8-4.6M1461.9 317.5l64.2-4.2l50.1-2.8l17.6-0.7l16.4-0.4l14.9 0l8.8 0.3l11.5 1l6.7 0.9l6 1l8.1 1.9l9.6 2.8l8.7 3l10.2 4l9.5 4.2l9 4.3l8.3 4.5l4.4 2.9l3.4 3l0.9 1.2l0.4 1.1l-0.2 1.7l-1.1 1.2l-1.7 1l-4.3 1.6l-7.8 1.7l-8.6 1.3l-12.1 1.5l-15.7 1.6l-45.5 3.8l-66.3 4.8M1667.5 245.2l37.1-2.8l46.6-3.3" fill="none" stroke="#02b7cb" stroke-width="1.05"/>
<path d="M1791.1 373.9l-6.7-2.2l-7.3-2.1l-7.9-1.9l-8.8-1.7l-10-1.4l-7.4-0.7l-8-0.5l-13.4-0.4l-25.5 0.2l-28.6 1l-43.3 2.2l-48.4 3.1M1865.1 291.1l-46.4 3.4l-38.8 3.3l-28.1 3l-17.4 2.6l-7.9 1.6l-4.7 1.4l-3.9 1.7l-1.5 1.1l-1.1 1.3l-0.3 1.6l0.7 2l2.3 2.6l2.5 2l3 1.9l6.6 3.6l9.2 4.3l10.3 3.9l9 3l10 2.7l11.5 2.3l9.8 1.4l11.2 1l8.3 0.4l13.8 0.4l15.2-0.1l33.9-1.1l43.2-2.2M1453.4 313.6l59.4-4.4l22.6-2l19-1.9l15.3-1.8l11.6-1.7l8.1-1.5l7.3-2l3.9-1.7l1.7-1.3l0.8-1l0.2-0.6l0.2-1l-0.5-1.6l-0.7-1.2l-2.1-2.1l-2.6-2l-3-1.9l-6.6-3.6l-9.3-4.2l-10.3-4M1692.8 238.4l49.9-3.2" fill="none" stroke="#3ac994" stroke-width="1.05"/>
<path d="M1768.9 379.9l-6.8-2.2l-7.7-2l-8.6-1.7l-6.3-1l-10.2-1.3l-7.4-0.7l-12.1-0.8l-8.7-0.3l-23.9-0.3l-26.9 0.6l-29.5 1.2l-36.2 2.2M1873.9 295.2l-32.9 2.5l-28.5 2.8l-12.1 1.4l-11.7 1.7l-8.4 1.4l-7.9 1.7l-7.1 2l-4 1.6l-1.8 1l-1.4 1.1l-1.1 1.3l-0.3 0.6l-0.3 1.4l0.3 1.3l0.7 1.2l2.1 2.1l2.9 1.9l3.4 1.8l5.9 2.4l6.8 2.3l7.7 1.9l8.5 1.8l9.4 1.5l10.5 1.2l7.6 0.6l12.4 0.7l8.9 0.3l14.3 0.2l15.3-0.1l27.9-0.8l36.6-1.8M1444.6 309.6l36.1-2.9l31.3-3.2l12-1.5l11.4-1.8l8.1-1.6l7.4-1.9l4.4-1.5l3.7-1.8l1.4-1.1l1.1-1.3l0.4-0.9l0.1-1.4l-0.4-1.3l-0.7-1.1l-1.5-1.5l-2.2-1.6l-5-2.7l-6-2.4M1714.9 232.4l19-1.2" fill="none" stroke="#9cc944" stroke-width="1.05"/>
<path d="M1743 386.9l-3.1-1.9l-3.9-1.6l-4.6-1.4l-8.1-1.9l-12.7-2l-10.9-1.1l-7.9-0.5l-21.9-0.8l-20.2 0l-27.9 0.8l-27.3 1.6M1657.4 406.8l16.9-1.2M1883.8 299.7l-26.1 2.1l-18.6 2l-17.4 2.6l-8 1.6l-5 1.2l-4.6 1.5l-4 1.7l-2.4 1.6l-1.3 1.7l0 1.4l0.2 0.7l1.3 1.5l1.3 1l3.4 1.8l4.3 1.6l4.8 1.4l5.5 1.2l6 1.1l13.6 1.7l11.6 0.9l8.3 0.4l18.4 0.5l20.4-0.2l23.8-0.7l27.4-1.6M1451.6 303.8l15.5-1.5l18.2-2.2l14.2-2.3l10.3-2.3l6.6-2.2l1.9-0.9l1.7-1l1.3-1.1l0.8-1.6l-0.1-1.3l-0.6-1.2l-1.1-1.1" fill="none" stroke="#f3ba38" stroke-width="1.05"/>
<path d="M1644.3 400.8l13-1l12.2-1.5l8.6-1.3l7.8-1.7l4.5-1.4l1.9-0.9l1.6-1.1l0.8-1.3l-0.6-1.2l-1.3-1l-1.9-0.9l-4.8-1.4l-9.2-1.5l-7.3-0.8l-12.3-0.7l-14-0.3l-10.3 0.2l-11.7 0.3l-13.7 0.8M1896.9 305.7l-13 1.1l-12.3 1.4l-8.5 1.3l-7.8 1.7l-4.6 1.5l-1.9 0.8l-1.5 1.1l-0.7 1l0.3 1.3l1.1 1l1.8 0.9l4.6 1.4l9.1 1.6l7.1 0.8l12.2 0.8l13.9 0.3l10.2-0.1l13-0.4l13.7-0.8" fill="none" stroke="#f5e228" stroke-width="1.05"/>
<g transform="scale(0.5)" stroke="#000" stroke-width="2.2" stroke-linejoin="round"><path d="M3455 149l9-13l-7-23l-9 13z" fill="#9c4"/><path d="M3446 162l9-13l-7-23l-10 12z" fill="#8c5"/><path d="M3436 175l10-13l-8-24l-9 14z" fill="#7c6"/><path d="M3427 189l9-14l-7-23l-9 13z" fill="#5c7"/><path d="M3418 203l9-14l-7-24l-10 14z" fill="#4c8"/><path d="M3408 216l10-13l-8-24l-9 13z" fill="#3c9"/><path d="M3399 230l9-14l-7-24l-9 14z" fill="#3ca"/><path d="M3390 243l9-13l-7-24l-10 13z" fill="#2ba"/><path d="M3380 256l10-13l-8-24l-9 13z" fill="#1bb"/><path d="M3371 268l9-12l-7-24l-9 13z" fill="#0bb"/><path d="M3362 280l9-12l-7-23l-10 13z" fill="#0bc"/><path d="M3352 291l10-11l-8-22l-9 11z" fill="#1bc"/><path d="M3343 301l9-10l-7-22l-9 11z" fill="#1ad"/><path d="M3334 310l9-9l-7-21l-10 10z" fill="#2ad"/><path d="M3324 319l10-9l-8-20l-9 10z" fill="#2ad"/><path d="M3315 326l9-7l-7-19l-9 8z" fill="#2ad"/><path d="M3306 332l9-6l-7-18l-10 8z" fill="#2ad"/><path d="M3296 338l10-6l-8-16l-9 6z" fill="#29d"/><path d="M3287 342l9-4l-7-16l-9 5z" fill="#29d"/><path d="M3278 345l9-3l-7-15l-10 4z" fill="#29e"/><path d="M3268 347l10-2l-8-14l-9 4z" fill="#29d"/><path d="M3054 212l9 5l-7-4l-10-6z" fill="#eb3"/><path d="M3044 208l10 4l-8-5l-9-5z" fill="#eb3"/><path d="M3035 204l9 4l-7-6l-9-5z" fill="#fb4"/><path d="M3026 202l9 2l-7-7l-10-3z" fill="#fb4"/><path d="M3016 201l10 1l-8-8l-9-2z" fill="#fb3"/><path d="M3007 201l9 0l-7-9l-9-2z" fill="#fb3"/><path d="M2998 201l9 0l-7-11l-10 0z" fill="#fc3"/><path d="M2988 203l10-2l-8-11l-9 1z" fill="#fc3"/><path d="M2979 206l9-3l-7-12l-9 2z" fill="#fc3"/><path d="M2970 211l9-5l-7-13l-10 3z" fill="#fb3"/><path d="M2960 216l10-5l-8-15l-9 4z" fill="#fb3"/><path d="M2951 222l9-6l-7-16l-9 6z" fill="#fb4"/><path d="M2942 230l9-8l-7-16l-10 6z" fill="#fb4"/><path d="M2932 238l10-8l-8-18l-9 7z" fill="#eb3"/><path d="M2923 248l9-10l-7-19l-9 9z" fill="#eb3"/><path d="M2914 258l9-10l-7-20l-10 9z" fill="#db2"/><path d="M2904 269l10-11l-8-21l-9 10z" fill="#cb2"/><path d="M2895 281l9-12l-7-22l-9 11z" fill="#bb3"/><path d="M2886 293l9-12l-7-23l-10 12z" fill="#ac3"/><path d="M3462 173l9-13l-7-24l-9 13z" fill="#7c6"/><path d="M3453 186l9-13l-7-24l-9 13z" fill="#5c7"/><path d="M3443 200l10-14l-7-24l-10 13z" fill="#4c8"/><path d="M3434 214l9-14l-7-25l-9 14z" fill="#3c9"/><path d="M3425 227l9-13l-7-25l-9 14z" fill="#3ca"/><path d="M3415 241l10-14l-7-24l-10 13z" fill="#2ba"/><path d="M3406 254l9-13l-7-25l-9 14z" fill="#1bb"/><path d="M3397 267l9-13l-7-24l-9 13z" fill="#0bb"/><path d="M3387 279l10-12l-7-24l-10 13z" fill="#0bc"/><path d="M3378 291l9-12l-7-23l-9 12z" fill="#1ac"/><path d="M3369 302l9-11l-7-23l-9 12z" fill="#1ad"/><path d="M3359 312l10-10l-7-22l-10 11z" fill="#2ad"/><path d="M3350 321l9-9l-7-21l-9 10z" fill="#2ad"/><path d="M3341 330l9-9l-7-20l-9 9z" fill="#29d"/><path d="M3331 337l10-7l-7-20l-10 9z" fill="#29e"/><path d="M3322 343l9-6l-7-18l-9 7z" fill="#29e"/><path d="M3313 349l9-6l-7-17l-9 6z" fill="#29e"/><path d="M3303 353l10-4l-7-17l-10 6z" fill="#29e"/><path d="M3079 228l10 6l-7-4l-10-7z" fill="#cb2"/><path d="M3070 223l9 5l-7-5l-9-6z" fill="#db2"/><path d="M3061 219l9 4l-7-6l-9-5z" fill="#db3"/><path d="M3051 215l10 4l-7-7l-10-4z" fill="#eb3"/><path d="M3042 213l9 2l-7-7l-9-4z" fill="#eb3"/><path d="M3033 212l9 1l-7-9l-9-2z" fill="#fb4"/><path d="M3023 212l10 0l-7-10l-10-1z" fill="#fb4"/><path d="M3014 212l9 0l-7-11l-9 0z" fill="#fb4"/><path d="M3005 214l9-2l-7-11l-9 0z" fill="#fb4"/><path d="M2995 217l10-3l-7-13l-10 2z" fill="#fb4"/><path d="M2986 222l9-5l-7-14l-9 3z" fill="#fb4"/><path d="M2977 227l9-5l-7-16l-9 5z" fill="#fb4"/><path d="M2967 233l10-6l-7-16l-10 5z" fill="#eb3"/><path d="M2958 241l9-8l-7-17l-9 6z" fill="#eb3"/><path d="M2949 249l9-8l-7-19l-9 8z" fill="#db3"/><path d="M2939 259l10-10l-7-19l-10 8z" fill="#db2"/><path d="M2930 269l9-10l-7-21l-9 10z" fill="#cb2"/><path d="M2921 280l9-11l-7-21l-9 10z" fill="#bb3"/><path d="M2911 292l10-12l-7-22l-10 11z" fill="#ac3"/><path d="M2902 304l9-12l-7-23l-9 12z" fill="#9c4"/><path d="M2893 317l9-13l-7-23l-9 12z" fill="#8c5"/><path d="M3469 198l10-14l-8-24l-9 13z" fill="#4c8"/><path d="M3460 211l9-13l-7-25l-9 13z" fill="#3c9"/><path d="M3451 225l9-14l-7-25l-10 14z" fill="#3ca"/><path d="M3441 239l10-14l-8-25l-9 14z" fill="#2ba"/><path d="M3432 252l9-13l-7-25l-9 13z" fill="#1bb"/><path d="M3423 265l9-13l-7-25l-10 14z" fill="#0bc"/><path d="M3413 278l10-13l-8-24l-9 13z" fill="#0bc"/><path d="M3404 290l9-12l-7-24l-9 13z" fill="#1ad"/><path d="M3395 302l9-12l-7-23l-10 12z" fill="#1ad"/><path d="M3385 313l10-11l-8-23l-9 12z" fill="#2ad"/><path d="M3376 323l9-10l-7-22l-9 11z" fill="#2ad"/><path d="M3367 333l9-10l-7-21l-10 10z" fill="#29e"/><path d="M3357 341l10-8l-8-21l-9 9z" fill="#29e"/><path d="M3348 348l9-7l-7-20l-9 9z" fill="#29e"/><path d="M3339 355l9-7l-7-18l-10 7z" fill="#29e"/><path d="M3329 360l10-5l-8-18l-9 6z" fill="#39e"/><path d="M3096 240l9 6l-7-5l-9-7z" fill="#bc3"/><path d="M3087 235l9 5l-7-6l-10-6z" fill="#cb2"/><path d="M3077 230l10 5l-8-7l-9-5z" fill="#db2"/><path d="M3068 227l9 3l-7-7l-9-4z" fill="#db2"/><path d="M3059 224l9 3l-7-8l-10-4z" fill="#db3"/><path d="M3049 223l10 1l-8-9l-9-2z" fill="#eb3"/><path d="M3040 223l9 0l-7-10l-9-1z" fill="#eb3"/><path d="M3031 224l9-1l-7-11l-10 0z" fill="#eb3"/><path d="M3021 226l10-2l-8-12l-9 0z" fill="#eb3"/><path d="M3012 229l9-3l-7-14l-9 2z" fill="#eb3"/><path d="M3003 233l9-4l-7-15l-10 3z" fill="#eb3"/><path d="M2993 238l10-5l-8-16l-9 5z" fill="#eb3"/><path d="M2984 245l9-7l-7-16l-9 5z" fill="#db3"/><path d="M2975 252l9-7l-7-18l-10 6z" fill="#db2"/><path d="M2965 261l10-9l-8-19l-9 8z" fill="#db2"/><path d="M2956 270l9-9l-7-20l-9 8z" fill="#cb2"/><path d="M2947 280l9-10l-7-21l-10 10z" fill="#bc3"/><path d="M2937 291l10-11l-8-21l-9 10z" fill="#ac3"/><path d="M2928 303l9-12l-7-22l-9 11z" fill="#9c4"/><path d="M2919 315l9-12l-7-23l-10 12z" fill="#8c5"/><path d="M2909 328l10-13l-8-23l-9 12z" fill="#7c6"/><path d="M2900 341l9-13l-7-24l-9 13z" fill="#5c7"/><path d="M3476 223l10-13l-7-26l-10 14z" fill="#3ca"/><path d="M3467 237l9-14l-7-25l-9 13z" fill="#2ba"/><path d="M3458 250l9-13l-7-26l-9 14z" fill="#1bb"/><path d="M3448 264l10-14l-7-25l-10 14z" fill="#0bc"/><path d="M3439 277l9-13l-7-25l-9 13z" fill="#0bc"/><path d="M3430 290l9-13l-7-25l-9 13z" fill="#1ad"/><path d="M3420 302l10-12l-7-25l-10 13z" fill="#2ad"/><path d="M3411 314l9-12l-7-24l-9 12z" fill="#2ad"/><path d="M3402 325l9-11l-7-24l-9 12z" fill="#29d"/><path d="M3392 335l10-10l-7-23l-10 11z" fill="#29e"/><path d="M3383 344l9-9l-7-22l-9 10z" fill="#29e"/><path d="M3374 353l9-9l-7-21l-9 10z" fill="#39e"/><path d="M3364 360l10-7l-7-20l-10 8z" fill="#38e"/><path d="M3355 367l9-7l-7-19l-9 7z" fill="#38e"/><path d="M3112 251l10 6l-7-5l-10-6z" fill="#ac3"/><path d="M3103 246l9 5l-7-5l-9-6z" fill="#bc3"/><path d="M3094 242l9 4l-7-6l-9-5z" fill="#bb3"/><path d="M3084 239l10 3l-7-7l-10-5z" fill="#cb2"/><path d="M3075 236l9 3l-7-9l-9-3z" fill="#db2"/><path d="M3066 235l9 1l-7-9l-9-3z" fill="#db2"/><path d="M3056 235l10 0l-7-11l-10-1z" fill="#db2"/><path d="M3047 235l9 0l-7-12l-9 0z" fill="#db3"/><path d="M3038 237l9-2l-7-12l-9 1z" fill="#db3"/><path d="M3028 241l10-4l-7-13l-10 2z" fill="#db3"/><path d="M3019 245l9-4l-7-15l-9 3z" fill="#db2"/><path d="M3010 250l9-5l-7-16l-9 4z" fill="#db2"/><path d="M3000 257l10-7l-7-17l-10 5z" fill="#db2"/><path d="M2991 264l9-7l-7-19l-9 7z" fill="#cb2"/><path d="M2982 272l9-8l-7-19l-9 7z" fill="#bb3"/><path d="M2972 282l10-10l-7-20l-10 9z" fill="#bc3"/><path d="M2963 292l9-10l-7-21l-9 9z" fill="#ac4"/><path d="M2954 303l9-11l-7-22l-9 10z" fill="#9c4"/><path d="M2944 315l10-12l-7-23l-10 11z" fill="#8c5"/><path d="M2935 327l9-12l-7-24l-9 12z" fill="#7c6"/><path d="M2926 340l9-13l-7-24l-9 12z" fill="#5c7"/><path d="M2916 353l10-13l-7-25l-10 13z" fill="#4c8"/><path d="M2907 366l9-13l-7-25l-9 13z" fill="#3c9"/><path d="M3484 249l9-14l-7-25l-10 13z" fill="#1bb"/><path d="M3474 262l10-13l-8-26l-9 14z" fill="#0bc"/><path d="M3465 276l9-14l-7-25l-9 13z" fill="#0bc"/><path d="M3456 289l9-13l-7-26l-10 14z" fill="#1ad"/><path d="M3446 302l10-13l-8-25l-9 13z" fill="#2ad"/><path d="M3437 314l9-12l-7-25l-9 13z" fill="#2ad"/><path d="M3428 326l9-12l-7-24l-10 12z" fill="#29e"/><path d="M3418 337l10-11l-8-24l-9 12z" fill="#29e"/><path d="M3409 347l9-10l-7-23l-9 11z" fill="#29e"/><path d="M3400 356l9-9l-7-22l-10 10z" fill="#38e"/><path d="M3390 365l10-9l-8-21l-9 9z" fill="#38e"/><path d="M3381 372l9-7l-7-21l-9 9z" fill="#38f"/><path d="M3372 378l9-6l-7-19l-10 7z" fill="#38f"/><path d="M3129 263l9 6l-7-5l-9-7z" fill="#9c4"/><path d="M3120 258l9 5l-7-6l-10-6z" fill="#9c4"/><path d="M3110 254l10 4l-8-7l-9-5z" fill="#ac3"/><path d="M3101 250l9 4l-7-8l-9-4z" fill="#bc3"/><path d="M3092 248l9 2l-7-8l-10-3z" fill="#bb3"/><path d="M3082 247l10 1l-8-9l-9-3z" fill="#cb2"/><path d="M3073 246l9 1l-7-11l-9-1z" fill="#cb2"/><path d="M3064 247l9-1l-7-11l-10 0z" fill="#cb2"/><path d="M3054 249l10-2l-8-12l-9 0z" fill="#cb2"/><path d="M3045 252l9-3l-7-14l-9 2z" fill="#cb2"/><path d="M3036 257l9-5l-7-15l-10 4z" fill="#cb2"/><path d="M3026 262l10-5l-8-16l-9 4z" fill="#cb2"/><path d="M3017 268l9-6l-7-17l-9 5z" fill="#bb3"/><path d="M3008 276l9-8l-7-18l-10 7z" fill="#bc3"/><path d="M2998 284l10-8l-8-19l-9 7z" fill="#ac3"/><path d="M2989 294l9-10l-7-20l-9 8z" fill="#9c4"/><path d="M2980 304l9-10l-7-22l-10 10z" fill="#9c4"/><path d="M2970 315l10-11l-8-22l-9 10z" fill="#7c5"/><path d="M2961 327l9-12l-7-23l-9 11z" fill="#6c6"/><path d="M2952 339l9-12l-7-24l-10 12z" fill="#5c7"/><path d="M2942 352l10-13l-8-24l-9 12z" fill="#4c8"/><path d="M2933 365l9-13l-7-25l-9 13z" fill="#3c9"/><path d="M2924 378l9-13l-7-25l-10 13z" fill="#3ca"/><path d="M2914 392l10-14l-8-25l-9 13z" fill="#2ba"/><path d="M3491 274l9-13l-7-26l-9 14z" fill="#0bc"/><path d="M3481 288l10-14l-7-25l-10 13z" fill="#1ad"/><path d="M3472 301l9-13l-7-26l-9 14z" fill="#2ad"/><path d="M3463 314l9-13l-7-25l-9 13z" fill="#2ad"/><path d="M3453 326l10-12l-7-25l-10 13z" fill="#29e"/><path d="M3444 338l9-12l-7-24l-9 12z" fill="#29e"/><path d="M3435 349l9-11l-7-24l-9 12z" fill="#38e"/><path d="M3425 359l10-10l-7-23l-10 11z" fill="#38e"/><path d="M3416 368l9-9l-7-22l-9 10z" fill="#38f"/><path d="M3407 376l9-8l-7-21l-9 9z" fill="#38f"/><path d="M3397 384l10-8l-7-20l-10 9z" fill="#37f"/><path d="M3145 275l10 6l-7-5l-10-7z" fill="#7c6"/><path d="M3136 270l9 5l-7-6l-9-6z" fill="#8c5"/><path d="M3127 266l9 4l-7-7l-9-5z" fill="#9c4"/><path d="M3117 262l10 4l-7-8l-10-4z" fill="#ac4"/><path d="M3108 260l9 2l-7-8l-9-4z" fill="#ac3"/><path d="M3099 259l9 1l-7-10l-9-2z" fill="#bc3"/><path d="M3089 258l10 1l-7-11l-10-1z" fill="#bc3"/><path d="M3080 259l9-1l-7-11l-9-1z" fill="#bb3"/><path d="M3071 261l9-2l-7-13l-9 1z" fill="#bb3"/><path d="M3061 264l10-3l-7-14l-10 2z" fill="#bb3"/><path d="M3052 269l9-5l-7-15l-9 3z" fill="#bc3"/><path d="M3043 274l9-5l-7-17l-9 5z" fill="#bc3"/><path d="M3033 280l10-6l-7-17l-10 5z" fill="#ac3"/><path d="M3024 288l9-8l-7-18l-9 6z" fill="#ac4"/><path d="M3015 296l9-8l-7-20l-9 8z" fill="#9c4"/><path d="M3005 306l10-10l-7-20l-10 8z" fill="#8c5"/><path d="M2996 316l9-10l-7-22l-9 10z" fill="#7c6"/><path d="M2987 327l9-11l-7-22l-9 10z" fill="#6c6"/><path d="M2977 338l10-11l-7-23l-10 11z" fill="#5c7"/><path d="M2968 351l9-13l-7-23l-9 12z" fill="#4c8"/><path d="M2959 363l9-12l-7-24l-9 12z" fill="#3c9"/><path d="M2950 377l9-14l-7-24l-10 13z" fill="#3ca"/><path d="M2940 390l10-13l-8-25l-9 13z" fill="#2ba"/><path d="M2931 404l9-14l-7-25l-9 13z" fill="#1bb"/><path d="M2922 417l9-13l-7-26l-10 14z" fill="#0bc"/><path d="M3498 300l9-14l-7-25l-9 13z" fill="#2ad"/><path d="M3489 313l9-13l-7-26l-10 14z" fill="#2ad"/><path d="M3479 325l10-12l-8-25l-9 13z" fill="#29e"/><path d="M3470 338l9-13l-7-24l-9 13z" fill="#29e"/><path d="M3461 349l9-11l-7-24l-10 12z" fill="#38e"/><path d="M3451 360l10-11l-8-23l-9 12z" fill="#38e"/><path d="M3442 371l9-11l-7-22l-9 11z" fill="#38f"/><path d="M3433 380l9-9l-7-22l-10 10z" fill="#37f"/><path d="M3162 287l9 6l-7-5l-9-7z" fill="#6c7"/><path d="M3153 282l9 5l-7-6l-10-6z" fill="#7c6"/><path d="M3143 277l10 5l-8-7l-9-5z" fill="#8c5"/><path d="M3134 274l9 3l-7-7l-9-4z" fill="#8c5"/><path d="M3125 272l9 2l-7-8l-10-4z" fill="#9c4"/><path d="M3115 270l10 2l-8-10l-9-2z" fill="#9c4"/><path d="M3106 270l9 0l-7-10l-9-1z" fill="#ac4"/><path d="M3097 271l9-1l-7-11l-10-1z" fill="#ac3"/><path d="M3087 273l10-2l-8-13l-9 1z" fill="#ac3"/><path d="M3078 276l9-3l-7-14l-9 2z" fill="#ac3"/><path d="M3069 280l9-4l-7-15l-10 3z" fill="#ac4"/><path d="M3059 286l10-6l-8-16l-9 5z" fill="#9c4"/><path d="M3050 292l9-6l-7-17l-9 5z" fill="#9c4"/><path d="M3041 300l9-8l-7-18l-10 6z" fill="#8c5"/><path d="M3031 308l10-8l-8-20l-9 8z" fill="#8c5"/><path d="M3022 317l9-9l-7-20l-9 8z" fill="#7c6"/><path d="M3013 328l9-11l-7-21l-10 10z" fill="#6c7"/><path d="M3003 339l10-11l-8-22l-9 10z" fill="#5c7"/><path d="M2994 350l9-11l-7-23l-9 11z" fill="#4c8"/><path d="M2985 363l9-13l-7-23l-10 11z" fill="#3c9"/><path d="M2975 375l10-12l-8-25l-9 13z" fill="#3ca"/><path d="M2966 388l9-13l-7-24l-9 12z" fill="#2ba"/><path d="M2957 402l9-14l-7-25l-9 14z" fill="#1bb"/><path d="M2947 416l10-14l-7-25l-10 13z" fill="#0bc"/><path d="M2938 429l9-13l-7-26l-9 14z" fill="#0bc"/><path d="M2929 443l9-14l-7-25l-9 13z" fill="#1ad"/><path d="M3505 324l9-13l-7-25l-9 14z" fill="#29e"/><path d="M3496 337l9-13l-7-24l-9 13z" fill="#29e"/><path d="M3486 349l10-12l-7-24l-10 12z" fill="#38e"/><path d="M3477 361l9-12l-7-24l-9 13z" fill="#38f"/><path d="M3179 299l9 5l-7-5l-10-6z" fill="#5c8"/><path d="M3169 293l10 6l-8-6l-9-6z" fill="#5c7"/><path d="M3160 289l9 4l-7-6l-9-5z" fill="#6c6"/><path d="M3151 286l9 3l-7-7l-10-5z" fill="#7c6"/><path d="M3141 283l10 3l-8-9l-9-3z" fill="#8c5"/><path d="M3132 282l9 1l-7-9l-9-2z" fill="#8c5"/><path d="M3123 282l9 0l-7-10l-10-2z" fill="#8c5"/><path d="M3113 283l10-1l-8-12l-9 0z" fill="#9c4"/><path d="M3104 285l9-2l-7-13l-9 1z" fill="#9c4"/><path d="M3095 288l9-3l-7-14l-10 2z" fill="#9c4"/><path d="M3085 292l10-4l-8-15l-9 3z" fill="#8c5"/><path d="M3076 297l9-5l-7-16l-9 4z" fill="#8c5"/><path d="M3067 304l9-7l-7-17l-10 6z" fill="#8c5"/><path d="M3057 311l10-7l-8-18l-9 6z" fill="#7c6"/><path d="M3048 320l9-9l-7-19l-9 8z" fill="#6c6"/><path d="M3039 329l9-9l-7-20l-10 8z" fill="#5c7"/><path d="M3029 339l10-10l-8-21l-9 9z" fill="#5c8"/><path d="M3020 350l9-11l-7-22l-9 11z" fill="#4c8"/><path d="M3011 362l9-12l-7-22l-10 11z" fill="#3c9"/><path d="M3001 374l10-12l-8-23l-9 11z" fill="#3ca"/><path d="M2992 387l9-13l-7-24l-9 13z" fill="#2ba"/><path d="M2983 400l9-13l-7-24l-10 12z" fill="#1bb"/><path d="M2973 414l10-14l-8-25l-9 13z" fill="#0bc"/><path d="M2964 427l9-13l-7-26l-9 14z" fill="#0bc"/><path d="M2955 441l9-14l-7-25l-10 14z" fill="#1ad"/><path d="M2945 455l10-14l-8-25l-9 13z" fill="#2ad"/><path d="M2936 468l9-13l-7-26l-9 14z" fill="#2ad"/><path d="M3186 305l9 5l-7-6l-9-5z" fill="#4c8"/><path d="M3176 301l10 4l-7-6l-10-6z" fill="#5c7"/><path d="M3167 297l9 4l-7-8l-9-4z" fill="#6c7"/><path d="M3158 295l9 2l-7-8l-9-3z" fill="#6c6"/><path d="M3148 293l10 2l-7-9l-10-3z" fill="#7c6"/><path d="M3139 293l9 0l-7-10l-9-1z" fill="#7c6"/><path d="M3130 294l9-1l-7-11l-9 0z" fill="#7c5"/><path d="M3120 296l10-2l-7-12l-10 1z" fill="#7c5"/><path d="M3111 299l9-3l-7-13l-9 2z" fill="#7c5"/><path d="M3102 303l9-4l-7-14l-9 3z" fill="#7c6"/><path d="M3092 309l10-6l-7-15l-10 4z" fill="#7c6"/><path d="M3083 315l9-6l-7-17l-9 5z" fill="#6c6"/><path d="M3074 323l9-8l-7-18l-9 7z" fill="#6c7"/><path d="M3064 331l10-8l-7-19l-10 7z" fill="#5c7"/><path d="M3055 340l9-9l-7-20l-9 9z" fill="#4c8"/><path d="M3046 351l9-11l-7-20l-9 9z" fill="#4c8"/><path d="M3036 362l10-11l-7-22l-10 10z" fill="#3c9"/><path d="M3027 373l9-11l-7-23l-9 11z" fill="#3ca"/><path d="M3018 386l9-13l-7-23l-9 12z" fill="#2ba"/><path d="M3008 398l10-12l-7-24l-10 12z" fill="#1bb"/><path d="M2999 412l9-14l-7-24l-9 13z" fill="#0bc"/><path d="M2990 425l9-13l-7-25l-9 13z" fill="#0bc"/><path d="M2980 439l10-14l-7-25l-10 14z" fill="#1ad"/><path d="M2971 452l9-13l-7-25l-9 13z" fill="#2ad"/><path d="M2962 466l9-14l-7-25l-9 14z" fill="#2ad"/><path d="M2952 479l10-13l-7-25l-10 14z" fill="#29e"/><path d="M2943 493l9-14l-7-24l-9 13z" fill="#29e"/><path d="M3202 316l10 5l-8-5l-9-6z" fill="#3c9"/><path d="M3193 312l9 4l-7-6l-9-5z" fill="#4c8"/><path d="M3184 308l9 4l-7-7l-10-4z" fill="#5c8"/><path d="M3174 306l10 2l-8-7l-9-4z" fill="#5c7"/><path d="M3165 304l9 2l-7-9l-9-2z" fill="#6c7"/><path d="M3156 304l9 0l-7-9l-10-2z" fill="#6c7"/><path d="M3146 305l10-1l-8-11l-9 0z" fill="#6c6"/><path d="M3137 307l9-2l-7-12l-9 1z" fill="#6c6"/><path d="M3128 310l9-3l-7-13l-10 2z" fill="#6c6"/><path d="M3118 314l10-4l-8-14l-9 3z" fill="#6c7"/><path d="M3109 320l9-6l-7-15l-9 4z" fill="#6c7"/><path d="M3100 326l9-6l-7-17l-10 6z" fill="#5c7"/><path d="M3090 334l10-8l-8-17l-9 6z" fill="#5c8"/><path d="M3081 342l9-8l-7-19l-9 8z" fill="#4c8"/><path d="M3072 351l9-9l-7-19l-10 8z" fill="#3c9"/><path d="M3062 362l10-11l-8-20l-9 9z" fill="#3c9"/><path d="M3053 373l9-11l-7-22l-9 11z" fill="#3ca"/><path d="M3044 384l9-11l-7-22l-10 11z" fill="#2ba"/><path d="M3034 397l10-13l-8-22l-9 11z" fill="#1bb"/><path d="M3025 409l9-12l-7-24l-9 13z" fill="#0bb"/><path d="M3016 423l9-14l-7-23l-10 12z" fill="#0bc"/><path d="M3006 436l10-13l-8-25l-9 14z" fill="#1ad"/><path d="M2997 450l9-14l-7-24l-9 13z" fill="#2ad"/><path d="M2988 463l9-13l-7-25l-10 14z" fill="#2ad"/><path d="M2978 477l10-14l-8-24l-9 13z" fill="#29e"/><path d="M2969 490l9-13l-7-25l-9 14z" fill="#29e"/><path d="M2960 504l9-14l-7-24l-10 13z" fill="#38e"/><path d="M2950 516l10-12l-8-25l-9 14z" fill="#38f"/><path d="M3219 326l9 5l-7-4l-9-6z" fill="#3c9"/><path d="M3209 322l10 4l-7-5l-10-5z" fill="#3c9"/><path d="M3200 319l9 3l-7-6l-9-4z" fill="#4c8"/><path d="M3191 316l9 3l-7-7l-9-4z" fill="#4c8"/><path d="M3181 315l10 1l-7-8l-10-2z" fill="#4c8"/><path d="M3172 315l9 0l-7-9l-9-2z" fill="#5c7"/><path d="M3163 316l9-1l-7-11l-9 0z" fill="#5c7"/><path d="M3153 318l10-2l-7-12l-10 1z" fill="#5c7"/><path d="M3144 321l9-3l-7-13l-9 2z" fill="#5c7"/><path d="M3135 325l9-4l-7-14l-9 3z" fill="#5c7"/><path d="M3125 330l10-5l-7-15l-10 4z" fill="#4c8"/><path d="M3116 337l9-7l-7-16l-9 6z" fill="#4c8"/><path d="M3107 344l9-7l-7-17l-9 6z" fill="#4c8"/><path d="M3097 353l10-9l-7-18l-10 8z" fill="#3c9"/><path d="M3088 362l9-9l-7-19l-9 8z" fill="#3c9"/><path d="M3079 372l9-10l-7-20l-9 9z" fill="#3ca"/><path d="M3069 383l10-11l-7-21l-10 11z" fill="#2ba"/><path d="M3060 395l9-12l-7-21l-9 11z" fill="#1bb"/><path d="M3051 407l9-12l-7-22l-9 11z" fill="#0bb"/><path d="M3041 420l10-13l-7-23l-10 13z" fill="#0bc"/><path d="M3032 433l9-13l-7-23l-9 12z" fill="#1ad"/><path d="M3023 446l9-13l-7-24l-9 14z" fill="#2ad"/><path d="M3013 460l10-14l-7-23l-10 13z" fill="#2ad"/><path d="M3004 474l9-14l-7-24l-9 14z" fill="#29e"/><path d="M2995 487l9-13l-7-24l-9 13z" fill="#29e"/><path d="M2985 501l10-14l-7-24l-10 14z" fill="#38e"/><path d="M2976 514l9-13l-7-24l-9 13z" fill="#38f"/><path d="M2967 527l9-13l-7-24l-9 14z" fill="#37f"/><path d="M2957 539l10-12l-7-23l-10 12z" fill="#37f"/><path d="M3235 336l10 5l-8-4l-9-6z" fill="#2ba"/><path d="M3226 332l9 4l-7-5l-9-5z" fill="#3c9"/><path d="M3217 329l9 3l-7-6l-10-4z" fill="#3c9"/><path d="M3207 326l10 3l-8-7l-9-3z" fill="#3c9"/><path d="M3198 325l9 1l-7-7l-9-3z" fill="#4c8"/><path d="M3189 325l9 0l-7-9l-10-1z" fill="#4c8"/><path d="M3179 325l10 0l-8-10l-9 0z" fill="#4c8"/><path d="M3170 327l9-2l-7-10l-9 1z" fill="#4c8"/><path d="M3161 331l9-4l-7-11l-10 2z" fill="#4c8"/><path d="M3151 335l10-4l-8-13l-9 3z" fill="#4c8"/><path d="M3142 340l9-5l-7-14l-9 4z" fill="#4c8"/><path d="M3133 347l9-7l-7-15l-10 5z" fill="#3c9"/><path d="M3123 354l10-7l-8-17l-9 7z" fill="#3c9"/><path d="M3114 362l9-8l-7-17l-9 7z" fill="#3c9"/><path d="M3105 372l9-10l-7-18l-10 9z" fill="#2ba"/><path d="M3095 382l10-10l-8-19l-9 9z" fill="#2ba"/><path d="M3086 393l9-11l-7-20l-9 10z" fill="#1bb"/><path d="M3077 405l9-12l-7-21l-10 11z" fill="#0bb"/><path d="M3067 417l10-12l-8-22l-9 12z" fill="#0bc"/><path d="M3058 430l9-13l-7-22l-9 12z" fill="#1ac"/><path d="M3049 443l9-13l-7-23l-10 13z" fill="#1ad"/><path d="M3039 456l10-13l-8-23l-9 13z" fill="#2ad"/><path d="M3030 470l9-14l-7-23l-9 13z" fill="#29e"/><path d="M3021 484l9-14l-7-24l-10 14z" fill="#29e"/><path d="M3011 497l10-13l-8-24l-9 14z" fill="#38e"/><path d="M3002 511l9-14l-7-23l-9 13z" fill="#38f"/><path d="M2993 524l9-13l-7-24l-10 14z" fill="#37f"/><path d="M2983 537l10-13l-8-23l-9 13z" fill="#37f"/><path d="M2974 549l9-12l-7-23l-9 13z" fill="#46f"/><path d="M2965 561l9-12l-7-22l-10 12z" fill="#46f"/><path d="M3233 338l9 3l-7-5l-9-4z" fill="#3ca"/><path d="M3224 335l9 3l-7-6l-9-3z" fill="#3c9"/><path d="M3214 334l10 1l-7-6l-10-3z" fill="#3c9"/><path d="M3205 334l9 0l-7-8l-9-1z" fill="#3c9"/><path d="M3196 335l9-1l-7-9l-9 0z" fill="#3c9"/><path d="M3186 337l10-2l-7-10l-10 0z" fill="#3c9"/><path d="M3177 340l9-3l-7-12l-9 2z" fill="#3c9"/><path d="M3168 344l9-4l-7-13l-9 4z" fill="#3c9"/><path d="M3158 349l10-5l-7-13l-10 4z" fill="#3c9"/><path d="M3149 356l9-7l-7-14l-9 5z" fill="#3c9"/><path d="M3140 363l9-7l-7-16l-9 7z" fill="#3ca"/><path d="M3130 372l10-9l-7-16l-10 7z" fill="#2ba"/><path d="M3121 381l9-9l-7-18l-9 8z" fill="#2ba"/><path d="M3112 391l9-10l-7-19l-9 10z" fill="#1bb"/><path d="M3102 402l10-11l-7-19l-10 10z" fill="#0bb"/><path d="M3093 414l9-12l-7-20l-9 11z" fill="#0bc"/><path d="M3084 426l9-12l-7-21l-9 12z" fill="#1bc"/><path d="M3074 439l10-13l-7-21l-10 12z" fill="#1ad"/><path d="M3065 452l9-13l-7-22l-9 13z" fill="#2ad"/><path d="M3056 466l9-14l-7-22l-9 13z" fill="#29d"/><path d="M3046 479l10-13l-7-23l-10 13z" fill="#29e"/><path d="M3037 493l9-14l-7-23l-9 14z" fill="#38e"/><path d="M3028 507l9-14l-7-23l-9 14z" fill="#38e"/><path d="M3018 520l10-13l-7-23l-10 13z" fill="#37f"/><path d="M3009 533l9-13l-7-23l-9 14z" fill="#37f"/><path d="M3000 546l9-13l-7-22l-9 13z" fill="#46f"/><path d="M2990 558l10-12l-7-22l-10 13z" fill="#46f"/><path d="M2981 570l9-12l-7-21l-9 12z" fill="#45f"/><path d="M2972 581l9-11l-7-21l-9 12z" fill="#45f"/><path d="M3231 343l9 1l-7-6l-9-3z" fill="#3ca"/><path d="M3222 342l9 1l-7-8l-10-1z" fill="#3c9"/><path d="M3212 343l10-1l-8-8l-9 0z" fill="#3c9"/><path d="M3203 345l9-2l-7-9l-9 1z" fill="#3c9"/><path d="M3194 348l9-3l-7-10l-10 2z" fill="#3c9"/><path d="M3184 352l10-4l-8-11l-9 3z" fill="#3c9"/><path d="M3175 358l9-6l-7-12l-9 4z" fill="#3ca"/><path d="M3166 364l9-6l-7-14l-10 5z" fill="#3ca"/><path d="M3156 372l10-8l-8-15l-9 7z" fill="#2ba"/><path d="M3147 380l9-8l-7-16l-9 7z" fill="#2ba"/><path d="M3138 389l9-9l-7-17l-10 9z" fill="#1bb"/><path d="M3128 400l10-11l-8-17l-9 9z" fill="#0bb"/><path d="M3119 411l9-11l-7-19l-9 10z" fill="#0bc"/><path d="M3110 422l9-11l-7-20l-10 11z" fill="#1bc"/><path d="M3100 435l10-13l-8-20l-9 12z" fill="#1ad"/><path d="M3091 447l9-12l-7-21l-9 12z" fill="#2ad"/><path d="M3082 461l9-14l-7-21l-10 13z" fill="#2ad"/><path d="M3072 474l10-13l-8-22l-9 13z" fill="#29e"/><path d="M3063 488l9-14l-7-22l-9 14z" fill="#29e"/><path d="M3054 501l9-13l-7-22l-10 13z" fill="#38e"/><path d="M3044 515l10-14l-8-22l-9 14z" fill="#38f"/><path d="M3035 528l9-13l-7-22l-9 14z" fill="#37f"/><path d="M3026 542l9-14l-7-21l-10 13z" fill="#47f"/><path d="M3016 554l10-12l-8-22l-9 13z" fill="#46f"/><path d="M3007 567l9-13l-7-21l-9 13z" fill="#46f"/><path d="M2998 578l9-11l-7-21l-10 12z" fill="#45f"/><path d="M2988 589l10-11l-8-20l-9 12z" fill="#45e"/><path d="M2979 599l9-10l-7-19l-9 11z" fill="#44e"/><path d="M3462 493l9 2l-7-6l-9-1z" fill="#43d"/><path d="M3453 490l9 3l-7-5l-9-2z" fill="#44d"/><path d="M3219 353l10-2l-7-9l-10 1z" fill="#3ca"/><path d="M3210 356l9-3l-7-10l-9 2z" fill="#3ca"/><path d="M3201 360l9-4l-7-11l-9 3z" fill="#3ca"/><path d="M3191 365l10-5l-7-12l-10 4z" fill="#2ba"/><path d="M3182 372l9-7l-7-13l-9 6z" fill="#2ba"/><path d="M3173 379l9-7l-7-14l-9 6z" fill="#2bb"/><path d="M3163 388l10-9l-7-15l-10 8z" fill="#1bb"/><path d="M3154 397l9-9l-7-16l-9 8z" fill="#0bb"/><path d="M3145 407l9-10l-7-17l-9 9z" fill="#0bc"/><path d="M3135 418l10-11l-7-18l-10 11z" fill="#0bc"/><path d="M3126 430l9-12l-7-18l-9 11z" fill="#1ad"/><path d="M3117 442l9-12l-7-19l-9 11z" fill="#2ad"/><path d="M3107 455l10-13l-7-20l-10 13z" fill="#2ad"/><path d="M3098 468l9-13l-7-20l-9 12z" fill="#29e"/><path d="M3089 482l9-14l-7-21l-9 14z" fill="#29e"/><path d="M3079 495l10-13l-7-21l-10 13z" fill="#38e"/><path d="M3070 509l9-14l-7-21l-9 14z" fill="#38f"/><path d="M3061 522l9-13l-7-21l-9 13z" fill="#37f"/><path d="M3051 536l10-14l-7-21l-10 14z" fill="#37f"/><path d="M3042 549l9-13l-7-21l-9 13z" fill="#46f"/><path d="M3033 562l9-13l-7-21l-9 14z" fill="#46f"/><path d="M3023 574l10-12l-7-20l-10 12z" fill="#45f"/><path d="M3014 586l9-12l-7-20l-9 13z" fill="#45e"/><path d="M3005 597l9-11l-7-19l-9 11z" fill="#44e"/><path d="M2995 607l10-10l-7-19l-10 11z" fill="#44e"/><path d="M2986 616l9-9l-7-18l-9 10z" fill="#44d"/><path d="M3479 500l9 2l-7-5l-10-2z" fill="#43d"/><path d="M3469 496l10 4l-8-5l-9-2z" fill="#43d"/><path d="M3460 492l9 4l-7-3l-9-3z" fill="#44d"/><path d="M3451 487l9 5l-7-2l-10-5z" fill="#44e"/><path d="M3208 372l9-5l-7-11l-9 4z" fill="#2ba"/><path d="M3199 378l9-6l-7-12l-10 5z" fill="#2bb"/><path d="M3189 386l10-8l-8-13l-9 7z" fill="#1bb"/><path d="M3180 394l9-8l-7-14l-9 7z" fill="#0bb"/><path d="M3171 404l9-10l-7-15l-10 9z" fill="#0bc"/><path d="M3161 414l10-10l-8-16l-9 9z" fill="#0bc"/><path d="M3152 425l9-11l-7-17l-9 10z" fill="#1ac"/><path d="M3143 437l9-12l-7-18l-10 11z" fill="#1ad"/><path d="M3133 449l10-12l-8-19l-9 12z" fill="#2ad"/><path d="M3124 462l9-13l-7-19l-9 12z" fill="#29d"/><path d="M3115 475l9-13l-7-20l-10 13z" fill="#29e"/><path d="M3105 488l10-13l-8-20l-9 13z" fill="#39e"/><path d="M3096 502l9-14l-7-20l-9 14z" fill="#38e"/><path d="M3087 516l9-14l-7-20l-10 13z" fill="#38f"/><path d="M3077 529l10-13l-8-21l-9 14z" fill="#37f"/><path d="M3068 543l9-14l-7-20l-9 13z" fill="#46f"/><path d="M3059 556l9-13l-7-21l-10 14z" fill="#46f"/><path d="M3049 569l10-13l-8-20l-9 13z" fill="#45f"/><path d="M3040 581l9-12l-7-20l-9 13z" fill="#45e"/><path d="M3031 592l9-11l-7-19l-10 12z" fill="#45e"/><path d="M3021 603l10-11l-8-18l-9 12z" fill="#44e"/><path d="M3012 614l9-11l-7-17l-9 11z" fill="#44d"/><path d="M3003 623l9-9l-7-17l-10 10z" fill="#43d"/><path d="M2993 631l10-8l-8-16l-9 9z" fill="#43d"/><path d="M3504 508l10 1l-7-5l-10-1z" fill="#43c"/><path d="M3495 505l9 3l-7-5l-9-1z" fill="#43c"/><path d="M3486 502l9 3l-7-3l-9-2z" fill="#43d"/><path d="M3476 498l10 4l-7-2l-10-4z" fill="#44d"/><path d="M3467 493l9 5l-7-2l-9-4z" fill="#44e"/><path d="M3458 487l9 6l-7-1l-9-5z" fill="#44e"/><path d="M3197 400l9-9l-7-13l-10 8z" fill="#0bc"/><path d="M3187 409l10-9l-8-14l-9 8z" fill="#0bc"/><path d="M3178 420l9-11l-7-15l-9 10z" fill="#1bc"/><path d="M3169 431l9-11l-7-16l-10 10z" fill="#1ad"/><path d="M3159 442l10-11l-8-17l-9 11z" fill="#2ad"/><path d="M3150 454l9-12l-7-17l-9 12z" fill="#2ad"/><path d="M3141 467l9-13l-7-17l-10 12z" fill="#29e"/><path d="M3131 480l10-13l-8-18l-9 13z" fill="#29e"/><path d="M3122 494l9-14l-7-18l-9 13z" fill="#38e"/><path d="M3113 507l9-13l-7-19l-10 13z" fill="#38f"/><path d="M3103 521l10-14l-8-19l-9 14z" fill="#37f"/><path d="M3094 535l9-14l-7-19l-9 14z" fill="#37f"/><path d="M3085 548l9-13l-7-19l-10 13z" fill="#46f"/><path d="M3075 561l10-13l-8-19l-9 14z" fill="#46f"/><path d="M3066 574l9-13l-7-18l-9 13z" fill="#45f"/><path d="M3057 586l9-12l-7-18l-10 13z" fill="#45e"/><path d="M3047 598l10-12l-8-17l-9 12z" fill="#44e"/><path d="M3038 609l9-11l-7-17l-9 11z" fill="#44e"/><path d="M3029 619l9-10l-7-17l-10 11z" fill="#44d"/><path d="M3019 629l10-10l-8-16l-9 11z" fill="#43d"/><path d="M3010 637l9-8l-7-15l-9 9z" fill="#43c"/><path d="M3001 644l9-7l-7-14l-10 8z" fill="#43c"/><path d="M3512 510l9 2l-7-3l-10-1z" fill="#43c"/><path d="M3502 507l10 3l-8-2l-9-3z" fill="#43c"/><path d="M3493 502l9 5l-7-2l-9-3z" fill="#43d"/><path d="M3484 497l9 5l-7 0l-10-4z" fill="#44d"/><path d="M3474 491l10 6l-8 1l-9-5z" fill="#44e"/><path d="M3465 485l9 6l-7 2l-9-6z" fill="#45e"/><path d="M3176 447l9-12l-7-15l-9 11z" fill="#2ad"/><path d="M3166 459l10-12l-7-16l-10 11z" fill="#2ad"/><path d="M3157 472l9-13l-7-17l-9 12z" fill="#29e"/><path d="M3148 485l9-13l-7-18l-9 13z" fill="#29e"/><path d="M3138 498l10-13l-7-18l-10 13z" fill="#38e"/><path d="M3129 512l9-14l-7-18l-9 14z" fill="#38f"/><path d="M3120 526l9-14l-7-18l-9 13z" fill="#37f"/><path d="M3110 539l10-13l-7-19l-10 14z" fill="#47f"/><path d="M3101 553l9-14l-7-18l-9 14z" fill="#46f"/><path d="M3092 566l9-13l-7-18l-9 13z" fill="#45f"/><path d="M3082 579l10-13l-7-18l-10 13z" fill="#45e"/><path d="M3073 591l9-12l-7-18l-9 13z" fill="#45e"/><path d="M3064 603l9-12l-7-17l-9 12z" fill="#44e"/><path d="M3054 614l10-11l-7-17l-10 12z" fill="#44d"/><path d="M3045 624l9-10l-7-16l-9 11z" fill="#43d"/><path d="M3036 633l9-9l-7-15l-9 10z" fill="#43c"/><path d="M3026 642l10-9l-7-14l-10 10z" fill="#43c"/><path d="M3017 649l9-7l-7-13l-9 8z" fill="#43b"/><path d="M3008 655l9-6l-7-12l-9 7z" fill="#43b"/><path d="M3538 516l9 1l-7-3l-10 0z" fill="#43b"/><path d="M3528 514l10 2l-8-2l-9-2z" fill="#43b"/><path d="M3519 510l9 4l-7-2l-9-2z" fill="#43c"/><path d="M3510 506l9 4l-7 0l-10-3z" fill="#43d"/><path d="M3500 501l10 5l-8 1l-9-5z" fill="#44d"/><path d="M3491 495l9 6l-7 1l-9-5z" fill="#44e"/><path d="M3482 488l9 7l-7 2l-10-6z" fill="#44e"/><path d="M3472 481l10 7l-8 3l-9-6z" fill="#45e"/><path d="M3146 516l9-14l-7-17l-10 13z" fill="#38f"/><path d="M3136 529l10-13l-8-18l-9 14z" fill="#37f"/><path d="M3127 543l9-14l-7-17l-9 14z" fill="#46f"/><path d="M3118 556l9-13l-7-17l-10 13z" fill="#46f"/><path d="M3108 570l10-14l-8-17l-9 14z" fill="#45f"/><path d="M3099 582l9-12l-7-17l-9 13z" fill="#45e"/><path d="M3090 595l9-13l-7-16l-10 13z" fill="#44e"/><path d="M3080 606l10-11l-8-16l-9 12z" fill="#44e"/><path d="M3071 617l9-11l-7-15l-9 12z" fill="#44d"/><path d="M3062 627l9-10l-7-14l-10 11z" fill="#43d"/><path d="M3052 637l10-10l-8-13l-9 10z" fill="#43c"/><path d="M3043 645l9-8l-7-13l-9 9z" fill="#43b"/><path d="M3034 653l9-8l-7-12l-10 9z" fill="#43b"/><path d="M3024 659l10-6l-8-11l-9 7z" fill="#42b"/><path d="M3015 664l9-5l-7-10l-9 6z" fill="#42a"/><path d="M3554 518l9 2l-7-2l-9-1z" fill="#43b"/><path d="M3545 516l9 2l-7-1l-9-1z" fill="#43b"/><path d="M3535 513l10 3l-7 0l-10-2z" fill="#43c"/><path d="M3526 508l9 5l-7 1l-9-4z" fill="#43c"/><path d="M3517 503l9 5l-7 2l-9-4z" fill="#44d"/><path d="M3507 497l10 6l-7 3l-10-5z" fill="#44e"/><path d="M3498 491l9 6l-7 4l-9-6z" fill="#44e"/><path d="M3489 483l9 8l-7 4l-9-7z" fill="#45e"/><path d="M3479 476l10 7l-7 5l-10-7z" fill="#45f"/><path d="M3125 572l9-13l-7-16l-9 13z" fill="#45f"/><path d="M3115 585l10-13l-7-16l-10 14z" fill="#45e"/><path d="M3106 597l9-12l-7-15l-9 12z" fill="#44e"/><path d="M3097 609l9-12l-7-15l-9 13z" fill="#44e"/><path d="M3087 620l10-11l-7-14l-10 11z" fill="#44d"/><path d="M3078 630l9-10l-7-14l-9 11z" fill="#43c"/><path d="M3069 639l9-9l-7-13l-9 10z" fill="#43c"/><path d="M3059 648l10-9l-7-12l-10 10z" fill="#43b"/><path d="M3050 655l9-7l-7-11l-9 8z" fill="#43b"/><path d="M3041 661l9-6l-7-10l-9 8z" fill="#42a"/><path d="M3031 667l10-6l-7-8l-10 6z" fill="#42a"/><path d="M3022 671l9-4l-7-8l-9 5z" fill="#42a"/><path d="M3580 521l9 0l-7-2l-9 1z" fill="#42a"/><path d="M3571 520l9 1l-7-1l-10 0z" fill="#43b"/><path d="M3561 517l10 3l-8 0l-9-2z" fill="#43b"/><path d="M3552 514l9 3l-7 1l-9-2z" fill="#43c"/><path d="M3543 510l9 4l-7 2l-10-3z" fill="#43c"/><path d="M3533 504l10 6l-8 3l-9-5z" fill="#43d"/><path d="M3524 498l9 6l-7 4l-9-5z" fill="#44e"/><path d="M3515 492l9 6l-7 5l-10-6z" fill="#44e"/><path d="M3505 485l10 7l-8 5l-9-6z" fill="#45e"/><path d="M3496 477l9 8l-7 6l-9-8z" fill="#45f"/><path d="M3487 469l9 8l-7 6l-10-7z" fill="#46f"/><path d="M3104 621l9-11l-7-13l-9 12z" fill="#43d"/><path d="M3095 631l9-10l-7-12l-10 11z" fill="#43c"/><path d="M3085 640l10-9l-8-11l-9 10z" fill="#43c"/><path d="M3076 649l9-9l-7-10l-9 9z" fill="#43b"/><path d="M3067 656l9-7l-7-10l-10 9z" fill="#43b"/><path d="M3057 663l10-7l-8-8l-9 7z" fill="#42a"/><path d="M3048 668l9-5l-7-8l-9 6z" fill="#42a"/><path d="M3039 672l9-4l-7-7l-10 6z" fill="#42a"/><path d="M3029 675l10-3l-8-5l-9 4z" fill="#42a"/><path d="M3606 521l9 0l-7-2l-9 1z" fill="#42a"/><path d="M3596 521l10 0l-7-1l-10 1z" fill="#42a"/><path d="M3587 520l9 1l-7 0l-9 0z" fill="#43b"/><path d="M3578 517l9 3l-7 1l-9-1z" fill="#43b"/><path d="M3568 514l10 3l-7 3l-10-3z" fill="#43c"/><path d="M3559 510l9 4l-7 3l-9-3z" fill="#43c"/><path d="M3550 505l9 5l-7 4l-9-4z" fill="#44d"/><path d="M3540 499l10 6l-7 5l-10-6z" fill="#44e"/><path d="M3531 492l9 7l-7 5l-9-6z" fill="#44e"/><path d="M3522 485l9 7l-7 6l-9-6z" fill="#45e"/><path d="M3512 477l10 8l-7 7l-10-7z" fill="#45f"/><path d="M3503 469l9 8l-7 8l-9-8z" fill="#46f"/><path d="M3083 656l9-7l-7-9l-9 9z" fill="#43b"/><path d="M3074 663l9-7l-7-7l-9 7z" fill="#42a"/><path d="M3064 668l10-5l-7-7l-10 7z" fill="#42a"/><path d="M3055 672l9-4l-7-5l-9 5z" fill="#42a"/><path d="M3046 675l9-3l-7-4l-9 4z" fill="#42a"/><path d="M3036 677l10-2l-7-3l-10 3z" fill="#42a"/><path d="M3613 520l9 1l-7 0l-9 0z" fill="#42b"/><path d="M3604 519l9 1l-7 1l-10 0z" fill="#43b"/><path d="M3594 516l10 3l-8 2l-9-1z" fill="#43b"/><path d="M3585 513l9 3l-7 4l-9-3z" fill="#43c"/><path d="M3576 509l9 4l-7 4l-10-3z" fill="#43d"/><path d="M3566 504l10 5l-8 5l-9-4z" fill="#44d"/><path d="M3557 498l9 6l-7 6l-9-5z" fill="#44e"/><path d="M3548 491l9 7l-7 7l-10-6z" fill="#44e"/><path d="M3538 484l10 7l-8 8l-9-7z" fill="#45e"/><path d="M3529 476l9 8l-7 8l-9-7z" fill="#45f"/><path d="M3520 468l9 8l-7 9l-10-8z" fill="#46f"/><path d="M3053 676l9-1l-7-3l-9 3z" fill="#42a"/><path d="M3044 677l9-1l-7-1l-10 2z" fill="#42a"/><path d="M3620 517l9 1l-7 3l-9-1z" fill="#43b"/><path d="M3611 514l9 3l-7 3l-9-1z" fill="#43c"/><path d="M3601 511l10 3l-7 5l-10-3z" fill="#43c"/><path d="M3592 507l9 4l-7 5l-9-3z" fill="#43d"/><path d="M3583 502l9 5l-7 6l-9-4z" fill="#44d"/><path d="M3573 496l10 6l-7 7l-10-5z" fill="#44e"/><path d="M3564 489l9 7l-7 8l-9-6z" fill="#45e"/><path d="M3555 482l9 7l-7 9l-9-7z" fill="#45e"/><path d="M3545 474l10 8l-7 9l-10-7z" fill="#46f"/><path d="M3069 674l10-2l-7-1l-10 4z" fill="#42a"/><path d="M3060 675l9-1l-7 1l-9 1z" fill="#42b"/><path d="M3051 675l9 0l-7 1l-9 1z" fill="#43b"/><path d="M3618 508l9 3l-7 6l-9-3z" fill="#43d"/><path d="M3609 504l9 4l-7 6l-10-3z" fill="#44d"/><path d="M3599 498l10 6l-8 7l-9-4z" fill="#44e"/><path d="M3590 493l9 5l-7 9l-9-5z" fill="#44e"/><path d="M3581 486l9 7l-7 9l-10-6z" fill="#45e"/><path d="M3571 479l10 7l-8 10l-9-7z" fill="#45f"/><path d="M3086 671l9-2l-7 0l-9 3z" fill="#43b"/><path d="M3077 672l9-1l-7 1l-10 2z" fill="#43b"/><path d="M3067 672l10 0l-8 2l-9 1z" fill="#43b"/><path d="M3058 670l9 2l-7 3l-9 0z" fill="#43c"/><path d="M3112 665l9-3l-7 0l-9 4z" fill="#43b"/><path d="M3103 667l9-2l-7 1l-10 3z" fill="#43b"/><path d="M3093 668l10-1l-8 2l-9 2z" fill="#43b"/><path d="M3084 668l9 0l-7 3l-9 1z" fill="#43c"/><path d="M3075 666l9 2l-7 4l-10 0z" fill="#43c"/><path d="M3065 664l10 2l-8 6l-9-2z" fill="#43d"/><path d="M3399 369l9-4l-7 2l-9 3z" fill="#3ca"/><path d="M3128 660l10-3l-7 1l-10 4z" fill="#43c"/><path d="M3119 662l9-2l-7 2l-9 3z" fill="#43c"/><path d="M3110 663l9-1l-7 3l-9 2z" fill="#43c"/><path d="M3100 663l10 0l-7 4l-10 1z" fill="#43c"/><path d="M3091 661l9 2l-7 5l-9 0z" fill="#43d"/><path d="M3082 659l9 2l-7 7l-9-2z" fill="#43d"/><path d="M3072 655l10 4l-7 7l-10-2z" fill="#44d"/><path d="M3416 363l9-4l-7 3l-10 3z" fill="#3c9"/><path d="M3406 368l10-5l-8 2l-9 4z" fill="#3ca"/><path d="M3164 647l9-6l-7 0l-10 6z" fill="#43d"/><path d="M3154 651l10-4l-8 0l-9 6z" fill="#43c"/><path d="M3145 654l9-3l-7 2l-9 4z" fill="#43c"/><path d="M3136 656l9-2l-7 3l-10 3z" fill="#43c"/><path d="M3126 657l10-1l-8 4l-9 2z" fill="#43d"/><path d="M3117 656l9 1l-7 5l-9 1z" fill="#43d"/><path d="M3108 655l9 1l-7 7l-10 0z" fill="#44d"/><path d="M3098 653l10 2l-8 8l-9-2z" fill="#44d"/><path d="M3089 649l9 4l-7 8l-9-2z" fill="#44e"/><path d="M3080 645l9 4l-7 10l-10-4z" fill="#44e"/><path d="M3423 361l9-5l-7 3l-9 4z" fill="#3c9"/><path d="M3413 368l10-7l-7 2l-10 5z" fill="#3c9"/><path d="M3180 640l9-6l-7 1l-9 6z" fill="#44d"/><path d="M3171 644l9-4l-7 1l-9 6z" fill="#44d"/><path d="M3161 647l10-3l-7 3l-10 4z" fill="#43d"/><path d="M3152 649l9-2l-7 4l-9 3z" fill="#44d"/><path d="M3143 650l9-1l-7 5l-9 2z" fill="#44d"/><path d="M3133 650l10 0l-7 6l-10 1z" fill="#44d"/><path d="M3124 648l9 2l-7 7l-9-1z" fill="#44e"/><path d="M3115 646l9 2l-7 8l-9-1z" fill="#44e"/><path d="M3105 642l10 4l-7 9l-10-2z" fill="#44e"/><path d="M3096 638l9 4l-7 11l-9-4z" fill="#45e"/><path d="M3087 633l9 5l-7 11l-9-4z" fill="#45f"/><path d="M3449 348l9-4l-7 5l-10 3z" fill="#4c8"/><path d="M3439 353l10-5l-8 4l-9 4z" fill="#4c8"/><path d="M3430 360l9-7l-7 3l-9 5z" fill="#3c9"/><path d="M3421 367l9-7l-7 1l-10 7z" fill="#3c9"/><path d="M3411 376l10-9l-8 1l-9 7z" fill="#3c9"/><path d="M3197 632l9-5l-7 1l-10 6z" fill="#44e"/><path d="M3187 636l10-4l-8 2l-9 6z" fill="#44e"/><path d="M3178 639l9-3l-7 4l-9 4z" fill="#44e"/><path d="M3169 641l9-2l-7 5l-10 3z" fill="#44e"/><path d="M3159 642l10-1l-8 6l-9 2z" fill="#44e"/><path d="M3150 642l9 0l-7 7l-9 1z" fill="#44e"/><path d="M3141 640l9 2l-7 8l-10 0z" fill="#44e"/><path d="M3131 638l10 2l-8 10l-9-2z" fill="#45e"/><path d="M3122 635l9 3l-7 10l-9-2z" fill="#45e"/><path d="M3113 630l9 5l-7 11l-10-4z" fill="#45f"/><path d="M3103 625l10 5l-8 12l-9-4z" fill="#46f"/><path d="M3094 619l9 6l-7 13l-9-5z" fill="#46f"/><path d="M3456 345l9-5l-7 4l-9 4z" fill="#5c8"/><path d="M3446 352l10-7l-7 3l-10 5z" fill="#4c8"/><path d="M3437 359l9-7l-7 1l-9 7z" fill="#4c8"/><path d="M3428 367l9-8l-7 1l-9 7z" fill="#3c9"/><path d="M3418 377l10-10l-7 0l-10 9z" fill="#3c9"/><path d="M3213 624l9-6l-7 2l-9 7z" fill="#44e"/><path d="M3204 628l9-4l-7 3l-9 5z" fill="#44e"/><path d="M3194 631l10-3l-7 4l-10 4z" fill="#44e"/><path d="M3185 633l9-2l-7 5l-9 3z" fill="#44e"/><path d="M3176 634l9-1l-7 6l-9 2z" fill="#44e"/><path d="M3166 633l10 1l-7 7l-10 1z" fill="#45e"/><path d="M3157 632l9 1l-7 9l-9 0z" fill="#45e"/><path d="M3148 630l9 2l-7 10l-9-2z" fill="#45e"/><path d="M3138 626l10 4l-7 10l-10-2z" fill="#45f"/><path d="M3129 622l9 4l-7 12l-9-3z" fill="#46f"/><path d="M3120 617l9 5l-7 13l-9-5z" fill="#46f"/><path d="M3110 611l10 6l-7 13l-10-5z" fill="#46f"/><path d="M3101 604l9 7l-7 14l-9-6z" fill="#37f"/><path d="M3463 343l9-7l-7 4l-9 5z" fill="#5c7"/><path d="M3454 350l9-7l-7 2l-10 7z" fill="#5c8"/><path d="M3444 358l10-8l-8 2l-9 7z" fill="#4c8"/><path d="M3435 368l9-10l-7 1l-9 8z" fill="#3c9"/><path d="M3426 378l9-10l-7-1l-10 10z" fill="#3c9"/><path d="M3230 615l9-6l-7 3l-10 6z" fill="#45e"/><path d="M3220 619l10-4l-8 3l-9 6z" fill="#45e"/><path d="M3211 622l9-3l-7 5l-9 4z" fill="#45e"/><path d="M3202 624l9-2l-7 6l-10 3z" fill="#45e"/><path d="M3192 625l10-1l-8 7l-9 2z" fill="#45e"/><path d="M3183 624l9 1l-7 8l-9 1z" fill="#45e"/><path d="M3174 623l9 1l-7 10l-10-1z" fill="#45f"/><path d="M3164 621l10 2l-8 10l-9-1z" fill="#45f"/><path d="M3155 617l9 4l-7 11l-9-2z" fill="#46f"/><path d="M3146 613l9 4l-7 13l-10-4z" fill="#46f"/><path d="M3136 608l10 5l-8 13l-9-4z" fill="#46f"/><path d="M3127 602l9 6l-7 14l-9-5z" fill="#37f"/><path d="M3118 595l9 7l-7 15l-10-6z" fill="#37f"/><path d="M3108 588l10 7l-8 16l-9-7z" fill="#38f"/><path d="M3479 333l10-6l-7 4l-10 5z" fill="#6c6"/><path d="M3470 340l9-7l-7 3l-9 7z" fill="#6c7"/><path d="M3461 349l9-9l-7 3l-9 7z" fill="#5c7"/><path d="M3451 358l10-9l-7 1l-10 8z" fill="#4c8"/><path d="M3442 368l9-10l-7 0l-9 10z" fill="#4c8"/><path d="M3433 379l9-11l-7 0l-9 10z" fill="#3c9"/><path d="M3246 605l9-5l-7 3l-9 6z" fill="#45f"/><path d="M3237 609l9-4l-7 4l-9 6z" fill="#45f"/><path d="M3227 612l10-3l-7 6l-10 4z" fill="#45f"/><path d="M3218 614l9-2l-7 7l-9 3z" fill="#45f"/><path d="M3209 615l9-1l-7 8l-9 2z" fill="#45f"/><path d="M3199 615l10 0l-7 9l-10 1z" fill="#46f"/><path d="M3190 614l9 1l-7 10l-9-1z" fill="#46f"/><path d="M3181 611l9 3l-7 10l-9-1z" fill="#46f"/><path d="M3171 608l10 3l-7 12l-10-2z" fill="#46f"/><path d="M3162 603l9 5l-7 13l-9-4z" fill="#47f"/><path d="M3153 598l9 5l-7 14l-9-4z" fill="#37f"/><path d="M3143 592l10 6l-7 15l-10-5z" fill="#37f"/><path d="M3134 586l9 6l-7 16l-9-6z" fill="#38f"/><path d="M3125 579l9 7l-7 16l-9-7z" fill="#38e"/><path d="M3115 571l10 8l-7 16l-10-7z" fill="#29e"/><path d="M3496 323l9-6l-7 4l-9 6z" fill="#8c5"/><path d="M3487 331l9-8l-7 4l-10 6z" fill="#7c6"/><path d="M3477 339l10-8l-8 2l-9 7z" fill="#6c6"/><path d="M3468 348l9-9l-7 1l-9 9z" fill="#5c7"/><path d="M3459 359l9-11l-7 1l-10 9z" fill="#5c8"/><path d="M3449 370l10-11l-8-1l-9 10z" fill="#4c8"/><path d="M3440 381l9-11l-7-2l-9 11z" fill="#3c9"/><path d="M3263 595l9-5l-7 3l-10 7z" fill="#46f"/><path d="M3253 599l10-4l-8 5l-9 5z" fill="#46f"/><path d="M3244 603l9-4l-7 6l-9 4z" fill="#46f"/><path d="M3235 604l9-1l-7 6l-10 3z" fill="#46f"/><path d="M3225 605l10-1l-8 8l-9 2z" fill="#46f"/><path d="M3216 605l9 0l-7 9l-9 1z" fill="#46f"/><path d="M3207 604l9 1l-7 10l-10 0z" fill="#46f"/><path d="M3197 601l10 3l-8 11l-9-1z" fill="#46f"/><path d="M3188 598l9 3l-7 13l-9-3z" fill="#37f"/><path d="M3179 594l9 4l-7 13l-10-3z" fill="#37f"/><path d="M3169 588l10 6l-8 14l-9-5z" fill="#38f"/><path d="M3160 582l9 6l-7 15l-9-5z" fill="#38f"/><path d="M3151 576l9 6l-7 16l-10-6z" fill="#38e"/><path d="M3141 569l10 7l-8 16l-9-6z" fill="#29e"/><path d="M3132 561l9 8l-7 17l-9-7z" fill="#29e"/><path d="M3123 553l9 8l-7 18l-10-8z" fill="#2ad"/><path d="M3512 313l10-6l-7 4l-10 6z" fill="#9c4"/><path d="M3503 320l9-7l-7 4l-9 6z" fill="#8c5"/><path d="M3494 329l9-9l-7 3l-9 8z" fill="#8c5"/><path d="M3484 338l10-9l-7 2l-10 8z" fill="#7c6"/><path d="M3475 348l9-10l-7 1l-9 9z" fill="#6c7"/><path d="M3466 359l9-11l-7 0l-9 11z" fill="#5c7"/><path d="M3456 371l10-12l-7 0l-10 11z" fill="#4c8"/><path d="M3447 383l9-12l-7-1l-9 11z" fill="#3c9"/><path d="M3438 396l9-13l-7-2l-9 13z" fill="#3ca"/><path d="M3279 585l9-5l-7 4l-9 6z" fill="#46f"/><path d="M3270 589l9-4l-7 5l-9 5z" fill="#46f"/><path d="M3260 592l10-3l-7 6l-10 4z" fill="#46f"/><path d="M3251 594l9-2l-7 7l-9 4z" fill="#46f"/><path d="M3242 595l9-1l-7 9l-9 1z" fill="#46f"/><path d="M3232 595l10 0l-7 9l-10 1z" fill="#47f"/><path d="M3223 593l9 2l-7 10l-9 0z" fill="#37f"/><path d="M3214 591l9 2l-7 12l-9-1z" fill="#37f"/><path d="M3204 588l10 3l-7 13l-10-3z" fill="#37f"/><path d="M3195 583l9 5l-7 13l-9-3z" fill="#38f"/><path d="M3186 578l9 5l-7 15l-9-4z" fill="#38e"/><path d="M3176 572l10 6l-7 16l-10-6z" fill="#38e"/><path d="M3167 566l9 6l-7 16l-9-6z" fill="#29e"/><path d="M3158 558l9 8l-7 16l-9-6z" fill="#29e"/><path d="M3148 551l10 7l-7 18l-10-7z" fill="#2ad"/><path d="M3139 543l9 8l-7 18l-9-8z" fill="#2ad"/><path d="M3130 534l9 9l-7 18l-9-8z" fill="#1ad"/><path d="M3529 303l9-7l-7 5l-9 6z" fill="#ac3"/><path d="M3520 310l9-7l-7 4l-10 6z" fill="#ac4"/><path d="M3510 319l10-9l-8 3l-9 7z" fill="#9c4"/><path d="M3501 328l9-9l-7 1l-9 9z" fill="#8c5"/><path d="M3492 338l9-10l-7 1l-10 9z" fill="#7c6"/><path d="M3482 349l10-11l-8 0l-9 10z" fill="#6c6"/><path d="M3473 361l9-12l-7-1l-9 11z" fill="#5c7"/><path d="M3464 373l9-12l-7-2l-10 12z" fill="#4c8"/><path d="M3454 386l10-13l-8-2l-9 12z" fill="#3c9"/><path d="M3445 399l9-13l-7-3l-9 13z" fill="#3ca"/><path d="M3305 569l9-6l-7 3l-9 7z" fill="#37f"/><path d="M3296 575l9-6l-7 4l-10 7z" fill="#37f"/><path d="M3286 579l10-4l-8 5l-9 5z" fill="#37f"/><path d="M3277 582l9-3l-7 6l-9 4z" fill="#37f"/><path d="M3268 584l9-2l-7 7l-10 3z" fill="#37f"/><path d="M3258 585l10-1l-8 8l-9 2z" fill="#37f"/><path d="M3249 585l9 0l-7 9l-9 1z" fill="#37f"/><path d="M3240 583l9 2l-7 10l-10 0z" fill="#37f"/><path d="M3230 581l10 2l-8 12l-9-2z" fill="#38f"/><path d="M3221 577l9 4l-7 12l-9-2z" fill="#38f"/><path d="M3212 573l9 4l-7 14l-10-3z" fill="#38e"/><path d="M3202 568l10 5l-8 15l-9-5z" fill="#39e"/><path d="M3193 562l9 6l-7 15l-9-5z" fill="#29e"/><path d="M3184 555l9 7l-7 16l-10-6z" fill="#29e"/><path d="M3174 548l10 7l-8 17l-9-6z" fill="#2ad"/><path d="M3165 540l9 8l-7 18l-9-8z" fill="#2ad"/><path d="M3156 532l9 8l-7 18l-10-7z" fill="#1ad"/><path d="M3146 524l10 8l-8 19l-9-8z" fill="#0bc"/><path d="M3137 515l9 9l-7 19l-9-9z" fill="#0bc"/><path d="M3545 292l10-6l-7 5l-10 5z" fill="#bb3"/><path d="M3536 300l9-8l-7 4l-9 7z" fill="#bc3"/><path d="M3527 308l9-8l-7 3l-9 7z" fill="#ac3"/><path d="M3517 317l10-9l-7 2l-10 9z" fill="#9c4"/><path d="M3508 328l9-11l-7 2l-9 9z" fill="#9c4"/><path d="M3499 339l9-11l-7 0l-9 10z" fill="#8c5"/><path d="M3489 350l10-11l-7-1l-10 11z" fill="#6c6"/><path d="M3480 363l9-13l-7-1l-9 12z" fill="#5c7"/><path d="M3471 375l9-12l-7-2l-9 12z" fill="#4c8"/><path d="M3462 389l9-14l-7-2l-10 13z" fill="#3c9"/><path d="M3452 402l10-13l-8-3l-9 13z" fill="#3ca"/><path d="M3322 559l9-6l-7 3l-10 7z" fill="#38f"/><path d="M3312 564l10-5l-8 4l-9 6z" fill="#38f"/><path d="M3303 569l9-5l-7 5l-9 6z" fill="#37f"/><path d="M3294 572l9-3l-7 6l-10 4z" fill="#37f"/><path d="M3284 574l10-2l-8 7l-9 3z" fill="#37f"/><path d="M3275 574l9 0l-7 8l-9 2z" fill="#38f"/><path d="M3266 574l9 0l-7 10l-10 1z" fill="#38f"/><path d="M3256 573l10 1l-8 11l-9 0z" fill="#38f"/><path d="M3247 570l9 3l-7 12l-9-2z" fill="#38e"/><path d="M3238 567l9 3l-7 13l-10-2z" fill="#38e"/><path d="M3228 563l10 4l-8 14l-9-4z" fill="#29e"/><path d="M3219 558l9 5l-7 14l-9-4z" fill="#29e"/><path d="M3210 552l9 6l-7 15l-10-5z" fill="#29e"/><path d="M3200 545l10 7l-8 16l-9-6z" fill="#2ad"/><path d="M3191 538l9 7l-7 17l-9-7z" fill="#2ad"/><path d="M3182 530l9 8l-7 17l-10-7z" fill="#1ad"/><path d="M3172 522l10 8l-8 18l-9-8z" fill="#0bc"/><path d="M3163 514l9 8l-7 18l-9-8z" fill="#0bc"/><path d="M3154 505l9 9l-7 18l-10-8z" fill="#1bb"/><path d="M3144 496l10 9l-8 19l-9-9z" fill="#2ba"/><path d="M3562 282l9-7l-7 5l-9 6z" fill="#db2"/><path d="M3553 289l9-7l-7 4l-10 6z" fill="#cb2"/><path d="M3543 298l10-9l-8 3l-9 8z" fill="#bb3"/><path d="M3534 307l9-9l-7 2l-9 8z" fill="#bc3"/><path d="M3525 317l9-10l-7 1l-10 9z" fill="#ac3"/><path d="M3515 328l10-11l-8 0l-9 11z" fill="#9c4"/><path d="M3506 340l9-12l-7 0l-9 11z" fill="#8c5"/><path d="M3497 352l9-12l-7-1l-10 11z" fill="#7c6"/><path d="M3487 365l10-13l-8-2l-9 13z" fill="#5c7"/><path d="M3478 378l9-13l-7-2l-9 12z" fill="#4c8"/><path d="M3469 392l9-14l-7-3l-9 14z" fill="#3c9"/><path d="M3459 405l10-13l-7-3l-10 13z" fill="#3ca"/><path d="M3329 554l9-5l-7 4l-9 6z" fill="#38e"/><path d="M3319 558l10-4l-7 5l-10 5z" fill="#38e"/><path d="M3310 561l9-3l-7 6l-9 5z" fill="#38e"/><path d="M3301 563l9-2l-7 8l-9 3z" fill="#38e"/><path d="M3291 564l10-1l-7 9l-10 2z" fill="#38e"/><path d="M3282 564l9 0l-7 10l-9 0z" fill="#38e"/><path d="M3273 562l9 2l-7 10l-9 0z" fill="#38e"/><path d="M3263 560l10 2l-7 12l-10-1z" fill="#29e"/><path d="M3254 557l9 3l-7 13l-9-3z" fill="#29e"/><path d="M3245 552l9 5l-7 13l-9-3z" fill="#29e"/><path d="M3235 547l10 5l-7 15l-10-4z" fill="#29d"/><path d="M3226 541l9 6l-7 16l-9-5z" fill="#2ad"/><path d="M3217 535l9 6l-7 17l-9-6z" fill="#2ad"/><path d="M3207 527l10 8l-7 17l-10-7z" fill="#1ad"/><path d="M3198 520l9 7l-7 18l-9-7z" fill="#0bc"/><path d="M3189 512l9 8l-7 18l-9-8z" fill="#0bb"/><path d="M3179 503l10 9l-7 18l-10-8z" fill="#1bb"/><path d="M3170 495l9 8l-7 19l-9-8z" fill="#2ba"/><path d="M3161 486l9 9l-7 19l-9-9z" fill="#3ca"/><path d="M3151 477l10 9l-7 19l-10-9z" fill="#3c9"/><path d="M3579 272l9-7l-7 5l-10 5z" fill="#eb3"/><path d="M3569 279l10-7l-8 3l-9 7z" fill="#db2"/><path d="M3560 288l9-9l-7 3l-9 7z" fill="#db2"/><path d="M3551 297l9-9l-7 1l-10 9z" fill="#cb2"/><path d="M3541 307l10-10l-8 1l-9 9z" fill="#bc3"/><path d="M3532 318l9-11l-7 0l-9 10z" fill="#ac3"/><path d="M3523 330l9-12l-7-1l-10 11z" fill="#9c4"/><path d="M3513 342l10-12l-8-2l-9 12z" fill="#8c5"/><path d="M3504 355l9-13l-7-2l-9 12z" fill="#7c6"/><path d="M3495 368l9-13l-7-3l-10 13z" fill="#5c7"/><path d="M3485 382l10-14l-8-3l-9 13z" fill="#4c8"/><path d="M3476 395l9-13l-7-4l-9 14z" fill="#3c9"/><path d="M3467 409l9-14l-7-3l-10 13z" fill="#3ca"/><path d="M3345 544l10-5l-8 3l-9 7z" fill="#39e"/><path d="M3336 548l9-4l-7 5l-9 5z" fill="#38e"/><path d="M3327 551l9-3l-7 6l-10 4z" fill="#38e"/><path d="M3317 553l10-2l-8 7l-9 3z" fill="#38e"/><path d="M3308 554l9-1l-7 8l-9 2z" fill="#39e"/><path d="M3299 554l9 0l-7 9l-10 1z" fill="#29e"/><path d="M3289 552l10 2l-8 10l-9 0z" fill="#29e"/><path d="M3280 550l9 2l-7 12l-9-2z" fill="#29e"/><path d="M3271 546l9 4l-7 12l-10-2z" fill="#29e"/><path d="M3261 542l10 4l-8 14l-9-3z" fill="#2ad"/><path d="M3252 537l9 5l-7 15l-9-5z" fill="#2ad"/><path d="M3243 531l9 6l-7 15l-10-5z" fill="#1ad"/><path d="M3233 524l10 7l-8 16l-9-6z" fill="#1ad"/><path d="M3224 517l9 7l-7 17l-9-6z" fill="#0bc"/><path d="M3215 510l9 7l-7 18l-10-8z" fill="#0bb"/><path d="M3205 501l10 9l-8 17l-9-7z" fill="#1bb"/><path d="M3196 493l9 8l-7 19l-9-8z" fill="#2ba"/><path d="M3187 484l9 9l-7 19l-10-9z" fill="#3ca"/><path d="M3177 476l10 8l-8 19l-9-8z" fill="#3c9"/><path d="M3168 467l9 9l-7 19l-9-9z" fill="#4c8"/><path d="M3159 459l9 8l-7 19l-10-9z" fill="#5c7"/><path d="M3595 262l9-7l-7 5l-9 5z" fill="#eb3"/><path d="M3586 269l9-7l-7 3l-9 7z" fill="#eb3"/><path d="M3576 278l10-9l-7 3l-10 7z" fill="#db3"/><path d="M3567 287l9-9l-7 1l-9 9z" fill="#db2"/><path d="M3558 297l9-10l-7 1l-9 9z" fill="#cb2"/><path d="M3548 308l10-11l-7 0l-10 10z" fill="#bb3"/><path d="M3539 320l9-12l-7-1l-9 11z" fill="#ac3"/><path d="M3530 332l9-12l-7-2l-9 12z" fill="#9c4"/><path d="M3520 345l10-13l-7-2l-10 12z" fill="#8c5"/><path d="M3511 358l9-13l-7-3l-9 13z" fill="#7c6"/><path d="M3502 372l9-14l-7-3l-9 13z" fill="#5c7"/><path d="M3492 385l10-13l-7-4l-10 14z" fill="#4c8"/><path d="M3483 399l9-14l-7-3l-9 13z" fill="#3c9"/><path d="M3474 413l9-14l-7-4l-9 14z" fill="#3ca"/><path d="M3362 534l9-5l-7 3l-9 7z" fill="#29e"/><path d="M3352 538l10-4l-7 5l-10 5z" fill="#29e"/><path d="M3343 541l9-3l-7 6l-9 4z" fill="#29e"/><path d="M3334 543l9-2l-7 7l-9 3z" fill="#29e"/><path d="M3324 544l10-1l-7 8l-10 2z" fill="#29e"/><path d="M3315 544l9 0l-7 9l-9 1z" fill="#29e"/><path d="M3306 542l9 2l-7 10l-9 0z" fill="#29e"/><path d="M3296 540l10 2l-7 12l-10-2z" fill="#29d"/><path d="M3287 537l9 3l-7 12l-9-2z" fill="#2ad"/><path d="M3278 532l9 5l-7 13l-9-4z" fill="#2ad"/><path d="M3268 527l10 5l-7 14l-10-4z" fill="#1ad"/><path d="M3259 521l9 6l-7 15l-9-5z" fill="#1ac"/><path d="M3250 515l9 6l-7 16l-9-6z" fill="#0bc"/><path d="M3240 507l10 8l-7 16l-10-7z" fill="#0bb"/><path d="M3231 500l9 7l-7 17l-9-7z" fill="#1bb"/><path d="M3222 492l9 8l-7 17l-9-7z" fill="#2ba"/><path d="M3212 483l10 9l-7 18l-10-9z" fill="#3ca"/><path d="M3203 475l9 8l-7 18l-9-8z" fill="#3c9"/><path d="M3194 466l9 9l-7 18l-9-9z" fill="#4c8"/><path d="M3184 457l10 9l-7 18l-10-8z" fill="#5c7"/><path d="M3175 449l9 8l-7 19l-9-9z" fill="#7c6"/><path d="M3166 441l9 8l-7 18l-9-8z" fill="#8c5"/><path d="M3621 246l9-5l-7 5l-9 4z" fill="#fb3"/><path d="M3612 252l9-6l-7 4l-10 5z" fill="#fb4"/><path d="M3602 260l10-8l-8 3l-9 7z" fill="#fb4"/><path d="M3593 268l9-8l-7 2l-9 7z" fill="#eb3"/><path d="M3584 278l9-10l-7 1l-10 9z" fill="#eb3"/><path d="M3574 288l10-10l-8 0l-9 9z" fill="#db2"/><path d="M3565 299l9-11l-7-1l-9 10z" fill="#cb2"/><path d="M3556 311l9-12l-7-2l-10 11z" fill="#bb3"/><path d="M3546 323l10-12l-8-3l-9 12z" fill="#ac3"/><path d="M3537 336l9-13l-7-3l-9 12z" fill="#9c4"/><path d="M3528 349l9-13l-7-4l-10 13z" fill="#8c5"/><path d="M3518 362l10-13l-8-4l-9 13z" fill="#7c6"/><path d="M3509 376l9-14l-7-4l-9 14z" fill="#5c7"/><path d="M3500 390l9-14l-7-4l-10 13z" fill="#4c8"/><path d="M3490 403l10-13l-8-5l-9 14z" fill="#3c9"/><path d="M3481 417l9-14l-7-4l-9 14z" fill="#3ca"/><path d="M3388 519l9-6l-7 2l-10 7z" fill="#2ad"/><path d="M3378 524l10-5l-8 3l-9 7z" fill="#29d"/><path d="M3369 529l9-5l-7 5l-9 5z" fill="#29d"/><path d="M3360 532l9-3l-7 5l-10 4z" fill="#29e"/><path d="M3350 534l10-2l-8 6l-9 3z" fill="#29d"/><path d="M3341 535l9-1l-7 7l-9 2z" fill="#29d"/><path d="M3332 534l9 1l-7 8l-10 1z" fill="#2ad"/><path d="M3322 533l10 1l-8 10l-9 0z" fill="#2ad"/><path d="M3313 531l9 2l-7 11l-9-2z" fill="#2ad"/><path d="M3304 527l9 4l-7 11l-10-2z" fill="#2ad"/><path d="M3294 523l10 4l-8 13l-9-3z" fill="#1ad"/><path d="M3285 518l9 5l-7 14l-9-5z" fill="#1bc"/><path d="M3276 512l9 6l-7 14l-10-5z" fill="#0bc"/><path d="M3266 505l10 7l-8 15l-9-6z" fill="#0bb"/><path d="M3257 498l9 7l-7 16l-9-6z" fill="#1bb"/><path d="M3248 490l9 8l-7 17l-10-8z" fill="#2ba"/><path d="M3238 482l10 8l-8 17l-9-7z" fill="#3ca"/><path d="M3229 474l9 8l-7 18l-9-8z" fill="#3c9"/><path d="M3220 465l9 9l-7 18l-10-9z" fill="#4c8"/><path d="M3210 456l10 9l-8 18l-9-8z" fill="#5c7"/><path d="M3201 448l9 8l-7 19l-9-9z" fill="#7c6"/><path d="M3192 440l9 8l-7 18l-10-9z" fill="#8c5"/><path d="M3182 431l10 9l-8 17l-9-8z" fill="#9c4"/><path d="M3173 424l9 7l-7 18l-9-8z" fill="#ac3"/><path d="M3637 237l10-5l-7 4l-10 5z" fill="#fc3"/><path d="M3628 243l9-6l-7 4l-9 5z" fill="#fc3"/><path d="M3619 251l9-8l-7 3l-9 6z" fill="#fb3"/><path d="M3609 259l10-8l-7 1l-10 8z" fill="#fb4"/><path d="M3600 269l9-10l-7 1l-9 8z" fill="#eb3"/><path d="M3591 279l9-10l-7-1l-9 10z" fill="#eb3"/><path d="M3581 290l10-11l-7-1l-10 10z" fill="#db3"/><path d="M3572 302l9-12l-7-2l-9 11z" fill="#cb2"/><path d="M3563 314l9-12l-7-3l-9 12z" fill="#bb3"/><path d="M3553 327l10-13l-7-3l-10 12z" fill="#ac3"/><path d="M3544 340l9-13l-7-4l-9 13z" fill="#9c4"/><path d="M3535 353l9-13l-7-4l-9 13z" fill="#8c5"/><path d="M3525 367l10-14l-7-4l-10 13z" fill="#6c6"/><path d="M3516 381l9-14l-7-5l-9 14z" fill="#5c7"/><path d="M3507 394l9-13l-7-5l-9 14z" fill="#4c8"/><path d="M3497 408l10-14l-7-4l-10 13z" fill="#3c9"/><path d="M3488 421l9-13l-7-5l-9 14z" fill="#3ca"/><path d="M3395 516l9-6l-7 3l-9 6z" fill="#2ad"/><path d="M3385 520l10-4l-7 3l-10 5z" fill="#2ad"/><path d="M3376 523l9-3l-7 4l-9 5z" fill="#2ad"/><path d="M3367 525l9-2l-7 6l-9 3z" fill="#2ad"/><path d="M3357 526l10-1l-7 7l-10 2z" fill="#2ad"/><path d="M3348 525l9 1l-7 8l-9 1z" fill="#2ad"/><path d="M3339 524l9 1l-7 10l-9-1z" fill="#2ad"/><path d="M3329 522l10 2l-7 10l-10-1z" fill="#1ad"/><path d="M3320 518l9 4l-7 11l-9-2z" fill="#1ad"/><path d="M3311 514l9 4l-7 13l-9-4z" fill="#0bc"/><path d="M3301 509l10 5l-7 13l-10-4z" fill="#0bc"/><path d="M3292 503l9 6l-7 14l-9-5z" fill="#0bb"/><path d="M3283 496l9 7l-7 15l-9-6z" fill="#1bb"/><path d="M3273 489l10 7l-7 16l-10-7z" fill="#2ba"/><path d="M3264 481l9 8l-7 16l-9-7z" fill="#3ca"/><path d="M3255 473l9 8l-7 17l-9-8z" fill="#3c9"/><path d="M3245 465l10 8l-7 17l-10-8z" fill="#4c8"/><path d="M3236 456l9 9l-7 17l-9-8z" fill="#5c7"/><path d="M3227 447l9 9l-7 18l-9-9z" fill="#6c6"/><path d="M3217 439l10 8l-7 18l-10-9z" fill="#8c5"/><path d="M3208 431l9 8l-7 17l-9-8z" fill="#9c4"/><path d="M3199 422l9 9l-7 17l-9-8z" fill="#ac3"/><path d="M3189 415l10 7l-7 18l-10-9z" fill="#bb3"/><path d="M3180 408l9 7l-7 16l-9-7z" fill="#cb2"/><path d="M3663 223l10-4l-8 5l-9 3z" fill="#fc3"/><path d="M3654 229l9-6l-7 4l-9 5z" fill="#fc3"/><path d="M3645 235l9-6l-7 3l-10 5z" fill="#fc3"/><path d="M3635 242l10-7l-8 2l-9 6z" fill="#fc3"/><path d="M3626 251l9-9l-7 1l-9 8z" fill="#fc3"/><path d="M3617 260l9-9l-7 0l-10 8z" fill="#fb4"/><path d="M3607 270l10-10l-8-1l-9 10z" fill="#fb4"/><path d="M3598 281l9-11l-7-1l-9 10z" fill="#eb3"/><path d="M3589 293l9-12l-7-2l-10 11z" fill="#db3"/><path d="M3579 305l10-12l-8-3l-9 12z" fill="#cb2"/><path d="M3570 318l9-13l-7-3l-9 12z" fill="#bb3"/><path d="M3561 331l9-13l-7-4l-10 13z" fill="#ac3"/><path d="M3551 345l10-14l-8-4l-9 13z" fill="#9c4"/><path d="M3542 358l9-13l-7-5l-9 13z" fill="#8c5"/><path d="M3533 372l9-14l-7-5l-10 14z" fill="#6c6"/><path d="M3523 386l10-14l-8-5l-9 14z" fill="#5c7"/><path d="M3514 399l9-13l-7-5l-9 13z" fill="#4c8"/><path d="M3505 412l9-13l-7-5l-10 14z" fill="#3c9"/><path d="M3495 425l10-13l-8-4l-9 13z" fill="#3ca"/><path d="M3411 507l10-5l-8 2l-9 6z" fill="#1ad"/><path d="M3402 511l9-4l-7 3l-9 6z" fill="#2ad"/><path d="M3393 514l9-3l-7 5l-10 4z" fill="#2ad"/><path d="M3383 516l10-2l-8 6l-9 3z" fill="#2ad"/><path d="M3374 517l9-1l-7 7l-9 2z" fill="#1ad"/><path d="M3365 517l9 0l-7 8l-10 1z" fill="#1ad"/><path d="M3355 516l10 1l-8 9l-9-1z" fill="#1ad"/><path d="M3346 513l9 3l-7 9l-9-1z" fill="#1bc"/><path d="M3337 510l9 3l-7 11l-10-2z" fill="#0bc"/><path d="M3327 505l10 5l-8 12l-9-4z" fill="#0bc"/><path d="M3318 500l9 5l-7 13l-9-4z" fill="#0bb"/><path d="M3309 494l9 6l-7 14l-10-5z" fill="#1bb"/><path d="M3299 488l10 6l-8 15l-9-6z" fill="#2ba"/><path d="M3290 481l9 7l-7 15l-9-7z" fill="#3ca"/><path d="M3281 473l9 8l-7 15l-10-7z" fill="#3c9"/><path d="M3271 465l10 8l-8 16l-9-8z" fill="#4c8"/><path d="M3262 456l9 9l-7 16l-9-8z" fill="#5c7"/><path d="M3253 448l9 8l-7 17l-10-8z" fill="#6c6"/><path d="M3243 439l10 9l-8 17l-9-9z" fill="#8c5"/><path d="M3234 431l9 8l-7 17l-9-9z" fill="#9c4"/><path d="M3225 422l9 9l-7 16l-10-8z" fill="#ac3"/><path d="M3215 414l10 8l-8 17l-9-8z" fill="#bb3"/><path d="M3206 406l9 8l-7 17l-9-9z" fill="#cb2"/><path d="M3197 399l9 7l-7 16l-10-7z" fill="#db3"/><path d="M3187 393l10 6l-8 16l-9-7z" fill="#eb3"/><path d="M3680 216l9-5l-7 5l-9 3z" fill="#fd3"/><path d="M3670 221l10-5l-7 3l-10 4z" fill="#fd3"/><path d="M3661 227l9-6l-7 2l-9 6z" fill="#fd3"/><path d="M3652 235l9-8l-7 2l-9 6z" fill="#fc3"/><path d="M3642 243l10-8l-7 0l-10 7z" fill="#fc3"/><path d="M3633 253l9-10l-7-1l-9 9z" fill="#fc3"/><path d="M3624 263l9-10l-7-2l-9 9z" fill="#fb4"/><path d="M3614 274l10-11l-7-3l-10 10z" fill="#fb4"/><path d="M3605 285l9-11l-7-4l-9 11z" fill="#eb3"/><path d="M3596 298l9-13l-7-4l-9 12z" fill="#db2"/><path d="M3586 311l10-13l-7-5l-10 12z" fill="#cb2"/><path d="M3577 324l9-13l-7-6l-9 13z" fill="#bc3"/><path d="M3568 337l9-13l-7-6l-9 13z" fill="#ac3"/><path d="M3558 351l10-14l-7-6l-10 14z" fill="#9c4"/><path d="M3549 364l9-13l-7-6l-9 13z" fill="#7c6"/><path d="M3540 378l9-14l-7-6l-9 14z" fill="#6c7"/><path d="M3530 392l10-14l-7-6l-10 14z" fill="#5c8"/><path d="M3521 405l9-13l-7-6l-9 13z" fill="#4c8"/><path d="M3512 417l9-12l-7-6l-9 13z" fill="#3c9"/><path d="M3502 430l10-13l-7-5l-10 13z" fill="#3ca"/><path d="M3418 504l10-5l-7 3l-10 5z" fill="#1ad"/><path d="M3409 507l9-3l-7 3l-9 4z" fill="#1ad"/><path d="M3400 509l9-2l-7 4l-9 3z" fill="#1ad"/><path d="M3390 509l10 0l-7 5l-10 2z" fill="#1ad"/><path d="M3381 509l9 0l-7 7l-9 1z" fill="#1ac"/><path d="M3372 508l9 1l-7 8l-9 0z" fill="#1bc"/><path d="M3362 505l10 3l-7 9l-10-1z" fill="#0bc"/><path d="M3353 502l9 3l-7 11l-9-3z" fill="#0bc"/><path d="M3344 498l9 4l-7 11l-9-3z" fill="#0bb"/><path d="M3334 493l10 5l-7 12l-10-5z" fill="#1bb"/><path d="M3325 487l9 6l-7 12l-9-5z" fill="#2ba"/><path d="M3316 480l9 7l-7 13l-9-6z" fill="#3ca"/><path d="M3306 473l10 7l-7 14l-10-6z" fill="#3c9"/><path d="M3297 465l9 8l-7 15l-9-7z" fill="#4c8"/><path d="M3288 457l9 8l-7 16l-9-8z" fill="#5c8"/><path d="M3278 449l10 8l-7 16l-10-8z" fill="#6c7"/><path d="M3269 440l9 9l-7 16l-9-9z" fill="#7c5"/><path d="M3260 431l9 9l-7 16l-9-8z" fill="#9c4"/><path d="M3250 423l10 8l-7 17l-10-9z" fill="#ac3"/><path d="M3241 414l9 9l-7 16l-9-8z" fill="#bb3"/><path d="M3232 406l9 8l-7 17l-9-9z" fill="#cb2"/><path d="M3222 399l10 7l-7 16l-10-8z" fill="#db2"/><path d="M3213 391l9 8l-7 15l-9-8z" fill="#eb3"/><path d="M3204 385l9 6l-7 15l-9-7z" fill="#fb4"/><path d="M3194 379l10 6l-7 14l-10-6z" fill="#fb3"/><path d="M3706 204l9-3l-7 5l-10 2z" fill="#ed2"/><path d="M3687 214l9-5l-7 2l-9 5z" fill="#ed2"/><path d="M3678 220l9-6l-7 2l-10 5z" fill="#fd2"/><path d="M3668 228l10-8l-8 1l-9 6z" fill="#fd3"/><path d="M3659 236l9-8l-7-1l-9 8z" fill="#fc3"/><path d="M3650 246l9-10l-7-1l-10 8z" fill="#fc3"/><path d="M3640 256l10-10l-8-3l-9 10z" fill="#fc3"/><path d="M3631 267l9-11l-7-3l-9 10z" fill="#fb4"/><path d="M3622 279l9-12l-7-4l-10 11z" fill="#eb3"/><path d="M3612 291l10-12l-8-5l-9 11z" fill="#eb3"/><path d="M3603 304l9-13l-7-6l-9 13z" fill="#db2"/><path d="M3594 317l9-13l-7-6l-10 13z" fill="#cb2"/><path d="M3584 330l10-13l-8-6l-9 13z" fill="#bc3"/><path d="M3575 344l9-14l-7-6l-9 13z" fill="#9c4"/><path d="M3566 358l9-14l-7-7l-10 14z" fill="#8c5"/><path d="M3556 371l10-13l-8-7l-9 13z" fill="#7c6"/><path d="M3547 385l9-14l-7-7l-9 14z" fill="#5c7"/><path d="M3538 398l9-13l-7-7l-10 14z" fill="#4c8"/><path d="M3528 411l10-13l-8-6l-9 13z" fill="#3c9"/><path d="M3519 423l9-12l-7-6l-9 12z" fill="#3c9"/><path d="M3510 434l9-11l-7-6l-10 13z" fill="#2ba"/><path d="M3435 497l9-4l-7 1l-9 5z" fill="#1bc"/><path d="M3426 500l9-3l-7 2l-10 5z" fill="#1bc"/><path d="M3416 502l10-2l-8 4l-9 3z" fill="#1bc"/><path d="M3407 503l9-1l-7 5l-9 2z" fill="#0bc"/><path d="M3398 502l9 1l-7 6l-10 0z" fill="#0bc"/><path d="M3388 501l10 1l-8 7l-9 0z" fill="#0bc"/><path d="M3379 499l9 2l-7 8l-9-1z" fill="#0bc"/><path d="M3370 495l9 4l-7 9l-10-3z" fill="#0bb"/><path d="M3360 491l10 4l-8 10l-9-3z" fill="#1bb"/><path d="M3351 486l9 5l-7 11l-9-4z" fill="#2ba"/><path d="M3342 480l9 6l-7 12l-10-5z" fill="#3ba"/><path d="M3332 473l10 7l-8 13l-9-6z" fill="#3c9"/><path d="M3323 466l9 7l-7 14l-9-7z" fill="#3c9"/><path d="M3314 458l9 8l-7 14l-10-7z" fill="#4c8"/><path d="M3304 450l10 8l-8 15l-9-8z" fill="#6c7"/><path d="M3295 442l9 8l-7 15l-9-8z" fill="#7c6"/><path d="M3286 433l9 9l-7 15l-10-8z" fill="#8c5"/><path d="M3276 424l10 9l-8 16l-9-9z" fill="#9c4"/><path d="M3267 416l9 8l-7 16l-9-9z" fill="#bc3"/><path d="M3258 408l9 8l-7 15l-10-8z" fill="#cb2"/><path d="M3248 399l10 9l-8 15l-9-9z" fill="#db2"/><path d="M3239 392l9 7l-7 15l-9-8z" fill="#eb3"/><path d="M3230 385l9 7l-7 14l-10-7z" fill="#eb4"/><path d="M3220 378l10 7l-8 14l-9-8z" fill="#fb4"/><path d="M3211 372l9 6l-7 13l-9-6z" fill="#fc3"/><path d="M3202 367l9 5l-7 13l-10-6z" fill="#fc3"/><path d="M3713 203l9-5l-7 3l-9 3z" fill="#ee2"/><path d="M3703 208l10-5l-7 1l-10 5z" fill="#ee2"/><path d="M3694 214l9-6l-7 1l-9 5z" fill="#ed2"/><path d="M3685 222l9-8l-7 0l-9 6z" fill="#ed2"/><path d="M3675 230l10-8l-7-2l-10 8z" fill="#fd3"/><path d="M3666 240l9-10l-7-2l-9 8z" fill="#fc3"/><path d="M3657 250l9-10l-7-4l-9 10z" fill="#fc3"/><path d="M3647 261l10-11l-7-4l-10 10z" fill="#fc3"/><path d="M3638 272l9-11l-7-5l-9 11z" fill="#fb4"/><path d="M3629 285l9-13l-7-5l-9 12z" fill="#eb3"/><path d="M3619 298l10-13l-7-6l-10 12z" fill="#db3"/><path d="M3610 311l9-13l-7-7l-9 13z" fill="#db2"/><path d="M3601 324l9-13l-7-7l-9 13z" fill="#bb3"/><path d="M3591 338l10-14l-7-7l-10 13z" fill="#ac3"/><path d="M3582 351l9-13l-7-8l-9 14z" fill="#9c4"/><path d="M3573 365l9-14l-7-7l-9 14z" fill="#8c5"/><path d="M3563 379l10-14l-7-7l-10 13z" fill="#6c6"/><path d="M3554 392l9-13l-7-8l-9 14z" fill="#5c7"/><path d="M3545 404l9-12l-7-7l-9 13z" fill="#4c8"/><path d="M3535 417l10-13l-7-6l-10 13z" fill="#3c9"/><path d="M3526 428l9-11l-7-6l-9 12z" fill="#3c9"/><path d="M3517 439l9-11l-7-5l-9 11z" fill="#2ba"/><path d="M3442 494l9-3l-7 2l-9 4z" fill="#0bc"/><path d="M3433 496l9-2l-7 3l-9 3z" fill="#0bc"/><path d="M3424 497l9-1l-7 4l-10 2z" fill="#0bc"/><path d="M3414 496l10 1l-8 5l-9 1z" fill="#0bc"/><path d="M3405 495l9 1l-7 7l-9-1z" fill="#0bc"/><path d="M3396 492l9 3l-7 7l-10-1z" fill="#0bb"/><path d="M3386 489l10 3l-8 9l-9-2z" fill="#1bb"/><path d="M3377 485l9 4l-7 10l-9-4z" fill="#2ba"/><path d="M3368 480l9 5l-7 10l-10-4z" fill="#2ba"/><path d="M3358 474l10 6l-8 11l-9-5z" fill="#3c9"/><path d="M3349 467l9 7l-7 12l-9-6z" fill="#3c9"/><path d="M3340 460l9 7l-7 13l-10-7z" fill="#4c8"/><path d="M3330 452l10 8l-8 13l-9-7z" fill="#5c7"/><path d="M3321 444l9 8l-7 14l-9-8z" fill="#6c6"/><path d="M3312 436l9 8l-7 14l-10-8z" fill="#8c5"/><path d="M3302 427l10 9l-8 14l-9-8z" fill="#9c4"/><path d="M3293 418l9 9l-7 15l-9-9z" fill="#ac3"/><path d="M3284 410l9 8l-7 15l-10-9z" fill="#bb3"/><path d="M3274 401l10 9l-8 14l-9-8z" fill="#db2"/><path d="M3265 393l9 8l-7 15l-9-8z" fill="#eb3"/><path d="M3256 386l9 7l-7 15l-10-9z" fill="#eb3"/><path d="M3246 378l10 8l-8 13l-9-7z" fill="#fb4"/><path d="M3237 372l9 6l-7 14l-9-7z" fill="#fc3"/><path d="M3228 366l9 6l-7 13l-10-7z" fill="#fc3"/><path d="M3218 361l10 5l-8 12l-9-6z" fill="#fc3"/><path d="M3209 357l9 4l-7 11l-9-5z" fill="#fd3"/><path d="M3729 197l10-4l-8 2l-9 3z" fill="#ee2"/><path d="M3720 203l9-6l-7 1l-9 5z" fill="#ee2"/><path d="M3711 209l9-6l-7 0l-10 5z" fill="#ee2"/><path d="M3701 217l10-8l-8-1l-9 6z" fill="#ed2"/><path d="M3692 225l9-8l-7-3l-9 8z" fill="#ed2"/><path d="M3683 234l9-9l-7-3l-10 8z" fill="#fd3"/><path d="M3673 245l10-11l-8-4l-9 10z" fill="#fc3"/><path d="M3664 256l9-11l-7-5l-9 10z" fill="#fc3"/><path d="M3655 267l9-11l-7-6l-10 11z" fill="#fb3"/><path d="M3645 280l10-13l-8-6l-9 11z" fill="#fb4"/><path d="M3636 292l9-12l-7-8l-9 13z" fill="#eb3"/><path d="M3627 306l9-14l-7-7l-10 13z" fill="#db2"/><path d="M3617 319l10-13l-8-8l-9 13z" fill="#cb2"/><path d="M3608 333l9-14l-7-8l-9 13z" fill="#bc3"/><path d="M3599 346l9-13l-7-9l-10 14z" fill="#ac4"/><path d="M3589 360l10-14l-8-8l-9 13z" fill="#8c5"/><path d="M3580 373l9-13l-7-9l-9 14z" fill="#7c6"/><path d="M3571 387l9-14l-7-8l-10 14z" fill="#6c7"/><path d="M3561 399l10-12l-8-8l-9 13z" fill="#5c8"/><path d="M3552 412l9-13l-7-7l-9 12z" fill="#4c8"/><path d="M3543 423l9-11l-7-8l-10 13z" fill="#3c9"/><path d="M3533 434l10-11l-8-6l-9 11z" fill="#3ca"/><path d="M3524 444l9-10l-7-6l-9 11z" fill="#2ba"/><path d="M3459 489l9-3l-7 0l-10 5z" fill="#0bc"/><path d="M3449 491l10-2l-8 2l-9 3z" fill="#0bc"/><path d="M3440 491l9 0l-7 3l-9 2z" fill="#0bc"/><path d="M3431 491l9 0l-7 5l-9 1z" fill="#0bb"/><path d="M3421 490l10 1l-7 6l-10-1z" fill="#1bb"/><path d="M3412 487l9 3l-7 6l-9-1z" fill="#1bb"/><path d="M3403 484l9 3l-7 8l-9-3z" fill="#2bb"/><path d="M3393 480l10 4l-7 8l-10-3z" fill="#2ba"/><path d="M3384 475l9 5l-7 9l-9-4z" fill="#3ca"/><path d="M3375 469l9 6l-7 10l-9-5z" fill="#3c9"/><path d="M3365 462l10 7l-7 11l-10-6z" fill="#4c8"/><path d="M3356 455l9 7l-7 12l-9-7z" fill="#5c8"/><path d="M3347 447l9 8l-7 12l-9-7z" fill="#6c7"/><path d="M3337 439l10 8l-7 13l-10-8z" fill="#7c6"/><path d="M3309 413l10 9l-7 14l-10-9z" fill="#bc3"/><path d="M3300 405l9 8l-7 14l-9-9z" fill="#cb2"/><path d="M3291 396l9 9l-7 13l-9-8z" fill="#db2"/><path d="M3281 388l10 8l-7 14l-10-9z" fill="#eb3"/><path d="M3272 381l9 7l-7 13l-9-8z" fill="#fb4"/><path d="M3263 373l9 8l-7 12l-9-7z" fill="#fb3"/><path d="M3253 367l10 6l-7 13l-10-8z" fill="#fc3"/><path d="M3244 361l9 6l-7 11l-9-6z" fill="#fc3"/><path d="M3235 356l9 5l-7 11l-9-6z" fill="#fd3"/><path d="M3225 351l10 5l-7 10l-10-5z" fill="#ed2"/><path d="M3216 348l9 3l-7 10l-9-4z" fill="#ed2"/><path d="M3755 189l9-3l-7 2l-9 2z" fill="#fe2"/><path d="M3746 193l9-4l-7 1l-9 3z" fill="#ee2"/><path d="M3736 199l10-6l-7 0l-10 4z" fill="#ee2"/><path d="M3727 205l9-6l-7-2l-9 6z" fill="#ee2"/><path d="M3718 213l9-8l-7-2l-9 6z" fill="#ee2"/><path d="M3709 221l9-8l-7-4l-10 8z" fill="#ed2"/><path d="M3699 230l10-9l-8-4l-9 8z" fill="#fd2"/><path d="M3690 241l9-11l-7-5l-9 9z" fill="#fd3"/><path d="M3681 252l9-11l-7-7l-10 11z" fill="#fc3"/><path d="M3671 263l10-11l-8-7l-9 11z" fill="#fc3"/><path d="M3662 276l9-13l-7-7l-9 11z" fill="#fb4"/><path d="M3653 288l9-12l-7-9l-10 13z" fill="#eb3"/><path d="M3643 301l10-13l-8-8l-9 12z" fill="#db3"/><path d="M3634 315l9-14l-7-9l-9 14z" fill="#db2"/><path d="M3625 329l9-14l-7-9l-10 13z" fill="#bb3"/><path d="M3615 342l10-13l-8-10l-9 14z" fill="#ac3"/><path d="M3606 356l9-14l-7-9l-9 13z" fill="#9c4"/><path d="M3597 369l9-13l-7-10l-10 14z" fill="#8c5"/><path d="M3587 382l10-13l-8-9l-9 13z" fill="#6c6"/><path d="M3578 395l9-13l-7-9l-9 14z" fill="#5c7"/><path d="M3569 407l9-12l-7-8l-10 12z" fill="#4c8"/><path d="M3559 419l10-12l-8-8l-9 13z" fill="#3c9"/><path d="M3550 430l9-11l-7-7l-9 11z" fill="#3c9"/><path d="M3541 440l9-10l-7-7l-10 11z" fill="#3ca"/><path d="M3531 450l10-10l-8-6l-9 10z" fill="#2ba"/><path d="M3475 484l10-3l-8 0l-9 5z" fill="#0bb"/><path d="M3466 486l9-2l-7 2l-9 3z" fill="#0bb"/><path d="M3457 487l9-1l-7 3l-10 2z" fill="#0bb"/><path d="M3447 487l10 0l-8 4l-9 0z" fill="#1bb"/><path d="M3438 486l9 1l-7 4l-9 0z" fill="#1bb"/><path d="M3429 483l9 3l-7 5l-10-1z" fill="#2bb"/><path d="M3419 480l10 3l-8 7l-9-3z" fill="#2ba"/><path d="M3410 476l9 4l-7 7l-9-3z" fill="#3ca"/><path d="M3401 470l9 6l-7 8l-10-4z" fill="#3c9"/><path d="M3391 464l10 6l-8 10l-9-5z" fill="#3c9"/><path d="M3382 458l9 6l-7 11l-9-6z" fill="#4c8"/><path d="M3373 451l9 7l-7 11l-10-7z" fill="#5c7"/><path d="M3363 443l10 8l-8 11l-9-7z" fill="#6c6"/><path d="M3354 435l9 8l-7 12l-9-8z" fill="#8c5"/><path d="M3345 426l9 9l-7 12l-10-8z" fill="#9c4"/><path d="M3298 384l9 8l-7 13l-9-9z" fill="#eb3"/><path d="M3289 376l9 8l-7 12l-10-8z" fill="#fb4"/><path d="M3279 369l10 7l-8 12l-9-7z" fill="#fc3"/><path d="M3270 363l9 6l-7 12l-9-8z" fill="#fc3"/><path d="M3261 357l9 6l-7 10l-10-6z" fill="#fd3"/><path d="M3251 352l10 5l-8 10l-9-6z" fill="#fd2"/><path d="M3242 347l9 5l-7 9l-9-5z" fill="#ed2"/><path d="M3233 344l9 3l-7 9l-10-5z" fill="#ee2"/><path d="M3223 342l10 2l-8 7l-9-3z" fill="#ee2"/><path d="M3772 186l9-3l-7 1l-10 2z" fill="#fe2"/><path d="M3762 190l10-4l-8 0l-9 3z" fill="#fe2"/><path d="M3753 196l9-6l-7-1l-9 4z" fill="#ee2"/><path d="M3744 202l9-6l-7-3l-10 6z" fill="#ee2"/><path d="M3734 209l10-7l-8-3l-9 6z" fill="#ee2"/><path d="M3725 218l9-9l-7-4l-9 8z" fill="#ee2"/><path d="M3716 227l9-9l-7-5l-9 8z" fill="#ed2"/><path d="M3706 237l10-10l-7-6l-10 9z" fill="#fd3"/><path d="M3697 248l9-11l-7-7l-9 11z" fill="#fc3"/><path d="M3688 260l9-12l-7-7l-9 11z" fill="#fc3"/><path d="M3678 272l10-12l-7-8l-10 11z" fill="#fb3"/><path d="M3669 285l9-13l-7-9l-9 13z" fill="#fb4"/><path d="M3660 298l9-13l-7-9l-9 12z" fill="#eb3"/><path d="M3650 312l10-14l-7-10l-10 13z" fill="#db2"/><path d="M3641 325l9-13l-7-11l-9 14z" fill="#cb2"/><path d="M3632 339l9-14l-7-10l-9 14z" fill="#bc3"/><path d="M3622 353l10-14l-7-10l-10 13z" fill="#9c4"/><path d="M3613 366l9-13l-7-11l-9 14z" fill="#8c5"/><path d="M3604 379l9-13l-7-10l-9 13z" fill="#7c6"/><path d="M3594 392l10-13l-7-10l-10 13z" fill="#6c7"/><path d="M3585 404l9-12l-7-10l-9 13z" fill="#4c8"/><path d="M3576 416l9-12l-7-9l-9 12z" fill="#4c8"/><path d="M3566 427l10-11l-7-9l-10 12z" fill="#3c9"/><path d="M3557 437l9-10l-7-8l-9 11z" fill="#3ca"/><path d="M3548 447l9-10l-7-7l-9 10z" fill="#2ba"/><path d="M3538 455l10-8l-7-7l-10 10z" fill="#2ba"/><path d="M3482 483l10-2l-7 0l-10 3z" fill="#1bb"/><path d="M3473 484l9-1l-7 1l-9 2z" fill="#1bb"/><path d="M3464 484l9 0l-7 2l-9 1z" fill="#1bb"/><path d="M3454 483l10 1l-7 3l-10 0z" fill="#1bb"/><path d="M3445 480l9 3l-7 4l-9-1z" fill="#2ba"/><path d="M3436 477l9 3l-7 6l-9-3z" fill="#2ba"/><path d="M3426 472l10 5l-7 6l-10-3z" fill="#3ca"/><path d="M3417 467l9 5l-7 8l-9-4z" fill="#3c9"/><path d="M3408 461l9 6l-7 9l-9-6z" fill="#4c8"/><path d="M3398 455l10 6l-7 9l-10-6z" fill="#5c8"/><path d="M3389 447l9 8l-7 9l-9-6z" fill="#6c7"/><path d="M3380 440l9 7l-7 11l-9-7z" fill="#7c6"/><path d="M3370 432l10 8l-7 11l-10-8z" fill="#8c5"/><path d="M3361 423l9 9l-7 11l-9-8z" fill="#9c4"/><path d="M3286 359l10 7l-7 10l-10-7z" fill="#fc3"/><path d="M3277 354l9 5l-7 10l-9-6z" fill="#fd3"/><path d="M3268 348l9 6l-7 9l-9-6z" fill="#ed2"/><path d="M3258 344l10 4l-7 9l-10-5z" fill="#ee2"/><path d="M3249 341l9 3l-7 8l-9-5z" fill="#ee2"/><path d="M3240 338l9 3l-7 6l-9-3z" fill="#ee2"/><path d="M3230 337l10 1l-7 6l-10-2z" fill="#ee2"/><path d="M3798 181l9-2l-7 1l-10 1z" fill="#ff1"/><path d="M3788 184l10-3l-8 0l-9 2z" fill="#ff1"/><path d="M3779 188l9-4l-7-1l-9 3z" fill="#ff1"/><path d="M3770 194l9-6l-7-2l-10 4z" fill="#fe2"/><path d="M3760 200l10-6l-8-4l-9 6z" fill="#ee2"/><path d="M3751 207l9-7l-7-4l-9 6z" fill="#ee2"/><path d="M3742 216l9-9l-7-5l-10 7z" fill="#ee2"/><path d="M3732 225l10-9l-8-7l-9 9z" fill="#ed2"/><path d="M3723 235l9-10l-7-7l-9 9z" fill="#fd3"/><path d="M3714 246l9-11l-7-8l-10 10z" fill="#fc3"/><path d="M3704 258l10-12l-8-9l-9 11z" fill="#fc3"/><path d="M3695 270l9-12l-7-10l-9 12z" fill="#fb3"/><path d="M3686 283l9-13l-7-10l-10 12z" fill="#fb4"/><path d="M3676 296l10-13l-8-11l-9 13z" fill="#eb3"/><path d="M3667 310l9-14l-7-11l-9 13z" fill="#db2"/><path d="M3658 323l9-13l-7-12l-10 14z" fill="#cb2"/><path d="M3648 337l10-14l-8-11l-9 13z" fill="#bc3"/><path d="M3639 351l9-14l-7-12l-9 14z" fill="#ac4"/><path d="M3630 364l9-13l-7-12l-10 14z" fill="#8c5"/><path d="M3620 377l10-13l-8-11l-9 13z" fill="#7c6"/><path d="M3611 390l9-13l-7-11l-9 13z" fill="#6c7"/><path d="M3602 402l9-12l-7-11l-10 13z" fill="#5c7"/><path d="M3592 414l10-12l-8-10l-9 12z" fill="#4c8"/><path d="M3583 425l9-11l-7-10l-9 12z" fill="#3c9"/><path d="M3574 435l9-10l-7-9l-10 11z" fill="#3c9"/><path d="M3564 445l10-10l-8-8l-9 10z" fill="#3ca"/><path d="M3555 453l9-8l-7-8l-9 10z" fill="#2ba"/><path d="M3546 460l9-7l-7-6l-10 8z" fill="#2ba"/><path d="M3490 482l9-1l-7 0l-10 2z" fill="#1bb"/><path d="M3480 482l10 0l-8 1l-9 1z" fill="#1bb"/><path d="M3471 480l9 2l-7 2l-9 0z" fill="#2ba"/><path d="M3462 478l9 2l-7 4l-10-1z" fill="#2ba"/><path d="M3452 475l10 3l-8 5l-9-3z" fill="#3ca"/><path d="M3443 470l9 5l-7 5l-9-3z" fill="#3c9"/><path d="M3434 465l9 5l-7 7l-10-5z" fill="#3c9"/><path d="M3424 459l10 6l-8 7l-9-5z" fill="#4c8"/><path d="M3415 453l9 6l-7 8l-9-6z" fill="#5c7"/><path d="M3406 445l9 8l-7 8l-10-6z" fill="#6c7"/><path d="M3396 438l10 7l-8 10l-9-8z" fill="#7c6"/><path d="M3387 430l9 8l-7 9l-9-7z" fill="#8c5"/><path d="M3378 421l9 9l-7 10l-10-8z" fill="#ac4"/><path d="M3368 413l10 8l-8 11l-9-9z" fill="#bc3"/><path d="M3266 339l9 3l-7 6l-10-4z" fill="#ee2"/><path d="M3256 336l10 3l-8 5l-9-3z" fill="#ee2"/><path d="M3247 335l9 1l-7 5l-9-3z" fill="#fe2"/><path d="M3238 335l9 0l-7 3l-10-1z" fill="#ff1"/><path d="M3814 180l9-2l-7 0l-9 1z" fill="#ff1"/><path d="M3805 183l9-3l-7-1l-9 2z" fill="#ff1"/><path d="M3795 187l10-4l-7-2l-10 3z" fill="#ff1"/><path d="M3786 193l9-6l-7-3l-9 4z" fill="#fe2"/><path d="M3777 199l9-6l-7-5l-9 6z" fill="#fe2"/><path d="M3767 206l10-7l-7-5l-10 6z" fill="#ee2"/><path d="M3758 215l9-9l-7-6l-9 7z" fill="#ee2"/><path d="M3749 224l9-9l-7-8l-9 9z" fill="#ed2"/><path d="M3739 234l10-10l-7-8l-10 9z" fill="#fd2"/><path d="M3730 245l9-11l-7-9l-9 10z" fill="#fd3"/><path d="M3721 257l9-12l-7-10l-9 11z" fill="#fc3"/><path d="M3711 269l10-12l-7-11l-10 12z" fill="#fc3"/><path d="M3702 282l9-13l-7-11l-9 12z" fill="#fb4"/><path d="M3693 295l9-13l-7-12l-9 13z" fill="#eb3"/><path d="M3683 309l10-14l-7-12l-10 13z" fill="#db3"/><path d="M3674 322l9-13l-7-13l-9 14z" fill="#cb2"/><path d="M3665 336l9-14l-7-12l-9 13z" fill="#bb3"/><path d="M3655 350l10-14l-7-13l-10 14z" fill="#ac3"/><path d="M3646 363l9-13l-7-13l-9 14z" fill="#9c4"/><path d="M3637 376l9-13l-7-12l-9 13z" fill="#7c5"/><path d="M3627 389l10-13l-7-12l-10 13z" fill="#6c6"/><path d="M3618 401l9-12l-7-12l-9 13z" fill="#5c7"/><path d="M3609 413l9-12l-7-11l-9 12z" fill="#4c8"/><path d="M3599 424l10-11l-7-11l-10 12z" fill="#3c9"/><path d="M3590 434l9-10l-7-10l-9 11z" fill="#3c9"/><path d="M3581 444l9-10l-7-9l-9 10z" fill="#3ca"/><path d="M3571 452l10-8l-7-9l-10 10z" fill="#2ba"/><path d="M3562 459l9-7l-7-7l-9 8z" fill="#2ba"/><path d="M3553 466l9-7l-7-6l-9 7z" fill="#2bb"/><path d="M3506 481l9-1l-7-1l-9 2z" fill="#1bb"/><path d="M3497 481l9 0l-7 0l-9 1z" fill="#2bb"/><path d="M3487 480l10 1l-7 1l-10 0z" fill="#2ba"/><path d="M3478 477l9 3l-7 2l-9-2z" fill="#2ba"/><path d="M3469 474l9 3l-7 3l-9-2z" fill="#3ca"/><path d="M3459 469l10 5l-7 4l-10-3z" fill="#3c9"/><path d="M3450 464l9 5l-7 6l-9-5z" fill="#3c9"/><path d="M3441 458l9 6l-7 6l-9-5z" fill="#4c8"/><path d="M3431 452l10 6l-7 7l-10-6z" fill="#5c7"/><path d="M3422 445l9 7l-7 7l-9-6z" fill="#6c6"/><path d="M3413 437l9 8l-7 8l-9-8z" fill="#7c5"/><path d="M3403 429l10 8l-7 8l-10-7z" fill="#9c4"/><path d="M3394 420l9 9l-7 9l-9-8z" fill="#ac3"/><path d="M3385 412l9 8l-7 10l-9-9z" fill="#bb3"/><path d="M3375 403l10 9l-7 9l-10-8z" fill="#cb2"/><path d="M3245 335l9-1l-7 1l-9 0z" fill="#ff1"/><path d="M3821 183l10-3l-8-2l-9 2z" fill="#ff1"/><path d="M3812 187l9-4l-7-3l-9 3z" fill="#ff1"/><path d="M3803 193l9-6l-7-4l-10 4z" fill="#ff1"/><path d="M3793 199l10-6l-8-6l-9 6z" fill="#fe2"/><path d="M3784 207l9-8l-7-6l-9 6z" fill="#ee2"/><path d="M3775 215l9-8l-7-8l-10 7z" fill="#ee2"/><path d="M3765 224l10-9l-8-9l-9 9z" fill="#ed2"/><path d="M3756 235l9-11l-7-9l-9 9z" fill="#fd2"/><path d="M3747 246l9-11l-7-11l-10 10z" fill="#fd3"/><path d="M3737 257l10-11l-8-12l-9 11z" fill="#fc3"/><path d="M3728 270l9-13l-7-12l-9 12z" fill="#fc3"/><path d="M3719 282l9-12l-7-13l-10 12z" fill="#fb4"/><path d="M3709 296l10-14l-8-13l-9 13z" fill="#eb3"/><path d="M3700 309l9-13l-7-14l-9 13z" fill="#db3"/><path d="M3691 323l9-14l-7-14l-10 14z" fill="#cb2"/><path d="M3681 336l10-13l-8-14l-9 13z" fill="#bb3"/><path d="M3672 350l9-14l-7-14l-9 14z" fill="#ac3"/><path d="M3663 363l9-13l-7-14l-10 14z" fill="#9c4"/><path d="M3653 377l10-14l-8-13l-9 13z" fill="#7c5"/><path d="M3644 389l9-12l-7-14l-9 13z" fill="#6c6"/><path d="M3635 402l9-13l-7-13l-10 13z" fill="#5c7"/><path d="M3625 413l10-11l-8-13l-9 12z" fill="#4c8"/><path d="M3616 424l9-11l-7-12l-9 12z" fill="#3c9"/><path d="M3607 434l9-10l-7-11l-10 11z" fill="#3c9"/><path d="M3597 444l10-10l-8-10l-9 10z" fill="#3ca"/><path d="M3588 452l9-8l-7-10l-9 10z" fill="#2ba"/><path d="M3579 460l9-8l-7-8l-10 8z" fill="#2ba"/><path d="M3569 466l10-6l-8-8l-9 7z" fill="#2bb"/><path d="M3560 471l9-5l-7-7l-9 7z" fill="#1bb"/><path d="M3513 481l10 0l-8-1l-9 1z" fill="#2bb"/><path d="M3504 480l9 1l-7 0l-9 0z" fill="#2ba"/><path d="M3495 477l9 3l-7 1l-10-1z" fill="#2ba"/><path d="M3485 474l10 3l-8 3l-9-3z" fill="#3ca"/><path d="M3476 470l9 4l-7 3l-9-3z" fill="#3c9"/><path d="M3467 465l9 5l-7 4l-10-5z" fill="#3c9"/><path d="M3457 459l10 6l-8 4l-9-5z" fill="#4c8"/><path d="M3448 452l9 7l-7 5l-9-6z" fill="#5c7"/><path d="M3439 445l9 7l-7 6l-10-6z" fill="#6c6"/><path d="M3429 437l10 8l-8 7l-9-7z" fill="#7c5"/><path d="M3420 429l9 8l-7 8l-9-8z" fill="#9c4"/><path d="M3411 421l9 8l-7 8l-10-8z" fill="#ac3"/><path d="M3401 412l10 9l-8 8l-9-9z" fill="#bb3"/><path d="M3392 403l9 9l-7 8l-9-8z" fill="#cb2"/><path d="M3261 335l10-1l-8 0l-9 0z" fill="#ff1"/><path d="M3252 337l9-2l-7-1l-9 1z" fill="#ff1"/><path d="M3828 189l10-4l-7-5l-10 3z" fill="#ff1"/><path d="M3819 194l9-5l-7-6l-9 4z" fill="#fe2"/><path d="M3810 201l9-7l-7-7l-9 6z" fill="#fe2"/><path d="M3800 208l10-7l-7-8l-10 6z" fill="#ee2"/><path d="M3791 216l9-8l-7-9l-9 8z" fill="#ee2"/><path d="M3782 226l9-10l-7-9l-9 8z" fill="#ed2"/><path d="M3772 236l10-10l-7-11l-10 9z" fill="#fd2"/><path d="M3763 247l9-11l-7-12l-9 11z" fill="#fd3"/><path d="M3754 259l9-12l-7-12l-9 11z" fill="#fc3"/><path d="M3744 271l10-12l-7-13l-10 11z" fill="#fc3"/><path d="M3735 284l9-13l-7-14l-9 13z" fill="#fb4"/><path d="M3726 297l9-13l-7-14l-9 12z" fill="#eb3"/><path d="M3716 310l10-13l-7-15l-10 14z" fill="#db3"/><path d="M3707 324l9-14l-7-14l-9 13z" fill="#cb2"/><path d="M3698 338l9-14l-7-15l-9 14z" fill="#bb3"/><path d="M3688 351l10-13l-7-15l-10 13z" fill="#ac3"/><path d="M3679 365l9-14l-7-15l-9 14z" fill="#9c4"/><path d="M3670 378l9-13l-7-15l-9 13z" fill="#7c5"/><path d="M3660 391l10-13l-7-15l-10 14z" fill="#6c6"/><path d="M3651 403l9-12l-7-14l-9 12z" fill="#5c7"/><path d="M3642 415l9-12l-7-14l-9 13z" fill="#4c8"/><path d="M3632 426l10-11l-7-13l-10 11z" fill="#3c9"/><path d="M3623 436l9-10l-7-13l-9 11z" fill="#3c9"/><path d="M3614 445l9-9l-7-12l-9 10z" fill="#3ca"/><path d="M3604 454l10-9l-7-11l-10 10z" fill="#2ba"/><path d="M3595 461l9-7l-7-10l-9 8z" fill="#2ba"/><path d="M3586 467l9-6l-7-9l-9 8z" fill="#2bb"/><path d="M3576 473l10-6l-7-7l-10 6z" fill="#1bb"/><path d="M3567 477l9-4l-7-7l-9 5z" fill="#1bb"/><path d="M3520 481l10 1l-7-1l-10 0z" fill="#2ba"/><path d="M3511 479l9 2l-7 0l-9-1z" fill="#2ba"/><path d="M3502 475l9 4l-7 1l-9-3z" fill="#3ca"/><path d="M3492 471l10 4l-7 2l-10-3z" fill="#3c9"/><path d="M3483 466l9 5l-7 3l-9-4z" fill="#3c9"/><path d="M3474 460l9 6l-7 4l-9-5z" fill="#4c8"/><path d="M3464 453l10 7l-7 5l-10-6z" fill="#5c7"/><path d="M3455 446l9 7l-7 6l-9-7z" fill="#6c6"/><path d="M3446 438l9 8l-7 6l-9-7z" fill="#7c5"/><path d="M3436 430l10 8l-7 7l-10-8z" fill="#9c4"/><path d="M3427 422l9 8l-7 7l-9-8z" fill="#ac3"/><path d="M3418 413l9 9l-7 7l-9-8z" fill="#bb3"/><path d="M3408 405l10 8l-7 8l-10-9z" fill="#cb2"/><path d="M3399 396l9 9l-7 7l-9-9z" fill="#db3"/><path d="M3278 336l9-1l-7-1l-9 0z" fill="#ff1"/><path d="M3268 338l10-2l-7-2l-10 1z" fill="#ff1"/><path d="M3259 341l9-3l-7-3l-9 2z" fill="#ff1"/><path d="M3836 197l9-6l-7-6l-10 4z" fill="#fe2"/><path d="M3826 203l10-6l-8-8l-9 5z" fill="#ee2"/><path d="M3817 210l9-7l-7-9l-9 7z" fill="#ee2"/><path d="M3808 219l9-9l-7-9l-10 7z" fill="#ee2"/><path d="M3798 228l10-9l-8-11l-9 8z" fill="#ed2"/><path d="M3789 238l9-10l-7-12l-9 10z" fill="#fd3"/><path d="M3780 249l9-11l-7-12l-10 10z" fill="#fc3"/><path d="M3770 261l10-12l-8-13l-9 11z" fill="#fc3"/><path d="M3761 273l9-12l-7-14l-9 12z" fill="#fb3"/><path d="M3752 286l9-13l-7-14l-10 12z" fill="#fb4"/><path d="M3742 299l10-13l-8-15l-9 13z" fill="#eb3"/><path d="M3733 313l9-14l-7-15l-9 13z" fill="#db2"/><path d="M3724 326l9-13l-7-16l-10 13z" fill="#cb2"/><path d="M3714 340l10-14l-8-16l-9 14z" fill="#bc3"/><path d="M3705 354l9-14l-7-16l-9 14z" fill="#ac4"/><path d="M3696 367l9-13l-7-16l-10 13z" fill="#8c5"/><path d="M3686 380l10-13l-8-16l-9 14z" fill="#7c6"/><path d="M3677 393l9-13l-7-15l-9 13z" fill="#6c7"/><path d="M3668 405l9-12l-7-15l-10 13z" fill="#5c7"/><path d="M3658 417l10-12l-8-14l-9 12z" fill="#4c8"/><path d="M3649 428l9-11l-7-14l-9 12z" fill="#3c9"/><path d="M3640 438l9-10l-7-13l-10 11z" fill="#3c9"/><path d="M3630 448l10-10l-8-12l-9 10z" fill="#3ca"/><path d="M3621 456l9-8l-7-12l-9 9z" fill="#2ba"/><path d="M3612 463l9-7l-7-11l-10 9z" fill="#2ba"/><path d="M3602 470l10-7l-8-9l-9 7z" fill="#1bb"/><path d="M3593 475l9-5l-7-9l-9 6z" fill="#1bb"/><path d="M3584 479l9-4l-7-8l-10 6z" fill="#1bb"/><path d="M3574 482l10-3l-8-6l-9 4z" fill="#1bb"/><path d="M3537 484l9 1l-7-2l-9-1z" fill="#2ba"/><path d="M3528 481l9 3l-7-2l-10-1z" fill="#2ba"/><path d="M3518 478l10 3l-8 0l-9-2z" fill="#3ca"/><path d="M3509 473l9 5l-7 1l-9-4z" fill="#3c9"/><path d="M3500 468l9 5l-7 2l-10-4z" fill="#3c9"/><path d="M3490 462l10 6l-8 3l-9-5z" fill="#4c8"/><path d="M3481 456l9 6l-7 4l-9-6z" fill="#5c7"/><path d="M3472 449l9 7l-7 4l-10-7z" fill="#6c7"/><path d="M3462 441l10 8l-8 4l-9-7z" fill="#7c6"/><path d="M3453 433l9 8l-7 5l-9-8z" fill="#8c5"/><path d="M3444 424l9 9l-7 5l-10-8z" fill="#ac4"/><path d="M3434 416l10 8l-8 6l-9-8z" fill="#bc3"/><path d="M3425 407l9 9l-7 6l-9-9z" fill="#cb2"/><path d="M3416 399l9 8l-7 6l-10-8z" fill="#db2"/><path d="M3406 390l10 9l-8 6l-9-9z" fill="#eb3"/><path d="M3304 338l9 0l-7-1l-10-1z" fill="#ff1"/><path d="M3294 339l10-1l-8-2l-9-1z" fill="#ff1"/><path d="M3285 341l9-2l-7-4l-9 1z" fill="#ff1"/><path d="M3276 344l9-3l-7-5l-10 2z" fill="#ff1"/><path d="M3266 348l10-4l-8-6l-9 3z" fill="#ff1"/><path d="M3843 207l9-7l-7-9l-9 6z" fill="#ee2"/><path d="M3833 214l10-7l-7-10l-10 6z" fill="#ee2"/><path d="M3824 222l9-8l-7-11l-9 7z" fill="#ed2"/><path d="M3815 232l9-10l-7-12l-9 9z" fill="#ed2"/><path d="M3805 242l10-10l-7-13l-10 9z" fill="#fd3"/><path d="M3796 253l9-11l-7-14l-9 10z" fill="#fc3"/><path d="M3787 265l9-12l-7-15l-9 11z" fill="#fc3"/><path d="M3777 277l10-12l-7-16l-10 12z" fill="#fb3"/><path d="M3768 290l9-13l-7-16l-9 12z" fill="#fb4"/><path d="M3759 303l9-13l-7-17l-9 13z" fill="#eb3"/><path d="M3749 316l10-13l-7-17l-10 13z" fill="#db2"/><path d="M3740 330l9-14l-7-17l-9 14z" fill="#cb2"/><path d="M3731 344l9-14l-7-17l-9 13z" fill="#bc3"/><path d="M3721 357l10-13l-7-18l-10 14z" fill="#9c4"/><path d="M3712 371l9-14l-7-17l-9 14z" fill="#8c5"/><path d="M3703 384l9-13l-7-17l-9 13z" fill="#7c6"/><path d="M3693 397l10-13l-7-17l-10 13z" fill="#6c7"/><path d="M3684 409l9-12l-7-17l-9 13z" fill="#4c8"/><path d="M3675 421l9-12l-7-16l-9 12z" fill="#4c8"/><path d="M3665 432l10-11l-7-16l-10 12z" fill="#3c9"/><path d="M3656 442l9-10l-7-15l-9 11z" fill="#3ca"/><path d="M3647 451l9-9l-7-14l-9 10z" fill="#2ba"/><path d="M3637 460l10-9l-7-13l-10 10z" fill="#2ba"/><path d="M3628 467l9-7l-7-12l-9 8z" fill="#1bb"/><path d="M3619 473l9-6l-7-11l-9 7z" fill="#1bb"/><path d="M3609 479l10-6l-7-10l-10 7z" fill="#1bb"/><path d="M3600 483l9-4l-7-9l-9 5z" fill="#1bb"/><path d="M3591 486l9-3l-7-8l-9 4z" fill="#1bb"/><path d="M3581 488l10-2l-7-7l-10 3z" fill="#1bb"/><path d="M3544 485l9 2l-7-2l-9-1z" fill="#2ba"/><path d="M3535 481l9 4l-7-1l-9-3z" fill="#2ba"/><path d="M3525 477l10 4l-7 0l-10-3z" fill="#3ca"/><path d="M3516 472l9 5l-7 1l-9-5z" fill="#3c9"/><path d="M3507 466l9 6l-7 1l-9-5z" fill="#4c8"/><path d="M3497 459l10 7l-7 2l-10-6z" fill="#5c8"/><path d="M3488 452l9 7l-7 3l-9-6z" fill="#6c7"/><path d="M3479 444l9 8l-7 4l-9-7z" fill="#7c6"/><path d="M3469 436l10 8l-7 5l-10-8z" fill="#8c5"/><path d="M3460 428l9 8l-7 5l-9-8z" fill="#9c4"/><path d="M3451 419l9 9l-7 5l-9-9z" fill="#bc3"/><path d="M3441 411l10 8l-7 5l-10-8z" fill="#cb2"/><path d="M3432 402l9 9l-7 5l-9-9z" fill="#db2"/><path d="M3423 394l9 8l-7 5l-9-8z" fill="#eb3"/><path d="M3413 386l10 8l-7 5l-10-9z" fill="#fb4"/><path d="M3330 342l9 1l-7-1l-10-3z" fill="#ee2"/><path d="M3320 341l10 1l-8-3l-9-1z" fill="#fe2"/><path d="M3311 342l9-1l-7-3l-9 0z" fill="#fe2"/><path d="M3302 344l9-2l-7-4l-10 1z" fill="#ff1"/><path d="M3292 347l10-3l-8-5l-9 2z" fill="#fe2"/><path d="M3283 352l9-5l-7-6l-9 3z" fill="#fe2"/><path d="M3274 357l9-5l-7-8l-10 4z" fill="#ee2"/><path d="M3850 219l9-8l-7-11l-9 7z" fill="#ee2"/><path d="M3841 227l9-8l-7-12l-10 7z" fill="#ed2"/><path d="M3831 236l10-9l-8-13l-9 8z" fill="#fd2"/><path d="M3822 247l9-11l-7-14l-9 10z" fill="#fd3"/><path d="M3813 258l9-11l-7-15l-10 10z" fill="#fc3"/><path d="M3803 269l10-11l-8-16l-9 11z" fill="#fc3"/><path d="M3794 282l9-13l-7-16l-9 12z" fill="#fb4"/><path d="M3785 294l9-12l-7-17l-10 12z" fill="#eb3"/><path d="M3775 308l10-14l-8-17l-9 13z" fill="#db3"/><path d="M3766 321l9-13l-7-18l-9 13z" fill="#db2"/><path d="M3757 335l9-14l-7-18l-10 13z" fill="#bb3"/><path d="M3747 348l10-13l-8-19l-9 14z" fill="#ac3"/><path d="M3738 362l9-14l-7-18l-9 14z" fill="#9c4"/><path d="M3729 375l9-13l-7-18l-10 13z" fill="#8c5"/><path d="M3719 389l10-14l-8-18l-9 14z" fill="#6c6"/><path d="M3710 401l9-12l-7-18l-9 13z" fill="#5c7"/><path d="M3701 414l9-13l-7-17l-10 13z" fill="#4c8"/><path d="M3691 425l10-11l-8-17l-9 12z" fill="#3c9"/><path d="M3682 436l9-11l-7-16l-9 12z" fill="#3c9"/><path d="M3673 446l9-10l-7-15l-10 11z" fill="#3ca"/><path d="M3663 456l10-10l-8-14l-9 10z" fill="#2ba"/><path d="M3654 464l9-8l-7-14l-9 9z" fill="#2bb"/><path d="M3645 472l9-8l-7-13l-10 9z" fill="#1bb"/><path d="M3635 478l10-6l-8-12l-9 7z" fill="#1bb"/><path d="M3626 483l9-5l-7-11l-9 6z" fill="#0bb"/><path d="M3617 488l9-5l-7-10l-10 6z" fill="#0bb"/><path d="M3607 491l10-3l-8-9l-9 4z" fill="#0bb"/><path d="M3598 493l9-2l-7-8l-9 3z" fill="#0bb"/><path d="M3589 493l9 0l-7-7l-10 2z" fill="#0bb"/><path d="M3561 489l9 3l-7-4l-10-1z" fill="#2bb"/><path d="M3551 486l10 3l-8-2l-9-2z" fill="#2ba"/><path d="M3542 482l9 4l-7-1l-9-4z" fill="#3ca"/><path d="M3533 477l9 5l-7-1l-10-4z" fill="#3c9"/><path d="M3523 471l10 6l-8 0l-9-5z" fill="#3c9"/><path d="M3514 464l9 7l-7 1l-9-6z" fill="#4c8"/><path d="M3505 457l9 7l-7 2l-10-7z" fill="#5c7"/><path d="M3495 449l10 8l-8 2l-9-7z" fill="#6c6"/><path d="M3486 441l9 8l-7 3l-9-8z" fill="#8c5"/><path d="M3477 433l9 8l-7 3l-10-8z" fill="#9c4"/><path d="M3467 424l10 9l-8 3l-9-8z" fill="#ac3"/><path d="M3458 415l9 9l-7 4l-9-9z" fill="#bb3"/><path d="M3449 407l9 8l-7 4l-10-8z" fill="#db2"/><path d="M3439 398l10 9l-8 4l-9-9z" fill="#eb3"/><path d="M3430 390l9 8l-7 4l-9-8z" fill="#eb3"/><path d="M3346 346l9 2l-7-3l-9-2z" fill="#ee2"/><path d="M3337 346l9 0l-7-3l-9-1z" fill="#ee2"/><path d="M3327 347l10-1l-7-4l-10-1z" fill="#fe2"/><path d="M3318 349l9-2l-7-6l-9 1z" fill="#fe2"/><path d="M3309 352l9-3l-7-7l-9 2z" fill="#fe2"/><path d="M3299 356l10-4l-7-8l-10 3z" fill="#ee2"/><path d="M3290 362l9-6l-7-9l-9 5z" fill="#ee2"/><path d="M3281 368l9-6l-7-10l-9 5z" fill="#ee2"/><path d="M3857 233l9-9l-7-13l-9 8z" fill="#ed2"/><path d="M3848 242l9-9l-7-14l-9 8z" fill="#fd3"/><path d="M3838 252l10-10l-7-15l-10 9z" fill="#fc3"/><path d="M3829 263l9-11l-7-16l-9 11z" fill="#fc3"/><path d="M3820 275l9-12l-7-16l-9 11z" fill="#fb3"/><path d="M3810 287l10-12l-7-17l-10 11z" fill="#fb4"/><path d="M3801 300l9-13l-7-18l-9 13z" fill="#eb3"/><path d="M3792 313l9-13l-7-18l-9 12z" fill="#db2"/><path d="M3782 327l10-14l-7-19l-10 14z" fill="#cb2"/><path d="M3773 340l9-13l-7-19l-9 13z" fill="#bc3"/><path d="M3764 354l9-14l-7-19l-9 14z" fill="#ac4"/><path d="M3754 368l10-14l-7-19l-10 13z" fill="#8c5"/><path d="M3745 381l9-13l-7-20l-9 14z" fill="#7c6"/><path d="M3736 394l9-13l-7-19l-9 13z" fill="#6c7"/><path d="M3726 407l10-13l-7-19l-10 14z" fill="#5c8"/><path d="M3717 419l9-12l-7-18l-9 12z" fill="#4c8"/><path d="M3708 431l9-12l-7-18l-9 13z" fill="#3c9"/><path d="M3698 442l10-11l-7-17l-10 11z" fill="#3ca"/><path d="M3689 452l9-10l-7-17l-9 11z" fill="#2ba"/><path d="M3680 461l9-9l-7-16l-9 10z" fill="#2bb"/><path d="M3671 470l9-9l-7-15l-10 10z" fill="#1bb"/><path d="M3661 477l10-7l-8-14l-9 8z" fill="#1bb"/><path d="M3652 484l9-7l-7-13l-9 8z" fill="#0bb"/><path d="M3643 489l9-5l-7-12l-10 6z" fill="#0bc"/><path d="M3633 493l10-4l-8-11l-9 5z" fill="#0bc"/><path d="M3624 496l9-3l-7-10l-9 5z" fill="#0bc"/><path d="M3615 498l9-2l-7-8l-10 3z" fill="#0bc"/><path d="M3605 499l10-1l-8-7l-9 2z" fill="#0bc"/><path d="M3596 499l9 0l-7-6l-9 0z" fill="#0bb"/><path d="M3568 492l9 3l-7-3l-9-3z" fill="#2bb"/><path d="M3559 487l9 5l-7-3l-10-3z" fill="#2ba"/><path d="M3549 482l10 5l-8-1l-9-4z" fill="#3ca"/><path d="M3540 476l9 6l-7 0l-9-5z" fill="#3c9"/><path d="M3531 470l9 6l-7 1l-10-6z" fill="#4c8"/><path d="M3521 462l10 8l-8 1l-9-7z" fill="#5c8"/><path d="M3512 455l9 7l-7 2l-9-7z" fill="#6c7"/><path d="M3503 447l9 8l-7 2l-10-8z" fill="#7c6"/><path d="M3493 438l10 9l-8 2l-9-8z" fill="#8c5"/><path d="M3484 430l9 8l-7 3l-9-8z" fill="#ac4"/><path d="M3475 421l9 9l-7 3l-10-9z" fill="#bc3"/><path d="M3465 412l10 9l-8 3l-9-9z" fill="#cb2"/><path d="M3456 404l9 8l-7 3l-9-8z" fill="#db2"/><path d="M3447 396l9 8l-7 3l-10-9z" fill="#eb3"/><path d="M3437 388l10 8l-8 2l-9-8z" fill="#fb4"/><path d="M3372 353l9 3l-7-3l-9-3z" fill="#ee2"/><path d="M3363 352l9 1l-7-3l-10-2z" fill="#ee2"/><path d="M3353 352l10 0l-8-4l-9-2z" fill="#ee2"/><path d="M3344 353l9-1l-7-6l-9 0z" fill="#ee2"/><path d="M3335 355l9-2l-7-7l-10 1z" fill="#ee2"/><path d="M3325 358l10-3l-8-8l-9 2z" fill="#ee2"/><path d="M3316 362l9-4l-7-9l-9 3z" fill="#ee2"/><path d="M3307 367l9-5l-7-10l-10 4z" fill="#ee2"/><path d="M3297 374l10-7l-8-11l-9 6z" fill="#ee2"/><path d="M3288 381l9-7l-7-12l-9 6z" fill="#ed2"/><path d="M3864 249l10-10l-8-15l-9 9z" fill="#fc3"/><path d="M3855 259l9-10l-7-16l-9 9z" fill="#fc3"/><path d="M3846 270l9-11l-7-17l-10 10z" fill="#fc3"/><path d="M3836 282l10-12l-8-18l-9 11z" fill="#fb4"/><path d="M3827 294l9-12l-7-19l-9 12z" fill="#eb3"/><path d="M3818 307l9-13l-7-19l-10 12z" fill="#db3"/><path d="M3808 320l10-13l-8-20l-9 13z" fill="#db2"/><path d="M3799 333l9-13l-7-20l-9 13z" fill="#bb3"/><path d="M3790 347l9-14l-7-20l-10 14z" fill="#ac3"/><path d="M3780 361l10-14l-8-20l-9 13z" fill="#9c4"/><path d="M3771 374l9-13l-7-21l-9 14z" fill="#8c5"/><path d="M3762 388l9-14l-7-20l-10 14z" fill="#6c6"/><path d="M3752 401l10-13l-8-20l-9 13z" fill="#5c7"/><path d="M3743 414l9-13l-7-20l-9 13z" fill="#4c8"/><path d="M3734 426l9-12l-7-20l-10 13z" fill="#3c9"/><path d="M3724 438l10-12l-8-19l-9 12z" fill="#3c9"/><path d="M3715 449l9-11l-7-19l-9 12z" fill="#2ba"/><path d="M3706 459l9-10l-7-18l-10 11z" fill="#2ba"/><path d="M3696 468l10-9l-8-17l-9 10z" fill="#1bb"/><path d="M3687 477l9-9l-7-16l-9 9z" fill="#0bb"/><path d="M3678 484l9-7l-7-16l-9 9z" fill="#0bc"/><path d="M3668 490l10-6l-7-14l-10 7z" fill="#0bc"/><path d="M3659 496l9-6l-7-13l-9 7z" fill="#0bc"/><path d="M3650 500l9-4l-7-12l-9 5z" fill="#0bc"/><path d="M3640 503l10-3l-7-11l-10 4z" fill="#0bc"/><path d="M3631 505l9-2l-7-10l-9 3z" fill="#0bc"/><path d="M3622 506l9-1l-7-9l-9 2z" fill="#0bc"/><path d="M3612 505l10 1l-7-8l-10 1z" fill="#0bc"/><path d="M3603 504l9 1l-7-6l-9 0z" fill="#0bc"/><path d="M3594 502l9 2l-7-5l-9-2z" fill="#0bb"/><path d="M3584 498l10 4l-7-5l-10-2z" fill="#1bb"/><path d="M3575 494l9 4l-7-3l-9-3z" fill="#2ba"/><path d="M3566 489l9 5l-7-2l-9-5z" fill="#2ba"/><path d="M3556 483l10 6l-7-2l-10-5z" fill="#3c9"/><path d="M3547 476l9 7l-7-1l-9-6z" fill="#3c9"/><path d="M3538 469l9 7l-7 0l-9-6z" fill="#4c8"/><path d="M3528 461l10 8l-7 1l-10-8z" fill="#5c7"/><path d="M3519 453l9 8l-7 1l-9-7z" fill="#6c6"/><path d="M3510 445l9 8l-7 2l-9-8z" fill="#8c5"/><path d="M3500 436l10 9l-7 2l-10-9z" fill="#9c4"/><path d="M3491 428l9 8l-7 2l-9-8z" fill="#ac3"/><path d="M3482 419l9 9l-7 2l-9-9z" fill="#bb3"/><path d="M3472 411l10 8l-7 2l-10-9z" fill="#db2"/><path d="M3463 403l9 8l-7 1l-9-8z" fill="#db3"/><path d="M3454 395l9 8l-7 1l-9-8z" fill="#eb3"/><path d="M3444 388l10 7l-7 1l-10-8z" fill="#fb4"/><path d="M3388 360l10 2l-7-3l-10-3z" fill="#ed2"/><path d="M3379 359l9 1l-7-4l-9-3z" fill="#ee2"/><path d="M3370 358l9 1l-7-6l-9-1z" fill="#ee2"/><path d="M3360 359l10-1l-7-6l-10 0z" fill="#ee2"/><path d="M3351 361l9-2l-7-7l-9 1z" fill="#ee2"/><path d="M3342 364l9-3l-7-8l-9 2z" fill="#ee2"/><path d="M3332 369l10-5l-7-9l-10 3z" fill="#ee2"/><path d="M3323 374l9-5l-7-11l-9 4z" fill="#ed2"/><path d="M3314 380l9-6l-7-12l-9 5z" fill="#ed2"/><path d="M3304 388l10-8l-7-13l-10 7z" fill="#ed2"/><path d="M3295 396l9-8l-7-14l-9 7z" fill="#fd3"/><path d="M3872 267l9-11l-7-17l-10 10z" fill="#fc3"/><path d="M3862 278l10-11l-8-18l-9 10z" fill="#fb4"/><path d="M3853 289l9-11l-7-19l-9 11z" fill="#eb3"/><path d="M3844 302l9-13l-7-19l-10 12z" fill="#eb3"/><path d="M3834 314l10-12l-8-20l-9 12z" fill="#db2"/><path d="M3825 328l9-14l-7-20l-9 13z" fill="#cb2"/><path d="M3816 341l9-13l-7-21l-10 13z" fill="#bc3"/><path d="M3806 355l10-14l-8-21l-9 13z" fill="#9c4"/><path d="M3797 368l9-13l-7-22l-9 14z" fill="#8c5"/><path d="M3788 382l9-14l-7-21l-10 14z" fill="#7c6"/><path d="M3778 395l10-13l-8-21l-9 13z" fill="#5c7"/><path d="M3769 409l9-14l-7-21l-9 14z" fill="#4c8"/><path d="M3760 421l9-12l-7-21l-10 13z" fill="#3c9"/><path d="M3750 434l10-13l-8-20l-9 13z" fill="#3c9"/><path d="M3741 445l9-11l-7-20l-9 12z" fill="#2ba"/><path d="M3732 456l9-11l-7-19l-10 12z" fill="#2ba"/><path d="M3722 466l10-10l-8-18l-9 11z" fill="#1bb"/><path d="M3713 476l9-10l-7-17l-9 10z" fill="#0bb"/><path d="M3704 484l9-8l-7-17l-10 9z" fill="#0bc"/><path d="M3694 492l10-8l-8-16l-9 9z" fill="#0bc"/><path d="M3685 498l9-6l-7-15l-9 7z" fill="#0bc"/><path d="M3676 503l9-5l-7-14l-10 6z" fill="#0bc"/><path d="M3666 507l10-4l-8-13l-9 6z" fill="#1bc"/><path d="M3657 511l9-4l-7-11l-9 4z" fill="#1bc"/><path d="M3648 512l9-1l-7-11l-10 3z" fill="#1bc"/><path d="M3638 513l10-1l-8-9l-9 2z" fill="#0bc"/><path d="M3629 513l9 0l-7-8l-9 1z" fill="#0bc"/><path d="M3620 512l9 1l-7-7l-10-1z" fill="#0bc"/><path d="M3610 509l10 3l-8-7l-9-1z" fill="#0bc"/><path d="M3601 506l9 3l-7-5l-9-2z" fill="#0bb"/><path d="M3592 502l9 4l-7-4l-10-4z" fill="#1bb"/><path d="M3582 496l10 6l-8-4l-9-4z" fill="#2ba"/><path d="M3573 491l9 5l-7-2l-9-5z" fill="#2ba"/><path d="M3564 484l9 7l-7-2l-10-6z" fill="#3c9"/><path d="M3554 477l10 7l-8-1l-9-7z" fill="#3c9"/><path d="M3545 469l9 8l-7-1l-9-7z" fill="#4c8"/><path d="M3536 461l9 8l-7 0l-10-8z" fill="#5c7"/><path d="M3526 452l10 9l-8 0l-9-8z" fill="#7c6"/><path d="M3517 444l9 8l-7 1l-9-8z" fill="#8c5"/><path d="M3508 435l9 9l-7 1l-10-9z" fill="#9c4"/><path d="M3498 427l10 8l-8 1l-9-8z" fill="#bc3"/><path d="M3489 418l9 9l-7 1l-9-9z" fill="#cb2"/><path d="M3480 410l9 8l-7 1l-10-8z" fill="#db2"/><path d="M3470 402l10 8l-8 1l-9-8z" fill="#eb3"/><path d="M3461 395l9 7l-7 1l-9-8z" fill="#eb3"/><path d="M3414 370l10 3l-8-3l-9-4z" fill="#fd3"/><path d="M3405 368l9 2l-7-4l-9-4z" fill="#fd2"/><path d="M3396 366l9 2l-7-6l-10-2z" fill="#ed2"/><path d="M3386 366l10 0l-8-6l-9-1z" fill="#ed2"/><path d="M3377 367l9-1l-7-7l-9-1z" fill="#ed2"/><path d="M3368 369l9-2l-7-9l-10 1z" fill="#ed2"/><path d="M3358 372l10-3l-8-10l-9 2z" fill="#ed2"/><path d="M3349 376l9-4l-7-11l-9 3z" fill="#ed2"/><path d="M3340 382l9-6l-7-12l-10 5z" fill="#ed2"/><path d="M3330 388l10-6l-8-13l-9 5z" fill="#fd2"/><path d="M3321 395l9-7l-7-14l-9 6z" fill="#fd3"/><path d="M3312 404l9-9l-7-15l-10 8z" fill="#fc3"/><path d="M3302 413l10-9l-8-16l-9 8z" fill="#fc3"/><path d="M3879 286l9-11l-7-19l-9 11z" fill="#fb4"/><path d="M3869 298l10-12l-7-19l-10 11z" fill="#eb3"/><path d="M3860 310l9-12l-7-20l-9 11z" fill="#db2"/><path d="M3851 323l9-13l-7-21l-9 13z" fill="#cb2"/><path d="M3841 336l10-13l-7-21l-10 12z" fill="#bc3"/><path d="M3832 349l9-13l-7-22l-9 14z" fill="#ac4"/><path d="M3823 363l9-14l-7-21l-9 13z" fill="#9c4"/><path d="M3813 377l10-14l-7-22l-10 14z" fill="#7c6"/><path d="M3804 390l9-13l-7-22l-9 13z" fill="#6c7"/><path d="M3795 404l9-14l-7-22l-9 14z" fill="#5c8"/><path d="M3785 417l10-13l-7-22l-10 13z" fill="#4c8"/><path d="M3776 430l9-13l-7-22l-9 14z" fill="#3c9"/><path d="M3767 442l9-12l-7-21l-9 12z" fill="#3ca"/><path d="M3757 454l10-12l-7-21l-10 13z" fill="#2ba"/><path d="M3748 465l9-11l-7-20l-9 11z" fill="#1bb"/><path d="M3739 475l9-10l-7-20l-9 11z" fill="#0bb"/><path d="M3729 484l10-9l-7-19l-10 10z" fill="#0bc"/><path d="M3720 493l9-9l-7-18l-9 10z" fill="#0bc"/><path d="M3711 500l9-7l-7-17l-9 8z" fill="#1bc"/><path d="M3701 506l10-6l-7-16l-10 8z" fill="#1ac"/><path d="M3692 512l9-6l-7-14l-9 6z" fill="#1ad"/><path d="M3683 516l9-4l-7-14l-9 5z" fill="#1ad"/><path d="M3673 519l10-3l-7-13l-10 4z" fill="#1ad"/><path d="M3664 521l9-2l-7-12l-9 4z" fill="#1ad"/><path d="M3655 522l9-1l-7-10l-9 1z" fill="#1ad"/><path d="M3645 521l10 1l-7-10l-10 1z" fill="#1ac"/><path d="M3636 520l9 1l-7-8l-9 0z" fill="#1bc"/><path d="M3627 518l9 2l-7-7l-9-1z" fill="#0bc"/><path d="M3617 514l10 4l-7-6l-10-3z" fill="#0bc"/><path d="M3608 510l9 4l-7-5l-9-3z" fill="#0bb"/><path d="M3599 505l9 5l-7-4l-9-4z" fill="#1bb"/><path d="M3589 499l10 6l-7-3l-10-6z" fill="#2ba"/><path d="M3580 492l9 7l-7-3l-9-5z" fill="#3ca"/><path d="M3571 485l9 7l-7-1l-9-7z" fill="#3c9"/><path d="M3561 477l10 8l-7-1l-10-7z" fill="#4c8"/><path d="M3552 469l9 8l-7 0l-9-8z" fill="#5c8"/><path d="M3543 461l9 8l-7 0l-9-8z" fill="#6c7"/><path d="M3533 452l10 9l-7 0l-10-9z" fill="#7c6"/><path d="M3524 444l9 8l-7 0l-9-8z" fill="#9c4"/><path d="M3515 435l9 9l-7 0l-9-9z" fill="#ac3"/><path d="M3505 427l10 8l-7 0l-10-8z" fill="#bc3"/><path d="M3496 419l9 8l-7 0l-9-9z" fill="#cb2"/><path d="M3487 411l9 8l-7-1l-9-8z" fill="#db2"/><path d="M3477 404l10 7l-7-1l-10-8z" fill="#eb3"/><path d="M3468 397l9 7l-7-2l-9-7z" fill="#fb4"/><path d="M3449 386l10 5l-7-2l-10-6z" fill="#fc3"/><path d="M3440 382l9 4l-7-3l-9-5z" fill="#fc3"/><path d="M3431 378l9 4l-7-4l-9-5z" fill="#fc3"/><path d="M3421 376l10 2l-7-5l-10-3z" fill="#fd3"/><path d="M3412 375l9 1l-7-6l-9-2z" fill="#fd3"/><path d="M3403 374l9 1l-7-7l-9-2z" fill="#fd3"/><path d="M3393 375l10-1l-7-8l-10 0z" fill="#fd2"/><path d="M3384 377l9-2l-7-9l-9 1z" fill="#fd2"/><path d="M3375 380l9-3l-7-10l-9 2z" fill="#fd2"/><path d="M3365 385l10-5l-7-11l-10 3z" fill="#fd3"/><path d="M3356 390l9-5l-7-13l-9 4z" fill="#fd3"/><path d="M3347 396l9-6l-7-14l-9 6z" fill="#fd3"/><path d="M3337 404l10-8l-7-14l-10 6z" fill="#fc3"/><path d="M3328 412l9-8l-7-16l-9 7z" fill="#fc3"/><path d="M3319 422l9-10l-7-17l-9 9z" fill="#fc3"/><path d="M3309 432l10-10l-7-18l-10 9z" fill="#fb4"/><path d="M3886 307l9-12l-7-20l-9 11z" fill="#db3"/><path d="M3877 319l9-12l-7-21l-10 12z" fill="#cb2"/><path d="M3867 332l10-13l-8-21l-9 12z" fill="#bb3"/><path d="M3858 345l9-13l-7-22l-9 13z" fill="#ac3"/><path d="M3849 359l9-14l-7-22l-10 13z" fill="#9c4"/><path d="M3839 372l10-13l-8-23l-9 13z" fill="#7c5"/><path d="M3830 386l9-14l-7-23l-9 14z" fill="#6c6"/><path d="M3821 400l9-14l-7-23l-10 14z" fill="#5c7"/><path d="M3811 413l10-13l-8-23l-9 13z" fill="#4c8"/><path d="M3802 426l9-13l-7-23l-9 14z" fill="#3c9"/><path d="M3793 439l9-13l-7-22l-10 13z" fill="#3ca"/><path d="M3783 451l10-12l-8-22l-9 13z" fill="#2ba"/><path d="M3774 463l9-12l-7-21l-9 12z" fill="#1bb"/><path d="M3765 474l9-11l-7-21l-10 12z" fill="#0bb"/><path d="M3755 484l10-10l-8-20l-9 11z" fill="#0bc"/><path d="M3746 493l9-9l-7-19l-9 10z" fill="#0bc"/><path d="M3737 502l9-9l-7-18l-10 9z" fill="#1ac"/><path d="M3727 509l10-7l-8-18l-9 9z" fill="#1ad"/><path d="M3718 516l9-7l-7-16l-9 7z" fill="#1ad"/><path d="M3709 521l9-5l-7-16l-10 6z" fill="#2ad"/><path d="M3699 525l10-4l-8-15l-9 6z" fill="#2ad"/><path d="M3690 528l9-3l-7-13l-9 4z" fill="#2ad"/><path d="M3681 530l9-2l-7-12l-10 3z" fill="#2ad"/><path d="M3671 531l10-1l-8-11l-9 2z" fill="#2ad"/><path d="M3662 531l9 0l-7-10l-9 1z" fill="#1ad"/><path d="M3653 529l9 2l-7-9l-10-1z" fill="#1ad"/><path d="M3643 527l10 2l-8-8l-9-1z" fill="#1ac"/><path d="M3634 524l9 3l-7-7l-9-2z" fill="#0bc"/><path d="M3625 519l9 5l-7-6l-10-4z" fill="#0bc"/><path d="M3615 514l10 5l-8-5l-9-4z" fill="#0bb"/><path d="M3606 508l9 6l-7-4l-9-5z" fill="#1bb"/><path d="M3597 502l9 6l-7-3l-10-6z" fill="#2ba"/><path d="M3587 494l10 8l-8-3l-9-7z" fill="#3ca"/><path d="M3578 487l9 7l-7-2l-9-7z" fill="#3c9"/><path d="M3569 478l9 9l-7-2l-10-8z" fill="#4c8"/><path d="M3559 470l10 8l-8-1l-9-8z" fill="#5c7"/><path d="M3550 462l9 8l-7-1l-9-8z" fill="#6c6"/><path d="M3541 453l9 9l-7-1l-10-9z" fill="#8c5"/><path d="M3531 444l10 9l-8-1l-9-8z" fill="#9c4"/><path d="M3522 436l9 8l-7 0l-9-9z" fill="#ac3"/><path d="M3513 428l9 8l-7-1l-10-8z" fill="#bb3"/><path d="M3503 420l10 8l-8-1l-9-8z" fill="#cb2"/><path d="M3494 413l9 7l-7-1l-9-8z" fill="#db3"/><path d="M3485 406l9 7l-7-2l-10-7z" fill="#eb3"/><path d="M3475 400l10 6l-8-2l-9-7z" fill="#fb4"/><path d="M3466 395l9 5l-7-3l-9-6z" fill="#fb4"/><path d="M3457 391l9 4l-7-4l-10-5z" fill="#fc3"/><path d="M3447 388l10 3l-8-5l-9-4z" fill="#fc3"/><path d="M3438 385l9 3l-7-6l-9-4z" fill="#fc3"/><path d="M3429 384l9 1l-7-7l-10-2z" fill="#fc3"/><path d="M3419 384l10 0l-8-8l-9-1z" fill="#fc3"/><path d="M3410 385l9-1l-7-9l-9-1z" fill="#fd3"/><path d="M3401 387l9-2l-7-11l-10 1z" fill="#fd3"/><path d="M3391 390l10-3l-8-12l-9 2z" fill="#fd3"/><path d="M3382 394l9-4l-7-13l-9 3z" fill="#fc3"/><path d="M3373 399l9-5l-7-14l-10 5z" fill="#fc3"/><path d="M3363 406l10-7l-8-14l-9 5z" fill="#fc3"/><path d="M3354 413l9-7l-7-16l-9 6z" fill="#fc3"/><path d="M3345 422l9-9l-7-17l-10 8z" fill="#fc3"/><path d="M3335 431l10-9l-8-18l-9 8z" fill="#fb4"/><path d="M3326 441l9-10l-7-19l-9 10z" fill="#fb4"/><path d="M3317 452l9-11l-7-19l-10 10z" fill="#eb3"/><path d="M3893 329l9-12l-7-22l-9 12z" fill="#bb3"/><path d="M3884 342l9-13l-7-22l-9 12z" fill="#ac3"/><path d="M3874 355l10-13l-7-23l-10 13z" fill="#9c4"/><path d="M3865 369l9-14l-7-23l-9 13z" fill="#8c5"/><path d="M3856 382l9-13l-7-24l-9 14z" fill="#6c6"/><path d="M3846 396l10-14l-7-23l-10 13z" fill="#5c7"/><path d="M3837 409l9-13l-7-24l-9 14z" fill="#4c8"/><path d="M3828 423l9-14l-7-23l-9 14z" fill="#3c9"/><path d="M3818 436l10-13l-7-23l-10 13z" fill="#3ca"/><path d="M3809 449l9-13l-7-23l-9 13z" fill="#2ba"/><path d="M3800 461l9-12l-7-23l-9 13z" fill="#1bb"/><path d="M3790 473l10-12l-7-22l-10 12z" fill="#0bb"/><path d="M3781 484l9-11l-7-22l-9 12z" fill="#0bc"/><path d="M3772 494l9-10l-7-21l-9 11z" fill="#1bc"/><path d="M3762 503l10-9l-7-20l-10 10z" fill="#1ad"/><path d="M3753 512l9-9l-7-19l-9 9z" fill="#1ad"/><path d="M3744 519l9-7l-7-19l-9 9z" fill="#2ad"/><path d="M3734 526l10-7l-7-17l-10 7z" fill="#2ad"/><path d="M3725 531l9-5l-7-17l-9 7z" fill="#2ad"/><path d="M3716 535l9-4l-7-15l-9 5z" fill="#2ad"/><path d="M3706 538l10-3l-7-14l-10 4z" fill="#2ad"/><path d="M3697 540l9-2l-7-13l-9 3z" fill="#2ad"/><path d="M3688 541l9-1l-7-12l-9 2z" fill="#2ad"/><path d="M3678 541l10 0l-7-11l-10 1z" fill="#2ad"/><path d="M3669 539l9 2l-7-10l-9 0z" fill="#2ad"/><path d="M3660 537l9 2l-7-8l-9-2z" fill="#1ad"/><path d="M3650 533l10 4l-7-8l-10-2z" fill="#1ad"/><path d="M3641 529l9 4l-7-6l-9-3z" fill="#1bc"/><path d="M3632 524l9 5l-7-5l-9-5z" fill="#0bc"/><path d="M3622 518l10 6l-7-5l-10-5z" fill="#0bb"/><path d="M3613 511l9 7l-7-4l-9-6z" fill="#1bb"/><path d="M3604 504l9 7l-7-3l-9-6z" fill="#2ba"/><path d="M3594 497l10 7l-7-2l-10-8z" fill="#3ca"/><path d="M3585 488l9 9l-7-3l-9-7z" fill="#3c9"/><path d="M3576 480l9 8l-7-1l-9-9z" fill="#4c8"/><path d="M3566 471l10 9l-7-2l-10-8z" fill="#5c7"/><path d="M3557 463l9 8l-7-1l-9-8z" fill="#6c6"/><path d="M3548 454l9 9l-7-1l-9-9z" fill="#8c5"/><path d="M3538 446l10 8l-7-1l-10-9z" fill="#9c4"/><path d="M3529 438l9 8l-7-2l-9-8z" fill="#ac3"/><path d="M3520 430l9 8l-7-2l-9-8z" fill="#bb3"/><path d="M3510 423l10 7l-7-2l-10-8z" fill="#cb2"/><path d="M3501 416l9 7l-7-3l-9-7z" fill="#db3"/><path d="M3492 410l9 6l-7-3l-9-7z" fill="#eb3"/><path d="M3482 405l10 5l-7-4l-10-6z" fill="#eb3"/><path d="M3473 401l9 4l-7-5l-9-5z" fill="#fb4"/><path d="M3464 398l9 3l-7-6l-9-4z" fill="#fb3"/><path d="M3454 395l10 3l-7-7l-10-3z" fill="#fc3"/><path d="M3445 394l9 1l-7-7l-9-3z" fill="#fc3"/><path d="M3436 394l9 0l-7-9l-9-1z" fill="#fc3"/><path d="M3426 394l10 0l-7-10l-10 0z" fill="#fc3"/><path d="M3417 396l9-2l-7-10l-9 1z" fill="#fc3"/><path d="M3408 400l9-4l-7-11l-9 2z" fill="#fc3"/><path d="M3398 404l10-4l-7-13l-10 3z" fill="#fc3"/><path d="M3389 409l9-5l-7-14l-9 4z" fill="#fc3"/><path d="M3380 416l9-7l-7-15l-9 5z" fill="#fc3"/><path d="M3370 423l10-7l-7-17l-10 7z" fill="#fb3"/><path d="M3361 431l9-8l-7-17l-9 7z" fill="#fb4"/><path d="M3352 441l9-10l-7-18l-9 9z" fill="#eb3"/><path d="M3342 451l10-10l-7-19l-10 9z" fill="#eb3"/><path d="M3333 462l9-11l-7-20l-9 10z" fill="#db3"/><path d="M3324 474l9-12l-7-21l-9 11z" fill="#cb2"/></g>
<path d="M1439.2 307.1L1661.9 408.9L1951.2 330.5M1439.2 307.1L1439.2 82.8M1661.9 408.9L1668.3 411.8M1661.9 408.9L1655.1 410.7M1734.2 389.3L1740.6 392.2M1606.2 383.4L1599.5 385.3M1806.6 369.7L1812.9 372.6M1550.6 358L1543.8 359.8M1878.9 350.1L1885.2 353M1494.9 332.6L1488.1 334.4M1951.2 330.5L1957.6 333.4M1439.2 307.1L1432.4 308.9M1439.2 307.1L1432.8 304.2M1439.2 254.7L1432.8 251.8M1439.2 202.3L1432.8 199.4M1439.2 149.9L1432.8 147M1439.2 97.5L1432.8 94.6" fill="none" stroke="#303030" stroke-width="1.15"/>
<text x="1422" y="313.6" text-anchor="end" style="font-family:'Liberation Sans',Arial,sans-serif;font-size:27.9px" fill="#262626">-4</text>
<text x="1422" y="261.2" text-anchor="end" style="font-family:'Liberation Sans',Arial,sans-serif;font-size:27.9px" fill="#262626">-2</text>
<text x="1422" y="208.8" text-anchor="end" style="font-family:'Liberation Sans',Arial,sans-serif;font-size:27.9px" fill="#262626">0</text>
<text x="1422" y="156.4" text-anchor="end" style="font-family:'Liberation Sans',Arial,sans-serif;font-size:27.9px" fill="#262626">2</text>
<text x="1422" y="104" text-anchor="end" style="font-family:'Liberation Sans',Arial,sans-serif;font-size:27.9px" fill="#262626">4</text>
<text x="1676.6" y="444.9" style="font-family:'Liberation Sans',Arial,sans-serif;font-size:27.9px" fill="#262626">0</text>
<text x="1645.2" y="443.1" text-anchor="end" style="font-family:'Liberation Sans',Arial,sans-serif;font-size:27.9px" fill="#262626">0</text>
<text x="1748.9" y="425.3" style="font-family:'Liberation Sans',Arial,sans-serif;font-size:27.9px" fill="#262626">pi/2</text>
<text x="1589.5" y="417.6" text-anchor="end" style="font-family:'Liberation Sans',Arial,sans-serif;font-size:27.9px" fill="#262626">pi/2</text>
<text x="1821.2" y="405.7" style="font-family:'Liberation Sans',Arial,sans-serif;font-size:27.9px" fill="#262626">pi</text>
<text x="1533.9" y="392.2" text-anchor="end" style="font-family:'Liberation Sans',Arial,sans-serif;font-size:27.9px" fill="#262626">pi</text>
<text x="1893.5" y="386.1" style="font-family:'Liberation Sans',Arial,sans-serif;font-size:27.9px" fill="#262626">3pi/2</text>
<text x="1478.2" y="366.7" text-anchor="end" style="font-family:'Liberation Sans',Arial,sans-serif;font-size:27.9px" fill="#262626">3pi/2</text>
<text x="1965.9" y="366.5" style="font-family:'Liberation Sans',Arial,sans-serif;font-size:27.9px" fill="#262626">2pi</text>
<text x="1422.5" y="341.3" text-anchor="end" style="font-family:'Liberation Sans',Arial,sans-serif;font-size:27.9px" fill="#262626">2pi</text>
<text transform="translate(1823.1 458.7) rotate(-12.5)" text-anchor="middle" style="font-family:'Liberation Serif','Times New Roman',serif;font-size:29.3px" fill="#000" stroke="#000" stroke-width=".2">2<tspan font-style="italic">α</tspan><tspan dy="5.9" font-size="18.2">1</tspan><tspan dy="-5.9">/rad</tspan></text>
<text transform="translate(1468.9 423.4) rotate(35)" text-anchor="middle" style="font-family:'Liberation Serif','Times New Roman',serif;font-size:27.8px" fill="#000" stroke="#000" stroke-width=".2">2<tspan font-style="italic">α</tspan><tspan dy="5.9" font-size="17.3">2</tspan><tspan dy="-5.9" dx="3">/rad</tspan></text>
<text transform="translate(1362.4 206.4) rotate(-90)" text-anchor="middle" style="font-family:'Liberation Serif','Times New Roman',serif;font-size:26.3px" fill="#000" stroke="#000" stroke-width=".2"><tspan font-style="italic">T</tspan><tspan font-style="italic" dy="5.3" font-size="16.3">e</tspan><tspan font-size="16.3">03</tspan><tspan dy="-5.3" dx="1.5"> / (Nm)</tspan></text>
<text x="1707.3" y="580" text-anchor="middle" style="font-family:'Liberation Serif','Times New Roman',serif;font-size:51px" fill="#000" stroke="#000" stroke-width=".5">(c)</text>
</g>
</svg>
</body></html>
